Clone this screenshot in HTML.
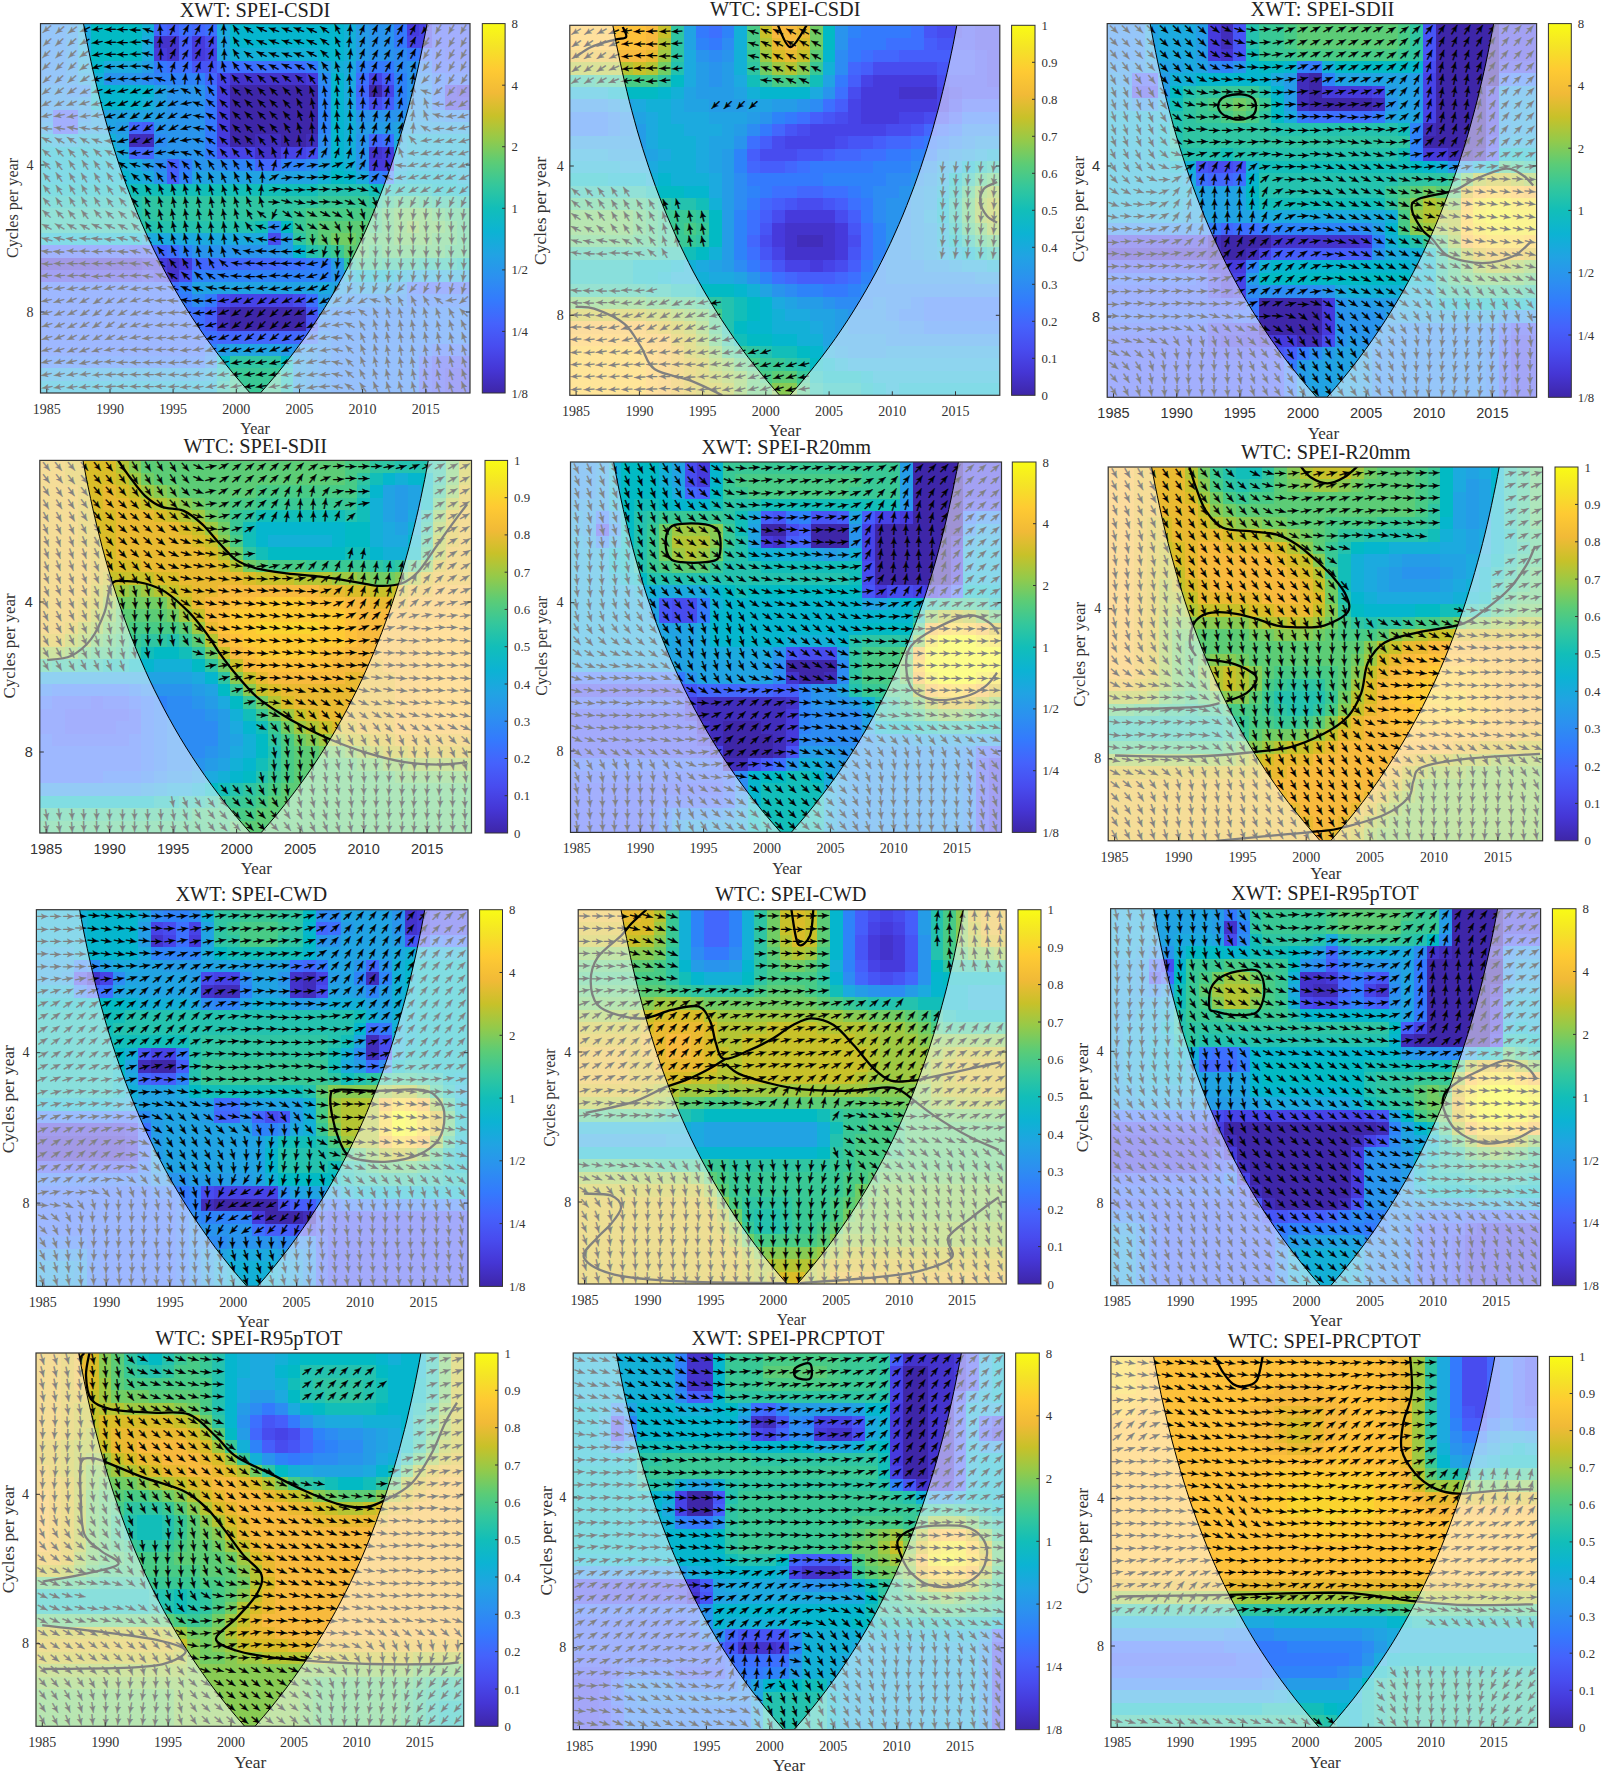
<!DOCTYPE html>
<html><head><meta charset="utf-8"><title>Wavelet coherence panels</title><style>
html,body{margin:0;padding:0;background:#fff}
svg text{font-family:"Liberation Serif",serif;fill:#333}
.a text{font-family:"DejaVu Sans",sans-serif;font-size:15.3px;fill:#000;stroke:#000;stroke-width:.38px}
.ct{fill:none;stroke:#000;stroke-width:2.3;stroke-linejoin:round}
.cl text{font-size:12.8px}
.xl text{font-size:14px;text-anchor:middle}
.xs text{font-family:"Liberation Sans",sans-serif;font-size:14.5px;text-anchor:middle}
.yl text{font-size:14px}
.ys text{font-family:"Liberation Sans",sans-serif;font-size:14.5px}
.ti{font-size:20.3px;text-anchor:middle;fill:#222}
.xa{text-anchor:middle}
.ya{text-anchor:middle}
</style></head><body>
<svg width="1601" height="1775" viewBox="0 0 1601 1775" style="display:block">
<defs><linearGradient id="cb" x1="0" y1="0" x2="0" y2="1"><stop offset="0" stop-color="#f9fb15"/><stop offset="0.0625" stop-color="#f5e327"/><stop offset="0.125" stop-color="#feca33"/><stop offset="0.1875" stop-color="#f1ba37"/><stop offset="0.25" stop-color="#c8c129"/><stop offset="0.3125" stop-color="#94ca4a"/><stop offset="0.375" stop-color="#5ccc76"/><stop offset="0.4375" stop-color="#34c79c"/><stop offset="0.5" stop-color="#12beb9"/><stop offset="0.5625" stop-color="#0cb3d3"/><stop offset="0.625" stop-color="#21a3e3"/><stop offset="0.6875" stop-color="#2c90f0"/><stop offset="0.75" stop-color="#347afd"/><stop offset="0.8125" stop-color="#4562fc"/><stop offset="0.875" stop-color="#484cef"/><stop offset="0.9375" stop-color="#4536d5"/><stop offset="1" stop-color="#3e26a8"/></linearGradient></defs>
<g transform="translate(40.5,23.6)">
<clipPath id="c0"><rect width="429.5" height="369.4"/></clipPath>
<g clip-path="url(#c0)">
<g transform="scale(12.6324,12.3133)" shape-rendering="crispEdges"><path fill="#3e26a8" d="M15 5h7v1h-7zM26 5h1v1h-1zM15 6h7v1h-7zM15 7h7v1h-7zM15 8h7v1h-7zM15 9h2v1h-2zM19 9h2v1h-2zM15 23h6v1h-6zM15 24h6v1h-6z"/><path fill="#412dbb" d="M7 9h2v1h-2zM17 9h2v1h-2zM21 9h1v1h-1zM14 23h1v1h-1zM14 24h1v1h-1z"/><path fill="#4433cc" d="M9 1h2v1h-2zM10 2h1v1h-1zM15 4h6v1h-6zM17 10h2v1h-2zM26 10h1v1h-1zM0 19h8v1h-8zM10 19h1v1h-1zM10 20h1v1h-1z"/><path fill="#463adc" d="M29 0h1v1h-1zM12 1h1v1h-1zM9 2h1v1h-1zM12 2h1v1h-1zM21 4h1v1h-1zM14 5h1v1h-1zM33 5h1v1h-1zM14 6h1v1h-1zM14 7h1v1h-1zM14 8h1v1h-1zM14 9h1v1h-1zM27 10h1v1h-1zM26 11h2v1h-2zM8 19h2v1h-2zM11 19h1v1h-1z"/><path fill="#4743e7" d="M30 0h1v1h-1zM29 1h2v1h-2zM13 2h1v1h-1zM14 4h1v1h-1zM26 4h1v1h-1zM27 5h1v1h-1zM32 5h1v1h-1zM32 6h2v1h-2zM15 10h2v1h-2zM19 10h2v1h-2zM0 20h8v1h-8zM9 20h1v1h-1zM15 22h5v1h-5z"/><path fill="#484cef" d="M13 1h1v1h-1zM26 6h1v1h-1zM14 10h1v1h-1zM21 10h1v1h-1zM18 17h1v1h-1zM8 20h1v1h-1zM11 20h1v1h-1zM14 22h1v1h-1zM20 22h1v1h-1zM32 28h2v1h-2zM32 29h2v1h-2z"/><path fill="#4755f6" d="M12 3h2v1h-2zM21 23h1v1h-1zM21 24h1v1h-1zM31 27h3v1h-3zM31 28h1v1h-1zM31 29h1v1h-1z"/><path fill="#465efb" d="M10 0h1v1h-1zM31 0h3v1h-3zM11 1h1v1h-1zM31 1h3v1h-3zM11 2h1v1h-1zM32 2h2v1h-2zM27 4h1v1h-1zM27 6h1v1h-1zM1 7h2v1h-2zM1 8h2v1h-2zM8 8h1v1h-1zM10 11h1v1h-1zM10 12h1v1h-1zM7 18h2v1h-2zM13 23h1v1h-1zM13 24h1v1h-1zM30 28h1v1h-1zM30 29h1v1h-1z"/><path fill="#4367fd" d="M9 0h1v1h-1zM12 0h1v1h-1zM31 2h1v1h-1zM31 3h3v1h-3zM13 4h1v1h-1zM25 5h1v1h-1zM7 8h1v1h-1zM26 9h1v1h-1zM7 10h2v1h-2zM17 11h2v1h-2zM0 18h7v1h-7zM9 18h1v1h-1zM12 19h7v1h-7zM30 21h4v1h-4zM14 25h7v1h-7zM30 27h1v1h-1z"/><path fill="#3d70ff" d="M11 0h1v1h-1zM13 0h1v1h-1zM30 2h1v1h-1zM10 3h2v1h-2zM14 3h7v1h-7zM25 4h1v1h-1zM32 4h2v1h-2zM25 6h1v1h-1zM27 9h1v1h-1zM10 18h1v1h-1zM19 19h2v1h-2zM0 21h11v1h-11zM29 21h1v1h-1zM0 22h11v1h-11zM21 22h1v1h-1zM0 23h13v1h-13zM0 24h13v1h-13zM0 25h14v1h-14zM21 25h1v1h-1zM0 26h13v1h-13zM31 26h3v1h-3z"/><path fill="#347afd" d="M28 0h1v1h-1zM28 1h1v1h-1zM29 2h1v1h-1zM9 3h1v1h-1zM21 3h1v1h-1zM26 3h2v1h-2zM31 4h1v1h-1zM13 5h1v1h-1zM31 5h1v1h-1zM13 6h1v1h-1zM31 6h1v1h-1zM13 7h1v1h-1zM13 8h1v1h-1zM13 9h1v1h-1zM13 10h1v1h-1zM11 11h1v1h-1zM27 12h1v1h-1zM21 19h2v1h-2zM11 22h1v1h-1zM13 22h1v1h-1zM29 22h5v1h-5zM30 26h1v1h-1zM0 27h13v1h-13z"/><path fill="#2e83f9" d="M25 3h1v1h-1zM30 3h1v1h-1zM9 4h4v1h-4zM28 4h1v1h-1zM22 5h1v1h-1zM28 5h1v1h-1zM22 6h1v1h-1zM28 6h1v1h-1zM22 7h1v1h-1zM22 8h1v1h-1zM15 11h2v1h-2zM19 11h2v1h-2zM11 12h1v1h-1zM26 12h1v1h-1zM11 18h1v1h-1zM12 20h11v1h-11zM11 21h1v1h-1zM23 23h11v1h-11zM22 24h12v1h-12zM23 25h11v1h-11zM13 26h1v1h-1zM23 26h7v1h-7zM23 27h7v1h-7zM23 28h7v1h-7zM23 29h7v1h-7z"/><path fill="#2d8cf3" d="M0 0h2v1h-2zM0 1h2v1h-2zM0 2h2v1h-2zM28 2h1v1h-1zM0 3h2v1h-2zM28 3h1v1h-1zM0 4h2v1h-2zM8 4h1v1h-1zM22 4h1v1h-1zM30 4h1v1h-1zM2 5h2v1h-2zM32 7h2v1h-2zM9 9h1v1h-1zM22 9h1v1h-1zM9 11h1v1h-1zM14 11h1v1h-1zM21 11h1v1h-1zM18 16h1v1h-1zM12 22h1v1h-1zM24 22h5v1h-5zM22 23h1v1h-1zM22 25h1v1h-1zM22 26h1v1h-1zM13 27h1v1h-1zM22 27h1v1h-1zM22 28h1v1h-1zM22 29h1v1h-1z"/><path fill="#2994ed" d="M2 0h1v1h-1zM26 0h2v1h-2zM2 1h1v1h-1zM26 1h2v1h-2zM2 2h1v1h-1zM26 2h2v1h-2zM2 3h1v1h-1zM29 3h1v1h-1zM2 4h1v1h-1zM5 4h3v1h-3zM29 4h1v1h-1zM0 5h2v1h-2zM10 5h3v1h-3zM29 5h2v1h-2zM0 6h3v1h-3zM10 6h3v1h-3zM29 6h2v1h-2zM0 7h1v1h-1zM3 7h1v1h-1zM10 7h3v1h-3zM25 7h4v1h-4zM31 7h1v1h-1zM9 8h4v1h-4zM10 9h3v1h-3zM25 9h1v1h-1zM9 10h4v1h-4zM22 10h1v1h-1zM25 10h1v1h-1zM12 11h2v1h-2zM25 11h1v1h-1zM9 12h1v1h-1zM12 18h7v1h-7zM23 20h1v1h-1zM28 21h1v1h-1zM23 22h1v1h-1zM20 26h2v1h-2zM21 27h1v1h-1zM21 28h1v1h-1zM21 29h1v1h-1z"/><path fill="#259ce7" d="M25 0h1v1h-1zM25 1h1v1h-1zM25 2h1v1h-1zM8 3h1v1h-1zM22 3h1v1h-1zM3 6h1v1h-1zM9 7h1v1h-1zM29 7h2v1h-2zM0 8h1v1h-1zM3 8h1v1h-1zM6 8h1v1h-1zM25 8h3v1h-3zM8 11h1v1h-1zM19 17h1v1h-1zM19 18h1v1h-1zM23 19h1v1h-1zM24 21h1v1h-1zM22 22h1v1h-1zM14 26h1v1h-1zM19 26h1v1h-1zM20 27h1v1h-1zM20 28h1v1h-1zM20 29h1v1h-1z"/><path fill="#21a3e3" d="M14 1h1v1h-1zM14 2h1v1h-1zM3 4h1v1h-1zM9 5h1v1h-1zM9 6h1v1h-1zM4 7h5v1h-5zM4 8h2v1h-2zM28 8h6v1h-6zM6 9h1v1h-1zM22 11h1v1h-1zM12 12h10v1h-10zM12 21h10v1h-10zM23 21h1v1h-1zM25 21h3v1h-3zM15 26h4v1h-4zM0 28h13v1h-13z"/><path fill="#1caadf" d="M3 0h1v1h-1zM14 0h1v1h-1zM3 1h1v1h-1zM8 1h1v1h-1zM3 2h1v1h-1zM8 2h1v1h-1zM3 3h1v1h-1zM5 3h3v1h-3zM24 3h1v1h-1zM24 4h1v1h-1zM24 5h1v1h-1zM24 6h1v1h-1zM1 9h2v1h-2zM28 9h1v1h-1zM6 10h1v1h-1zM28 10h1v1h-1zM7 11h1v1h-1zM28 11h1v1h-1zM8 12h1v1h-1zM25 12h1v1h-1zM8 17h10v1h-10zM29 20h5v1h-5zM22 21h1v1h-1zM13 28h1v1h-1z"/><path fill="#13b0d7" d="M8 0h1v1h-1zM24 0h1v1h-1zM24 1h1v1h-1zM15 2h7v1h-7zM24 2h1v1h-1zM23 3h1v1h-1zM4 4h1v1h-1zM8 6h1v1h-1zM24 7h1v1h-1zM24 8h1v1h-1zM0 9h1v1h-1zM3 9h3v1h-3zM24 9h1v1h-1zM29 9h5v1h-5zM24 10h1v1h-1zM29 10h5v1h-5zM6 11h1v1h-1zM24 11h1v1h-1zM29 11h5v1h-5zM7 12h1v1h-1zM22 12h1v1h-1zM28 12h1v1h-1zM33 12h1v1h-1zM24 20h1v1h-1zM28 20h1v1h-1zM0 29h14v1h-14z"/><path fill="#05b6ce" d="M15 0h9v1h-9zM15 1h9v1h-9zM22 2h2v1h-2zM4 3h1v1h-1zM23 4h1v1h-1zM4 5h5v1h-5zM23 5h1v1h-1zM4 6h4v1h-4zM23 6h1v1h-1zM23 7h1v1h-1zM23 8h1v1h-1zM23 9h1v1h-1zM0 10h6v1h-6zM23 10h1v1h-1zM0 11h6v1h-6zM23 11h1v1h-1zM0 12h7v1h-7zM24 12h1v1h-1zM29 12h4v1h-4zM33 13h1v1h-1zM0 17h8v1h-8zM20 18h1v1h-1zM25 20h3v1h-3z"/><path fill="#02bac4" d="M4 0h4v1h-4zM4 1h4v1h-4zM4 2h4v1h-4zM23 12h1v1h-1zM0 13h7v1h-7zM31 13h2v1h-2zM19 16h1v1h-1zM14 27h1v1h-1zM19 27h1v1h-1z"/><path fill="#12beb9" d="M7 13h15v1h-15zM26 13h5v1h-5zM0 14h7v1h-7zM17 16h1v1h-1zM33 19h1v1h-1zM14 28h1v1h-1zM19 28h1v1h-1zM19 29h1v1h-1z"/><path fill="#24c2ae" d="M22 13h4v1h-4zM7 14h1v1h-1zM33 14h1v1h-1zM0 15h8v1h-8zM0 16h17v1h-17zM21 18h1v1h-1zM30 19h3v1h-3zM14 29h1v1h-1z"/><path fill="#2fc5a2" d="M8 14h14v1h-14zM26 14h1v1h-1zM31 14h2v1h-2zM8 15h12v1h-12zM20 17h1v1h-1zM22 18h1v1h-1zM24 19h1v1h-1zM27 19h3v1h-3zM15 27h4v1h-4z"/><path fill="#39c895" d="M22 14h4v1h-4zM27 14h1v1h-1zM30 14h1v1h-1zM20 15h1v1h-1zM20 16h1v1h-1zM23 18h1v1h-1zM25 19h2v1h-2zM15 28h4v1h-4zM15 29h4v1h-4z"/><path fill="#48cb86" d="M28 14h2v1h-2zM21 15h6v1h-6zM32 15h2v1h-2zM21 16h1v1h-1zM26 16h1v1h-1zM33 16h1v1h-1zM21 17h1v1h-1zM33 17h1v1h-1zM26 18h1v1h-1zM32 18h2v1h-2z"/><path fill="#5ccc76" d="M27 15h1v1h-1zM31 15h1v1h-1zM22 16h4v1h-4zM27 16h1v1h-1zM32 16h1v1h-1zM22 17h1v1h-1zM25 17h3v1h-3zM31 17h2v1h-2zM24 18h2v1h-2zM27 18h5v1h-5z"/><path fill="#71cd64" d="M28 15h3v1h-3zM28 16h1v1h-1zM30 16h2v1h-2zM23 17h2v1h-2zM28 17h3v1h-3z"/><path fill="#88cb53" d="M29 16h1v1h-1z"/></g>
<g class="a"><text x="8 21 34 48 62 76 88 101 115 125 134 147 159 173 188 203 216 229 241 254 266 279 292 304 314 324 336 349 361 374 385 397 410 422" y="-2 -1 -1 -1 0 1 1 2 4 12 14 14 14 14 12 9 6 4 4 4 4 5 6 9 13 14 14 14 14 14 -2 -2 -2 -2" rotate="139 139 143 154 171 179 180 183 198 266 294 298 296 290 271 238 215 205 201 201 202 205 217 243 274 292 298 299 299 297 129 121 121 121">➛➛➛➛➛➛➛➛➛➛➛➛➛➛➛➛➛➛➛➛➛➛➛➛➛➛➛➛➛➛➛➛➛➛</text><text x="8 20 33 47 62 76 88 101 114 124 134 146 159 173 188 203 216 229 241 254 266 279 292 304 313 324 336 348 361 374 385 397 410 422" y="11 11 11 11 13 14 14 14 15 25 26 26 26 26 25 21 18 17 16 16 16 17 18 22 25 26 26 26 26 26 11 11 11 11" rotate="136 136 138 148 170 179 180 181 193 274 298 300 299 293 274 239 214 204 201 200 201 205 217 245 277 294 299 300 300 298 123 120 120 120">➛➛➛➛➛➛➛➛➛➛➛➛➛➛➛➛➛➛➛➛➛➛➛➛➛➛➛➛➛➛➛➛➛➛</text><text x="7 20 33 46 62 76 88 101 114 125 134 146 159 173 188 203 216 229 241 254 266 279 292 304 314 324 336 348 361 374 385 397 410 422" y="23 23 23 23 25 26 26 26 27 37 38 39 38 38 37 33 31 29 29 29 29 29 31 35 37 38 39 39 39 38 23 23 23 23" rotate="136 135 136 144 167 179 180 181 192 271 297 300 298 291 270 237 217 206 202 201 202 207 222 249 276 293 299 300 300 298 122 120 120 120">➛➛➛➛➛➛➛➛➛➛➛➛➛➛➛➛➛➛➛➛➛➛➛➛➛➛➛➛➛➛➛➛➛➛</text><text x="7 20 33 46 61 75 88 101 114 126 135 147 160 174 189 203 216 229 241 254 267 279 292 303 314 325 336 349 361 375 385 397 410 422" y="35 35 35 36 37 38 38 38 40 48 51 51 51 50 48 45 44 43 42 41 42 43 45 48 50 50 51 51 51 51 35 35 35 35" rotate="136 135 136 144 163 176 179 181 192 252 290 295 293 282 257 234 221 213 208 205 208 217 234 254 273 287 295 298 298 293 124 121 120 121">➛➛➛➛➛➛➛➛➛➛➛➛➛➛➛➛➛➛➛➛➛➛➛➛➛➛➛➛➛➛➛➛➛➛</text><text x="8 20 33 47 61 75 88 100 113 127 139 149 162 176 190 203 216 229 242 254 267 279 291 303 314 326 337 350 362 376 386 397 410 423" y="48 48 48 48 49 50 50 50 50 53 60 62 62 61 58 57 56 56 56 55 56 58 59 61 62 62 63 63 63 62 48 48 48 48" rotate="138 137 139 147 161 171 175 175 178 198 253 275 275 261 241 229 224 222 219 218 222 234 249 260 269 279 287 291 291 281 134 123 122 123">➛➛➛➛➛➛➛➛➛➛➛➛➛➛➛➛➛➛➛➛➛➛➛➛➛➛➛➛➛➛➛➛➛➛</text><text x="8 21 34 48 61 74 87 99 111 124 138 153 165 178 191 204 216 229 241 254 266 278 290 302 315 326 338 350 363 377 393 399 411 423" y="60 60 60 61 61 62 61 61 61 61 62 66 70 70 69 69 69 69 69 69 70 72 73 73 74 74 75 75 75 74 66 60 60 60" rotate="142 143 146 153 161 166 164 159 155 158 172 208 234 235 230 226 225 225 225 227 235 249 260 264 267 274 281 284 284 276 201 137 130 129">➛➛➛➛➛➛➛➛➛➛➛➛➛➛➛➛➛➛➛➛➛➛➛➛➛➛➛➛➛➛➛➛➛➛</text><text x="9 22 35 48 61 74 86 98 110 123 136 151 165 178 191 204 216 229 241 254 266 278 290 302 315 327 338 350 363 376 392 404 414 425" y="73 73 73 73 74 74 73 73 73 73 73 74 78 80 81 81 81 81 81 82 83 85 86 86 86 86 87 87 87 87 84 76 73 73" rotate="151 152 156 160 164 162 155 149 147 147 153 170 201 221 225 225 225 225 225 229 242 258 264 265 266 273 282 286 285 278 252 182 153 145">➛➛➛➛➛➛➛➛➛➛➛➛➛➛➛➛➛➛➛➛➛➛➛➛➛➛➛➛➛➛➛➛➛➛</text><text x="11 24 37 50 62 74 85 97 110 122 135 150 165 178 191 204 216 229 241 254 266 277 290 302 315 326 338 350 363 376 392 405 416 427" y="86 86 87 87 86 86 85 85 85 85 85 86 89 92 93 93 93 93 93 94 96 98 98 98 98 99 100 100 100 99 96 89 87 86" rotate="166 168 170 172 169 161 152 147 145 145 149 161 189 214 223 225 225 225 226 231 248 262 265 265 266 275 287 289 288 280 249 196 171 161">➛➛➛➛➛➛➛➛➛➛➛➛➛➛➛➛➛➛➛➛➛➛➛➛➛➛➛➛➛➛➛➛➛➛</text><text x="13 26 39 51 63 74 86 97 110 123 136 150 165 178 191 204 216 229 241 254 265 277 289 302 315 326 337 350 363 377 393 404 416 428" y="101 101 101 101 100 99 98 97 97 97 97 98 101 104 105 106 106 106 106 107 109 110 110 110 111 111 112 112 112 111 104 100 99 98" rotate="187 189 191 189 180 167 154 148 146 146 150 163 188 212 223 225 226 226 228 237 253 264 265 265 267 278 289 290 289 275 211 177 168 164">➛➛➛➛➛➛➛➛➛➛➛➛➛➛➛➛➛➛➛➛➛➛➛➛➛➛➛➛➛➛➛➛➛➛</text><text x="14 27 39 52 64 76 87 98 110 123 137 151 165 178 191 204 216 229 241 253 264 276 289 302 314 326 337 350 363 380 391 403 415 428" y="115 116 116 116 115 113 111 110 110 110 110 111 114 117 118 118 118 119 119 121 123 123 123 123 123 124 124 124 124 118 111 111 111 111" rotate="207 211 213 211 201 183 165 154 150 151 157 173 196 215 224 227 228 230 235 247 265 272 270 269 272 281 288 289 284 228 170 164 163 162">➛➛➛➛➛➛➛➛➛➛➛➛➛➛➛➛➛➛➛➛➛➛➛➛➛➛➛➛➛➛➛➛➛➛</text><text x="14 27 39 52 65 77 89 100 112 125 139 153 166 178 191 203 216 228 240 250 260 272 285 299 312 325 338 351 367 378 390 402 415 427" y="130 130 131 131 130 128 125 124 123 123 124 127 129 130 131 131 131 132 133 136 137 137 137 137 137 137 136 136 133 124 123 123 123 123" rotate="221 226 228 228 223 209 188 171 165 167 178 197 214 224 229 231 233 238 250 275 300 306 300 291 286 285 285 281 249 171 161 160 161 160">➛➛➛➛➛➛➛➛➛➛➛➛➛➛➛➛➛➛➛➛➛➛➛➛➛➛➛➛➛➛➛➛➛➛</text><text x="14 26 39 52 64 77 90 102 115 128 140 153 165 178 191 203 216 227 237 244 254 267 279 293 308 323 338 353 367 377 389 402 415 427" y="143 144 144 144 144 143 141 139 139 140 141 143 144 144 144 144 145 146 149 149 148 148 148 148 149 149 149 147 138 135 135 135 135 135" rotate="228 233 236 237 235 227 214 200 196 203 217 228 235 237 237 238 241 252 286 326 343 347 345 338 322 302 285 257 187 163 160 160 160 158">➛➛➛➛➛➛➛➛➛➛➛➛➛➛➛➛➛➛➛➛➛➛➛➛➛➛➛➛➛➛➛➛➛➛</text><text x="14 26 39 51 64 77 90 103 115 127 140 152 165 177 190 203 215 226 231 241 253 266 278 291 304 318 334 355 365 377 389 402 414 427" y="156 156 157 157 157 156 155 154 155 156 157 158 158 158 158 157 158 160 161 160 159 159 159 159 159 160 162 152 148 147 147 147 147 147" rotate="232 236 239 239 239 235 227 221 224 235 244 248 249 248 246 245 248 270 327 352 356 356 355 355 352 342 312 203 167 160 160 159 157 154">➛➛➛➛➛➛➛➛➛➛➛➛➛➛➛➛➛➛➛➛➛➛➛➛➛➛➛➛➛➛➛➛➛➛</text><text x="14 26 39 51 64 77 90 102 115 127 139 151 164 177 190 202 215 225 229 240 253 266 278 291 303 315 327 346 362 376 388 401 413 425" y="168 169 169 169 169 169 168 168 169 170 171 171 171 171 171 170 170 173 172 171 171 171 171 171 170 169 166 159 159 159 159 159 159 159" rotate="232 237 239 240 239 236 231 230 238 249 255 257 256 254 252 249 250 275 348 3 1 356 356 358 5 15 40 117 144 149 150 149 145 140">➛➛➛➛➛➛➛➛➛➛➛➛➛➛➛➛➛➛➛➛➛➛➛➛➛➛➛➛➛➛➛➛➛➛</text><text x="14 26 39 51 64 77 90 102 114 126 139 151 164 177 189 202 215 227 227 239 252 265 278 290 302 314 328 343 358 371 384 396 409 421" y="180 181 181 181 181 181 180 181 182 183 184 184 184 184 183 183 182 183 183 181 182 183 183 183 181 178 175 172 171 171 171 171 171 171" rotate="229 235 238 239 238 233 229 233 244 254 259 260 259 258 256 252 246 253 4 16 14 7 1 7 22 44 67 93 112 118 117 114 113 114">➛➛➛➛➛➛➛➛➛➛➛➛➛➛➛➛➛➛➛➛➛➛➛➛➛➛➛➛➛➛➛➛➛➛</text><text x="14 27 39 52 65 77 90 102 114 126 138 151 164 176 189 202 216 229 232 239 251 264 277 289 302 316 329 342 356 369 381 394 406 419" y="191 192 193 193 192 192 192 193 194 196 196 196 196 196 196 195 194 191 183 191 192 192 192 192 188 186 186 185 184 184 184 184 184 184" rotate="222 227 231 232 229 224 222 230 245 255 259 260 260 260 260 254 241 219 115 35 29 29 27 30 56 73 80 89 97 98 95 94 95 98">➛➛➛➛➛➛➛➛➛➛➛➛➛➛➛➛➛➛➛➛➛➛➛➛➛➛➛➛➛➛➛➛➛➛</text><text x="14 27 39 52 64 77 90 103 115 126 139 151 164 176 189 202 216 228 239 248 251 264 276 290 304 317 330 343 356 368 381 393 406 419" y="202 202 202 202 201 201 202 204 206 208 208 208 209 209 209 208 205 201 198 196 203 204 204 200 198 197 197 197 197 197 197 197 197 197" rotate="209 211 210 208 205 204 209 222 240 253 258 259 261 264 263 256 232 200 175 143 42 31 33 60 84 87 87 89 93 92 91 90 91 93">➛➛➛➛➛➛➛➛➛➛➛➛➛➛➛➛➛➛➛➛➛➛➛➛➛➛➛➛➛➛➛➛➛➛</text><text x="14 26 38 51 63 76 89 102 115 127 139 151 164 176 189 202 216 228 240 252 265 267 277 291 305 317 330 343 355 368 381 393 406 419" y="213 212 212 211 211 212 212 214 217 219 220 220 221 221 221 220 215 212 211 211 210 210 213 210 209 209 209 209 209 209 209 209 209 209" rotate="196 194 190 186 185 187 194 208 229 246 254 257 262 265 264 250 212 189 179 178 174 87 60 83 90 90 89 90 92 91 90 90 90 92">➛➛➛➛➛➛➛➛➛➛➛➛➛➛➛➛➛➛➛➛➛➛➛➛➛➛➛➛➛➛➛➛➛➛</text><text x="13 25 38 50 63 76 89 102 115 128 140 152 164 176 189 204 215 227 240 252 265 277 281 292 305 317 330 343 355 368 381 393 406 419" y="224 224 223 223 223 223 224 225 227 230 231 232 233 233 233 228 224 223 223 223 223 222 221 222 222 222 222 222 221 221 222 222 222 221" rotate="187 185 182 181 180 181 185 195 214 234 246 252 258 260 255 218 188 183 180 180 179 167 105 89 90 90 90 91 92 92 91 90 91 92">➛➛➛➛➛➛➛➛➛➛➛➛➛➛➛➛➛➛➛➛➛➛➛➛➛➛➛➛➛➛➛➛➛➛</text><text x="13 25 38 50 63 76 88 101 115 128 140 152 165 178 191 203 215 227 240 252 265 277 284 293 305 317 330 343 356 368 381 393 406 419" y="236 235 235 235 235 235 235 236 238 240 242 243 244 243 240 236 235 235 235 235 235 234 232 233 234 234 234 234 234 234 234 234 234 234" rotate="182 180 180 180 180 180 181 186 200 218 232 241 245 242 220 188 181 180 179 179 178 168 127 96 91 91 91 93 94 93 92 92 92 93">➛➛➛➛➛➛➛➛➛➛➛➛➛➛➛➛➛➛➛➛➛➛➛➛➛➛➛➛➛➛➛➛➛➛</text><text x="12 25 38 50 63 75 88 101 114 128 140 153 166 178 190 202 215 227 240 252 264 276 285 294 306 318 331 344 356 369 381 394 406 419" y="247 247 247 247 248 247 247 247 249 250 252 253 253 252 249 248 248 248 247 247 247 246 245 245 246 246 246 246 246 246 246 246 246 246" rotate="177 176 177 178 179 177 175 178 188 202 215 223 223 214 195 182 180 180 177 175 172 163 137 108 97 95 96 98 100 98 96 95 95 97">➛➛➛➛➛➛➛➛➛➛➛➛➛➛➛➛➛➛➛➛➛➛➛➛➛➛➛➛➛➛➛➛➛➛</text><text x="12 24 37 49 61 74 87 100 113 127 140 153 165 178 190 202 214 227 239 251 264 276 286 296 307 319 332 347 361 373 384 395 408 420" y="259 259 259 259 258 258 258 259 260 261 262 263 263 261 260 260 259 259 259 259 259 258 257 257 257 257 257 257 257 257 257 257 258 258" rotate="172 170 168 167 164 162 164 168 177 188 198 203 201 192 182 176 175 172 168 167 165 159 144 125 112 108 110 121 134 130 116 108 105 105">➛➛➛➛➛➛➛➛➛➛➛➛➛➛➛➛➛➛➛➛➛➛➛➛➛➛➛➛➛➛➛➛➛➛</text><text x="11 23 35 47 60 72 85 99 113 126 139 152 164 176 188 200 211 224 236 250 263 275 287 299 311 325 342 355 367 380 393 406 416 425" y="271 271 270 270 270 270 270 270 271 272 273 273 273 272 271 270 270 270 270 270 270 270 270 269 269 270 274 279 281 281 280 277 271 269" rotate="167 162 157 151 147 148 153 160 169 178 185 188 185 177 167 158 150 146 148 153 157 156 150 142 138 148 196 234 244 245 239 218 171 140">➛➛➛➛➛➛➛➛➛➛➛➛➛➛➛➛➛➛➛➛➛➛➛➛➛➛➛➛➛➛➛➛➛➛</text><text x="11 23 35 47 59 72 85 99 112 126 139 151 164 175 187 198 210 222 235 249 262 275 288 301 315 330 342 354 366 379 391 404 418 431" y="283 283 282 282 282 282 282 283 283 284 284 284 284 283 282 282 282 282 282 282 282 282 282 283 284 289 293 294 294 294 294 294 293 290" rotate="163 158 152 147 145 146 149 157 166 173 178 179 174 166 156 145 137 136 138 144 151 154 156 160 176 218 245 254 256 257 255 251 243 225">➛➛➛➛➛➛➛➛➛➛➛➛➛➛➛➛➛➛➛➛➛➛➛➛➛➛➛➛➛➛➛➛➛➛</text><text x="11 23 35 47 59 72 85 99 112 126 138 151 163 175 186 198 210 222 235 248 262 275 289 303 317 329 341 353 366 378 391 404 417 430" y="295 295 295 294 294 294 295 295 296 296 296 296 296 295 295 294 294 294 294 294 294 295 295 296 300 305 306 307 307 307 307 307 306 305" rotate="161 157 152 148 146 147 151 160 168 173 175 174 170 162 153 143 137 135 137 143 149 155 161 174 207 240 254 258 259 259 258 256 252 245">➛➛➛➛➛➛➛➛➛➛➛➛➛➛➛➛➛➛➛➛➛➛➛➛➛➛➛➛➛➛➛➛➛➛</text><text x="11 23 35 47 60 73 86 100 113 126 138 151 163 175 187 199 211 223 236 249 262 276 289 303 317 329 341 353 366 378 391 404 417 430" y="308 307 307 307 307 307 308 308 309 309 309 308 308 308 307 307 306 306 306 307 307 307 308 310 314 318 319 319 319 319 319 319 319 318" rotate="162 158 154 151 151 154 162 169 173 175 174 173 168 162 156 150 143 141 143 147 152 158 166 185 221 247 257 259 260 260 259 258 255 250">➛➛➛➛➛➛➛➛➛➛➛➛➛➛➛➛➛➛➛➛➛➛➛➛➛➛➛➛➛➛➛➛➛➛</text><text x="11 23 36 48 61 74 88 101 113 126 138 151 163 175 188 200 213 225 238 250 263 276 290 304 317 329 341 353 366 378 391 404 417 430" y="320 320 320 320 320 320 321 321 321 321 321 321 320 320 320 320 320 320 319 319 320 320 321 323 327 330 331 332 332 332 332 331 331 331" rotate="164 161 159 159 161 167 175 178 178 177 176 173 169 165 163 162 162 160 157 156 157 162 171 192 226 248 257 259 260 260 259 258 256 252">➛➛➛➛➛➛➛➛➛➛➛➛➛➛➛➛➛➛➛➛➛➛➛➛➛➛➛➛➛➛➛➛➛➛</text><text x="11 24 36 49 62 75 88 101 114 126 139 151 163 176 188 201 214 226 239 251 263 276 290 304 317 329 341 353 366 378 391 404 417 430" y="332 332 332 333 333 333 334 334 334 334 334 333 333 333 333 333 333 333 333 332 332 332 333 336 340 342 343 344 344 344 344 344 343 343" rotate="166 165 165 166 170 176 179 180 180 179 177 174 170 167 167 168 169 169 166 163 163 165 174 194 225 247 256 259 259 259 259 258 255 252">➛➛➛➛➛➛➛➛➛➛➛➛➛➛➛➛➛➛➛➛➛➛➛➛➛➛➛➛➛➛➛➛➛➛</text><text x="11 24 37 50 63 76 88 101 114 126 139 151 163 176 188 201 214 226 239 251 264 277 290 304 317 329 341 353 366 379 391 404 417 430" y="345 345 345 345 346 346 346 346 346 346 346 346 345 345 345 345 345 345 345 345 345 345 346 348 351 354 355 356 356 356 356 356 356 355" rotate="168 168 169 171 175 178 180 180 180 179 177 174 171 169 169 169 170 170 169 167 166 168 176 194 221 242 252 257 258 258 258 256 254 250">➛➛➛➛➛➛➛➛➛➛➛➛➛➛➛➛➛➛➛➛➛➛➛➛➛➛➛➛➛➛➛➛➛➛</text><text x="12 24 37 50 63 76 88 101 114 126 139 151 163 176 188 201 214 226 239 251 264 277 290 304 317 330 342 354 366 379 391 404 417 430" y="358 358 358 358 358 358 358 358 358 358 358 358 358 357 357 357 357 357 357 357 357 358 358 360 363 366 367 368 368 368 368 368 368 367" rotate="170 171 172 174 176 178 179 180 180 179 177 174 171 169 169 169 170 170 169 168 168 170 178 192 215 235 247 253 255 256 255 254 251 248">➛➛➛➛➛➛➛➛➛➛➛➛➛➛➛➛➛➛➛➛➛➛➛➛➛➛➛➛➛➛➛➛➛➛</text></g>
<path d="M0 0H429.5V369.4H0zM43 0L44.7 9.5L46.6 18.9L48.5 28.4L50.5 37.9L52.6 47.4L54.8 56.8L57.1 66.3L59.5 75.8L61.9 85.2L64.5 94.7L67.2 104.2L70 113.7L72.9 123.1L75.9 132.6L79 142.1L82.3 151.5L85.7 161L89.3 170.5L93 180L96.8 189.4L100.8 198.9L105 208.4L109.4 217.9L113.9 227.3L118.7 236.8L123.6 246.3L128.7 255.7L134 265.2L139.6 274.7L145.4 284.2L151.4 293.6L157.7 303.1L164.2 312.6L171.1 322L178.2 331.5L185.5 341L193.2 350.5L201.3 359.9L209.6 369.4L219.9 369.4L228.2 359.9L236.3 350.5L244 341L251.3 331.5L258.4 322L265.3 312.6L271.8 303.1L278.1 293.6L284.1 284.2L289.9 274.7L295.5 265.2L300.8 255.7L305.9 246.3L310.8 236.8L315.6 227.3L320.1 217.9L324.5 208.4L328.7 198.9L332.7 189.4L336.5 180L340.2 170.5L343.8 161L347.2 151.5L350.5 142.1L353.6 132.6L356.6 123.1L359.5 113.7L362.3 104.2L365 94.7L367.6 85.2L370 75.8L372.4 66.3L374.7 56.8L376.9 47.4L379 37.9L381 28.4L382.9 18.9L384.8 9.5L386.6 0z" fill="#fff" fill-opacity="0.5" fill-rule="evenodd"/>
<path d="M43 0L44.7 9.5L46.6 18.9L48.5 28.4L50.5 37.9L52.6 47.4L54.8 56.8L57.1 66.3L59.5 75.8L61.9 85.2L64.5 94.7L67.2 104.2L70 113.7L72.9 123.1L75.9 132.6L79 142.1L82.3 151.5L85.7 161L89.3 170.5L93 180L96.8 189.4L100.8 198.9L105 208.4L109.4 217.9L113.9 227.3L118.7 236.8L123.6 246.3L128.7 255.7L134 265.2L139.6 274.7L145.4 284.2L151.4 293.6L157.7 303.1L164.2 312.6L171.1 322L178.2 331.5L185.5 341L193.2 350.5L201.3 359.9L209.6 369.4L219.9 369.4L228.2 359.9L236.3 350.5L244 341L251.3 331.5L258.4 322L265.3 312.6L271.8 303.1L278.1 293.6L284.1 284.2L289.9 274.7L295.5 265.2L300.8 255.7L305.9 246.3L310.8 236.8L315.6 227.3L320.1 217.9L324.5 208.4L328.7 198.9L332.7 189.4L336.5 180L340.2 170.5L343.8 161L347.2 151.5L350.5 142.1L353.6 132.6L356.6 123.1L359.5 113.7L362.3 104.2L365 94.7L367.6 85.2L370 75.8L372.4 66.3L374.7 56.8L376.9 47.4L379 37.9L381 28.4L382.9 18.9L384.8 9.5L386.6 0" fill="none" stroke="#000" stroke-width="1"/>
</g>
<path d="M6.3 369.4v-4M69.5 369.4v-4M132.6 369.4v-4M195.8 369.4v-4M259 369.4v-4M322.1 369.4v-4M385.3 369.4v-4M0 141.4h4M429.5 141.4h-4M0 288.4h4M429.5 288.4h-4" stroke="#333" fill="none" stroke-width="1"/>
<rect x="0" y="0" width="429.5" height="369.4" fill="none" stroke="#333" stroke-width="1.2"/>
</g>
<rect x="482.3" y="23.6" width="22.8" height="369.4" fill="url(#cb)" stroke="#333" stroke-width="1"/>
<path d="M505.1 85.2h-3M505.1 146.7h-3M505.1 208.3h-3M505.1 269.9h-3M505.1 331.4h-3" stroke="#333" fill="none"/>
<g class="cl"><text x="511.6" y="28.1">8</text><text x="511.6" y="89.7">4</text><text x="511.6" y="151.2">2</text><text x="511.6" y="212.8">1</text><text x="511.6" y="274.4">1/2</text><text x="511.6" y="335.9">1/4</text><text x="511.6" y="397.5">1/8</text></g>
<g class="xl"><text x="46.8" y="414">1985</text><text x="110" y="414">1990</text><text x="173.1" y="414">1995</text><text x="236.3" y="414">2000</text><text x="299.5" y="414">2005</text><text x="362.6" y="414">2010</text><text x="425.8" y="414">2015</text></g>
<g class="yl" text-anchor="end"><text x="33.5" y="169.5">4</text><text x="33.5" y="316.5">8</text></g>
<text class="ti" x="255" y="16.5">XWT: SPEI-CSDI</text>
<text class="xa" font-size="16.1" x="255" y="433.5">Year</text>
<text class="ya" font-size="16.1" transform="translate(18,208) rotate(-90)">Cycles per year</text>
<g transform="translate(569.8,25.3)">
<clipPath id="c1"><rect width="430" height="370"/></clipPath>
<g clip-path="url(#c1)">
<g transform="scale(12.6471,12.3333)" shape-rendering="crispEdges"><path fill="#412dbb" d="M18 17h2v1h-2z"/><path fill="#4433cc" d="M26 5h3v1h-3zM17 16h4v1h-4zM17 17h1v1h-1zM20 17h1v1h-1zM17 18h4v1h-4z"/><path fill="#463adc" d="M24 4h5v1h-5zM23 5h3v1h-3zM23 6h6v1h-6zM23 7h3v1h-3zM17 15h4v1h-4zM16 16h1v1h-1zM21 16h1v1h-1zM16 17h1v1h-1zM21 17h1v1h-1zM21 18h1v1h-1zM19 19h1v1h-1z"/><path fill="#4743e7" d="M23 4h1v1h-1zM29 5h1v1h-1zM22 6h1v1h-1zM29 6h1v1h-1zM22 7h1v1h-1zM26 7h2v1h-2zM19 8h6v1h-6zM17 9h4v1h-4zM16 18h1v1h-1zM17 19h2v1h-2zM20 19h1v1h-1z"/><path fill="#484cef" d="M29 0h2v1h-2zM32 0h2v1h-2zM32 1h2v1h-2zM33 2h1v1h-1zM24 3h5v1h-5zM33 3h1v1h-1zM29 4h1v1h-1zM33 4h1v1h-1zM22 5h1v1h-1zM30 5h1v1h-1zM21 7h1v1h-1zM28 7h1v1h-1zM18 8h1v1h-1zM25 8h2v1h-2zM16 9h1v1h-1zM21 9h1v1h-1zM15 10h3v1h-3zM18 14h2v1h-2zM16 15h1v1h-1zM21 15h1v1h-1zM15 17h1v1h-1zM22 17h1v1h-1zM21 19h1v1h-1z"/><path fill="#4755f6" d="M28 0h1v1h-1zM31 0h1v1h-1zM29 1h3v1h-3zM32 2h1v1h-1zM29 3h1v1h-1zM32 3h1v1h-1zM30 4h3v1h-3zM31 5h3v1h-3zM30 6h1v1h-1zM20 7h1v1h-1zM29 7h1v1h-1zM17 8h1v1h-1zM27 8h1v1h-1zM22 9h2v1h-2zM18 10h2v1h-2zM17 14h1v1h-1zM20 14h1v1h-1zM15 16h1v1h-1zM22 16h1v1h-1zM15 18h1v1h-1zM22 18h1v1h-1zM16 19h1v1h-1z"/><path fill="#465efb" d="M28 1h1v1h-1zM26 2h6v1h-6zM23 3h1v1h-1zM30 3h2v1h-2zM22 4h1v1h-1zM21 6h1v1h-1zM19 7h1v1h-1zM15 9h1v1h-1zM24 9h1v1h-1zM14 10h1v1h-1zM20 10h1v1h-1zM15 11h2v1h-2zM16 14h1v1h-1zM21 14h1v1h-1zM15 15h1v1h-1zM22 15h1v1h-1zM22 19h1v1h-1zM18 20h3v1h-3z"/><path fill="#4367fd" d="M24 2h2v1h-2zM22 3h1v1h-1zM31 6h3v1h-3zM30 7h1v1h-1zM16 8h1v1h-1zM28 8h1v1h-1zM25 9h2v1h-2zM21 10h2v1h-2zM14 11h1v1h-1zM17 11h1v1h-1zM18 13h2v1h-2zM15 14h1v1h-1zM14 17h1v1h-1zM15 19h1v1h-1zM17 20h1v1h-1zM21 20h1v1h-1z"/><path fill="#3d70ff" d="M11 0h1v1h-1zM27 0h1v1h-1zM25 1h3v1h-3zM23 2h1v1h-1zM21 5h1v1h-1zM20 6h1v1h-1zM18 7h1v1h-1zM29 8h1v1h-1zM14 9h1v1h-1zM27 9h1v1h-1zM23 10h2v1h-2zM18 11h1v1h-1zM16 13h2v1h-2zM20 13h2v1h-2zM22 14h1v1h-1zM14 15h1v1h-1zM14 16h1v1h-1zM23 16h1v1h-1zM23 17h1v1h-1zM14 18h1v1h-1zM23 18h1v1h-1zM16 20h1v1h-1zM22 20h1v1h-1z"/><path fill="#347afd" d="M10 0h1v1h-1zM23 0h4v1h-4zM11 1h1v1h-1zM22 1h3v1h-3zM22 2h1v1h-1zM21 4h1v1h-1zM17 7h1v1h-1zM31 7h3v1h-3zM15 8h1v1h-1zM30 8h1v1h-1zM28 9h1v1h-1zM25 10h2v1h-2zM19 11h5v1h-5zM14 12h6v1h-6zM15 13h1v1h-1zM22 13h1v1h-1zM14 14h1v1h-1zM23 14h1v1h-1zM23 15h1v1h-1zM14 19h1v1h-1zM23 19h1v1h-1zM20 21h2v1h-2zM28 22h6v1h-6zM28 23h6v1h-6z"/><path fill="#2e83f9" d="M12 0h1v1h-1zM22 0h1v1h-1zM10 1h1v1h-1zM0 7h3v1h-3zM16 7h1v1h-1zM0 8h3v1h-3zM29 9h1v1h-1zM13 10h1v1h-1zM27 10h2v1h-2zM13 11h1v1h-1zM24 11h3v1h-3zM20 12h5v1h-5zM14 13h1v1h-1zM23 13h1v1h-1zM13 15h1v1h-1zM13 16h1v1h-1zM24 16h1v1h-1zM13 17h1v1h-1zM24 17h1v1h-1zM13 18h1v1h-1zM24 18h1v1h-1zM15 20h1v1h-1zM23 20h1v1h-1zM18 21h2v1h-2zM22 21h1v1h-1zM27 22h1v1h-1zM26 23h2v1h-2zM28 24h6v1h-6z"/><path fill="#2d8cf3" d="M12 1h1v1h-1zM11 2h1v1h-1zM21 2h1v1h-1zM21 3h1v1h-1zM19 6h1v1h-1zM3 7h1v1h-1zM3 8h1v1h-1zM14 8h1v1h-1zM31 8h3v1h-3zM30 9h1v1h-1zM27 11h1v1h-1zM13 12h1v1h-1zM25 12h2v1h-2zM13 13h1v1h-1zM24 13h2v1h-2zM13 14h1v1h-1zM24 14h1v1h-1zM24 15h1v1h-1zM13 19h1v1h-1zM24 19h1v1h-1zM24 20h1v1h-1zM17 21h1v1h-1zM23 21h11v1h-11zM21 22h3v1h-3zM25 22h2v1h-2zM25 23h1v1h-1zM26 24h2v1h-2z"/><path fill="#2994ed" d="M21 0h1v1h-1zM21 1h1v1h-1zM10 2h1v1h-1zM12 2h1v1h-1zM11 3h1v1h-1zM11 4h1v1h-1zM20 5h1v1h-1zM0 6h3v1h-3zM18 6h1v1h-1zM4 7h1v1h-1zM15 7h1v1h-1zM4 8h1v1h-1zM13 9h1v1h-1zM31 9h1v1h-1zM29 10h1v1h-1zM28 11h1v1h-1zM27 12h1v1h-1zM26 13h1v1h-1zM25 14h2v1h-2zM25 15h2v1h-2zM25 16h2v1h-2zM25 17h2v1h-2zM25 18h2v1h-2zM25 19h3v1h-3zM14 20h1v1h-1zM25 20h7v1h-7zM16 21h1v1h-1zM20 22h1v1h-1zM24 22h1v1h-1zM22 23h3v1h-3zM22 24h4v1h-4zM25 25h9v1h-9z"/><path fill="#259ce7" d="M10 3h1v1h-1zM12 3h1v1h-1zM10 4h1v1h-1zM12 4h1v1h-1zM10 5h3v1h-3zM3 6h1v1h-1zM11 6h3v1h-3zM16 6h2v1h-2zM14 7h1v1h-1zM5 8h1v1h-1zM13 8h1v1h-1zM0 9h6v1h-6zM32 9h2v1h-2zM12 10h1v1h-1zM30 10h1v1h-1zM12 11h1v1h-1zM12 12h1v1h-1zM28 12h1v1h-1zM12 13h1v1h-1zM27 13h1v1h-1zM12 14h1v1h-1zM27 14h1v1h-1zM12 15h1v1h-1zM27 15h1v1h-1zM12 16h1v1h-1zM27 16h1v1h-1zM12 17h1v1h-1zM27 17h1v1h-1zM12 18h1v1h-1zM27 18h1v1h-1zM12 19h1v1h-1zM28 19h2v1h-2zM32 20h2v1h-2zM18 22h2v1h-2zM21 23h1v1h-1zM21 24h1v1h-1zM21 25h4v1h-4zM22 26h3v1h-3z"/><path fill="#21a3e3" d="M9 0h1v1h-1zM9 1h1v1h-1zM20 4h1v1h-1zM9 5h1v1h-1zM13 5h1v1h-1zM4 6h1v1h-1zM9 6h2v1h-2zM14 6h2v1h-2zM5 7h1v1h-1zM11 7h3v1h-3zM12 8h1v1h-1zM11 9h2v1h-2zM3 10h4v1h-4zM11 10h1v1h-1zM31 10h1v1h-1zM11 11h1v1h-1zM29 11h1v1h-1zM28 13h1v1h-1zM28 14h1v1h-1zM28 16h1v1h-1zM28 17h1v1h-1zM28 18h1v1h-1zM11 19h1v1h-1zM30 19h1v1h-1zM13 20h1v1h-1zM15 21h1v1h-1zM17 22h1v1h-1zM19 23h2v1h-2zM20 24h1v1h-1zM20 25h1v1h-1zM21 26h1v1h-1zM25 26h9v1h-9z"/><path fill="#1caadf" d="M9 2h1v1h-1zM9 3h1v1h-1zM9 4h1v1h-1zM13 4h1v1h-1zM19 5h1v1h-1zM5 6h1v1h-1zM8 6h1v1h-1zM6 7h1v1h-1zM8 7h3v1h-3zM6 8h1v1h-1zM9 8h3v1h-3zM6 9h1v1h-1zM10 9h1v1h-1zM0 10h3v1h-3zM7 10h1v1h-1zM10 10h1v1h-1zM32 10h1v1h-1zM4 11h3v1h-3zM10 11h1v1h-1zM30 11h1v1h-1zM11 12h1v1h-1zM29 12h1v1h-1zM11 13h1v1h-1zM28 15h1v1h-1zM29 18h1v1h-1zM10 19h1v1h-1zM31 19h2v1h-2zM11 20h2v1h-2zM16 22h1v1h-1zM17 23h2v1h-2zM19 24h1v1h-1zM20 26h1v1h-1zM22 27h12v1h-12z"/><path fill="#13b0d7" d="M13 0h1v1h-1zM13 1h1v1h-1zM13 2h1v1h-1zM13 3h1v1h-1zM20 3h1v1h-1zM0 5h3v1h-3zM8 5h1v1h-1zM14 5h1v1h-1zM6 6h2v1h-2zM7 7h1v1h-1zM7 8h2v1h-2zM7 9h3v1h-3zM8 10h2v1h-2zM33 10h1v1h-1zM0 11h4v1h-4zM7 11h3v1h-3zM6 12h1v1h-1zM8 12h3v1h-3zM29 13h1v1h-1zM11 14h1v1h-1zM29 16h1v1h-1zM29 17h1v1h-1zM11 18h1v1h-1zM30 18h1v1h-1zM9 19h1v1h-1zM33 19h1v1h-1zM8 20h3v1h-3zM14 21h1v1h-1zM16 23h1v1h-1zM16 24h3v1h-3zM18 25h2v1h-2zM21 27h1v1h-1zM24 28h10v1h-10zM25 29h1v1h-1z"/><path fill="#05b6ce" d="M20 2h1v1h-1zM3 5h1v1h-1zM7 5h1v1h-1zM15 5h4v1h-4zM31 11h1v1h-1zM3 12h3v1h-3zM7 12h1v1h-1zM9 13h2v1h-2zM29 14h1v1h-1zM29 15h1v1h-1zM31 18h1v1h-1zM8 19h1v1h-1zM7 20h1v1h-1zM13 21h1v1h-1zM15 22h1v1h-1zM15 23h1v1h-1zM14 24h2v1h-2zM16 25h2v1h-2zM19 26h1v1h-1zM20 27h1v1h-1zM23 28h1v1h-1zM24 29h1v1h-1zM26 29h8v1h-8z"/><path fill="#02bac4" d="M20 0h1v1h-1zM20 1h1v1h-1zM8 4h1v1h-1zM4 5h3v1h-3zM0 12h3v1h-3zM30 12h1v1h-1zM7 13h2v1h-2zM11 15h1v1h-1zM11 16h1v1h-1zM11 17h1v1h-1zM30 17h1v1h-1zM10 18h1v1h-1zM5 19h3v1h-3zM5 20h2v1h-2zM10 21h3v1h-3zM14 22h1v1h-1zM14 23h1v1h-1zM13 24h1v1h-1zM14 25h2v1h-2zM18 26h1v1h-1zM19 27h1v1h-1zM20 28h3v1h-3zM23 29h1v1h-1z"/><path fill="#12beb9" d="M14 4h1v1h-1zM19 4h1v1h-1zM32 11h1v1h-1zM6 13h1v1h-1zM30 13h1v1h-1zM10 14h1v1h-1zM30 16h1v1h-1zM9 18h1v1h-1zM32 18h1v1h-1zM0 19h5v1h-5zM0 20h5v1h-5zM8 21h2v1h-2zM13 22h1v1h-1zM13 23h1v1h-1zM13 25h1v1h-1zM16 26h2v1h-2zM19 28h1v1h-1zM20 29h3v1h-3z"/><path fill="#24c2ae" d="M8 3h1v1h-1zM33 11h1v1h-1zM31 12h1v1h-1zM0 13h6v1h-6zM8 14h2v1h-2zM30 14h1v1h-1zM30 15h1v1h-1zM31 17h1v1h-1zM7 18h2v1h-2zM33 18h1v1h-1zM6 21h2v1h-2zM12 22h1v1h-1zM12 23h1v1h-1zM12 24h1v1h-1zM15 26h1v1h-1zM18 27h1v1h-1zM19 29h1v1h-1z"/><path fill="#2fc5a2" d="M8 0h1v1h-1zM8 1h1v1h-1zM8 2h1v1h-1zM14 3h1v1h-1zM0 4h2v1h-2zM7 4h1v1h-1zM15 4h1v1h-1zM7 14h1v1h-1zM10 15h1v1h-1zM10 17h1v1h-1zM0 18h7v1h-7zM0 21h6v1h-6zM11 22h1v1h-1zM12 25h1v1h-1zM14 26h1v1h-1zM17 27h1v1h-1z"/><path fill="#39c895" d="M14 2h1v1h-1zM19 3h1v1h-1zM2 4h2v1h-2zM18 4h1v1h-1zM6 14h1v1h-1zM7 15h3v1h-3zM7 16h2v1h-2zM10 16h1v1h-1zM7 17h3v1h-3zM10 22h1v1h-1zM13 26h1v1h-1zM15 27h2v1h-2zM18 28h1v1h-1z"/><path fill="#48cb86" d="M14 0h1v1h-1zM14 1h1v1h-1zM4 4h3v1h-3zM16 4h2v1h-2zM32 12h1v1h-1zM31 13h1v1h-1zM0 14h6v1h-6zM6 15h1v1h-1zM6 16h1v1h-1zM9 16h1v1h-1zM31 16h1v1h-1zM5 17h2v1h-2zM32 17h1v1h-1zM8 22h2v1h-2zM11 23h1v1h-1zM11 24h1v1h-1zM12 26h1v1h-1zM14 27h1v1h-1zM15 28h1v1h-1zM18 29h1v1h-1z"/><path fill="#5ccc76" d="M19 2h1v1h-1zM33 12h1v1h-1zM31 14h1v1h-1zM5 15h1v1h-1zM31 15h1v1h-1zM5 16h1v1h-1zM0 17h5v1h-5zM33 17h1v1h-1zM6 22h2v1h-2zM11 25h1v1h-1zM13 27h1v1h-1zM14 28h1v1h-1zM16 28h2v1h-2zM14 29h2v1h-2z"/><path fill="#71cd64" d="M19 0h1v1h-1zM19 1h1v1h-1zM7 3h1v1h-1zM15 3h1v1h-1zM0 15h5v1h-5zM0 16h5v1h-5zM32 16h1v1h-1zM0 22h6v1h-6zM10 23h1v1h-1z"/><path fill="#88cb53" d="M18 3h1v1h-1zM32 13h1v1h-1zM9 23h1v1h-1zM10 24h1v1h-1zM11 26h1v1h-1zM12 27h1v1h-1zM13 28h1v1h-1zM13 29h1v1h-1zM16 29h2v1h-2z"/><path fill="#9fc942" d="M7 2h1v1h-1zM15 2h1v1h-1zM16 3h1v1h-1zM33 13h1v1h-1zM32 14h1v1h-1zM32 15h1v1h-1zM33 16h1v1h-1zM8 23h1v1h-1zM10 25h1v1h-1zM11 27h1v1h-1zM12 28h1v1h-1z"/><path fill="#b4c533" d="M7 1h1v1h-1zM15 1h1v1h-1zM0 3h5v1h-5zM6 3h1v1h-1zM17 3h1v1h-1zM33 14h1v1h-1zM33 15h1v1h-1zM6 23h2v1h-2zM9 24h1v1h-1zM10 26h1v1h-1zM11 28h1v1h-1zM12 29h1v1h-1z"/><path fill="#c8c129" d="M7 0h1v1h-1zM15 0h1v1h-1zM18 2h1v1h-1zM5 3h1v1h-1zM0 23h6v1h-6zM8 24h1v1h-1zM9 25h1v1h-1zM9 26h1v1h-1zM10 27h1v1h-1zM10 28h1v1h-1zM10 29h2v1h-2z"/><path fill="#dabd28" d="M18 1h1v1h-1zM16 2h1v1h-1zM7 24h1v1h-1zM8 25h1v1h-1zM9 27h1v1h-1zM9 28h1v1h-1zM9 29h1v1h-1z"/><path fill="#eaba31" d="M18 0h1v1h-1zM16 1h1v1h-1zM0 2h4v1h-4zM6 2h1v1h-1zM17 2h1v1h-1zM6 24h1v1h-1zM8 26h1v1h-1zM8 27h1v1h-1zM8 28h1v1h-1zM8 29h1v1h-1z"/><path fill="#f8ba3d" d="M6 0h1v1h-1zM16 0h2v1h-2zM6 1h1v1h-1zM17 1h1v1h-1zM4 2h2v1h-2zM0 24h6v1h-6zM6 25h2v1h-2zM7 26h1v1h-1zM7 27h1v1h-1zM7 28h1v1h-1zM7 29h1v1h-1z"/><path fill="#fec13a" d="M0 0h6v1h-6zM0 1h6v1h-6zM0 25h6v1h-6zM6 26h1v1h-1zM6 27h1v1h-1zM6 28h1v1h-1zM6 29h1v1h-1z"/><path fill="#feca33" d="M0 26h6v1h-6zM0 27h6v1h-6zM0 28h6v1h-6zM0 29h6v1h-6z"/></g>
<g class="a"><text x="9 22 35 48 62 75 88 101 113 191 204 216 229 242 254" y="-1 -1 -1 0 0 1 1 1 1 4 4 5 5 5 5" rotate="148 148 151 159 171 176 178 177 176 198 204 207 209 209 208">➛➛➛➛➛➛➛➛➛➛➛➛➛➛➛</text><text x="9 21 34 48 63 76 88 101 113 191 204 216 229 242 254" y="11 11 11 12 13 14 14 14 13 16 17 17 17 17 17" rotate="146 146 147 157 174 179 179 179 177 198 206 209 210 210 209">➛➛➛➛➛➛➛➛➛➛➛➛➛➛➛</text><text x="9 21 34 48 63 76 88 101 113 191 204 216 229 242 254" y="23 23 23 24 26 26 26 26 26 28 29 30 30 30 30" rotate="146 145 146 156 176 180 180 179 177 194 205 209 210 210 209">➛➛➛➛➛➛➛➛➛➛➛➛➛➛➛</text><text x="9 21 34 48 63 76 88 101 113 190 204 216 229 242 254" y="36 36 36 36 38 38 38 38 38 39 41 42 42 42 42" rotate="146 145 147 157 174 179 179 178 175 182 201 208 210 209 208">➛➛➛➛➛➛➛➛➛➛➛➛➛➛➛</text><text x="9 22 35 48 62 75 88 101 203 216 229 242" y="48 48 48 49 50 50 51 50 51 53 54 54" rotate="148 148 150 159 172 177 178 176 186 202 207 207">➛➛➛➛➛➛➛➛➛➛➛➛</text><text x="147 159 172 185" y="72 72 72 72" rotate="136 135 135 138">➛➛➛➛</text><text x="369 382 394 407 420" y="135 135 135 135 135" rotate="98 97 97 97 97">➛➛➛➛➛</text><text x="369 382 394 407 420" y="147 148 148 148 148" rotate="97 96 96 96 96">➛➛➛➛➛</text><text x="14 27 39 52 64 369 382 394 407 420" y="167 168 169 169 169 160 160 160 160 160" rotate="220 227 233 236 237 96 95 95 95 96">➛➛➛➛➛➛➛➛➛➛</text><text x="14 27 39 52 64 77 89 102 114 369 382 394 407 420" y="179 180 181 182 182 182 182 183 183 172 172 172 172 172" rotate="220 228 235 238 239 239 240 248 254 96 95 95 95 95">➛➛➛➛➛➛➛➛➛➛➛➛➛➛</text><text x="14 27 39 52 64 77 89 101 113 126 139 369 382 394 407 420" y="191 192 193 194 194 194 194 196 196 196 196 185 185 185 185 185" rotate="215 223 233 239 240 239 241 252 258 259 257 96 95 95 95 95">➛➛➛➛➛➛➛➛➛➛➛➛➛➛➛➛</text><text x="14 27 39 52 64 77 89 101 113 126 139 369 382 394 407 420" y="202 203 204 205 206 206 207 208 209 209 209 197 197 197 197 197" rotate="206 210 220 232 236 236 241 255 260 260 258 96 95 95 95 96">➛➛➛➛➛➛➛➛➛➛➛➛➛➛➛➛</text><text x="14 26 39 52 65 77 90 101 113 126 139 369 382 394 407 420" y="213 213 212 213 215 216 218 220 221 221 221 209 209 209 209 209" rotate="195 193 191 195 209 220 234 252 258 259 257 97 96 96 96 96">➛➛➛➛➛➛➛➛➛➛➛➛➛➛➛➛</text><text x="13 26 38 51 64 77 90 102 369 382 394 407 420" y="224 224 224 223 224 226 228 231 221 221 221 221 221" rotate="189 185 181 181 186 200 220 241 100 98 97 97 98">➛➛➛➛➛➛➛➛➛➛➛➛➛</text><text x="13 25 38 51 63 75 87" y="261 261 261 261 260 260 259" rotate="185 183 182 181 179 175 168">➛➛➛➛➛➛➛</text><text x="13 25 38 50 62 74 86 98 111 124 138 151" y="273 273 273 272 272 271 271 270 271 271 271 272" rotate="183 182 180 177 171 162 156 154 155 159 166 172">➛➛➛➛➛➛➛➛➛➛➛➛</text><text x="13 25 37 50 62 73 85 98 111 124 137 150" y="285 285 285 284 284 283 283 283 283 283 283 284" rotate="181 179 176 171 164 156 152 150 151 155 161 166">➛➛➛➛➛➛➛➛➛➛➛➛</text><text x="12 25 37 49 61 73 85 98 111 124 137 150" y="297 297 297 296 296 295 295 295 295 295 296 296" rotate="179 177 173 168 162 155 151 150 151 155 160 165">➛➛➛➛➛➛➛➛➛➛➛➛</text><text x="12 25 37 49 62 74 86 98 111 124 137 150 163" y="309 309 309 309 308 308 308 307 308 308 308 308 308" rotate="178 175 172 168 164 160 155 154 155 159 163 166 166">➛➛➛➛➛➛➛➛➛➛➛➛➛</text><text x="12 25 37 50 62 75 87 100 113 125 138 150 163 175 188 200" y="322 322 321 321 321 321 321 321 321 321 321 321 321 320 320 320" rotate="177 175 173 171 169 169 170 170 170 169 168 168 166 163 161 160">➛➛➛➛➛➛➛➛➛➛➛➛➛➛➛➛</text><text x="12 25 37 50 63 75 88 101 114 126 138 151 163 175 188 200 213 226 239" y="334 334 334 334 334 334 334 334 334 334 334 333 333 333 333 333 333 333 333" rotate="176 175 174 173 174 176 178 179 178 176 173 170 166 163 161 160 160 161 166">➛➛➛➛➛➛➛➛➛➛➛➛➛➛➛➛➛➛➛</text><text x="12 25 37 50 63 76 88 101 114 126 139 151 163 175 188 200 213 226 239" y="346 346 346 346 346 347 347 347 347 347 346 346 345 345 345 345 345 345 346" rotate="176 175 175 175 176 178 180 180 180 178 175 171 167 164 161 161 160 162 170">➛➛➛➛➛➛➛➛➛➛➛➛➛➛➛➛➛➛➛</text><text x="12 25 37 50 63 76 88 101 114 126 139 151 163 175 188 200 213 226 240" y="359 359 359 359 359 359 359 359 359 359 359 358 358 358 357 357 357 358 358" rotate="176 176 176 176 177 178 179 180 179 178 175 172 168 165 163 162 162 165 173">➛➛➛➛➛➛➛➛➛➛➛➛➛➛➛➛➛➛➛</text></g>
<path class="ct" d="M5.7 32C8.3 30.4 14.4 24.8 20.9 21.9C27.4 19 38.6 16.2 44.5 14.5C50.4 12.8 54.9 13.9 56.3 11.8C57.7 9.7 53.5 3.4 53 1.7"/>
<path class="ct" d="M208.1 0C210.2 3.7 215.8 21.9 220.6 21.9C225.4 21.9 234.1 3.7 236.8 0"/>
<path class="ct" d="M5.7 281.6C8.8 281.9 16.1 280.5 24.3 283.3C32.4 286.1 46.8 292 54.6 298.5C62.5 305 66.4 314.5 71.5 322.1C76.6 329.7 76.6 338.4 85 344C93.4 349.7 110.9 351.5 122.1 355.8C133.3 360.2 147.4 367.6 152.5 370"/>
<path class="ct" d="M427.3 156.8C425.1 158 416.7 160.2 413.9 163.6C411 167 409.9 172.6 410.5 177.1C411 181.6 414.4 187.2 417.2 190.6C420 193.9 425.7 196.2 427.3 197.3"/>
<path d="M0 0H430V370H0zM43 0L44.8 9.5L46.6 19L48.6 28.5L50.6 37.9L52.7 47.4L54.9 56.9L57.2 66.4L59.5 75.9L62 85.4L64.6 94.9L67.2 104.4L70 113.8L72.9 123.3L76 132.8L79.1 142.3L82.4 151.8L85.8 161.3L89.4 170.8L93.1 180.3L96.9 189.7L101 199.2L105.2 208.7L109.5 218.2L114.1 227.7L118.8 237.2L123.7 246.7L128.9 256.2L134.2 265.6L139.8 275.1L145.6 284.6L151.6 294.1L157.9 303.6L164.4 313.1L171.3 322.6L178.4 332.1L185.8 341.5L193.5 351L201.5 360.5L209.9 370L220.1 370L228.5 360.5L236.5 351L244.2 341.5L251.6 332.1L258.7 322.6L265.6 313.1L272.1 303.6L278.4 294.1L284.4 284.6L290.2 275.1L295.8 265.6L301.1 256.2L306.3 246.7L311.2 237.2L315.9 227.7L320.5 218.2L324.8 208.7L329 199.2L333.1 189.7L336.9 180.3L340.6 170.8L344.2 161.3L347.6 151.8L350.9 142.3L354 132.8L357.1 123.3L360 113.8L362.8 104.4L365.4 94.9L368 85.4L370.5 75.9L372.8 66.4L375.1 56.9L377.3 47.4L379.4 37.9L381.4 28.5L383.4 19L385.2 9.5L387 0z" fill="#fff" fill-opacity="0.5" fill-rule="evenodd"/>
<path d="M43 0L44.8 9.5L46.6 19L48.6 28.5L50.6 37.9L52.7 47.4L54.9 56.9L57.2 66.4L59.5 75.9L62 85.4L64.6 94.9L67.2 104.4L70 113.8L72.9 123.3L76 132.8L79.1 142.3L82.4 151.8L85.8 161.3L89.4 170.8L93.1 180.3L96.9 189.7L101 199.2L105.2 208.7L109.5 218.2L114.1 227.7L118.8 237.2L123.7 246.7L128.9 256.2L134.2 265.6L139.8 275.1L145.6 284.6L151.6 294.1L157.9 303.6L164.4 313.1L171.3 322.6L178.4 332.1L185.8 341.5L193.5 351L201.5 360.5L209.9 370L220.1 370L228.5 360.5L236.5 351L244.2 341.5L251.6 332.1L258.7 322.6L265.6 313.1L272.1 303.6L278.4 294.1L284.4 284.6L290.2 275.1L295.8 265.6L301.1 256.2L306.3 246.7L311.2 237.2L315.9 227.7L320.5 218.2L324.8 208.7L329 199.2L333.1 189.7L336.9 180.3L340.6 170.8L344.2 161.3L347.6 151.8L350.9 142.3L354 132.8L357.1 123.3L360 113.8L362.8 104.4L365.4 94.9L368 85.4L370.5 75.9L372.8 66.4L375.1 56.9L377.3 47.4L379.4 37.9L381.4 28.5L383.4 19L385.2 9.5L387 0" fill="none" stroke="#000" stroke-width="1"/>
</g>
<path d="M6.3 370v-4M69.6 370v-4M132.8 370v-4M196 370v-4M259.3 370v-4M322.5 370v-4M385.7 370v-4M0 140.7h4M430 140.7h-4M0 290h4M430 290h-4" stroke="#333" fill="none" stroke-width="1"/>
<rect x="0" y="0" width="430" height="370" fill="none" stroke="#333" stroke-width="1.2"/>
</g>
<rect x="1011.6" y="25.3" width="23.4" height="370" fill="url(#cb)" stroke="#333" stroke-width="1"/>
<path d="M1035 62.3h-3M1035 99.3h-3M1035 136.3h-3M1035 173.3h-3M1035 210.3h-3M1035 247.3h-3M1035 284.3h-3M1035 321.3h-3M1035 358.3h-3" stroke="#333" fill="none"/>
<g class="cl"><text x="1041.5" y="29.8">1</text><text x="1041.5" y="66.8">0.9</text><text x="1041.5" y="103.8">0.8</text><text x="1041.5" y="140.8">0.7</text><text x="1041.5" y="177.8">0.6</text><text x="1041.5" y="214.8">0.5</text><text x="1041.5" y="251.8">0.4</text><text x="1041.5" y="288.8">0.3</text><text x="1041.5" y="325.8">0.2</text><text x="1041.5" y="362.8">0.1</text><text x="1041.5" y="399.8">0</text></g>
<g class="xl"><text x="576.1" y="415.5">1985</text><text x="639.4" y="415.5">1990</text><text x="702.6" y="415.5">1995</text><text x="765.8" y="415.5">2000</text><text x="829.1" y="415.5">2005</text><text x="892.3" y="415.5">2010</text><text x="955.5" y="415.5">2015</text></g>
<g class="yl" text-anchor="end"><text x="563.8" y="170.5">4</text><text x="563.8" y="319.8">8</text></g>
<text class="ti" x="785.3" y="16">WTC: SPEI-CSDI</text>
<text class="xa" font-size="17.4" x="785" y="435.5">Year</text>
<text class="ya" font-size="17.4" transform="translate(546,210.8) rotate(-90)">Cycles per year</text>
<g transform="translate(1107.2,23.6)">
<clipPath id="c2"><rect width="429.4" height="373.7"/></clipPath>
<g clip-path="url(#c2)">
<g transform="scale(12.6294,12.4567)" shape-rendering="crispEdges"><path fill="#3e26a8" d="M26 0h5v1h-5zM26 1h5v1h-5zM26 2h5v1h-5zM26 3h5v1h-5zM16 4h1v1h-1zM26 4h5v1h-5zM16 5h1v1h-1zM26 5h4v1h-4zM16 6h5v1h-5zM26 6h4v1h-4zM26 7h4v1h-4zM26 8h4v1h-4zM25 9h5v1h-5zM28 10h1v1h-1zM9 17h4v1h-4zM9 18h2v1h-2zM12 22h5v1h-5zM12 23h5v1h-5zM12 24h5v1h-5z"/><path fill="#412dbb" d="M9 0h1v1h-1zM9 1h1v1h-1zM15 4h1v1h-1zM15 5h1v1h-1zM15 6h1v1h-1zM21 6h1v1h-1zM25 8h1v1h-1zM27 10h1v1h-1zM29 10h1v1h-1zM8 17h1v1h-1zM8 18h1v1h-1zM11 18h1v1h-1zM15 25h2v1h-2z"/><path fill="#4433cc" d="M9 2h1v1h-1zM13 17h7v1h-7zM0 18h8v1h-8z"/><path fill="#463adc" d="M8 0h1v1h-1zM8 1h1v1h-1zM8 2h1v1h-1zM17 5h4v1h-4zM25 10h2v1h-2zM20 17h1v1h-1zM8 19h3v1h-3zM9 20h1v1h-1zM9 21h1v1h-1zM17 22h1v1h-1zM17 23h1v1h-1zM17 24h1v1h-1zM12 25h3v1h-3z"/><path fill="#4743e7" d="M31 0h3v1h-3zM31 1h3v1h-3zM31 2h3v1h-3zM25 4h1v1h-1zM21 5h1v1h-1zM25 5h1v1h-1zM30 5h1v1h-1zM25 6h1v1h-1zM30 6h1v1h-1zM25 7h1v1h-1zM30 7h1v1h-1zM30 8h1v1h-1zM0 17h8v1h-8zM12 18h1v1h-1zM10 20h1v1h-1zM10 21h1v1h-1zM11 24h1v1h-1zM9 25h3v1h-3z"/><path fill="#484cef" d="M25 3h1v1h-1zM31 3h3v1h-3zM2 5h2v1h-2zM30 9h1v1h-1zM8 11h2v1h-2zM8 20h1v1h-1zM8 21h1v1h-1zM8 24h3v1h-3zM8 25h1v1h-1zM17 25h1v1h-1zM32 25h2v1h-2zM32 26h2v1h-2zM32 27h2v1h-2zM32 28h2v1h-2zM32 29h2v1h-2z"/><path fill="#4755f6" d="M10 0h1v1h-1zM25 0h1v1h-1zM10 1h1v1h-1zM25 1h1v1h-1zM10 2h1v1h-1zM25 2h1v1h-1zM30 10h1v1h-1zM7 11h1v1h-1zM10 11h1v1h-1zM0 19h8v1h-8zM32 24h2v1h-2zM8 26h6v1h-6z"/><path fill="#465efb" d="M2 4h2v1h-2zM13 18h8v1h-8zM8 22h3v1h-3zM0 25h8v1h-8zM31 25h1v1h-1zM0 26h8v1h-8zM14 26h1v1h-1zM31 26h1v1h-1zM0 27h14v1h-14zM31 27h1v1h-1zM0 28h14v1h-14zM31 28h1v1h-1zM0 29h14v1h-14zM31 29h1v1h-1z"/><path fill="#4367fd" d="M8 12h2v1h-2zM9 16h1v1h-1zM7 20h1v1h-1zM0 21h8v1h-8zM0 22h8v1h-8zM8 23h2v1h-2zM0 24h8v1h-8zM31 24h1v1h-1z"/><path fill="#3d70ff" d="M31 4h1v1h-1zM16 7h5v1h-5zM7 12h1v1h-1zM10 12h1v1h-1zM10 16h2v1h-2zM0 20h7v1h-7zM0 23h8v1h-8zM10 23h2v1h-2z"/><path fill="#347afd" d="M16 3h1v1h-1zM32 4h2v1h-2zM15 7h1v1h-1zM21 7h1v1h-1zM8 16h1v1h-1zM12 16h1v1h-1zM11 22h1v1h-1zM15 26h1v1h-1zM14 27h1v1h-1zM14 28h1v1h-1zM14 29h1v1h-1z"/><path fill="#2e83f9" d="M9 3h1v1h-1zM15 3h1v1h-1zM17 4h1v1h-1zM24 8h1v1h-1zM24 9h1v1h-1zM24 10h1v1h-1zM13 16h7v1h-7zM21 17h1v1h-1zM11 19h1v1h-1zM30 24h1v1h-1zM30 25h1v1h-1zM30 26h1v1h-1zM30 27h1v1h-1zM30 28h1v1h-1zM30 29h1v1h-1z"/><path fill="#2d8cf3" d="M0 0h3v1h-3zM0 1h3v1h-3zM0 2h3v1h-3zM8 3h1v1h-1zM0 16h8v1h-8zM20 16h1v1h-1zM11 21h1v1h-1zM13 21h4v1h-4zM23 24h7v1h-7zM22 25h8v1h-8zM16 26h1v1h-1zM21 26h9v1h-9zM21 27h9v1h-9zM21 28h9v1h-9zM21 29h9v1h-9z"/><path fill="#2994ed" d="M0 3h3v1h-3zM10 3h1v1h-1zM1 4h1v1h-1zM2 6h2v1h-2zM22 6h1v1h-1zM27 11h1v1h-1zM21 18h1v1h-1zM12 21h1v1h-1zM17 21h1v1h-1zM18 22h1v1h-1zM18 23h4v1h-4zM31 23h3v1h-3zM18 24h5v1h-5zM18 25h1v1h-1zM20 25h2v1h-2z"/><path fill="#259ce7" d="M7 0h1v1h-1zM7 1h1v1h-1zM7 2h1v1h-1zM3 3h1v1h-1zM0 4h1v1h-1zM4 4h1v1h-1zM14 4h1v1h-1zM24 4h1v1h-1zM1 5h1v1h-1zM4 5h1v1h-1zM14 5h1v1h-1zM22 5h1v1h-1zM24 5h1v1h-1zM31 5h3v1h-3zM14 6h1v1h-1zM24 6h1v1h-1zM31 6h1v1h-1zM31 7h1v1h-1zM31 8h1v1h-1zM28 11h1v1h-1zM21 16h1v1h-1zM11 20h1v1h-1zM19 22h4v1h-4zM22 23h1v1h-1zM19 25h1v1h-1zM17 26h1v1h-1zM20 26h1v1h-1zM15 27h1v1h-1zM20 27h1v1h-1zM15 28h1v1h-1zM20 28h1v1h-1zM15 29h1v1h-1zM20 29h1v1h-1z"/><path fill="#21a3e3" d="M3 0h1v1h-1zM3 1h1v1h-1zM3 2h1v1h-1zM4 3h2v1h-2zM7 3h1v1h-1zM18 4h6v1h-6zM0 5h1v1h-1zM23 5h1v1h-1zM0 6h2v1h-2zM23 6h1v1h-1zM32 6h2v1h-2zM22 7h1v1h-1zM24 7h1v1h-1zM32 7h2v1h-2zM32 8h2v1h-2zM31 9h1v1h-1zM7 13h4v1h-4zM7 14h4v1h-4zM6 15h6v1h-6zM23 23h8v1h-8zM18 26h2v1h-2zM16 27h4v1h-4zM16 28h4v1h-4zM16 29h4v1h-4z"/><path fill="#1caadf" d="M4 0h3v1h-3zM4 1h3v1h-3zM4 2h3v1h-3zM6 3h1v1h-1zM13 4h1v1h-1zM4 6h1v1h-1zM14 7h1v1h-1zM23 7h1v1h-1zM32 9h2v1h-2zM6 12h1v1h-1zM6 14h1v1h-1zM0 15h6v1h-6zM12 15h10v1h-10zM22 18h2v1h-2zM18 21h1v1h-1zM23 22h2v1h-2z"/><path fill="#13b0d7" d="M17 3h1v1h-1zM5 4h2v1h-2zM0 7h5v1h-5zM0 8h4v1h-4zM0 9h4v1h-4zM0 10h4v1h-4zM0 11h5v1h-5zM6 11h1v1h-1zM11 11h1v1h-1zM26 11h1v1h-1zM29 11h1v1h-1zM0 12h6v1h-6zM0 13h7v1h-7zM0 14h6v1h-6zM22 15h1v1h-1zM22 17h1v1h-1zM24 18h1v1h-1zM12 19h1v1h-1zM24 19h1v1h-1zM19 21h7v1h-7zM25 22h1v1h-1z"/><path fill="#05b6ce" d="M11 3h1v1h-1zM14 3h1v1h-1zM24 3h1v1h-1zM7 4h6v1h-6zM13 5h1v1h-1zM4 8h1v1h-1zM4 9h1v1h-1zM4 10h1v1h-1zM31 10h1v1h-1zM33 10h1v1h-1zM5 11h1v1h-1zM25 11h1v1h-1zM11 12h1v1h-1zM11 14h1v1h-1zM22 16h1v1h-1zM13 19h11v1h-11zM25 19h1v1h-1zM24 20h2v1h-2zM26 22h2v1h-2zM33 22h1v1h-1z"/><path fill="#02bac4" d="M12 3h2v1h-2zM18 3h6v1h-6zM5 5h1v1h-1zM13 6h1v1h-1zM13 7h1v1h-1zM32 10h1v1h-1zM24 11h1v1h-1zM30 11h1v1h-1zM11 13h1v1h-1zM25 18h1v1h-1zM12 20h12v1h-12zM28 22h5v1h-5z"/><path fill="#12beb9" d="M11 2h1v1h-1zM5 6h1v1h-1zM23 8h1v1h-1zM5 10h1v1h-1zM9 10h1v1h-1zM23 10h1v1h-1zM12 11h12v1h-12zM12 14h10v1h-10zM23 17h1v1h-1z"/><path fill="#24c2ae" d="M11 0h1v1h-1zM11 1h1v1h-1zM6 5h1v1h-1zM12 5h1v1h-1zM5 7h1v1h-1zM5 8h1v1h-1zM13 8h10v1h-10zM5 9h1v1h-1zM6 10h3v1h-3zM10 10h13v1h-13zM12 12h11v1h-11zM12 13h10v1h-10zM24 17h1v1h-1zM26 21h1v1h-1z"/><path fill="#2fc5a2" d="M24 0h1v1h-1zM24 1h1v1h-1zM24 2h1v1h-1zM7 5h2v1h-2zM6 6h1v1h-1zM6 7h1v1h-1zM12 7h1v1h-1zM6 8h7v1h-7zM6 9h18v1h-18zM33 11h1v1h-1zM23 12h4v1h-4zM22 14h1v1h-1zM26 18h1v1h-1zM26 19h1v1h-1zM26 20h1v1h-1zM27 21h2v1h-2zM33 21h1v1h-1z"/><path fill="#39c895" d="M12 0h2v1h-2zM12 1h2v1h-2zM12 2h3v1h-3zM23 2h1v1h-1zM9 5h3v1h-3zM7 6h1v1h-1zM12 6h1v1h-1zM7 7h2v1h-2zM32 11h1v1h-1zM27 12h1v1h-1zM22 13h1v1h-1zM25 17h1v1h-1zM29 21h4v1h-4z"/><path fill="#48cb86" d="M14 0h1v1h-1zM23 0h1v1h-1zM14 1h1v1h-1zM23 1h1v1h-1zM15 2h8v1h-8zM8 6h1v1h-1zM9 7h1v1h-1zM11 7h1v1h-1zM31 11h1v1h-1zM23 13h1v1h-1zM23 15h1v1h-1zM23 16h1v1h-1zM27 19h1v1h-1zM27 20h1v1h-1z"/><path fill="#5ccc76" d="M15 0h8v1h-8zM15 1h8v1h-8zM9 6h1v1h-1zM11 6h1v1h-1zM10 7h1v1h-1zM24 13h1v1h-1zM26 13h2v1h-2zM23 14h1v1h-1zM26 17h1v1h-1zM28 20h1v1h-1zM33 20h1v1h-1z"/><path fill="#71cd64" d="M10 6h1v1h-1zM28 12h1v1h-1zM25 13h1v1h-1zM27 18h1v1h-1zM28 19h1v1h-1zM29 20h4v1h-4z"/><path fill="#88cb53" d="M24 14h1v1h-1zM27 14h1v1h-1zM24 16h1v1h-1zM33 19h1v1h-1z"/><path fill="#9fc942" d="M33 12h1v1h-1zM26 14h1v1h-1zM24 15h1v1h-1zM25 16h2v1h-2zM27 17h1v1h-1zM29 19h1v1h-1zM32 19h1v1h-1z"/><path fill="#b4c533" d="M29 12h1v1h-1zM32 12h1v1h-1zM25 14h1v1h-1zM25 15h3v1h-3zM27 16h1v1h-1zM28 18h1v1h-1zM30 19h2v1h-2z"/><path fill="#c8c129" d="M30 12h2v1h-2z"/><path fill="#dabd28" d="M28 13h1v1h-1zM29 18h1v1h-1zM33 18h1v1h-1z"/><path fill="#eaba31" d="M30 18h3v1h-3z"/><path fill="#f8ba3d" d="M33 13h1v1h-1zM28 17h1v1h-1z"/><path fill="#fec13a" d="M29 13h1v1h-1zM32 13h1v1h-1zM28 14h1v1h-1z"/><path fill="#feca33" d="M30 13h2v1h-2zM28 15h1v1h-1zM28 16h1v1h-1zM29 17h1v1h-1zM33 17h1v1h-1z"/><path fill="#fad42e" d="M30 17h3v1h-3z"/><path fill="#f6de29" d="M29 14h1v1h-1zM32 14h2v1h-2zM29 16h1v1h-1z"/><path fill="#f5e825" d="M30 14h2v1h-2zM29 15h1v1h-1zM32 15h2v1h-2zM30 16h4v1h-4z"/><path fill="#f6f21e" d="M30 15h2v1h-2z"/></g>
<g class="a"><text x="-1 11 24 36 49 62 74 87 100 112 125 138 152 166 179 192 205 218 231 243 256 268 281 295 308 322 335 348 361 373 385 398 410 422" y="5 5 5 5 5 5 5 6 6 7 9 10 11 12 13 13 13 13 13 13 13 13 14 14 14 14 14 14 14 14 14 14 14 14" rotate="44 44 43 43 44 44 44 42 37 29 19 8 356 345 337 333 331 330 330 331 331 330 328 322 315 308 304 302 302 304 306 309 311 312">➛➛➛➛➛➛➛➛➛➛➛➛➛➛➛➛➛➛➛➛➛➛➛➛➛➛➛➛➛➛➛➛➛➛</text><text x="-1 11 24 36 49 62 74 87 100 112 125 138 152 166 179 192 205 218 231 243 256 269 282 295 309 323 336 349 361 373 385 398 410 422" y="17 18 18 18 18 18 18 18 19 20 21 23 24 25 25 26 26 26 26 26 26 26 26 26 26 26 26 26 26 26 26 26 26 26" rotate="47 46 45 44 44 45 45 43 38 29 18 7 356 346 337 332 330 330 330 331 331 330 327 319 310 303 298 296 297 301 306 309 311 312">➛➛➛➛➛➛➛➛➛➛➛➛➛➛➛➛➛➛➛➛➛➛➛➛➛➛➛➛➛➛➛➛➛➛</text><text x="-1 11 24 36 49 62 74 87 100 112 125 139 152 165 179 192 205 218 231 243 256 269 282 296 310 324 337 350 362 374 385 397 410 422" y="29 30 30 30 30 30 30 30 31 33 34 35 36 37 38 38 38 38 38 38 38 38 39 39 39 39 39 39 39 39 39 39 39 39" rotate="51 49 46 45 45 45 45 43 36 25 15 6 357 348 339 333 331 330 330 331 331 330 325 316 305 297 292 290 292 298 306 310 312 313">➛➛➛➛➛➛➛➛➛➛➛➛➛➛➛➛➛➛➛➛➛➛➛➛➛➛➛➛➛➛➛➛➛➛</text><text x="-1 11 24 36 49 62 74 87 100 113 126 139 152 165 179 192 205 218 231 243 256 268 282 296 310 324 337 350 363 374 385 397 410 422" y="41 41 42 42 43 43 43 43 45 46 47 48 49 49 50 50 51 51 51 51 51 51 51 51 51 51 51 51 51 51 51 51 51 51" rotate="56 54 50 46 45 45 44 40 29 16 9 4 358 351 343 336 332 331 331 332 332 330 324 313 300 291 287 285 287 294 306 313 314 314">➛➛➛➛➛➛➛➛➛➛➛➛➛➛➛➛➛➛➛➛➛➛➛➛➛➛➛➛➛➛➛➛➛➛</text><text x="-1 12 24 37 49 62 74 87 100 113 126 139 152 165 178 191 205 217 230 243 255 268 282 296 311 325 338 351 363 375 385 397 409 422" y="53 53 53 54 55 55 56 57 59 60 60 61 61 61 62 62 63 63 63 63 63 63 64 64 64 63 63 63 63 63 64 64 64 64" rotate="62 61 57 51 45 42 39 29 14 6 3 2 359 354 348 342 337 335 334 335 334 332 324 310 297 288 283 281 282 289 307 314 315 315">➛➛➛➛➛➛➛➛➛➛➛➛➛➛➛➛➛➛➛➛➛➛➛➛➛➛➛➛➛➛➛➛➛➛</text><text x="0 12 25 37 49 62 74 88 101 114 126 139 152 165 177 190 203 216 229 242 255 268 282 296 311 325 338 351 364 376 385 397 409 422" y="65 65 65 66 67 68 70 72 73 73 73 73 73 74 74 74 75 75 75 75 75 75 76 76 76 76 76 75 75 76 76 76 76 76" rotate="67 67 65 59 48 39 28 14 4 1 1 1 0 357 354 350 346 343 341 340 339 335 325 310 296 287 282 280 280 285 306 314 315 315">➛➛➛➛➛➛➛➛➛➛➛➛➛➛➛➛➛➛➛➛➛➛➛➛➛➛➛➛➛➛➛➛➛➛</text><text x="0 12 25 37 49 62 75 88 101 114 126 139 152 164 177 190 203 216 228 241 254 267 281 296 311 325 338 351 363 375 386 397 410 422" y="77 77 77 77 79 81 83 85 86 86 86 86 86 86 86 86 86 87 87 87 87 88 88 89 89 88 88 88 88 88 89 89 89 89" rotate="69 69 69 65 54 37 20 6 1 0 0 0 0 358 358 356 355 352 350 348 345 340 329 313 298 288 283 281 281 286 303 313 314 314">➛➛➛➛➛➛➛➛➛➛➛➛➛➛➛➛➛➛➛➛➛➛➛➛➛➛➛➛➛➛➛➛➛➛</text><text x="0 12 25 37 49 62 75 88 101 114 126 139 152 164 177 190 202 215 228 240 253 266 280 295 310 324 338 350 363 375 386 398 410 422" y="89 89 89 90 91 94 96 98 98 98 98 98 98 98 98 98 98 98 98 99 99 99 100 101 101 101 101 101 101 101 101 101 101 101" rotate="70 70 70 67 57 37 16 4 1 0 0 0 359 359 359 359 359 358 357 356 354 348 337 321 304 292 286 284 284 290 301 310 313 314">➛➛➛➛➛➛➛➛➛➛➛➛➛➛➛➛➛➛➛➛➛➛➛➛➛➛➛➛➛➛➛➛➛➛</text><text x="0 12 25 37 49 62 75 88 101 114 126 139 152 164 177 190 202 215 227 240 253 266 279 293 308 323 337 350 362 374 386 397 410 422" y="102 102 102 102 103 106 109 110 111 111 111 111 111 111 111 111 111 111 110 110 110 111 112 113 114 114 113 113 113 114 114 114 114 114" rotate="69 70 69 66 56 35 14 4 0 0 359 358 359 359 0 0 0 1 3 4 2 358 348 333 316 302 294 290 291 296 304 310 314 316">➛➛➛➛➛➛➛➛➛➛➛➛➛➛➛➛➛➛➛➛➛➛➛➛➛➛➛➛➛➛➛➛➛➛</text><text x="0 12 25 37 49 62 75 89 102 114 127 140 152 164 177 190 202 215 227 239 252 265 278 292 306 321 335 348 361 373 385 397 409 421" y="114 114 114 115 116 119 122 123 124 124 124 124 123 123 123 123 123 123 122 122 122 122 123 124 125 126 126 126 126 126 126 126 126 126" rotate="68 68 67 63 51 30 9 359 355 354 354 355 357 359 0 0 1 3 8 12 12 8 0 348 332 317 307 303 303 307 312 317 320 322">➛➛➛➛➛➛➛➛➛➛➛➛➛➛➛➛➛➛➛➛➛➛➛➛➛➛➛➛➛➛➛➛➛➛</text><text x="-1 12 24 37 49 62 76 90 104 117 129 141 152 164 177 190 202 214 226 239 251 264 277 291 304 318 332 345 358 370 382 395 407 420" y="127 127 128 128 130 133 136 137 138 138 138 137 136 136 136 136 135 135 134 133 133 134 134 135 137 138 138 138 138 138 138 138 138 138" rotate="64 64 62 56 42 18 355 341 335 334 337 344 353 358 0 0 2 9 17 20 20 17 10 1 348 336 327 322 322 325 329 332 333 334">➛➛➛➛➛➛➛➛➛➛➛➛➛➛➛➛➛➛➛➛➛➛➛➛➛➛➛➛➛➛➛➛➛➛</text><text x="-1 12 24 36 49 64 80 95 109 122 133 144 153 165 177 189 202 214 226 239 251 264 277 290 303 317 330 343 355 368 380 392 405 418" y="141 141 141 142 145 149 151 151 151 151 151 151 150 149 148 148 147 146 145 145 145 145 146 147 148 149 149 150 150 149 149 149 149 149" rotate="58 57 53 44 24 355 326 308 299 296 302 320 342 354 359 2 8 19 26 27 26 23 17 10 1 352 346 343 344 347 349 351 350 349">➛➛➛➛➛➛➛➛➛➛➛➛➛➛➛➛➛➛➛➛➛➛➛➛➛➛➛➛➛➛➛➛➛➛</text><text x="-1 11 24 37 51 67 83 98 111 124 136 147 156 166 177 189 201 213 226 239 251 264 277 290 303 316 329 341 354 366 379 391 404 417" y="154 155 156 157 161 163 163 163 163 162 163 163 163 162 161 160 159 157 157 157 157 157 158 159 159 160 161 161 161 160 160 160 160 160" rotate="48 46 39 25 359 326 301 286 278 276 279 291 319 344 357 5 16 26 29 30 28 26 21 16 10 3 359 358 359 1 3 3 2 0">➛➛➛➛➛➛➛➛➛➛➛➛➛➛➛➛➛➛➛➛➛➛➛➛➛➛➛➛➛➛➛➛➛➛</text><text x="-1 11 24 38 53 69 85 99 112 125 137 149 159 168 178 189 201 213 226 239 251 264 277 289 302 315 328 341 353 366 378 391 404 416" y="168 169 170 173 175 176 176 175 175 174 175 175 176 175 174 172 171 170 169 169 169 170 170 171 171 172 172 172 172 172 172 172 172 172" rotate="35 30 20 3 337 309 289 278 272 271 272 278 299 330 352 7 20 28 30 30 29 27 23 20 15 11 7 6 6 8 8 8 8 6">➛➛➛➛➛➛➛➛➛➛➛➛➛➛➛➛➛➛➛➛➛➛➛➛➛➛➛➛➛➛➛➛➛➛</text><text x="-1 12 25 39 54 70 85 99 112 125 137 149 160 169 178 189 201 213 226 239 251 264 277 289 302 315 328 340 353 366 378 391 404 416" y="183 184 185 186 188 188 188 187 187 187 187 187 188 188 187 185 183 182 182 182 182 182 182 183 183 183 184 184 184 184 184 184 184 184" rotate="22 15 5 349 327 304 286 276 271 270 271 276 292 320 345 4 18 26 29 29 28 26 25 23 20 16 12 10 9 9 10 10 9 9">➛➛➛➛➛➛➛➛➛➛➛➛➛➛➛➛➛➛➛➛➛➛➛➛➛➛➛➛➛➛➛➛➛➛</text><text x="-1 12 26 40 54 69 84 99 112 125 137 149 159 169 179 190 201 214 226 239 251 264 276 289 302 315 327 340 353 366 378 391 404 416" y="197 197 198 199 200 201 201 200 200 199 199 200 201 201 200 198 197 195 195 195 195 195 195 195 195 195 196 196 197 197 197 197 197 197" rotate="11 4 356 344 328 307 290 278 273 271 273 279 296 318 338 355 11 21 26 27 27 27 26 26 24 20 16 12 10 10 10 10 10 9">➛➛➛➛➛➛➛➛➛➛➛➛➛➛➛➛➛➛➛➛➛➛➛➛➛➛➛➛➛➛➛➛➛➛</text><text x="0 13 26 39 53 68 83 97 111 124 136 147 158 169 180 191 202 214 226 239 251 264 276 289 302 314 327 340 353 366 378 391 404 416" y="210 210 211 212 212 213 213 213 212 212 213 213 213 213 213 212 210 209 208 207 207 207 207 207 207 207 208 209 209 209 209 209 209 209" rotate="4 359 353 346 335 319 301 287 279 277 281 292 308 321 330 343 359 13 21 24 26 28 28 28 27 24 19 14 11 10 10 10 10 10">➛➛➛➛➛➛➛➛➛➛➛➛➛➛➛➛➛➛➛➛➛➛➛➛➛➛➛➛➛➛➛➛➛➛</text><text x="0 13 26 39 52 66 80 95 109 122 134 145 156 169 181 193 203 215 226 239 251 264 276 289 302 314 327 340 353 366 378 391 404 416" y="223 223 223 224 224 225 226 226 226 226 226 226 226 226 225 225 224 222 221 220 219 219 219 219 219 220 220 221 221 221 222 222 222 222" rotate="0 357 354 350 345 335 320 304 294 293 298 309 318 321 325 332 346 4 16 24 28 29 30 30 29 26 22 17 13 11 10 10 10 10">➛➛➛➛➛➛➛➛➛➛➛➛➛➛➛➛➛➛➛➛➛➛➛➛➛➛➛➛➛➛➛➛➛➛</text><text x="0 13 26 39 51 64 78 92 106 119 132 144 156 169 181 193 205 215 226 239 251 264 276 289 302 314 327 340 353 365 378 391 403 416" y="235 236 236 236 236 236 237 238 238 238 238 238 238 238 238 238 237 236 234 232 232 231 231 231 232 232 232 233 233 234 234 234 234 234" rotate="359 357 355 354 352 347 339 326 315 312 315 319 320 321 321 326 337 357 14 24 28 30 30 30 29 28 25 21 16 13 12 12 12 12">➛➛➛➛➛➛➛➛➛➛➛➛➛➛➛➛➛➛➛➛➛➛➛➛➛➛➛➛➛➛➛➛➛➛</text><text x="0 13 26 38 51 64 77 90 104 118 131 143 156 169 181 194 205 215 227 239 251 264 276 289 302 314 327 340 352 365 378 391 403 416" y="248 248 248 248 248 248 249 249 250 250 250 250 251 251 251 250 250 248 246 245 244 244 244 244 244 244 244 244 245 245 246 246 246 246" rotate="358 357 356 355 354 353 350 342 332 325 322 321 320 320 320 323 334 354 13 24 28 30 30 30 30 29 29 26 23 19 17 16 15 15">➛➛➛➛➛➛➛➛➛➛➛➛➛➛➛➛➛➛➛➛➛➛➛➛➛➛➛➛➛➛➛➛➛➛</text><text x="0 13 26 38 51 64 76 89 103 116 130 143 156 169 181 193 205 215 226 239 251 264 276 289 302 314 327 340 352 365 378 390 403 416" y="260 260 261 261 261 261 261 261 262 262 263 263 263 263 263 263 262 260 258 257 257 256 256 256 256 256 256 256 256 256 257 257 257 257" rotate="358 357 356 355 355 355 354 351 344 335 328 323 321 320 321 325 337 357 15 24 28 30 30 30 31 32 34 35 33 30 27 25 23 22">➛➛➛➛➛➛➛➛➛➛➛➛➛➛➛➛➛➛➛➛➛➛➛➛➛➛➛➛➛➛➛➛➛➛</text><text x="0 13 26 38 51 64 76 89 102 115 129 143 156 168 181 192 203 214 226 239 251 264 276 289 302 314 327 340 352 365 377 390 403 415" y="273 273 273 273 273 273 273 273 273 274 275 275 275 275 275 275 274 271 270 269 269 269 269 269 268 268 267 266 266 266 267 267 268 268" rotate="359 357 356 355 355 355 356 356 352 344 334 328 324 323 325 333 350 10 22 28 30 30 31 32 34 38 44 49 51 50 46 41 37 34">➛➛➛➛➛➛➛➛➛➛➛➛➛➛➛➛➛➛➛➛➛➛➛➛➛➛➛➛➛➛➛➛➛➛</text><text x="0 13 26 38 51 64 76 88 101 114 128 141 154 167 179 190 201 213 226 238 251 264 276 289 302 314 328 341 354 366 379 391 403 415" y="285 285 285 286 286 285 285 285 285 285 286 287 287 287 287 285 282 281 280 280 281 281 281 280 280 278 277 276 276 276 276 277 278 279" rotate="0 358 356 355 355 356 358 1 2 356 346 338 334 334 342 0 21 33 36 36 35 34 35 37 42 51 61 69 73 73 69 63 56 49">➛➛➛➛➛➛➛➛➛➛➛➛➛➛➛➛➛➛➛➛➛➛➛➛➛➛➛➛➛➛➛➛➛➛</text><text x="0 13 26 38 51 63 76 88 100 113 126 139 152 164 176 188 201 213 226 239 251 264 276 289 302 315 329 342 355 368 380 392 404 416" y="297 297 298 298 298 298 297 296 295 296 297 298 298 297 295 293 291 291 291 292 292 292 292 292 290 289 287 287 287 287 287 287 288 289" rotate="2 0 358 357 357 359 4 13 19 16 6 358 356 3 21 39 49 51 50 46 43 41 42 46 56 68 80 87 89 89 85 80 73 65">➛➛➛➛➛➛➛➛➛➛➛➛➛➛➛➛➛➛➛➛➛➛➛➛➛➛➛➛➛➛➛➛➛➛</text><text x="0 12 25 38 50 62 74 87 100 112 125 138 150 163 175 188 201 214 226 239 251 264 277 289 303 317 330 343 356 369 381 393 405 417" y="309 309 310 310 309 308 306 304 304 304 306 307 307 306 304 303 302 302 303 303 304 304 304 303 301 300 299 299 298 299 299 299 300 300" rotate="7 5 4 4 6 14 30 44 49 43 32 23 23 33 47 55 58 58 57 53 50 48 50 58 70 83 92 96 97 96 94 90 84 76">➛➛➛➛➛➛➛➛➛➛➛➛➛➛➛➛➛➛➛➛➛➛➛➛➛➛➛➛➛➛➛➛➛➛</text><text x="-1 12 24 37 49 62 76 89 101 113 125 137 150 163 176 188 201 214 226 239 251 264 277 290 304 317 331 344 356 369 381 394 406 418" y="321 320 320 319 318 315 313 313 313 314 315 317 317 316 315 315 315 315 315 315 315 316 315 314 312 311 311 311 311 311 311 311 311 312" rotate="16 16 18 24 38 57 71 76 74 67 55 44 42 48 55 59 60 60 59 57 54 53 57 67 80 91 97 99 99 99 97 94 90 83">➛➛➛➛➛➛➛➛➛➛➛➛➛➛➛➛➛➛➛➛➛➛➛➛➛➛➛➛➛➛➛➛➛➛</text><text x="-1 11 24 37 50 64 77 90 102 114 126 138 150 163 176 188 201 214 226 239 251 264 277 290 304 318 331 344 356 369 381 394 406 418" y="331 331 330 328 326 325 324 324 324 325 326 327 328 328 328 327 327 327 327 327 328 328 327 326 324 324 323 323 323 323 323 323 324 324" rotate="27 32 41 55 71 82 87 87 85 80 69 57 51 53 57 59 60 60 59 58 56 56 62 73 85 94 98 100 100 100 99 96 92 87">➛➛➛➛➛➛➛➛➛➛➛➛➛➛➛➛➛➛➛➛➛➛➛➛➛➛➛➛➛➛➛➛➛➛</text><text x="-1 11 24 38 51 64 77 90 102 115 127 138 150 163 176 188 201 214 226 239 252 264 277 291 304 318 331 344 356 369 381 394 406 418" y="342 341 340 338 337 337 336 336 336 337 338 339 340 340 340 340 340 340 340 340 340 340 339 338 337 336 336 336 336 336 336 336 336 336" rotate="39 48 59 72 82 88 90 90 88 85 76 65 57 55 57 59 59 59 59 58 57 58 65 76 87 95 98 100 100 100 99 97 93 89">➛➛➛➛➛➛➛➛➛➛➛➛➛➛➛➛➛➛➛➛➛➛➛➛➛➛➛➛➛➛➛➛➛➛</text><text x="-1 12 25 38 52 65 77 90 102 115 127 139 151 163 176 188 201 214 226 239 252 264 277 291 304 318 331 344 356 369 381 394 406 418" y="353 352 351 350 349 349 349 349 349 349 350 351 352 352 352 352 352 352 352 352 352 352 351 350 349 349 348 348 348 348 348 348 349 349" rotate="49 58 69 78 85 89 90 90 89 86 79 69 60 57 57 58 58 58 58 57 57 60 66 77 87 94 97 99 99 99 98 96 93 89">➛➛➛➛➛➛➛➛➛➛➛➛➛➛➛➛➛➛➛➛➛➛➛➛➛➛➛➛➛➛➛➛➛➛</text><text x="-1 12 25 38 52 65 77 90 102 115 127 139 151 163 176 188 201 214 226 239 252 264 277 291 304 317 331 343 356 369 381 394 406 418" y="365 364 363 362 362 361 361 361 361 362 362 363 364 365 365 365 365 365 365 365 365 364 364 363 362 361 361 361 361 361 361 361 361 361" rotate="55 64 73 80 85 88 89 89 88 85 80 71 62 58 57 57 57 57 57 57 58 61 67 76 85 92 96 97 98 98 97 95 92 88">➛➛➛➛➛➛➛➛➛➛➛➛➛➛➛➛➛➛➛➛➛➛➛➛➛➛➛➛➛➛➛➛➛➛</text></g>
<path class="ct" d="M112.3 77.6C113.6 75.3 115.4 73.7 119.1 72.5C122.7 71.4 129.8 70.4 134.2 70.8C138.7 71.2 143.6 72.6 146.1 74.9C148.5 77.1 148.9 81.5 148.8 84.3C148.6 87.1 148.1 89.8 145.4 91.8C142.7 93.7 136.9 96 132.6 96.1C128.2 96.3 122.6 94.5 119.1 92.8C115.6 91.1 112.8 88.5 111.7 86C110.5 83.5 111.1 79.8 112.3 77.6z"/>
<path class="ct" d="M426 161.9C424.3 160.2 420.4 154.6 415.9 151.8C411.4 149 406.9 144.5 399 145C391.2 145.6 377.4 151.5 368.7 155.2C360 158.8 356.3 163.6 346.7 167C337.2 170.3 318.4 172.3 311.3 175.4C304.3 178.5 304 180.5 304.6 185.5C305.1 190.6 311.3 200.8 314.7 205.8C318.1 210.7 320.3 210.7 324.8 215.2C329.3 219.7 333.3 228.7 341.7 232.7C350.1 236.8 364.7 239.5 375.4 239.5C386.1 239.5 397.6 236.4 405.8 232.7C413.9 229.1 421.2 220.1 424.3 217.6"/>
<path d="M0 0H429.4V373.7H0zM42.9 0L44.7 9.6L46.6 19.2L48.5 28.7L50.5 38.3L52.6 47.9L54.8 57.5L57.1 67.1L59.4 76.7L61.9 86.2L64.5 95.8L67.1 105.4L69.9 115L72.8 124.6L75.9 134.1L79 143.7L82.3 153.3L85.7 162.9L89.3 172.5L93 182.1L96.8 191.6L100.8 201.2L105 210.8L109.4 220.4L113.9 230L118.6 239.6L123.5 249.1L128.7 258.7L134 268.3L139.6 277.9L145.4 287.5L151.4 297L157.7 306.6L164.2 316.2L171 325.8L178.1 335.4L185.5 345L193.2 354.5L201.2 364.1L209.6 373.7L219.8 373.7L228.2 364.1L236.2 354.5L243.9 345L251.3 335.4L258.4 325.8L265.2 316.2L271.7 306.6L278 297L284 287.5L289.8 277.9L295.4 268.3L300.7 258.7L305.9 249.1L310.8 239.6L315.5 230L320 220.4L324.4 210.8L328.6 201.2L332.6 191.6L336.4 182.1L340.1 172.5L343.7 162.9L347.1 153.3L350.4 143.7L353.5 134.1L356.6 124.6L359.5 115L362.3 105.4L364.9 95.8L367.5 86.2L370 76.7L372.3 67.1L374.6 57.5L376.8 47.9L378.9 38.3L380.9 28.7L382.8 19.2L384.7 9.6L386.5 0z" fill="#fff" fill-opacity="0.5" fill-rule="evenodd"/>
<path d="M42.9 0L44.7 9.6L46.6 19.2L48.5 28.7L50.5 38.3L52.6 47.9L54.8 57.5L57.1 67.1L59.4 76.7L61.9 86.2L64.5 95.8L67.1 105.4L69.9 115L72.8 124.6L75.9 134.1L79 143.7L82.3 153.3L85.7 162.9L89.3 172.5L93 182.1L96.8 191.6L100.8 201.2L105 210.8L109.4 220.4L113.9 230L118.6 239.6L123.5 249.1L128.7 258.7L134 268.3L139.6 277.9L145.4 287.5L151.4 297L157.7 306.6L164.2 316.2L171 325.8L178.1 335.4L185.5 345L193.2 354.5L201.2 364.1L209.6 373.7L219.8 373.7L228.2 364.1L236.2 354.5L243.9 345L251.3 335.4L258.4 325.8L265.2 316.2L271.7 306.6L278 297L284 287.5L289.8 277.9L295.4 268.3L300.7 258.7L305.9 249.1L310.8 239.6L315.5 230L320 220.4L324.4 210.8L328.6 201.2L332.6 191.6L336.4 182.1L340.1 172.5L343.7 162.9L347.1 153.3L350.4 143.7L353.5 134.1L356.6 124.6L359.5 115L362.3 105.4L364.9 95.8L367.5 86.2L370 76.7L372.3 67.1L374.6 57.5L376.8 47.9L378.9 38.3L380.9 28.7L382.8 19.2L384.7 9.6L386.5 0" fill="none" stroke="#000" stroke-width="1"/>
</g>
<path d="M6.3 373.7v-4M69.5 373.7v-4M132.6 373.7v-4M195.8 373.7v-4M258.9 373.7v-4M322 373.7v-4M385.2 373.7v-4M0 142.4h4M429.4 142.4h-4M0 293.4h4M429.4 293.4h-4" stroke="#333" fill="none" stroke-width="1"/>
<rect x="0" y="0" width="429.4" height="373.7" fill="none" stroke="#333" stroke-width="1.2"/>
</g>
<rect x="1548.4" y="23.6" width="22.9" height="373.7" fill="url(#cb)" stroke="#333" stroke-width="1"/>
<path d="M1571.3 85.9h-3M1571.3 148.2h-3M1571.3 210.4h-3M1571.3 272.7h-3M1571.3 335h-3" stroke="#333" fill="none"/>
<g class="cl"><text x="1577.8" y="28.1">8</text><text x="1577.8" y="90.4">4</text><text x="1577.8" y="152.7">2</text><text x="1577.8" y="214.9">1</text><text x="1577.8" y="277.2">1/2</text><text x="1577.8" y="339.5">1/4</text><text x="1577.8" y="401.8">1/8</text></g>
<g class="xs"><text x="1113.5" y="418">1985</text><text x="1176.7" y="418">1990</text><text x="1239.8" y="418">1995</text><text x="1303" y="418">2000</text><text x="1366.1" y="418">2005</text><text x="1429.2" y="418">2010</text><text x="1492.4" y="418">2015</text></g>
<g class="ys" text-anchor="end"><text x="1100.2" y="170.5">4</text><text x="1100.2" y="321.5">8</text></g>
<text class="ti" x="1322.4" y="16">XWT: SPEI-SDII</text>
<text class="xa" font-size="17.1" x="1323.4" y="438.9">Year</text>
<text class="ya" font-size="17.1" transform="translate(1084,209) rotate(-90)">Cycles per year</text>
<g transform="translate(39.8,460.4)">
<clipPath id="c3"><rect width="431.7" height="372.6"/></clipPath>
<g clip-path="url(#c3)">
<g transform="scale(12.6971,12.42)" shape-rendering="crispEdges"><path fill="#465efb" d="M4 19h1v1h-1zM2 20h5v1h-5zM2 21h4v1h-4z"/><path fill="#4367fd" d="M1 19h3v1h-3zM5 19h2v1h-2zM0 20h2v1h-2zM7 20h1v1h-1zM0 21h2v1h-2zM6 21h2v1h-2zM1 22h6v1h-6z"/><path fill="#3d70ff" d="M0 19h1v1h-1zM7 19h1v1h-1zM0 22h1v1h-1zM7 22h1v1h-1zM0 23h8v1h-8zM0 24h8v1h-8zM0 25h5v1h-5z"/><path fill="#347afd" d="M1 18h6v1h-6zM8 19h1v1h-1zM8 20h1v1h-1zM8 21h1v1h-1zM8 22h1v1h-1zM8 23h1v1h-1zM8 24h1v1h-1zM5 25h3v1h-3z"/><path fill="#2e83f9" d="M0 18h1v1h-1zM7 18h1v1h-1zM9 19h1v1h-1zM9 20h1v1h-1zM9 21h1v1h-1zM9 22h1v1h-1zM9 23h1v1h-1zM9 24h1v1h-1zM8 25h1v1h-1z"/><path fill="#2d8cf3" d="M8 18h1v1h-1zM10 19h2v1h-2zM10 20h3v1h-3zM10 21h4v1h-4zM10 22h4v1h-4zM10 23h3v1h-3zM10 24h2v1h-2zM9 25h1v1h-1z"/><path fill="#2994ed" d="M9 18h3v1h-3zM12 19h1v1h-1zM13 20h1v1h-1zM13 23h1v1h-1zM12 24h1v1h-1zM10 25h2v1h-2zM0 26h8v1h-8z"/><path fill="#259ce7" d="M28 2h1v1h-1zM28 3h1v1h-1zM28 4h1v1h-1zM12 18h1v1h-1zM13 19h1v1h-1zM14 20h1v1h-1zM14 21h1v1h-1zM14 22h1v1h-1zM14 23h1v1h-1zM13 24h1v1h-1zM12 25h1v1h-1zM8 26h1v1h-1z"/><path fill="#21a3e3" d="M27 2h1v1h-1zM29 2h1v1h-1zM27 3h1v1h-1zM29 3h1v1h-1zM27 4h1v1h-1zM28 5h1v1h-1zM0 17h12v1h-12zM13 18h1v1h-1zM15 22h1v1h-1zM14 24h1v1h-1zM9 26h1v1h-1z"/><path fill="#1caadf" d="M29 4h1v1h-1zM27 5h1v1h-1zM27 6h2v1h-2zM12 17h1v1h-1zM14 19h1v1h-1zM15 21h1v1h-1zM15 23h1v1h-1zM13 25h1v1h-1zM10 26h2v1h-2z"/><path fill="#13b0d7" d="M28 1h1v1h-1zM26 3h1v1h-1zM26 4h1v1h-1zM26 5h1v1h-1zM29 5h1v1h-1zM18 6h5v1h-5zM26 6h1v1h-1zM27 7h2v1h-2zM9 16h3v1h-3zM15 20h1v1h-1zM16 22h1v1h-1zM16 23h1v1h-1zM15 24h1v1h-1zM14 25h1v1h-1zM12 26h1v1h-1z"/><path fill="#05b6ce" d="M27 1h1v1h-1zM29 1h1v1h-1zM26 2h1v1h-1zM17 5h7v1h-7zM17 6h1v1h-1zM23 6h1v1h-1zM29 6h1v1h-1zM26 7h1v1h-1zM8 16h1v1h-1zM13 17h1v1h-1zM16 21h1v1h-1zM16 24h1v1h-1zM15 25h1v1h-1z"/><path fill="#02bac4" d="M30 1h1v1h-1zM30 2h1v1h-1zM30 3h1v1h-1zM24 5h2v1h-2zM24 6h2v1h-2zM18 7h6v1h-6zM29 7h1v1h-1zM9 15h2v1h-2zM7 16h1v1h-1zM12 16h1v1h-1zM14 18h1v1h-1zM15 19h1v1h-1zM17 22h1v1h-1zM17 23h1v1h-1zM16 25h1v1h-1zM13 26h1v1h-1zM0 27h9v1h-9z"/><path fill="#12beb9" d="M26 1h1v1h-1zM25 3h1v1h-1zM17 4h7v1h-7zM25 4h1v1h-1zM16 5h1v1h-1zM16 6h1v1h-1zM17 7h1v1h-1zM24 7h2v1h-2zM8 15h1v1h-1zM11 15h1v1h-1zM5 16h2v1h-2zM16 20h1v1h-1zM17 21h1v1h-1zM17 24h1v1h-1zM14 26h1v1h-1zM9 27h2v1h-2z"/><path fill="#24c2ae" d="M28 0h3v1h-3zM25 2h1v1h-1zM24 4h1v1h-1zM30 4h1v1h-1zM27 8h1v1h-1zM10 14h1v1h-1zM3 16h2v1h-2zM18 23h1v1h-1zM17 25h1v1h-1zM15 26h1v1h-1zM11 27h2v1h-2z"/><path fill="#2fc5a2" d="M26 0h2v1h-2zM31 0h1v1h-1zM25 1h1v1h-1zM31 1h1v1h-1zM16 4h1v1h-1zM30 5h1v1h-1zM16 7h1v1h-1zM26 8h1v1h-1zM28 8h1v1h-1zM8 14h2v1h-2zM7 15h1v1h-1zM12 15h1v1h-1zM1 16h2v1h-2zM13 16h1v1h-1zM14 17h1v1h-1zM18 22h1v1h-1zM18 24h1v1h-1zM16 26h1v1h-1zM13 27h1v1h-1z"/><path fill="#39c895" d="M31 2h1v1h-1zM17 3h8v1h-8zM15 4h1v1h-1zM15 5h1v1h-1zM30 6h1v1h-1zM21 8h5v1h-5zM7 14h1v1h-1zM11 14h1v1h-1zM6 15h1v1h-1zM0 16h1v1h-1zM15 18h1v1h-1zM16 19h1v1h-1zM17 20h1v1h-1zM18 21h1v1h-1zM18 25h1v1h-1zM17 26h1v1h-1zM14 27h3v1h-3zM0 28h12v1h-12z"/><path fill="#48cb86" d="M24 0h2v1h-2zM24 1h1v1h-1zM17 2h8v1h-8zM15 3h2v1h-2zM15 6h1v1h-1zM30 7h1v1h-1zM18 8h3v1h-3zM29 8h1v1h-1zM7 13h4v1h-4zM6 14h1v1h-1zM4 15h2v1h-2zM19 22h1v1h-1zM19 23h1v1h-1zM19 24h1v1h-1zM19 25h1v1h-1zM18 26h1v1h-1zM17 27h1v1h-1zM12 28h5v1h-5zM0 29h15v1h-15z"/><path fill="#5ccc76" d="M8 0h16v1h-16zM9 1h15v1h-15zM11 2h6v1h-6zM13 3h2v1h-2zM31 3h1v1h-1zM14 4h1v1h-1zM17 8h1v1h-1zM6 12h4v1h-4zM6 13h1v1h-1zM11 13h1v1h-1zM5 14h1v1h-1zM12 14h1v1h-1zM3 15h1v1h-1zM20 23h2v1h-2zM20 24h5v1h-5zM20 25h8v1h-8zM19 26h15v1h-15zM18 27h16v1h-16zM17 28h17v1h-17zM15 29h19v1h-19z"/><path fill="#71cd64" d="M32 0h1v1h-1zM8 1h1v1h-1zM32 1h1v1h-1zM10 2h1v1h-1zM12 3h1v1h-1zM13 4h1v1h-1zM14 5h1v1h-1zM15 7h1v1h-1zM16 8h1v1h-1zM26 9h2v1h-2zM6 11h4v1h-4zM10 12h1v1h-1zM5 13h1v1h-1zM4 14h1v1h-1zM13 15h1v1h-1zM14 16h1v1h-1zM17 19h1v1h-1zM18 20h1v1h-1zM19 21h1v1h-1zM20 22h1v1h-1zM22 23h2v1h-2zM25 24h2v1h-2zM28 25h6v1h-6z"/><path fill="#88cb53" d="M7 0h1v1h-1zM9 2h1v1h-1zM32 2h1v1h-1zM11 3h1v1h-1zM31 4h1v1h-1zM14 6h1v1h-1zM30 8h1v1h-1zM25 9h1v1h-1zM28 9h1v1h-1zM7 10h1v1h-1zM5 12h1v1h-1zM2 15h1v1h-1zM15 17h1v1h-1zM16 18h1v1h-1zM21 22h1v1h-1zM24 23h1v1h-1zM27 24h2v1h-2z"/><path fill="#9fc942" d="M7 1h1v1h-1zM8 2h1v1h-1zM10 3h1v1h-1zM12 4h1v1h-1zM13 5h1v1h-1zM31 5h1v1h-1zM23 9h2v1h-2zM6 10h1v1h-1zM8 10h1v1h-1zM5 11h1v1h-1zM10 11h1v1h-1zM11 12h1v1h-1zM4 13h1v1h-1zM12 13h1v1h-1zM3 14h1v1h-1zM0 15h2v1h-2zM19 20h1v1h-1zM20 21h1v1h-1zM22 22h1v1h-1zM25 23h1v1h-1zM29 24h5v1h-5z"/><path fill="#b4c533" d="M6 0h1v1h-1zM9 3h1v1h-1zM32 3h1v1h-1zM11 4h1v1h-1zM31 6h1v1h-1zM14 7h1v1h-1zM31 7h1v1h-1zM15 8h1v1h-1zM20 9h3v1h-3zM29 9h1v1h-1zM5 10h1v1h-1zM9 10h1v1h-1zM4 12h1v1h-1zM3 13h1v1h-1zM2 14h1v1h-1zM13 14h1v1h-1zM18 19h1v1h-1zM21 21h1v1h-1zM23 22h1v1h-1zM26 23h1v1h-1z"/><path fill="#c8c129" d="M33 0h1v1h-1zM6 1h1v1h-1zM33 1h1v1h-1zM7 2h1v1h-1zM8 3h1v1h-1zM10 4h1v1h-1zM12 5h1v1h-1zM13 6h1v1h-1zM5 9h4v1h-4zM17 9h3v1h-3zM4 10h1v1h-1zM10 10h1v1h-1zM26 10h2v1h-2zM4 11h1v1h-1zM11 11h1v1h-1zM12 12h1v1h-1zM14 15h1v1h-1zM15 16h1v1h-1zM16 17h1v1h-1zM17 18h1v1h-1zM20 20h1v1h-1zM22 21h1v1h-1zM24 22h2v1h-2zM27 23h2v1h-2z"/><path fill="#dabd28" d="M2 0h4v1h-4zM2 1h4v1h-4zM3 2h2v1h-2zM6 2h1v1h-1zM33 2h1v1h-1zM3 3h2v1h-2zM7 3h1v1h-1zM33 3h1v1h-1zM3 4h3v1h-3zM9 4h1v1h-1zM32 4h1v1h-1zM3 5h3v1h-3zM11 5h1v1h-1zM32 5h1v1h-1zM3 6h3v1h-3zM12 6h1v1h-1zM32 6h1v1h-1zM4 7h2v1h-2zM13 7h1v1h-1zM4 8h4v1h-4zM14 8h1v1h-1zM31 8h1v1h-1zM4 9h1v1h-1zM9 9h2v1h-2zM16 9h1v1h-1zM30 9h1v1h-1zM11 10h1v1h-1zM24 10h2v1h-2zM28 10h1v1h-1zM3 11h1v1h-1zM3 12h1v1h-1zM2 13h1v1h-1zM0 14h2v1h-2zM18 18h1v1h-1zM19 19h1v1h-1zM21 20h1v1h-1zM23 21h2v1h-2zM26 22h2v1h-2zM29 23h5v1h-5z"/><path fill="#eaba31" d="M0 0h2v1h-2zM0 1h2v1h-2zM0 2h3v1h-3zM5 2h1v1h-1zM0 3h3v1h-3zM5 3h2v1h-2zM0 4h3v1h-3zM6 4h3v1h-3zM33 4h1v1h-1zM0 5h3v1h-3zM6 5h5v1h-5zM33 5h1v1h-1zM0 6h3v1h-3zM6 6h6v1h-6zM33 6h1v1h-1zM0 7h4v1h-4zM6 7h7v1h-7zM32 7h2v1h-2zM0 8h4v1h-4zM8 8h6v1h-6zM32 8h2v1h-2zM0 9h4v1h-4zM11 9h5v1h-5zM31 9h3v1h-3zM0 10h4v1h-4zM12 10h2v1h-2zM22 10h2v1h-2zM29 10h2v1h-2zM0 11h3v1h-3zM12 11h1v1h-1zM26 11h3v1h-3zM0 12h3v1h-3zM0 13h2v1h-2zM13 13h1v1h-1zM26 16h1v1h-1zM17 17h1v1h-1zM24 17h4v1h-4zM19 18h9v1h-9zM20 19h8v1h-8zM22 20h6v1h-6zM25 21h3v1h-3zM28 22h6v1h-6z"/><path fill="#f8ba3d" d="M14 10h8v1h-8zM31 10h3v1h-3zM13 11h2v1h-2zM24 11h2v1h-2zM29 11h5v1h-5zM13 12h1v1h-1zM25 12h7v1h-7zM25 13h5v1h-5zM14 14h1v1h-1zM25 14h5v1h-5zM15 15h1v1h-1zM24 15h6v1h-6zM16 16h1v1h-1zM23 16h3v1h-3zM27 16h3v1h-3zM18 17h6v1h-6zM28 17h2v1h-2zM28 18h2v1h-2zM28 19h2v1h-2zM28 20h3v1h-3zM28 21h6v1h-6z"/><path fill="#fec13a" d="M15 11h2v1h-2zM21 11h3v1h-3zM14 12h1v1h-1zM24 12h1v1h-1zM32 12h2v1h-2zM14 13h1v1h-1zM24 13h1v1h-1zM30 13h4v1h-4zM15 14h1v1h-1zM24 14h1v1h-1zM30 14h4v1h-4zM16 15h1v1h-1zM22 15h2v1h-2zM30 15h4v1h-4zM17 16h6v1h-6zM30 16h4v1h-4zM30 17h4v1h-4zM30 18h4v1h-4zM30 19h4v1h-4zM31 20h3v1h-3z"/><path fill="#feca33" d="M17 11h4v1h-4zM15 12h9v1h-9zM15 13h2v1h-2zM22 13h2v1h-2zM16 14h8v1h-8zM17 15h5v1h-5z"/><path fill="#fad42e" d="M17 13h5v1h-5z"/></g>
<g class="a"><text x="-1 11 24 37 50 62 75 88 101 113 126 138 151 166 181 195 208 220 233 246 259 271 281 293 305 318 331 344 357 371 384 397 410 422" y="4 4 4 4 4 4 4 3 3 3 4 5 8 12 13 14 14 14 14 14 14 14 13 11 11 11 11 12 13 13 13 13 13 13" rotate="52 52 51 51 52 54 56 59 60 59 57 49 26 349 329 322 321 320 319 316 315 325 344 355 359 358 356 350 342 336 333 331 331 331">➛➛➛➛➛➛➛➛➛➛➛➛➛➛➛➛➛➛➛➛➛➛➛➛➛➛➛➛➛➛➛➛➛➛</text><text x="-1 12 24 37 50 62 75 88 101 113 126 138 151 166 182 195 208 221 233 247 261 273 282 293 305 318 397 410 422" y="16 16 17 17 17 17 16 16 16 16 16 17 20 25 26 26 26 26 26 26 26 26 25 24 23 23 26 26 26" rotate="54 54 53 52 51 52 55 59 60 60 57 49 24 346 326 321 320 320 318 310 302 309 337 356 0 359 330 330 330">➛➛➛➛➛➛➛➛➛➛➛➛➛➛➛➛➛➛➛➛➛➛➛➛➛➛➛➛➛</text><text x="-1 12 24 37 50 62 75 88 101 113 126 138 151 166 181 195 208 221 234 249 263 276 286 293 305 318 397 410 422" y="28 29 29 29 29 29 29 29 28 28 29 30 33 37 38 39 39 39 39 39 38 38 39 37 36 36 38 38 38" rotate="57 56 54 52 50 49 51 55 58 58 55 45 22 347 327 321 320 320 316 298 284 284 309 349 358 358 330 330 330">➛➛➛➛➛➛➛➛➛➛➛➛➛➛➛➛➛➛➛➛➛➛➛➛➛➛➛➛➛</text><text x="-1 12 24 37 49 62 75 87 100 113 126 138 151 166 181 195 208 221 235 251 265 278 289 297 306 319 397 410 422" y="41 41 41 41 42 42 43 43 42 42 42 43 46 49 51 51 51 51 51 51 50 50 50 51 50 49 51 51 51" rotate="60 59 57 54 49 46 44 45 48 50 48 40 21 352 332 323 320 318 308 284 273 272 280 318 346 349 330 330 330">➛➛➛➛➛➛➛➛➛➛➛➛➛➛➛➛➛➛➛➛➛➛➛➛➛➛➛➛➛</text><text x="-1 12 25 37 50 62 75 87 100 113 126 138 151 165 180 194 208 221 236 251 265 278 290 300 310 384 397 410 422" y="53 53 53 53 54 55 55 56 55 55 55 56 58 61 62 63 63 64 64 63 62 62 62 63 64 63 63 63 63" rotate="63 63 61 57 50 44 41 40 41 43 42 34 20 0 341 329 322 315 298 279 271 270 274 292 318 330 330 330 330">➛➛➛➛➛➛➛➛➛➛➛➛➛➛➛➛➛➛➛➛➛➛➛➛➛➛➛➛➛</text><text x="-1 12 25 37 50 62 75 87 100 113 126 138 151 165 178 193 207 384 397 410 422" y="65 65 65 65 66 67 68 68 68 68 68 69 71 72 74 75 76 76 76 76 76" rotate="66 66 66 63 55 45 41 40 40 41 37 29 19 7 354 340 328 329 330 330 329">➛➛➛➛➛➛➛➛➛➛➛➛➛➛➛➛➛➛➛➛➛</text><text x="0 12 25 38 50 62 75 87 100 113 126 138 151 164 178 191 385 397 410 423" y="77 77 77 77 78 79 80 80 80 81 81 83 84 84 85 86 88 88 88 88" rotate="68 69 69 68 62 50 42 41 41 39 33 23 16 11 4 354 324 328 328 329">➛➛➛➛➛➛➛➛➛➛➛➛➛➛➛➛➛➛➛➛</text><text x="0 12 25 38 50 62 75 87 100 113 126 139 152 164 177 190 204 314 327 386 398 410 423" y="89 89 89 89 89 91 92 92 93 93 95 96 96 97 97 98 99 100 100 101 101 101 100" rotate="69 70 70 70 66 57 47 44 42 37 27 17 13 11 9 3 353 286 282 316 323 326 328">➛➛➛➛➛➛➛➛➛➛➛➛➛➛➛➛➛➛➛➛➛➛➛</text><text x="0 12 25 38 50 63 75 88 100 113 126 139 152 164 177 190 203 217 230 244 258 272 286 300 314 327 340 353 365 376 387 398 410 423" y="102 101 101 101 102 102 103 104 104 106 108 109 109 109 109 109 110 111 112 113 113 113 113 113 113 113 113 113 113 113 113 113 113 113" rotate="69 70 70 70 67 61 54 50 46 37 23 13 11 10 10 8 1 353 344 334 323 313 304 294 285 281 280 281 285 295 309 319 324 327">➛➛➛➛➛➛➛➛➛➛➛➛➛➛➛➛➛➛➛➛➛➛➛➛➛➛➛➛➛➛➛➛➛➛</text><text x="0 12 25 38 50 63 75 88 101 113 126 139 152 164 177 190 203 216 229 242 255 269 284 299 314 327 340 352 365 376 387 398 410 422" y="114 114 114 114 114 115 115 115 115 117 120 121 122 122 122 122 122 123 123 123 124 125 126 126 125 125 125 125 125 126 126 126 125 125" rotate="68 69 69 69 67 64 62 62 59 46 25 12 10 10 11 9 6 2 359 356 349 337 320 302 289 283 282 282 287 296 308 318 325 329">➛➛➛➛➛➛➛➛➛➛➛➛➛➛➛➛➛➛➛➛➛➛➛➛➛➛➛➛➛➛➛➛➛➛</text><text x="0 12 25 38 50 63 76 89 102 114 126 139 152 164 177 190 203 216 228 241 254 267 282 297 312 326 339 352 364 375 386 398 410 422" y="127 126 126 126 127 126 126 126 125 126 130 133 134 134 134 134 134 134 134 134 135 136 137 138 138 138 138 138 138 138 138 138 138 137" rotate="67 68 68 68 67 68 72 76 77 69 41 17 11 11 11 10 8 7 6 6 3 356 339 316 298 289 287 288 294 303 315 324 331 335">➛➛➛➛➛➛➛➛➛➛➛➛➛➛➛➛➛➛➛➛➛➛➛➛➛➛➛➛➛➛➛➛➛➛</text><text x="-1 12 25 38 50 64 77 90 103 115 127 138 151 164 177 190 203 215 228 241 253 266 280 295 310 324 338 350 362 373 384 396 408 421" y="139 139 139 139 139 138 138 137 137 137 139 143 145 146 146 146 147 147 147 147 147 147 148 150 151 151 151 151 151 150 150 150 149 149" rotate="66 67 67 67 69 73 80 85 87 85 69 34 18 14 13 11 9 9 9 9 8 4 354 334 314 302 299 301 308 319 330 337 341 343">➛➛➛➛➛➛➛➛➛➛➛➛➛➛➛➛➛➛➛➛➛➛➛➛➛➛➛➛➛➛➛➛➛➛</text><text x="-1 12 25 38 51 64 77 90 103 116 128 139 151 164 177 190 203 215 228 241 253 266 279 293 308 322 335 347 359 370 382 395 407 420" y="152 152 151 151 151 150 150 149 149 149 150 153 156 158 158 159 159 159 159 159 159 159 160 161 162 163 163 163 162 162 161 161 161 161" rotate="65 65 66 68 71 77 84 88 90 89 82 58 31 20 15 12 10 9 10 10 10 7 1 348 332 321 317 321 330 340 347 351 352 352">➛➛➛➛➛➛➛➛➛➛➛➛➛➛➛➛➛➛➛➛➛➛➛➛➛➛➛➛➛➛➛➛➛➛</text><text x="-1 12 25 38 51 64 77 90 103 116 128 139 151 164 177 190 203 215 228 241 253 266 279 293 306 320 333 345 357 369 381 394 406 419" y="164 164 164 164 163 163 162 162 162 162 162 164 167 170 171 171 171 171 171 171 171 172 172 173 174 174 174 174 173 173 173 172 172 173" rotate="63 64 66 68 72 78 84 88 89 89 83 66 41 24 15 11 9 9 10 10 10 8 3 355 345 338 337 342 350 356 359 0 0 359">➛➛➛➛➛➛➛➛➛➛➛➛➛➛➛➛➛➛➛➛➛➛➛➛➛➛➛➛➛➛➛➛➛➛</text><text x="-1 12 25 38 51 64 77 90 103 115 127 139 151 164 177 190 203 215 228 241 253 266 279 292 305 319 331 343 356 368 381 393 406 419" y="177 177 176 176 176 175 175 174 174 174 175 177 180 183 184 184 184 184 184 184 184 184 184 185 186 186 186 185 185 185 184 184 184 185" rotate="62 63 65 68 72 77 82 86 87 85 79 61 36 19 10 7 7 8 9 9 9 8 5 359 353 350 351 355 0 2 4 4 3 2">➛➛➛➛➛➛➛➛➛➛➛➛➛➛➛➛➛➛➛➛➛➛➛➛➛➛➛➛➛➛➛➛➛➛</text><text x="-1 12 25 38 51 64 77 89 102 151 165 178 191 203 216 228 241 253 266 279 292 305 318 330 343 355 368 381 393 406 419" y="189 189 189 189 188 188 188 187 187 195 197 197 197 197 197 196 196 196 196 197 197 197 198 197 197 197 197 197 197 197 197" rotate="61 62 64 66 69 73 77 80 80 19 4 359 359 2 5 8 9 8 8 6 3 359 358 358 1 3 4 5 5 5 4">➛➛➛➛➛➛➛➛➛➛➛➛➛➛➛➛➛➛➛➛➛➛➛➛➛➛➛➛➛➛➛</text><text x="-1 12 25 37 50 63 76 166 179 192 204 216 228 241 253 266 279 292 305 317 330 343 355 368 381 393 406 419" y="202 202 202 201 201 201 201 211 211 211 210 210 209 209 209 209 209 209 209 209 209 209 209 209 209 209 209 209" rotate="60 61 62 64 66 68 71 350 348 349 354 0 5 8 9 9 8 7 5 3 3 4 5 5 5 5 5 5">➛➛➛➛➛➛➛➛➛➛➛➛➛➛➛➛➛➛➛➛➛➛➛➛➛➛➛➛</text><text x="180 192 205 216 229 241 253 266 279 291 304 317 330 343 355 368 381 393 406 419" y="224 224 223 223 222 221 221 221 221 221 221 221 221 221 222 222 222 222 222 222" rotate="342 343 347 355 2 8 11 12 13 12 11 9 7 6 5 5 5 5 5 5">➛➛➛➛➛➛➛➛➛➛➛➛➛➛➛➛➛➛➛➛</text><text x="193 205 217 229 241 253 266 278 291 304 317 329 342 355 368 381 393 406 419" y="236 236 235 234 233 233 232 232 232 232 233 233 233 234 234 234 234 234 234" rotate="341 344 352 2 11 17 20 21 20 18 15 12 9 7 6 5 5 6 6">➛➛➛➛➛➛➛➛➛➛➛➛➛➛➛➛➛➛➛</text><text x="205 217 228 240 253 265 278 291 303 316 329 342 355 368 380 393 406 419" y="248 248 246 244 243 243 243 243 243 244 245 245 246 246 246 246 246 246" rotate="345 354 8 21 29 32 33 31 29 25 20 15 12 9 8 8 8 9">➛➛➛➛➛➛➛➛➛➛➛➛➛➛➛➛➛➛</text><text x="216 227 240 253 265 278 291 303 316 329 341 354 367 380 393 405 418" y="259 256 254 253 253 253 254 254 255 255 256 257 257 258 258 258 258" rotate="4 24 39 46 48 47 45 41 38 33 28 22 18 15 14 14 14">➛➛➛➛➛➛➛➛➛➛➛➛➛➛➛➛➛</text><text x="214 227 240 253 266 278 291 304 316 329 341 354 367 379 392 405 418" y="268 265 264 264 264 264 264 265 265 265 266 266 267 268 268 268 269" rotate="29 50 60 64 63 60 57 54 52 50 47 43 38 33 29 27 25">➛➛➛➛➛➛➛➛➛➛➛➛➛➛➛➛➛</text><text x="228 241 254 267 279 292 304 317 330 342 355 368 380 392 405 418" y="275 275 275 275 275 276 276 276 276 275 276 276 277 277 278 279" rotate="71 75 76 74 70 67 65 65 67 68 67 65 59 53 47 42">➛➛➛➛➛➛➛➛➛➛➛➛➛➛➛➛</text><text x="229 242 255 267 280 292 305 318 331 344 356 369 381 394 406 418" y="287 286 286 287 287 287 287 287 287 286 286 286 287 287 288 289" rotate="80 82 82 79 76 73 73 75 79 82 84 83 79 74 67 60">➛➛➛➛➛➛➛➛➛➛➛➛➛➛➛➛</text><text x="229 242 255 267 280 292 305 318 331 344 357 370 382 395 407 419" y="299 299 299 299 299 299 299 299 298 298 298 298 298 298 299 300" rotate="84 85 84 82 79 76 78 82 87 90 91 91 89 85 80 73">➛➛➛➛➛➛➛➛➛➛➛➛➛➛➛➛</text><text x="216 229 242 255 267 280 292 305 319 332 345 358 370 383 395 408 420" y="312 311 311 311 311 312 312 311 311 310 310 310 310 310 310 311 311" rotate="77 84 85 84 82 79 78 81 86 91 93 94 94 93 90 86 81">➛➛➛➛➛➛➛➛➛➛➛➛➛➛➛➛➛</text><text x="177 189 202 215 229 242 255 267 280 292 306 319 332 345 358 370 383 395 408 420" y="327 327 327 326 324 324 324 324 324 324 324 323 323 323 323 323 323 323 323 323" rotate="52 52 55 64 78 82 82 80 78 78 82 88 93 94 95 95 94 92 89 85">➛➛➛➛➛➛➛➛➛➛➛➛➛➛➛➛➛➛➛➛</text><text x="127 139 151 164 176 189 202 215 228 241 254 267 280 292 306 319 332 345 358 370 383 396 408 420" y="336 338 339 340 340 340 340 340 339 337 337 337 337 337 336 335 335 335 335 335 335 335 335 336" rotate="79 68 58 53 50 48 47 49 58 70 75 75 75 77 83 89 93 95 95 95 94 93 90 87">➛➛➛➛➛➛➛➛➛➛➛➛➛➛➛➛➛➛➛➛➛➛➛➛</text><text x="1 14 27 39 52 65 78 90 103 116 128 139 151 164 176 189 202 214 227 240 253 266 279 292 306 319 332 345 358 370 383 395 408 420" y="349 348 348 348 348 348 348 348 348 348 349 350 351 352 353 353 353 353 353 351 350 350 350 349 348 348 348 347 347 347 347 348 348 348" rotate="80 83 86 88 89 90 90 90 89 87 81 70 59 52 48 46 45 45 48 57 65 69 72 76 82 88 92 94 95 95 94 93 90 87">➛➛➛➛➛➛➛➛➛➛➛➛➛➛➛➛➛➛➛➛➛➛➛➛➛➛➛➛➛➛➛➛➛➛</text><text x="1 14 27 39 52 65 78 90 103 116 128 140 151 164 176 189 202 214 227 240 253 266 279 292 305 319 332 345 358 370 383 395 408 420" y="361 361 361 360 360 360 360 360 360 360 361 362 363 364 365 365 365 365 365 364 364 363 362 362 361 360 360 360 360 360 360 360 360 360" rotate="81 83 86 88 89 90 90 90 89 87 81 71 60 52 48 46 45 45 47 52 59 64 69 74 80 87 91 93 94 94 93 92 89 86">➛➛➛➛➛➛➛➛➛➛➛➛➛➛➛➛➛➛➛➛➛➛➛➛➛➛➛➛➛➛➛➛➛➛</text></g>
<path class="ct" d="M78.3 0C80.2 2.8 85.6 10.9 90.1 16.8C94.6 22.7 99.9 30.4 105.2 35.4C110.6 40.3 115.6 44 122.1 46.5C128.6 49 137.3 47.6 144 50.5C150.8 53.5 156.7 58.7 162.6 64C168.5 69.4 173.8 76.7 179.4 82.6C185.1 88.5 190.1 95.2 196.3 99.5C202.5 103.7 208.1 105.6 216.5 107.9C225 110.1 236.2 111.5 246.9 112.9C257.6 114.4 269.4 114.9 280.6 116.3C291.9 117.7 304.8 119.9 314.4 121.4C323.9 122.9 330.1 125.1 338 125.4C345.8 125.7 354.8 125.4 361.6 123.1C368.3 120.7 372.8 117.2 378.4 111.3C384.1 105.4 389.7 95.5 395.3 87.7C400.9 79.8 406.8 71.3 412.2 64C417.5 56.7 424.8 47.2 427.3 43.8"/>
<path class="ct" d="M7.4 199.6C11.4 199 23.7 199.1 31 195.6C38.3 192.1 45.6 186 51.3 178.7C56.9 171.4 61.4 160.8 64.8 151.7C68.1 142.6 68.1 129.3 71.5 124.1C74.9 118.9 79.4 120.9 85 120.7C90.6 120.5 98.5 121.3 105.2 123.1C112 124.9 118.2 126.7 125.5 131.5C132.8 136.3 142.3 145 149.1 151.7C155.8 158.5 160.9 165.2 165.9 172C171 178.7 174.4 185.2 179.4 192.2C184.5 199.2 190.1 206.8 196.3 214.1C202.5 221.4 209.2 229.6 216.5 236.1C223.8 242.5 232.3 247.9 240.2 252.9C248 258 255 261.9 263.8 266.4C272.5 270.9 282.3 275.7 292.4 279.9C302.5 284.1 312.4 288.1 324.5 291.7C336.6 295.4 352.6 299.7 364.9 301.8C377.3 303.9 388.3 304.2 398.7 304.2C409.1 304.2 422.6 302.2 427.3 301.8"/>
<path d="M0 0H431.7V372.6H0zM43.2 0L45 9.6L46.8 19.1L48.8 28.7L50.8 38.2L52.9 47.8L55.1 57.3L57.4 66.9L59.8 76.4L62.2 86L64.8 95.5L67.5 105.1L70.3 114.6L73.2 124.2L76.3 133.8L79.4 143.3L82.7 152.9L86.2 162.4L89.7 172L93.5 181.5L97.3 191.1L101.4 200.6L105.6 210.2L109.9 219.7L114.5 229.3L119.3 238.8L124.2 248.4L129.4 258L134.7 267.5L140.3 277.1L146.1 286.6L152.2 296.2L158.5 305.7L165.1 315.3L171.9 324.8L179.1 334.4L186.5 343.9L194.2 353.5L202.3 363L210.7 372.6L221 372.6L229.4 363L237.5 353.5L245.2 343.9L252.6 334.4L259.8 324.8L266.6 315.3L273.2 305.7L279.5 296.2L285.6 286.6L291.4 277.1L297 267.5L302.3 258L307.5 248.4L312.4 238.8L317.2 229.3L321.8 219.7L326.1 210.2L330.3 200.6L334.4 191.1L338.2 181.5L342 172L345.5 162.4L349 152.9L352.3 143.3L355.4 133.8L358.5 124.2L361.4 114.6L364.2 105.1L366.9 95.5L369.5 86L371.9 76.4L374.3 66.9L376.6 57.3L378.8 47.8L380.9 38.2L382.9 28.7L384.9 19.1L386.7 9.6L388.5 0z" fill="#fff" fill-opacity="0.5" fill-rule="evenodd"/>
<path d="M43.2 0L45 9.6L46.8 19.1L48.8 28.7L50.8 38.2L52.9 47.8L55.1 57.3L57.4 66.9L59.8 76.4L62.2 86L64.8 95.5L67.5 105.1L70.3 114.6L73.2 124.2L76.3 133.8L79.4 143.3L82.7 152.9L86.2 162.4L89.7 172L93.5 181.5L97.3 191.1L101.4 200.6L105.6 210.2L109.9 219.7L114.5 229.3L119.3 238.8L124.2 248.4L129.4 258L134.7 267.5L140.3 277.1L146.1 286.6L152.2 296.2L158.5 305.7L165.1 315.3L171.9 324.8L179.1 334.4L186.5 343.9L194.2 353.5L202.3 363L210.7 372.6L221 372.6L229.4 363L237.5 353.5L245.2 343.9L252.6 334.4L259.8 324.8L266.6 315.3L273.2 305.7L279.5 296.2L285.6 286.6L291.4 277.1L297 267.5L302.3 258L307.5 248.4L312.4 238.8L317.2 229.3L321.8 219.7L326.1 210.2L330.3 200.6L334.4 191.1L338.2 181.5L342 172L345.5 162.4L349 152.9L352.3 143.3L355.4 133.8L358.5 124.2L361.4 114.6L364.2 105.1L366.9 95.5L369.5 86L371.9 76.4L374.3 66.9L376.6 57.3L378.8 47.8L380.9 38.2L382.9 28.7L384.9 19.1L386.7 9.6L388.5 0" fill="none" stroke="#000" stroke-width="1"/>
</g>
<path d="M6.3 372.6v-4M69.8 372.6v-4M133.3 372.6v-4M196.8 372.6v-4M260.3 372.6v-4M323.8 372.6v-4M387.3 372.6v-4M0 141.6h4M431.7 141.6h-4M0 291.6h4M431.7 291.6h-4" stroke="#333" fill="none" stroke-width="1"/>
<rect x="0" y="0" width="431.7" height="372.6" fill="none" stroke="#333" stroke-width="1.2"/>
</g>
<rect x="485" y="460.4" width="22.6" height="372.6" fill="url(#cb)" stroke="#333" stroke-width="1"/>
<path d="M507.6 497.7h-3M507.6 534.9h-3M507.6 572.2h-3M507.6 609.4h-3M507.6 646.7h-3M507.6 684h-3M507.6 721.2h-3M507.6 758.5h-3M507.6 795.7h-3" stroke="#333" fill="none"/>
<g class="cl"><text x="514.1" y="464.9">1</text><text x="514.1" y="502.2">0.9</text><text x="514.1" y="539.4">0.8</text><text x="514.1" y="576.7">0.7</text><text x="514.1" y="613.9">0.6</text><text x="514.1" y="651.2">0.5</text><text x="514.1" y="688.5">0.4</text><text x="514.1" y="725.7">0.3</text><text x="514.1" y="763">0.2</text><text x="514.1" y="800.2">0.1</text><text x="514.1" y="837.5">0</text></g>
<g class="xs"><text x="46.1" y="854.3">1985</text><text x="109.6" y="854.3">1990</text><text x="173.1" y="854.3">1995</text><text x="236.6" y="854.3">2000</text><text x="300.1" y="854.3">2005</text><text x="363.6" y="854.3">2010</text><text x="427.1" y="854.3">2015</text></g>
<g class="ys" text-anchor="end"><text x="32.8" y="606.5">4</text><text x="32.8" y="756.5">8</text></g>
<text class="ti" x="255.3" y="453">WTC: SPEI-SDII</text>
<text class="xa" font-size="16.9" x="256.3" y="874">Year</text>
<text class="ya" font-size="16.9" transform="translate(14.5,645.9) rotate(-90)">Cycles per year</text>
<g transform="translate(570.5,462)">
<clipPath id="c4"><rect width="431" height="370.4"/></clipPath>
<g clip-path="url(#c4)">
<g transform="scale(12.6765,12.3467)" shape-rendering="crispEdges"><path fill="#3e26a8" d="M27 0h4v1h-4zM27 1h4v1h-4zM27 2h4v1h-4zM27 3h4v1h-4zM27 4h4v1h-4zM15 5h2v1h-2zM19 5h3v1h-3zM24 5h7v1h-7zM19 6h3v1h-3zM24 6h6v1h-6zM24 7h6v1h-6zM24 8h6v1h-6zM24 9h6v1h-6zM17 16h4v1h-4zM18 17h2v1h-2zM12 21h3v1h-3zM12 22h4v1h-4zM12 23h4v1h-4z"/><path fill="#412dbb" d="M20 17h1v1h-1zM10 19h7v1h-7zM10 20h7v1h-7zM11 21h1v1h-1zM15 21h2v1h-2zM11 22h1v1h-1zM16 22h1v1h-1zM16 23h1v1h-1zM12 24h2v1h-2z"/><path fill="#4433cc" d="M16 6h1v1h-1zM30 6h1v1h-1zM17 17h1v1h-1zM17 19h1v1h-1zM10 21h1v1h-1z"/><path fill="#463adc" d="M10 0h1v1h-1zM10 1h1v1h-1zM26 4h1v1h-1zM15 6h1v1h-1zM30 7h1v1h-1zM30 8h1v1h-1zM30 9h1v1h-1zM24 10h1v1h-1zM28 10h1v1h-1zM9 19h1v1h-1zM17 20h1v1h-1zM17 21h1v1h-1zM17 22h1v1h-1z"/><path fill="#4743e7" d="M31 0h3v1h-3zM31 1h3v1h-3zM31 2h3v1h-3zM24 4h2v1h-2zM23 5h1v1h-1zM23 6h1v1h-1zM23 7h1v1h-1zM27 10h1v1h-1zM29 10h1v1h-1zM9 20h1v1h-1zM10 22h1v1h-1zM11 23h1v1h-1zM33 24h1v1h-1zM33 25h1v1h-1zM33 26h1v1h-1zM33 27h1v1h-1zM33 28h1v1h-1zM33 29h1v1h-1z"/><path fill="#484cef" d="M9 0h1v1h-1zM9 1h1v1h-1zM31 3h3v1h-3zM2 5h1v1h-1zM17 5h1v1h-1zM23 8h1v1h-1zM23 9h1v1h-1zM25 10h2v1h-2zM8 11h2v1h-2zM8 12h2v1h-2zM18 15h3v1h-3zM0 18h9v1h-9zM14 24h1v1h-1z"/><path fill="#4755f6" d="M16 4h1v1h-1zM19 4h2v1h-2zM23 10h1v1h-1zM7 11h1v1h-1zM7 12h1v1h-1zM17 15h1v1h-1zM9 18h1v1h-1zM0 20h9v1h-9zM0 21h10v1h-10zM0 22h10v1h-10zM0 23h11v1h-11zM17 23h1v1h-1zM32 24h1v1h-1zM32 25h1v1h-1zM32 26h1v1h-1zM32 27h1v1h-1zM32 28h1v1h-1zM32 29h1v1h-1z"/><path fill="#465efb" d="M10 2h1v1h-1zM15 4h1v1h-1zM21 4h1v1h-1zM23 4h1v1h-1zM18 5h1v1h-1zM17 6h1v1h-1zM16 18h2v1h-2zM8 19h1v1h-1zM33 23h1v1h-1zM15 24h1v1h-1zM0 26h12v1h-12zM0 27h7v1h-7zM0 28h6v1h-6zM0 29h6v1h-6z"/><path fill="#4367fd" d="M9 2h1v1h-1zM18 6h1v1h-1zM30 10h1v1h-1zM10 18h6v1h-6zM0 19h8v1h-8zM32 23h1v1h-1zM11 24h1v1h-1zM0 25h12v1h-12zM7 27h5v1h-5zM6 28h1v1h-1zM6 29h1v1h-1z"/><path fill="#3d70ff" d="M0 17h8v1h-8zM0 24h11v1h-11zM16 24h1v1h-1zM12 25h1v1h-1zM12 26h1v1h-1zM12 27h1v1h-1z"/><path fill="#347afd" d="M2 4h1v1h-1zM17 4h1v1h-1zM31 4h1v1h-1zM10 11h1v1h-1zM10 12h1v1h-1zM8 17h1v1h-1zM7 28h1v1h-1z"/><path fill="#2e83f9" d="M18 4h1v1h-1zM2 6h1v1h-1zM18 18h1v1h-1zM18 19h1v1h-1zM18 20h1v1h-1zM18 21h1v1h-1zM7 29h1v1h-1z"/><path fill="#2d8cf3" d="M32 4h2v1h-2zM3 5h1v1h-1zM31 5h1v1h-1zM16 16h1v1h-1zM21 16h1v1h-1zM16 17h1v1h-1zM21 17h1v1h-1zM19 20h4v1h-4zM19 21h4v1h-4zM18 22h5v1h-5zM31 23h1v1h-1zM31 24h1v1h-1zM13 25h1v1h-1zM31 25h1v1h-1zM13 26h1v1h-1zM31 26h1v1h-1zM31 27h1v1h-1zM8 28h4v1h-4zM31 28h1v1h-1zM31 29h1v1h-1z"/><path fill="#2994ed" d="M0 0h2v1h-2zM0 1h2v1h-2zM0 2h2v1h-2zM26 3h1v1h-1zM22 5h1v1h-1zM22 6h1v1h-1zM16 15h1v1h-1zM9 17h1v1h-1zM19 18h2v1h-2zM19 19h3v1h-3zM23 22h1v1h-1zM21 23h10v1h-10zM17 24h1v1h-1zM22 24h9v1h-9zM22 25h9v1h-9zM22 26h9v1h-9zM13 27h1v1h-1zM22 27h9v1h-9zM12 28h1v1h-1zM22 28h9v1h-9zM22 29h9v1h-9z"/><path fill="#259ce7" d="M2 0h1v1h-1zM26 0h1v1h-1zM2 1h1v1h-1zM26 1h1v1h-1zM2 2h1v1h-1zM26 2h1v1h-1zM0 3h3v1h-3zM1 4h1v1h-1zM3 4h1v1h-1zM1 5h1v1h-1zM20 7h1v1h-1zM21 15h1v1h-1zM22 19h1v1h-1zM24 22h3v1h-3zM32 22h2v1h-2zM18 23h3v1h-3zM21 24h1v1h-1zM21 25h1v1h-1zM21 26h1v1h-1zM21 27h1v1h-1zM21 28h1v1h-1zM8 29h1v1h-1zM21 29h1v1h-1z"/><path fill="#21a3e3" d="M8 0h1v1h-1zM8 1h1v1h-1zM0 4h1v1h-1zM22 4h1v1h-1zM0 5h1v1h-1zM14 5h1v1h-1zM32 5h2v1h-2zM1 6h1v1h-1zM3 6h1v1h-1zM14 6h1v1h-1zM31 6h1v1h-1zM19 7h1v1h-1zM21 7h1v1h-1zM6 11h1v1h-1zM23 11h2v1h-2zM6 12h1v1h-1zM7 13h3v1h-3zM8 14h2v1h-2zM7 15h3v1h-3zM0 16h16v1h-16zM10 17h6v1h-6zM21 18h1v1h-1zM23 20h1v1h-1zM23 21h1v1h-1zM27 22h5v1h-5zM20 24h1v1h-1zM13 28h1v1h-1zM9 29h4v1h-4z"/><path fill="#1caadf" d="M8 2h1v1h-1zM14 4h1v1h-1zM0 6h1v1h-1zM32 6h2v1h-2zM0 7h3v1h-3zM31 7h1v1h-1zM0 8h3v1h-3zM31 8h1v1h-1zM0 9h3v1h-3zM0 10h5v1h-5zM7 10h4v1h-4zM0 11h6v1h-6zM0 12h6v1h-6zM0 13h7v1h-7zM10 13h1v1h-1zM0 14h8v1h-8zM10 14h1v1h-1zM0 15h7v1h-7zM10 15h6v1h-6zM20 25h1v1h-1zM20 26h1v1h-1zM20 27h1v1h-1zM20 28h1v1h-1zM13 29h1v1h-1zM20 29h1v1h-1z"/><path fill="#13b0d7" d="M3 0h1v1h-1zM7 0h1v1h-1zM3 1h1v1h-1zM7 1h1v1h-1zM3 2h1v1h-1zM3 3h1v1h-1zM15 7h4v1h-4zM22 7h1v1h-1zM32 7h2v1h-2zM32 8h2v1h-2zM3 9h1v1h-1zM31 9h3v1h-3zM5 10h2v1h-2zM11 11h1v1h-1zM25 11h1v1h-1zM17 14h4v1h-4zM23 19h1v1h-1zM18 24h2v1h-2z"/><path fill="#05b6ce" d="M11 0h1v1h-1zM11 1h1v1h-1zM7 2h1v1h-1zM8 3h3v1h-3zM3 7h1v1h-1zM14 7h1v1h-1zM3 8h1v1h-1zM4 9h1v1h-1zM11 10h1v1h-1zM33 10h1v1h-1zM12 11h11v1h-11zM26 11h2v1h-2zM11 12h16v1h-16zM11 13h12v1h-12zM11 14h6v1h-6zM21 14h1v1h-1zM24 21h1v1h-1zM14 25h1v1h-1zM14 26h1v1h-1zM14 27h1v1h-1z"/><path fill="#02bac4" d="M4 0h3v1h-3zM4 1h3v1h-3zM4 2h3v1h-3zM11 2h1v1h-1zM4 3h1v1h-1zM7 3h1v1h-1zM4 4h1v1h-1zM4 5h1v1h-1zM4 6h1v1h-1zM4 7h1v1h-1zM4 8h1v1h-1zM5 9h1v1h-1zM12 10h1v1h-1zM14 10h9v1h-9zM31 10h2v1h-2zM23 13h4v1h-4zM25 21h2v1h-2zM15 25h2v1h-2zM19 25h1v1h-1zM14 28h1v1h-1zM14 29h1v1h-1z"/><path fill="#12beb9" d="M5 3h2v1h-2zM11 3h1v1h-1zM15 3h11v1h-11zM13 4h1v1h-1zM13 5h1v1h-1zM15 8h8v1h-8zM22 9h1v1h-1zM13 10h1v1h-1zM33 11h1v1h-1zM27 21h2v1h-2zM32 21h2v1h-2zM17 25h2v1h-2zM15 26h5v1h-5zM15 27h5v1h-5zM15 28h5v1h-5zM15 29h5v1h-5z"/><path fill="#24c2ae" d="M13 3h2v1h-2zM5 4h1v1h-1zM5 5h1v1h-1zM5 6h1v1h-1zM13 6h1v1h-1zM5 7h1v1h-1zM13 7h1v1h-1zM5 8h1v1h-1zM12 8h3v1h-3zM6 9h16v1h-16zM28 11h1v1h-1zM27 12h1v1h-1zM22 14h1v1h-1zM26 14h1v1h-1zM22 18h1v1h-1zM24 19h1v1h-1zM24 20h1v1h-1zM29 21h3v1h-3z"/><path fill="#2fc5a2" d="M12 3h1v1h-1zM6 4h1v1h-1zM12 4h1v1h-1zM12 7h1v1h-1zM29 11h1v1h-1zM32 11h1v1h-1zM23 14h3v1h-3zM22 15h1v1h-1zM22 16h1v1h-1zM22 17h1v1h-1zM25 19h1v1h-1zM25 20h1v1h-1z"/><path fill="#39c895" d="M12 0h14v1h-14zM12 1h1v1h-1zM23 1h3v1h-3zM12 2h2v1h-2zM22 2h4v1h-4zM7 4h5v1h-5zM6 5h1v1h-1zM12 5h1v1h-1zM6 6h1v1h-1zM12 6h1v1h-1zM6 7h1v1h-1zM6 8h1v1h-1zM11 8h1v1h-1zM30 11h2v1h-2zM23 18h2v1h-2zM26 20h1v1h-1z"/><path fill="#48cb86" d="M13 1h10v1h-10zM14 2h8v1h-8zM7 8h1v1h-1zM27 13h1v1h-1zM23 15h3v1h-3zM23 16h3v1h-3zM23 17h3v1h-3zM25 18h2v1h-2zM26 19h1v1h-1zM27 20h1v1h-1zM33 20h1v1h-1z"/><path fill="#5ccc76" d="M8 8h3v1h-3zM33 12h1v1h-1zM26 15h1v1h-1zM32 20h1v1h-1z"/><path fill="#71cd64" d="M7 5h1v1h-1zM7 6h1v1h-1zM7 7h1v1h-1zM11 7h1v1h-1zM26 16h1v1h-1zM26 17h1v1h-1zM27 19h1v1h-1zM28 20h1v1h-1zM31 20h1v1h-1z"/><path fill="#88cb53" d="M11 5h1v1h-1zM11 6h1v1h-1zM28 12h1v1h-1zM32 12h1v1h-1zM27 14h1v1h-1zM33 19h1v1h-1zM29 20h2v1h-2z"/><path fill="#9fc942" d="M8 5h3v1h-3zM8 7h1v1h-1zM10 7h1v1h-1z"/><path fill="#b4c533" d="M8 6h3v1h-3zM9 7h1v1h-1zM29 12h1v1h-1zM31 12h1v1h-1zM27 18h1v1h-1zM28 19h1v1h-1zM32 19h1v1h-1z"/><path fill="#c8c129" d="M30 12h1v1h-1z"/><path fill="#dabd28" d="M33 13h1v1h-1zM33 18h1v1h-1zM29 19h3v1h-3z"/><path fill="#f8ba3d" d="M28 13h1v1h-1zM32 13h1v1h-1zM27 15h1v1h-1zM27 17h1v1h-1zM28 18h1v1h-1zM32 18h1v1h-1z"/><path fill="#feca33" d="M29 13h1v1h-1zM31 13h1v1h-1zM27 16h1v1h-1zM29 18h1v1h-1zM31 18h1v1h-1z"/><path fill="#fad42e" d="M30 13h1v1h-1zM30 18h1v1h-1z"/><path fill="#f6de29" d="M28 14h1v1h-1zM33 14h1v1h-1zM33 17h1v1h-1z"/><path fill="#f5e825" d="M32 14h1v1h-1zM28 17h1v1h-1zM32 17h1v1h-1z"/><path fill="#f6f21e" d="M28 15h1v1h-1z"/><path fill="#f9fb15" d="M29 14h3v1h-3zM29 15h5v1h-5zM28 16h6v1h-6zM29 17h3v1h-3z"/></g>
<g class="a"><text x="-1 12 25 37 50 63 75 88 100 113 125 138 151 164 178 191 204 217 230 242 255 268 281 294 308 321 335 348 361 373 385 398 410 423" y="3 3 3 3 3 3 3 3 4 5 6 7 9 10 11 12 12 12 12 12 12 12 13 13 13 14 14 14 14 14 14 14 14 14" rotate="65 65 65 65 65 64 63 60 56 50 42 31 19 6 355 349 346 345 345 345 346 345 342 337 329 321 315 313 313 314 316 318 319 320">➛➛➛➛➛➛➛➛➛➛➛➛➛➛➛➛➛➛➛➛➛➛➛➛➛➛➛➛➛➛➛➛➛➛</text><text x="0 12 25 38 50 63 76 88 100 113 125 138 151 164 178 191 204 217 230 242 255 268 281 295 309 323 336 349 361 373 386 398 411 423" y="15 15 15 15 15 15 15 15 16 17 18 19 21 22 24 24 25 25 25 25 25 25 25 26 26 26 26 26 26 26 26 26 26 26" rotate="67 67 67 67 67 67 66 63 59 52 44 34 22 8 356 349 346 345 345 345 346 345 341 332 322 312 307 306 308 311 315 317 318 319">➛➛➛➛➛➛➛➛➛➛➛➛➛➛➛➛➛➛➛➛➛➛➛➛➛➛➛➛➛➛➛➛➛➛</text><text x="0 12 25 38 50 63 76 88 101 113 125 138 151 164 178 191 204 217 230 242 255 268 281 295 310 324 337 350 362 374 386 398 410 423" y="27 27 27 27 27 27 27 27 28 29 30 31 32 34 36 37 37 37 37 37 37 37 38 38 39 39 39 39 39 39 39 39 39 39" rotate="70 69 68 68 68 69 68 66 60 52 44 36 26 13 359 351 347 345 345 346 346 344 338 326 312 301 296 297 302 309 314 317 319 319">➛➛➛➛➛➛➛➛➛➛➛➛➛➛➛➛➛➛➛➛➛➛➛➛➛➛➛➛➛➛➛➛➛➛</text><text x="0 13 25 38 50 63 76 88 100 113 125 138 151 164 177 191 204 217 230 242 255 268 282 297 312 326 339 351 363 374 386 398 410 423" y="39 39 39 39 39 39 39 39 40 42 43 43 44 46 47 48 49 49 49 49 49 50 50 51 51 51 50 51 51 51 51 51 51 51" rotate="73 72 70 69 69 70 70 67 59 49 42 37 30 18 5 355 350 347 347 347 347 344 334 317 300 289 286 288 295 306 315 318 319 320">➛➛➛➛➛➛➛➛➛➛➛➛➛➛➛➛➛➛➛➛➛➛➛➛➛➛➛➛➛➛➛➛➛➛</text><text x="0 13 25 38 50 63 76 88 100 113 125 138 151 164 177 190 203 216 229 242 255 268 282 298 313 327 340 352 364 375 386 398 410 423" y="51 51 51 51 51 51 51 52 54 55 55 56 56 57 59 60 61 61 61 61 61 62 63 63 63 62 62 62 63 63 63 63 63 63" rotate="76 75 73 70 69 70 70 66 53 42 39 37 32 24 12 3 357 353 352 351 349 343 329 306 289 280 277 279 287 303 316 319 320 320">➛➛➛➛➛➛➛➛➛➛➛➛➛➛➛➛➛➛➛➛➛➛➛➛➛➛➛➛➛➛➛➛➛➛</text><text x="1 13 26 38 50 63 76 88 100 113 125 138 151 163 176 190 203 215 228 241 254 268 283 299 314 328 340 353 365 375 386 398 410 423" y="63 63 63 63 64 64 64 65 67 68 68 68 68 69 71 72 72 72 73 73 73 74 75 76 75 74 74 74 75 76 76 76 76 76" rotate="80 80 77 73 70 69 68 59 42 36 36 36 34 27 18 10 5 2 0 358 355 345 325 299 281 274 272 273 279 298 316 320 320 320">➛➛➛➛➛➛➛➛➛➛➛➛➛➛➛➛➛➛➛➛➛➛➛➛➛➛➛➛➛➛➛➛➛➛</text><text x="1 14 26 38 51 63 75 87 100 113 125 138 151 163 176 189 202 215 228 241 254 267 283 299 314 328 341 353 366 376 386 398 410 423" y="75 75 75 75 76 76 77 79 80 81 81 81 81 81 83 83 84 84 84 84 85 86 88 88 87 87 86 86 87 88 88 88 88 88" rotate="83 83 82 78 71 66 61 47 37 35 35 36 34 29 21 14 10 9 7 5 1 350 326 296 278 272 270 271 275 292 313 319 320 320">➛➛➛➛➛➛➛➛➛➛➛➛➛➛➛➛➛➛➛➛➛➛➛➛➛➛➛➛➛➛➛➛➛➛</text><text x="1 14 26 39 51 63 75 87 100 113 125 138 151 163 176 189 202 215 228 240 253 267 282 299 314 328 341 353 366 376 386 398 410 423" y="87 87 87 87 88 89 90 92 93 93 93 93 93 94 95 96 96 96 96 96 97 98 100 100 99 99 99 99 99 100 100 100 100 100" rotate="84 85 84 82 75 65 55 44 37 35 35 36 34 29 21 15 12 10 10 9 6 357 334 299 279 272 270 271 274 289 309 317 319 320">➛➛➛➛➛➛➛➛➛➛➛➛➛➛➛➛➛➛➛➛➛➛➛➛➛➛➛➛➛➛➛➛➛➛</text><text x="1 14 26 39 51 63 75 87 100 113 125 138 151 163 176 189 202 215 228 240 253 266 280 297 313 327 340 353 365 376 387 398 410 423" y="99 99 99 99 100 101 103 104 105 105 105 105 105 106 107 108 108 109 109 109 109 109 111 113 112 112 111 111 112 112 113 113 113 113" rotate="84 85 85 83 77 66 54 45 39 37 37 37 35 29 21 15 11 10 10 10 9 4 345 312 286 276 273 273 278 290 306 315 319 320">➛➛➛➛➛➛➛➛➛➛➛➛➛➛➛➛➛➛➛➛➛➛➛➛➛➛➛➛➛➛➛➛➛➛</text><text x="1 14 26 39 51 63 75 87 100 113 125 138 151 163 176 189 202 215 228 240 253 266 279 295 311 326 339 352 364 375 386 398 410 423" y="112 112 112 112 112 114 115 116 117 117 117 117 117 118 119 120 121 121 121 121 121 121 122 124 125 125 124 124 125 125 125 125 125 125" rotate="84 85 84 82 76 66 56 47 42 40 40 39 37 31 23 15 11 10 10 11 12 9 357 332 303 287 281 281 287 298 309 317 320 322">➛➛➛➛➛➛➛➛➛➛➛➛➛➛➛➛➛➛➛➛➛➛➛➛➛➛➛➛➛➛➛➛➛➛</text><text x="1 14 26 39 51 63 75 87 100 113 125 138 151 163 176 189 202 215 228 240 253 265 278 292 308 323 337 350 362 373 385 397 409 422" y="124 124 124 124 125 126 127 128 128 128 128 128 129 130 131 132 133 133 133 133 132 133 133 135 137 137 137 137 137 137 137 137 137 137" rotate="82 83 82 79 73 65 56 50 47 46 46 46 44 37 27 19 13 11 11 14 17 16 8 352 329 310 301 299 304 312 320 325 327 328">➛➛➛➛➛➛➛➛➛➛➛➛➛➛➛➛➛➛➛➛➛➛➛➛➛➛➛➛➛➛➛➛➛➛</text><text x="0 13 26 38 50 63 75 88 100 113 126 138 151 163 176 189 202 214 227 240 252 265 278 291 305 319 333 346 359 371 383 395 408 421" y="137 137 137 137 138 139 139 140 140 140 139 139 140 141 142 144 144 145 144 144 143 144 145 146 148 149 149 149 149 149 149 149 149 149" rotate="79 79 78 74 68 62 56 53 53 55 57 58 55 47 35 25 20 19 21 26 27 24 16 5 351 339 330 326 328 332 335 337 338 338">➛➛➛➛➛➛➛➛➛➛➛➛➛➛➛➛➛➛➛➛➛➛➛➛➛➛➛➛➛➛➛➛➛➛</text><text x="0 13 25 38 50 62 75 88 100 113 126 139 152 164 176 189 201 214 227 239 252 265 278 291 304 318 331 344 356 369 381 394 407 420" y="150 150 150 151 151 152 152 152 152 151 151 150 151 152 153 155 155 155 155 154 155 155 157 158 159 160 160 160 160 160 160 160 160 160" rotate="72 72 70 66 61 57 55 55 58 63 66 68 66 59 46 34 29 31 36 38 36 31 21 10 1 355 350 347 346 348 349 349 349 348">➛➛➛➛➛➛➛➛➛➛➛➛➛➛➛➛➛➛➛➛➛➛➛➛➛➛➛➛➛➛➛➛➛➛</text><text x="-1 12 24 37 49 62 75 88 101 114 127 139 152 164 176 189 201 214 227 239 252 265 278 291 304 317 330 343 355 368 381 393 406 419" y="163 164 164 164 165 165 165 164 163 163 162 162 162 163 164 166 167 167 166 166 167 167 169 170 171 171 172 172 172 172 172 172 172 172" rotate="63 61 59 55 52 50 51 56 62 68 72 73 72 67 55 41 35 37 39 40 39 33 21 9 3 0 358 356 355 356 357 356 356 354">➛➛➛➛➛➛➛➛➛➛➛➛➛➛➛➛➛➛➛➛➛➛➛➛➛➛➛➛➛➛➛➛➛➛</text><text x="-1 11 24 37 49 62 75 88 101 114 127 140 152 165 177 189 201 214 227 239 252 265 278 291 304 317 330 342 355 368 380 393 406 419" y="177 178 178 179 179 179 178 177 176 175 174 174 174 175 176 178 179 179 179 179 179 180 182 183 184 184 184 184 184 184 184 184 184 184" rotate="51 48 44 41 39 41 45 54 63 70 74 75 74 71 60 45 37 37 39 40 38 31 15 5 2 1 0 359 359 359 359 359 359 358">➛➛➛➛➛➛➛➛➛➛➛➛➛➛➛➛➛➛➛➛➛➛➛➛➛➛➛➛➛➛➛➛➛➛</text><text x="-1 11 24 37 49 62 75 87 101 114 127 140 152 165 177 189 201 214 227 239 252 265 278 292 304 317 330 342 355 368 380 393 406 419" y="191 192 193 193 193 193 192 190 188 187 187 187 187 187 189 191 192 192 191 191 192 193 195 196 196 196 196 196 196 196 196 196 196 196" rotate="37 33 29 26 25 28 36 47 60 69 74 75 74 70 59 44 36 36 37 37 34 23 8 1 0 0 1 0 0 0 0 0 0 359">➛➛➛➛➛➛➛➛➛➛➛➛➛➛➛➛➛➛➛➛➛➛➛➛➛➛➛➛➛➛➛➛➛➛</text><text x="-1 12 24 37 50 62 75 87 100 113 127 139 152 164 176 189 201 214 227 239 252 265 279 292 304 317 330 342 355 368 380 393 406 418" y="205 206 207 207 207 207 206 204 202 200 200 199 199 200 202 204 205 205 204 204 205 207 208 208 208 208 208 208 208 208 208 208 208 208" rotate="26 21 16 13 13 15 22 35 52 64 70 72 71 64 50 36 31 31 33 32 27 15 4 0 0 0 1 1 0 0 0 0 0 0">➛➛➛➛➛➛➛➛➛➛➛➛➛➛➛➛➛➛➛➛➛➛➛➛➛➛➛➛➛➛➛➛➛➛</text><text x="-1 12 25 38 50 63 75 88 100 113 126 139 151 163 176 189 202 214 227 240 252 266 279 292 304 317 330 342 355 368 380 393 406 418" y="219 219 220 220 220 220 220 218 216 214 213 213 214 216 218 219 219 218 218 218 218 220 220 221 221 221 221 221 221 221 221 221 221 221" rotate="18 13 8 6 5 6 11 21 37 51 59 60 55 41 24 16 17 22 25 24 20 11 4 1 0 0 1 1 1 0 0 0 0 0">➛➛➛➛➛➛➛➛➛➛➛➛➛➛➛➛➛➛➛➛➛➛➛➛➛➛➛➛➛➛➛➛➛➛</text><text x="-1 12 25 38 51 63 76 88 100 113 125 138 152 166 179 192 203 215 227 240 253 266 279 292 304 317 330 342 355 368 380 393 406 418" y="232 232 233 233 233 233 233 232 231 229 229 230 232 234 235 235 234 232 231 231 231 232 233 233 233 233 233 233 233 233 233 233 233 233" rotate="14 8 4 2 1 2 4 11 22 32 34 27 8 349 342 345 355 6 14 17 15 10 5 2 1 2 2 3 2 1 1 1 1 1">➛➛➛➛➛➛➛➛➛➛➛➛➛➛➛➛➛➛➛➛➛➛➛➛➛➛➛➛➛➛➛➛➛➛</text><text x="-1 12 25 38 51 63 76 88 101 113 126 141 155 169 182 194 205 216 228 240 253 266 278 291 304 317 329 342 355 367 380 393 406 418" y="244 245 245 245 246 245 245 245 244 244 245 247 248 248 248 248 248 246 245 244 244 244 245 245 245 245 245 245 245 245 245 245 245 245" rotate="12 7 3 1 0 0 2 6 12 14 5 347 330 323 322 326 336 351 4 11 13 11 8 6 5 5 6 6 5 4 3 3 3 3">➛➛➛➛➛➛➛➛➛➛➛➛➛➛➛➛➛➛➛➛➛➛➛➛➛➛➛➛➛➛➛➛➛➛</text><text x="-1 12 25 38 51 64 76 88 101 114 128 143 157 170 183 195 207 218 229 240 253 265 278 291 304 316 329 341 354 367 380 393 405 418" y="256 257 258 258 258 258 258 257 257 257 259 260 261 261 261 261 260 260 258 257 256 256 256 257 257 257 256 256 256 257 257 257 257 257" rotate="13 7 3 1 0 0 2 5 8 4 348 330 320 316 316 319 327 341 357 8 13 13 12 11 11 12 13 13 12 10 8 7 7 8">➛➛➛➛➛➛➛➛➛➛➛➛➛➛➛➛➛➛➛➛➛➛➛➛➛➛➛➛➛➛➛➛➛➛</text><text x="-1 12 25 38 51 63 76 88 101 114 129 143 157 170 183 195 207 218 229 240 253 265 278 290 303 316 328 341 354 366 379 392 405 417" y="268 269 270 270 270 270 270 269 269 270 272 273 273 273 273 273 273 272 271 269 268 268 268 268 267 267 267 267 267 267 268 268 268 268" rotate="17 11 6 3 1 2 4 7 8 0 342 326 318 315 315 317 325 340 357 9 15 18 19 20 22 25 28 30 28 24 20 17 16 15">➛➛➛➛➛➛➛➛➛➛➛➛➛➛➛➛➛➛➛➛➛➛➛➛➛➛➛➛➛➛➛➛➛➛</text><text x="-1 12 25 37 50 63 75 88 101 114 129 143 157 170 183 195 206 217 228 240 252 265 277 290 303 316 328 341 354 366 379 392 404 417" y="279 280 281 281 282 282 281 281 281 282 284 285 285 286 286 285 285 284 282 281 280 279 279 278 277 277 276 275 276 276 277 278 279 279" rotate="25 20 14 10 8 8 11 14 12 1 343 328 319 316 316 320 331 349 5 16 21 25 29 34 40 47 53 55 53 48 41 34 29 25">➛➛➛➛➛➛➛➛➛➛➛➛➛➛➛➛➛➛➛➛➛➛➛➛➛➛➛➛➛➛➛➛➛➛</text><text x="-1 11 24 37 49 62 75 87 100 114 128 142 156 169 182 193 204 215 227 240 252 265 277 290 303 317 330 342 355 367 380 392 404 417" y="290 290 290 291 291 291 291 291 292 294 296 297 298 298 298 297 296 294 292 292 291 291 290 289 287 286 286 285 285 286 287 288 289 290" rotate="39 38 36 34 32 32 32 30 23 9 350 335 326 323 324 333 352 11 21 26 29 33 40 49 59 68 74 76 74 70 63 54 45 38">➛➛➛➛➛➛➛➛➛➛➛➛➛➛➛➛➛➛➛➛➛➛➛➛➛➛➛➛➛➛➛➛➛➛</text><text x="-1 12 25 38 50 63 75 88 100 113 127 141 154 167 178 190 201 214 227 239 252 265 278 291 304 318 331 343 356 368 381 393 405 417" y="300 300 299 298 298 298 299 300 302 304 307 308 309 309 308 306 304 303 303 303 303 302 301 299 298 297 297 297 297 297 298 298 300 301" rotate="56 60 64 68 71 69 64 55 42 24 4 349 341 341 351 10 27 33 35 35 36 40 49 61 73 81 85 86 85 82 76 68 60 51">➛➛➛➛➛➛➛➛➛➛➛➛➛➛➛➛➛➛➛➛➛➛➛➛➛➛➛➛➛➛➛➛➛➛</text><text x="0 13 26 39 52 64 77 89 101 113 126 139 152 164 176 189 201 214 227 239 252 265 278 291 305 318 331 344 356 369 381 393 405 417" y="311 310 310 309 309 309 309 310 312 314 317 319 319 318 317 315 314 314 314 314 314 314 312 311 310 309 309 309 309 309 309 310 311 312" rotate="69 75 80 84 86 85 82 74 60 41 21 8 4 11 24 36 42 43 42 41 41 45 56 69 80 86 89 89 89 87 83 77 69 60">➛➛➛➛➛➛➛➛➛➛➛➛➛➛➛➛➛➛➛➛➛➛➛➛➛➛➛➛➛➛➛➛➛➛</text><text x="0 13 27 39 52 65 77 89 101 113 125 138 151 163 176 189 201 214 227 239 252 265 278 292 305 318 331 344 356 369 381 394 406 418" y="322 322 321 321 321 321 321 322 323 325 327 329 329 328 327 326 326 326 326 326 326 326 324 323 322 321 321 321 321 321 321 322 323 323" rotate="76 82 86 89 90 89 87 82 71 54 36 25 23 29 38 43 45 45 44 43 44 48 60 73 83 88 90 90 90 88 85 81 74 66">➛➛➛➛➛➛➛➛➛➛➛➛➛➛➛➛➛➛➛➛➛➛➛➛➛➛➛➛➛➛➛➛➛➛</text><text x="1 14 27 40 52 65 77 90 102 113 125 138 151 163 176 189 201 214 227 239 252 265 278 292 305 318 331 344 356 369 381 394 406 418" y="334 334 334 333 333 333 333 334 335 336 338 340 340 340 339 339 339 339 339 339 339 338 336 335 334 333 333 333 333 333 334 334 335 335" rotate="80 84 88 89 90 90 89 85 76 62 46 35 33 36 41 44 45 45 45 44 45 50 61 75 84 88 90 90 90 88 86 82 76 70">➛➛➛➛➛➛➛➛➛➛➛➛➛➛➛➛➛➛➛➛➛➛➛➛➛➛➛➛➛➛➛➛➛➛</text><text x="1 14 27 40 52 65 77 90 102 114 126 138 151 163 176 189 201 214 227 239 252 265 278 292 305 318 331 344 356 369 381 394 406 418" y="347 346 346 346 346 346 346 346 347 348 350 351 352 352 351 351 351 351 351 351 351 350 349 347 346 346 346 346 346 346 346 346 347 348" rotate="81 85 88 89 90 90 88 85 77 65 51 41 38 39 42 44 45 45 44 44 46 51 61 74 83 87 89 89 89 88 86 82 77 71">➛➛➛➛➛➛➛➛➛➛➛➛➛➛➛➛➛➛➛➛➛➛➛➛➛➛➛➛➛➛➛➛➛➛</text><text x="1 14 27 39 52 65 77 90 102 114 126 138 151 163 176 189 201 214 227 239 252 265 278 291 305 318 331 344 356 369 381 394 406 418" y="359 359 358 358 358 358 358 359 359 361 362 363 364 364 364 363 363 363 363 363 363 362 361 360 359 358 358 358 358 358 359 359 359 360" rotate="81 84 87 88 89 88 87 83 76 66 54 45 41 41 42 43 44 44 44 44 46 51 61 72 80 85 87 88 88 86 84 81 76 71">➛➛➛➛➛➛➛➛➛➛➛➛➛➛➛➛➛➛➛➛➛➛➛➛➛➛➛➛➛➛➛➛➛➛</text></g>
<path class="ct" d="M99.5 65.8C102.2 62.6 105.4 62.3 111.3 61.8C117.2 61.2 129 61.5 134.9 62.4C140.8 63.4 144.2 64.4 146.7 67.5C149.2 70.6 149.9 76.2 150.1 81C150.2 85.8 150.2 93 147.7 96.2C145.2 99.4 141 99.5 134.9 100.2C128.8 100.9 117.2 100.9 111.3 100.2C105.4 99.5 102.2 99.4 99.5 96.2C96.8 93 95.1 86.1 95.1 81C95.1 75.9 96.8 69 99.5 65.8z"/>
<path class="ct" d="M428.3 172.1C426.6 170.1 423.3 163.3 418.2 160.3C413.2 157.2 407 152.4 398 153.5C389 154.6 373.8 161.9 364.2 167C354.7 172.1 345.4 177.7 340.6 183.9C335.9 190 335.3 196.8 335.6 204.1C335.9 211.4 337.5 222.1 342.3 227.7C347.1 233.3 355.5 236.7 364.2 237.8C373 239 386.2 236.7 394.6 234.5C403 232.2 409.5 228.3 414.8 224.3C420.2 220.4 424.7 213.1 426.6 210.8"/>
<path d="M0 0H431V370.4H0zM43.1 0L44.9 9.5L46.8 19L48.7 28.5L50.7 38L52.8 47.5L55 57L57.3 66.5L59.7 76L62.1 85.5L64.7 95L67.4 104.5L70.2 114L73.1 123.5L76.1 133L79.3 142.5L82.6 152L86 161.5L89.6 171L93.3 180.5L97.2 189.9L101.2 199.4L105.4 208.9L109.8 218.4L114.3 227.9L119.1 237.4L124 246.9L129.2 256.4L134.5 265.9L140.1 275.4L145.9 284.9L152 294.4L158.3 303.9L164.8 313.4L171.7 322.9L178.8 332.4L186.2 341.9L193.9 351.4L202 360.9L210.3 370.4L220.7 370.4L229 360.9L237.1 351.4L244.8 341.9L252.2 332.4L259.3 322.9L266.2 313.4L272.7 303.9L279 294.4L285.1 284.9L290.9 275.4L296.5 265.9L301.8 256.4L307 246.9L311.9 237.4L316.7 227.9L321.2 218.4L325.6 208.9L329.8 199.4L333.8 189.9L337.7 180.5L341.4 171L345 161.5L348.4 152L351.7 142.5L354.9 133L357.9 123.5L360.8 114L363.6 104.5L366.3 95L368.9 85.5L371.3 76L373.7 66.5L376 57L378.2 47.5L380.3 38L382.3 28.5L384.2 19L386.1 9.5L387.9 0z" fill="#fff" fill-opacity="0.5" fill-rule="evenodd"/>
<path d="M43.1 0L44.9 9.5L46.8 19L48.7 28.5L50.7 38L52.8 47.5L55 57L57.3 66.5L59.7 76L62.1 85.5L64.7 95L67.4 104.5L70.2 114L73.1 123.5L76.1 133L79.3 142.5L82.6 152L86 161.5L89.6 171L93.3 180.5L97.2 189.9L101.2 199.4L105.4 208.9L109.8 218.4L114.3 227.9L119.1 237.4L124 246.9L129.2 256.4L134.5 265.9L140.1 275.4L145.9 284.9L152 294.4L158.3 303.9L164.8 313.4L171.7 322.9L178.8 332.4L186.2 341.9L193.9 351.4L202 360.9L210.3 370.4L220.7 370.4L229 360.9L237.1 351.4L244.8 341.9L252.2 332.4L259.3 322.9L266.2 313.4L272.7 303.9L279 294.4L285.1 284.9L290.9 275.4L296.5 265.9L301.8 256.4L307 246.9L311.9 237.4L316.7 227.9L321.2 218.4L325.6 208.9L329.8 199.4L333.8 189.9L337.7 180.5L341.4 171L345 161.5L348.4 152L351.7 142.5L354.9 133L357.9 123.5L360.8 114L363.6 104.5L366.3 95L368.9 85.5L371.3 76L373.7 66.5L376 57L378.2 47.5L380.3 38L382.3 28.5L384.2 19L386.1 9.5L387.9 0" fill="none" stroke="#000" stroke-width="1"/>
</g>
<path d="M6.3 370.4v-4M69.7 370.4v-4M133.1 370.4v-4M196.5 370.4v-4M259.9 370.4v-4M323.2 370.4v-4M386.6 370.4v-4M0 140.7h4M431 140.7h-4M0 289h4M431 289h-4" stroke="#333" fill="none" stroke-width="1"/>
<rect x="0" y="0" width="431" height="370.4" fill="none" stroke="#333" stroke-width="1.2"/>
</g>
<rect x="1012.3" y="462" width="23.7" height="370.4" fill="url(#cb)" stroke="#333" stroke-width="1"/>
<path d="M1036 523.7h-3M1036 585.5h-3M1036 647.2h-3M1036 708.9h-3M1036 770.7h-3" stroke="#333" fill="none"/>
<g class="cl"><text x="1042.5" y="466.5">8</text><text x="1042.5" y="528.2">4</text><text x="1042.5" y="590">2</text><text x="1042.5" y="651.7">1</text><text x="1042.5" y="713.4">1/2</text><text x="1042.5" y="775.2">1/4</text><text x="1042.5" y="836.9">1/8</text></g>
<g class="xl"><text x="576.8" y="853.3">1985</text><text x="640.2" y="853.3">1990</text><text x="703.6" y="853.3">1995</text><text x="767" y="853.3">2000</text><text x="830.4" y="853.3">2005</text><text x="893.8" y="853.3">2010</text><text x="957.1" y="853.3">2015</text></g>
<g class="yl" text-anchor="end"><text x="563.5" y="607.2">4</text><text x="563.5" y="755.5">8</text></g>
<text class="ti" x="786.3" y="454.3">XWT: SPEI-R20mm</text>
<text class="xa" font-size="16" x="787" y="874">Year</text>
<text class="ya" font-size="16" transform="translate(547,645.9) rotate(-90)">Cycles per year</text>
<g transform="translate(1108.2,467)">
<clipPath id="c5"><rect width="434.4" height="373.8"/></clipPath>
<g clip-path="url(#c5)">
<g transform="scale(12.7765,12.46)" shape-rendering="crispEdges"><path fill="#2994ed" d="M23 8h3v1h-3z"/><path fill="#259ce7" d="M28 1h1v1h-1zM28 2h1v1h-1zM28 3h1v1h-1zM28 4h1v1h-1zM23 7h3v1h-3zM22 8h1v1h-1zM26 8h1v1h-1zM22 9h4v1h-4z"/><path fill="#21a3e3" d="M28 0h1v1h-1zM29 1h1v1h-1zM27 2h1v1h-1zM29 2h1v1h-1zM27 3h1v1h-1zM29 3h1v1h-1zM27 4h1v1h-1zM29 4h1v1h-1zM28 5h1v1h-1zM28 6h1v1h-1zM22 7h1v1h-1zM26 7h2v1h-2zM21 8h1v1h-1zM27 8h1v1h-1zM21 9h1v1h-1zM26 9h1v1h-1z"/><path fill="#1caadf" d="M27 0h1v1h-1zM29 0h1v1h-1zM27 1h1v1h-1zM27 5h1v1h-1zM29 5h1v1h-1zM26 6h2v1h-2zM29 6h1v1h-1zM20 7h2v1h-2zM28 7h1v1h-1zM20 8h1v1h-1zM28 8h1v1h-1zM20 9h1v1h-1zM27 9h1v1h-1zM21 10h6v1h-6z"/><path fill="#13b0d7" d="M26 5h1v1h-1zM22 6h4v1h-4zM19 7h1v1h-1zM29 7h1v1h-1zM19 8h1v1h-1zM19 9h1v1h-1zM28 9h1v1h-1zM20 10h1v1h-1zM27 10h1v1h-1z"/><path fill="#05b6ce" d="M30 0h1v1h-1zM30 1h1v1h-1zM30 2h1v1h-1zM30 3h1v1h-1zM26 4h1v1h-1zM30 4h1v1h-1zM30 5h1v1h-1zM20 6h2v1h-2zM30 6h1v1h-1zM29 8h1v1h-1zM29 9h1v1h-1zM19 10h1v1h-1zM28 10h1v1h-1zM20 11h4v1h-4z"/><path fill="#02bac4" d="M26 0h1v1h-1zM26 1h1v1h-1zM26 2h1v1h-1zM26 3h1v1h-1zM19 6h1v1h-1zM30 7h1v1h-1zM29 10h1v1h-1zM19 11h1v1h-1zM24 11h2v1h-2z"/><path fill="#12beb9" d="M10 0h2v1h-2zM25 5h1v1h-1zM31 5h1v1h-1zM31 6h1v1h-1zM18 7h1v1h-1zM18 8h1v1h-1zM30 8h1v1h-1zM18 9h1v1h-1zM26 11h2v1h-2z"/><path fill="#24c2ae" d="M9 0h1v1h-1zM31 0h1v1h-1zM10 1h1v1h-1zM31 1h1v1h-1zM31 2h1v1h-1zM31 3h1v1h-1zM31 4h1v1h-1zM20 5h5v1h-5zM18 6h1v1h-1zM31 7h1v1h-1zM30 9h1v1h-1zM18 10h1v1h-1zM28 11h1v1h-1zM20 12h1v1h-1zM13 18h4v1h-4zM14 19h2v1h-2zM0 20h9v1h-9zM0 21h9v1h-9z"/><path fill="#2fc5a2" d="M12 0h1v1h-1zM9 1h1v1h-1zM11 1h1v1h-1zM25 3h1v1h-1zM25 4h1v1h-1zM18 5h2v1h-2zM32 6h1v1h-1zM31 8h1v1h-1zM30 10h1v1h-1zM18 11h1v1h-1zM29 11h1v1h-1zM19 12h1v1h-1zM21 12h2v1h-2zM14 17h3v1h-3zM6 19h1v1h-1zM13 19h1v1h-1zM16 19h1v1h-1zM9 20h1v1h-1zM9 21h1v1h-1z"/><path fill="#39c895" d="M8 0h1v1h-1zM25 0h1v1h-1zM32 0h1v1h-1zM12 1h1v1h-1zM25 1h1v1h-1zM32 1h1v1h-1zM10 2h1v1h-1zM25 2h1v1h-1zM32 2h1v1h-1zM32 3h1v1h-1zM21 4h4v1h-4zM32 4h1v1h-1zM32 5h1v1h-1zM17 6h1v1h-1zM17 7h1v1h-1zM32 7h1v1h-1zM31 9h1v1h-1zM23 12h1v1h-1zM13 17h1v1h-1zM12 18h1v1h-1zM17 18h1v1h-1zM4 19h2v1h-2zM7 19h2v1h-2zM12 19h1v1h-1zM10 20h1v1h-1zM13 20h2v1h-2zM10 21h1v1h-1z"/><path fill="#48cb86" d="M24 0h1v1h-1zM8 1h1v1h-1zM24 1h1v1h-1zM9 2h1v1h-1zM11 2h2v1h-2zM24 2h1v1h-1zM24 3h1v1h-1zM17 4h4v1h-4zM17 5h1v1h-1zM33 5h1v1h-1zM33 6h1v1h-1zM33 7h1v1h-1zM17 8h1v1h-1zM32 8h1v1h-1zM32 9h1v1h-1zM31 10h1v1h-1zM30 11h1v1h-1zM18 12h1v1h-1zM24 12h2v1h-2zM18 13h3v1h-3zM13 16h5v1h-5zM12 17h1v1h-1zM17 17h1v1h-1zM6 18h1v1h-1zM2 19h2v1h-2zM9 19h3v1h-3zM17 19h1v1h-1zM11 20h2v1h-2zM15 20h1v1h-1zM0 22h9v1h-9z"/><path fill="#5ccc76" d="M13 0h1v1h-1zM21 0h3v1h-3zM33 0h1v1h-1zM13 1h1v1h-1zM20 1h4v1h-4zM33 1h1v1h-1zM13 2h11v1h-11zM33 2h1v1h-1zM10 3h14v1h-14zM33 3h1v1h-1zM14 4h3v1h-3zM33 4h1v1h-1zM16 5h1v1h-1zM16 6h1v1h-1zM33 8h1v1h-1zM33 9h1v1h-1zM32 10h2v1h-2zM31 11h1v1h-1zM26 12h1v1h-1zM7 13h4v1h-4zM17 13h1v1h-1zM21 13h1v1h-1zM6 14h14v1h-14zM6 15h1v1h-1zM11 15h8v1h-8zM6 16h1v1h-1zM12 16h1v1h-1zM18 16h1v1h-1zM6 17h1v1h-1zM18 17h1v1h-1zM5 18h1v1h-1zM7 18h1v1h-1zM11 18h1v1h-1zM0 19h2v1h-2zM16 20h1v1h-1zM11 21h1v1h-1zM9 22h1v1h-1z"/><path fill="#71cd64" d="M7 0h1v1h-1zM20 0h1v1h-1zM14 1h1v1h-1zM19 1h1v1h-1zM8 2h1v1h-1zM9 3h1v1h-1zM12 4h2v1h-2zM15 5h1v1h-1zM17 9h1v1h-1zM17 10h1v1h-1zM32 11h2v1h-2zM17 12h1v1h-1zM27 12h1v1h-1zM5 13h2v1h-2zM11 13h2v1h-2zM16 13h1v1h-1zM5 14h1v1h-1zM5 15h1v1h-1zM7 15h1v1h-1zM10 15h1v1h-1zM19 15h1v1h-1zM5 16h1v1h-1zM5 17h1v1h-1zM7 17h1v1h-1zM4 18h1v1h-1zM8 18h1v1h-1zM18 18h1v1h-1zM12 21h3v1h-3zM10 22h1v1h-1z"/><path fill="#88cb53" d="M14 0h1v1h-1zM7 1h1v1h-1zM15 1h1v1h-1zM18 1h1v1h-1zM8 3h1v1h-1zM10 4h2v1h-2zM14 5h1v1h-1zM15 6h1v1h-1zM16 7h1v1h-1zM17 11h1v1h-1zM5 12h6v1h-6zM28 12h2v1h-2zM13 13h3v1h-3zM22 13h1v1h-1zM20 14h1v1h-1zM8 15h2v1h-2zM7 16h1v1h-1zM11 16h1v1h-1zM19 16h1v1h-1zM11 17h1v1h-1zM9 18h2v1h-2zM18 19h1v1h-1zM17 20h1v1h-1zM15 21h1v1h-1zM11 22h1v1h-1zM28 24h6v1h-6zM24 25h10v1h-10zM24 26h10v1h-10zM23 27h11v1h-11zM22 28h12v1h-12zM21 29h13v1h-13z"/><path fill="#9fc942" d="M19 0h1v1h-1zM16 1h2v1h-2zM7 2h1v1h-1zM9 4h1v1h-1zM13 5h1v1h-1zM5 11h1v1h-1zM4 12h1v1h-1zM11 12h1v1h-1zM16 12h1v1h-1zM30 12h2v1h-2zM4 13h1v1h-1zM23 13h1v1h-1zM4 14h1v1h-1zM4 15h1v1h-1zM20 15h1v1h-1zM4 16h1v1h-1zM4 17h1v1h-1zM19 17h1v1h-1zM3 18h1v1h-1zM16 21h1v1h-1zM12 22h1v1h-1zM0 23h10v1h-10zM30 23h4v1h-4zM25 24h3v1h-3zM23 26h1v1h-1zM22 27h1v1h-1zM21 28h1v1h-1zM20 29h1v1h-1z"/><path fill="#b4c533" d="M6 0h1v1h-1zM15 0h1v1h-1zM8 4h1v1h-1zM12 5h1v1h-1zM14 6h1v1h-1zM16 8h1v1h-1zM4 9h1v1h-1zM4 10h2v1h-2zM4 11h1v1h-1zM6 11h1v1h-1zM12 12h2v1h-2zM15 12h1v1h-1zM32 12h2v1h-2zM24 13h1v1h-1zM21 14h1v1h-1zM8 16h1v1h-1zM10 16h1v1h-1zM8 17h1v1h-1zM10 17h1v1h-1zM0 18h3v1h-3zM19 18h1v1h-1zM13 22h1v1h-1zM10 23h1v1h-1zM27 23h3v1h-3zM24 24h1v1h-1zM23 25h1v1h-1zM22 26h1v1h-1zM21 27h1v1h-1zM20 28h1v1h-1z"/><path fill="#c8c129" d="M16 0h3v1h-3zM6 1h1v1h-1zM7 3h1v1h-1zM10 5h2v1h-2zM4 6h1v1h-1zM4 7h1v1h-1zM15 7h1v1h-1zM4 8h2v1h-2zM5 9h1v1h-1zM16 9h1v1h-1zM6 10h1v1h-1zM7 11h4v1h-4zM16 11h1v1h-1zM14 12h1v1h-1zM25 13h2v1h-2zM22 14h1v1h-1zM9 16h1v1h-1zM20 16h1v1h-1zM3 17h1v1h-1zM9 17h1v1h-1zM19 19h1v1h-1zM18 20h1v1h-1zM17 21h1v1h-1zM14 22h2v1h-2zM32 22h2v1h-2zM11 23h1v1h-1zM25 23h2v1h-2zM23 24h1v1h-1zM19 29h1v1h-1z"/><path fill="#dabd28" d="M6 2h1v1h-1zM3 4h2v1h-2zM7 4h1v1h-1zM3 5h2v1h-2zM9 5h1v1h-1zM3 6h1v1h-1zM5 6h1v1h-1zM13 6h1v1h-1zM3 7h1v1h-1zM5 7h1v1h-1zM14 7h1v1h-1zM3 8h1v1h-1zM15 8h1v1h-1zM3 9h1v1h-1zM6 9h1v1h-1zM3 10h1v1h-1zM16 10h1v1h-1zM3 11h1v1h-1zM11 11h2v1h-2zM3 12h1v1h-1zM3 13h1v1h-1zM27 13h7v1h-7zM3 14h1v1h-1zM3 15h1v1h-1zM21 15h1v1h-1zM3 16h1v1h-1zM2 17h1v1h-1zM20 17h1v1h-1zM20 18h1v1h-1zM16 22h1v1h-1zM29 22h3v1h-3zM12 23h1v1h-1zM24 23h1v1h-1zM0 24h12v1h-12zM22 25h1v1h-1zM21 26h1v1h-1zM20 27h1v1h-1zM19 28h1v1h-1zM18 29h1v1h-1z"/><path fill="#eaba31" d="M2 0h4v1h-4zM2 1h4v1h-4zM2 2h4v1h-4zM2 3h5v1h-5zM2 4h1v1h-1zM5 4h2v1h-2zM2 5h1v1h-1zM5 5h4v1h-4zM2 6h1v1h-1zM6 6h1v1h-1zM9 6h4v1h-4zM2 7h1v1h-1zM6 7h1v1h-1zM13 7h1v1h-1zM2 8h1v1h-1zM6 8h1v1h-1zM14 8h1v1h-1zM2 9h1v1h-1zM7 9h1v1h-1zM15 9h1v1h-1zM2 10h1v1h-1zM7 10h5v1h-5zM15 10h1v1h-1zM2 11h1v1h-1zM13 11h3v1h-3zM2 12h1v1h-1zM2 13h1v1h-1zM2 14h1v1h-1zM23 14h2v1h-2zM2 15h1v1h-1zM22 15h1v1h-1zM2 16h1v1h-1zM21 16h1v1h-1zM0 17h2v1h-2zM20 19h1v1h-1zM19 20h1v1h-1zM18 21h2v1h-2zM32 21h2v1h-2zM17 22h1v1h-1zM27 22h2v1h-2zM13 23h3v1h-3zM23 23h1v1h-1zM12 24h2v1h-2zM22 24h1v1h-1zM0 25h13v1h-13zM21 25h1v1h-1zM0 26h14v1h-14zM20 26h1v1h-1zM0 27h15v1h-15zM19 27h1v1h-1zM0 28h16v1h-16zM18 28h1v1h-1zM0 29h16v1h-16zM17 29h1v1h-1z"/><path fill="#f8ba3d" d="M0 0h2v1h-2zM0 1h2v1h-2zM0 2h2v1h-2zM0 3h2v1h-2zM0 4h2v1h-2zM0 5h2v1h-2zM0 6h2v1h-2zM7 6h2v1h-2zM0 7h2v1h-2zM7 7h6v1h-6zM0 8h2v1h-2zM7 8h7v1h-7zM0 9h2v1h-2zM8 9h7v1h-7zM0 10h2v1h-2zM12 10h3v1h-3zM0 11h2v1h-2zM0 12h2v1h-2zM0 13h2v1h-2zM0 14h2v1h-2zM25 14h9v1h-9zM0 15h2v1h-2zM23 15h1v1h-1zM30 15h4v1h-4zM0 16h2v1h-2zM22 16h1v1h-1zM31 16h3v1h-3zM21 17h1v1h-1zM31 17h3v1h-3zM21 18h1v1h-1zM31 18h3v1h-3zM21 19h1v1h-1zM31 19h3v1h-3zM20 20h2v1h-2zM31 20h3v1h-3zM20 21h3v1h-3zM29 21h3v1h-3zM18 22h9v1h-9zM16 23h7v1h-7zM14 24h8v1h-8zM13 25h8v1h-8zM14 26h6v1h-6zM15 27h4v1h-4zM16 28h2v1h-2zM16 29h1v1h-1z"/><path fill="#fec13a" d="M24 15h6v1h-6zM23 16h2v1h-2zM29 16h2v1h-2zM22 17h2v1h-2zM30 17h1v1h-1zM22 18h1v1h-1zM30 18h1v1h-1zM22 19h2v1h-2zM30 19h1v1h-1zM22 20h2v1h-2zM29 20h2v1h-2zM23 21h6v1h-6z"/><path fill="#feca33" d="M25 16h4v1h-4zM24 17h6v1h-6zM23 18h2v1h-2zM28 18h2v1h-2zM24 19h2v1h-2zM28 19h2v1h-2zM24 20h5v1h-5z"/><path fill="#fad42e" d="M25 18h3v1h-3zM26 19h2v1h-2z"/></g>
<g class="a"><text x="-1 12 25 37 50 63 76 88 101 114 139 153 166 180 193 206 219 232 245 257 269 282 294 307 320 398 411 424" y="3 3 3 3 4 4 4 4 5 5 8 9 11 12 12 13 13 13 13 12 12 12 11 11 11 13 13 13" rotate="62 61 60 58 56 55 53 51 48 44 27 14 0 351 345 342 342 342 344 346 350 354 357 358 357 342 342 342">➛➛➛➛➛➛➛➛➛➛➛➛➛➛➛➛➛➛➛➛➛➛➛➛➛➛➛➛</text><text x="-1 12 25 37 50 63 76 88 101 114 126 139 152 166 180 193 207 219 232 245 257 269 282 294 307 320 398 411 424" y="15 15 15 16 16 16 16 17 17 17 18 20 21 23 25 25 25 25 25 25 25 24 24 24 24 24 25 25 25" rotate="64 63 62 60 58 56 54 53 50 47 41 31 17 1 349 343 341 340 341 342 345 350 354 358 358 356 338 338 339">➛➛➛➛➛➛➛➛➛➛➛➛➛➛➛➛➛➛➛➛➛➛➛➛➛➛➛➛➛</text><text x="0 12 25 38 50 63 76 88 101 114 126 139 152 166 180 194 207 219 232 245 257 269 282 294 307 320 399 412 424" y="27 27 28 28 28 29 29 29 29 29 30 31 33 35 37 38 38 38 38 38 37 37 36 36 36 36 38 38 38" rotate="67 65 64 61 59 57 55 54 53 50 45 37 22 5 351 343 340 340 340 342 346 351 356 359 359 356 335 335 336">➛➛➛➛➛➛➛➛➛➛➛➛➛➛➛➛➛➛➛➛➛➛➛➛➛➛➛➛➛</text><text x="0 12 25 38 50 63 76 88 101 114 127 139 152 165 179 193 206 219 232 245 257 269 281 294 307 320 399 412 425" y="39 40 40 40 41 41 41 41 41 42 42 43 45 47 49 50 50 50 50 50 50 49 48 48 48 49 51 51 51" rotate="69 68 66 63 60 58 56 55 54 53 49 43 31 14 356 346 341 341 341 344 348 354 359 2 0 355 333 333 334">➛➛➛➛➛➛➛➛➛➛➛➛➛➛➛➛➛➛➛➛➛➛➛➛➛➛➛➛➛</text><text x="0 13 25 38 50 63 76 88 101 114 127 139 152 165 178 192 206 219 232 244 256 268 281 294 307 320 399 412 425" y="52 52 52 52 53 53 54 54 54 54 54 55 56 58 60 61 62 62 62 62 61 61 60 60 60 61 63 63 63" rotate="72 71 69 66 61 58 56 55 55 54 52 47 39 27 10 355 347 344 345 349 354 0 5 6 3 356 331 332 333">➛➛➛➛➛➛➛➛➛➛➛➛➛➛➛➛➛➛➛➛➛➛➛➛➛➛➛➛➛</text><text x="0 13 26 38 50 63 76 88 101 114 127 139 152 165 178 191 204 218 231 243 255 268 280 293 306 399 412 425" y="64 64 64 64 65 66 66 66 66 66 66 67 67 68 70 72 73 74 74 73 73 72 72 72 73 76 76 76" rotate="75 74 73 69 63 58 56 55 55 55 54 50 46 39 29 15 3 357 356 359 4 9 12 12 7 330 331 332">➛➛➛➛➛➛➛➛➛➛➛➛➛➛➛➛➛➛➛➛➛➛➛➛➛➛➛➛</text><text x="0 13 26 38 51 63 76 88 101 114 127 139 152 165 177 190 203 216 229 412 425" y="76 76 76 76 77 78 79 79 79 79 79 79 79 80 80 81 83 84 84 88 88" rotate="77 77 76 73 66 59 56 55 55 55 54 52 49 47 43 36 26 17 14 331 332">➛➛➛➛➛➛➛➛➛➛➛➛➛➛➛➛➛➛➛➛➛</text><text x="1 13 26 39 51 63 76 88 101 114 127 139 152 165 178 190 203 216 399 412 425" y="88 88 88 89 89 90 91 91 91 91 91 92 92 92 92 92 93 94 101 101 101" rotate="79 79 79 76 70 61 57 55 55 55 54 52 50 50 49 46 41 35 330 331 332">➛➛➛➛➛➛➛➛➛➛➛➛➛➛➛➛➛➛➛➛➛</text><text x="1 13 26 39 51 63 76 88 101 114 127 139 152 165 178 190 203 216 386 399 412 425" y="101 101 101 101 101 102 103 103 103 103 104 104 104 104 104 104 105 105 113 113 113 113" rotate="80 80 80 78 73 65 59 57 56 56 55 52 50 50 50 49 48 45 332 332 332 334">➛➛➛➛➛➛➛➛➛➛➛➛➛➛➛➛➛➛➛➛➛➛</text><text x="1 13 26 39 51 64 76 89 101 114 127 139 152 165 178 190 203 216 229 386 399 412 424" y="113 113 113 113 114 114 115 115 115 116 116 116 117 117 117 117 116 116 117 125 125 125 125" rotate="80 80 80 79 75 68 63 61 60 59 56 52 50 50 50 51 52 52 50 336 335 336 338">➛➛➛➛➛➛➛➛➛➛➛➛➛➛➛➛➛➛➛➛➛➛➛</text><text x="1 13 26 39 51 64 76 89 102 114 127 140 152 165 178 191 203 216 229 385 398 411 423" y="126 126 126 126 126 127 127 127 127 127 128 128 129 129 129 129 128 128 128 137 137 137 137" rotate="79 80 79 78 75 70 67 66 67 66 62 56 52 51 51 53 57 60 59 344 342 342 344">➛➛➛➛➛➛➛➛➛➛➛➛➛➛➛➛➛➛➛➛➛➛➛</text><text x="0 13 26 39 51 64 77 89 102 115 128 140 152 165 178 191 204 217 230 344 357 371 384 397 410 423" y="138 138 138 138 139 139 139 139 139 139 139 140 141 141 141 140 140 139 139 146 147 148 149 149 149 149" rotate="78 78 78 76 73 71 71 72 74 74 71 64 57 55 55 59 65 71 71 15 6 359 354 351 350 351">➛➛➛➛➛➛➛➛➛➛➛➛➛➛➛➛➛➛➛➛➛➛➛➛➛➛</text><text x="0 13 26 38 51 64 77 90 103 116 128 141 153 165 178 191 205 218 231 243 254 267 280 292 305 318 331 344 357 370 383 396 409 422" y="151 151 151 151 151 151 151 151 151 151 151 151 152 152 152 152 151 150 150 151 154 156 157 157 157 157 158 158 159 160 160 161 161 161" rotate="75 76 75 73 71 71 73 76 78 79 78 73 66 63 63 68 75 81 83 76 52 33 30 30 30 29 24 18 11 5 1 359 358 357">➛➛➛➛➛➛➛➛➛➛➛➛➛➛➛➛➛➛➛➛➛➛➛➛➛➛➛➛➛➛➛➛➛➛</text><text x="0 13 25 38 51 64 77 90 103 116 128 141 153 166 179 192 205 219 231 244 255 267 280 292 305 318 331 344 357 370 383 396 409 422" y="164 164 164 164 164 164 164 163 163 163 163 163 164 164 164 163 163 162 162 162 164 168 169 169 169 170 170 171 172 172 173 173 173 173" rotate="71 71 70 69 69 71 74 78 80 80 79 77 73 70 70 75 82 87 89 87 70 40 32 31 30 27 23 17 11 7 4 2 2 1">➛➛➛➛➛➛➛➛➛➛➛➛➛➛➛➛➛➛➛➛➛➛➛➛➛➛➛➛➛➛➛➛➛➛</text><text x="-1 12 25 38 50 64 77 90 103 116 128 141 154 166 179 192 205 219 232 244 256 267 280 292 305 318 331 344 357 370 383 396 409 422" y="177 177 177 177 177 177 176 176 175 175 175 176 176 176 176 176 175 175 174 175 176 179 181 182 182 183 183 184 184 185 185 185 185 185" rotate="64 63 62 62 64 68 73 77 79 80 79 78 76 75 76 78 84 88 90 89 79 52 36 31 27 23 19 14 9 6 4 3 3 3">➛➛➛➛➛➛➛➛➛➛➛➛➛➛➛➛➛➛➛➛➛➛➛➛➛➛➛➛➛➛➛➛➛➛</text><text x="-1 12 24 37 50 63 76 90 103 115 128 141 154 167 179 192 205 218 231 244 256 267 280 293 306 319 331 344 357 370 383 396 409 422" y="191 191 191 191 191 190 189 188 188 188 188 188 188 188 188 188 188 187 187 187 188 191 194 195 196 196 196 197 197 198 198 198 198 198" rotate="54 52 50 51 54 61 69 75 78 79 79 78 79 80 80 80 83 87 88 87 77 54 34 23 18 15 13 10 6 3 2 2 2 3">➛➛➛➛➛➛➛➛➛➛➛➛➛➛➛➛➛➛➛➛➛➛➛➛➛➛➛➛➛➛➛➛➛➛</text><text x="-1 11 24 37 50 63 76 89 102 115 128 141 154 167 180 192 205 218 231 243 255 267 280 293 306 319 332 345 358 371 383 396 409 422" y="205 206 206 206 206 204 203 202 201 201 201 200 200 200 200 200 200 200 200 200 202 205 208 209 210 210 209 210 210 210 210 210 210 210" rotate="41 37 34 33 37 46 57 68 73 76 78 80 83 83 83 81 81 83 83 79 66 40 19 9 7 7 8 7 3 1 1 1 1 2">➛➛➛➛➛➛➛➛➛➛➛➛➛➛➛➛➛➛➛➛➛➛➛➛➛➛➛➛➛➛➛➛➛➛</text><text x="-1 12 25 38 50 63 75 88 102 115 128 141 154 167 180 192 205 218 230 242 254 267 281 294 307 319 332 345 358 371 383 396 409 422" y="219 220 221 221 221 220 218 216 214 214 213 213 212 212 212 213 213 213 213 214 217 220 222 223 223 223 222 222 223 223 223 223 223 223" rotate="28 22 17 14 15 22 36 53 65 72 78 82 84 85 84 82 79 77 75 67 48 22 7 2 1 3 5 5 2 0 0 0 1 2">➛➛➛➛➛➛➛➛➛➛➛➛➛➛➛➛➛➛➛➛➛➛➛➛➛➛➛➛➛➛➛➛➛➛</text><text x="-1 12 25 38 51 64 76 88 101 115 128 141 154 167 180 193 205 217 230 242 254 268 281 294 307 319 332 345 358 371 383 396 409 422" y="233 234 235 235 235 235 234 231 228 227 226 225 225 225 225 225 225 226 227 228 231 234 235 235 235 235 235 235 235 235 235 235 235 235" rotate="18 10 4 0 0 3 13 32 53 68 77 82 85 85 84 82 78 73 66 54 33 13 3 0 0 1 4 4 2 0 0 0 1 2">➛➛➛➛➛➛➛➛➛➛➛➛➛➛➛➛➛➛➛➛➛➛➛➛➛➛➛➛➛➛➛➛➛➛</text><text x="-1 13 26 39 52 65 77 89 101 114 128 141 154 167 180 192 205 217 229 241 254 268 281 294 307 319 332 345 358 371 383 396 409 422" y="246 247 248 248 249 248 248 246 243 240 238 238 237 237 237 238 238 239 240 242 244 246 247 248 248 248 247 247 247 248 248 248 248 247" rotate="11 3 357 354 352 354 0 15 40 61 74 81 83 84 83 81 76 70 61 47 28 11 3 1 0 2 4 6 3 1 1 1 2 3">➛➛➛➛➛➛➛➛➛➛➛➛➛➛➛➛➛➛➛➛➛➛➛➛➛➛➛➛➛➛➛➛➛➛</text><text x="0 13 26 39 52 65 77 89 101 114 127 141 154 167 180 192 204 217 229 241 254 267 281 294 307 319 332 344 357 370 383 396 409 421" y="259 260 261 261 261 261 261 259 256 253 251 250 250 250 250 250 251 252 253 254 257 258 259 260 260 260 259 259 259 260 260 260 260 260" rotate="8 0 355 351 350 351 355 7 30 54 69 77 80 81 80 77 73 66 57 45 29 15 6 3 3 4 7 9 7 4 3 3 4 6">➛➛➛➛➛➛➛➛➛➛➛➛➛➛➛➛➛➛➛➛➛➛➛➛➛➛➛➛➛➛➛➛➛➛</text><text x="0 13 26 39 52 65 77 89 101 114 127 140 154 166 179 192 204 217 229 241 254 267 280 293 306 319 331 344 357 370 383 396 408 421" y="272 273 273 274 274 274 273 272 269 266 264 264 263 263 263 263 264 265 265 267 268 270 271 272 272 271 271 271 271 271 272 272 272 271" rotate="7 0 355 351 350 351 355 7 29 50 64 71 75 76 75 72 68 63 56 47 34 22 13 9 9 11 15 17 16 12 10 9 10 11">➛➛➛➛➛➛➛➛➛➛➛➛➛➛➛➛➛➛➛➛➛➛➛➛➛➛➛➛➛➛➛➛➛➛</text><text x="-1 13 26 39 52 65 77 88 101 114 127 140 153 166 179 191 204 216 229 242 254 267 280 293 306 318 331 344 356 369 382 395 408 421" y="284 285 285 286 286 286 285 283 280 278 277 277 276 276 276 277 277 277 278 279 280 281 282 283 283 282 281 281 281 281 282 282 283 283" rotate="10 4 358 354 352 354 2 18 38 52 61 67 69 69 68 66 64 61 57 50 41 31 24 21 21 26 32 36 36 31 26 23 21 21">➛➛➛➛➛➛➛➛➛➛➛➛➛➛➛➛➛➛➛➛➛➛➛➛➛➛➛➛➛➛➛➛➛➛</text><text x="-1 12 25 38 51 63 75 88 101 114 127 140 153 166 178 191 204 216 229 242 254 267 280 292 305 318 331 344 357 370 382 395 407 420" y="296 296 297 297 297 296 294 292 291 290 290 289 289 289 289 290 290 290 290 291 291 292 293 293 292 291 290 289 289 290 291 292 293 293" rotate="17 12 7 4 5 12 29 45 55 59 63 65 65 65 63 62 61 60 58 54 48 42 37 37 41 50 59 65 65 61 53 45 39 35">➛➛➛➛➛➛➛➛➛➛➛➛➛➛➛➛➛➛➛➛➛➛➛➛➛➛➛➛➛➛➛➛➛➛</text><text x="-1 12 24 37 50 63 76 89 102 115 127 140 153 165 178 191 204 216 229 242 254 267 280 293 306 319 333 346 359 371 384 396 408 420" y="307 307 307 307 305 303 301 301 301 301 302 302 302 302 302 302 302 302 302 303 303 303 304 303 302 301 300 300 299 300 300 301 302 303" rotate="27 25 24 28 39 55 66 70 70 68 66 65 63 62 61 60 60 60 59 57 54 51 50 54 62 73 81 85 85 82 76 67 58 51">➛➛➛➛➛➛➛➛➛➛➛➛➛➛➛➛➛➛➛➛➛➛➛➛➛➛➛➛➛➛➛➛➛➛</text><text x="-1 11 24 37 51 64 77 90 103 115 127 140 153 165 178 191 204 216 229 242 255 267 280 293 307 321 334 347 360 372 385 397 409 421" y="318 317 317 315 314 313 313 313 313 313 314 314 314 315 315 315 315 315 315 315 315 315 315 314 313 312 311 311 311 311 312 312 313 314" rotate="37 39 45 54 66 75 78 78 77 73 69 65 63 61 60 60 60 60 60 59 57 57 60 66 76 85 90 93 93 91 87 80 72 64">➛➛➛➛➛➛➛➛➛➛➛➛➛➛➛➛➛➛➛➛➛➛➛➛➛➛➛➛➛➛➛➛➛➛</text><text x="-1 12 25 38 51 64 77 90 103 115 128 140 153 165 178 191 204 216 229 242 255 268 281 294 308 321 334 347 360 373 385 397 409 422" y="329 328 327 326 325 325 325 325 325 325 326 326 327 327 327 327 327 327 327 327 327 327 326 326 325 324 324 324 324 324 324 324 325 326" rotate="47 51 58 67 74 79 80 80 79 76 71 66 63 61 60 60 60 60 60 60 59 61 66 74 83 90 94 95 95 94 91 86 80 72">➛➛➛➛➛➛➛➛➛➛➛➛➛➛➛➛➛➛➛➛➛➛➛➛➛➛➛➛➛➛➛➛➛➛</text><text x="-1 12 25 38 51 64 77 90 103 115 128 140 153 165 178 191 204 216 229 242 255 268 281 294 308 321 334 347 360 373 385 398 410 422" y="341 340 339 338 338 337 337 337 338 338 338 339 339 340 340 340 340 340 340 340 340 339 339 338 337 336 336 336 336 336 336 337 337 338" rotate="53 58 64 71 76 79 80 80 79 76 72 67 63 61 60 60 60 60 60 60 61 64 69 78 86 92 94 95 95 94 92 89 83 77">➛➛➛➛➛➛➛➛➛➛➛➛➛➛➛➛➛➛➛➛➛➛➛➛➛➛➛➛➛➛➛➛➛➛</text><text x="-1 12 25 38 51 64 77 90 103 115 128 140 153 165 178 191 204 216 229 242 255 268 281 294 308 321 334 347 360 373 385 398 410 422" y="352 352 351 351 350 350 350 350 350 350 351 351 352 352 352 352 352 352 352 352 352 351 351 350 349 349 349 349 349 349 349 349 349 350" rotate="57 62 67 72 76 78 79 79 78 75 71 67 63 61 60 60 60 60 60 61 62 65 71 79 87 91 94 95 95 94 92 89 85 79">➛➛➛➛➛➛➛➛➛➛➛➛➛➛➛➛➛➛➛➛➛➛➛➛➛➛➛➛➛➛➛➛➛➛</text><text x="-1 12 25 38 51 64 77 90 103 115 128 140 153 165 178 191 204 216 229 242 255 268 281 294 308 321 334 347 360 372 385 398 410 422" y="365 364 364 363 363 363 363 363 363 363 363 364 364 364 364 365 365 365 365 364 364 364 363 362 362 361 361 361 361 361 361 361 362 362" rotate="60 64 68 72 75 77 77 77 76 74 70 67 63 62 61 60 60 60 60 61 63 66 72 79 86 90 93 94 94 93 91 89 85 80">➛➛➛➛➛➛➛➛➛➛➛➛➛➛➛➛➛➛➛➛➛➛➛➛➛➛➛➛➛➛➛➛➛➛</text></g>
<path class="ct" d="M81 -0.9C82.1 2.6 84.9 12.9 87.7 20.3C90.5 27.8 93.3 37.2 97.8 43.9C102.3 50.7 107.4 57.4 114.7 60.8C122 64.2 132.7 63.1 141.7 64.2C150.7 65.3 160.8 65.3 168.7 67.6C176.5 69.8 182.2 73.2 188.9 77.7C195.6 82.2 203 88.9 209.1 94.5C215.3 100.2 221.2 105.8 226 111.4C230.8 117 235.6 122.7 237.8 128.3C240.1 133.9 243.1 140.1 239.5 145.1C235.8 150.2 224.3 156.1 215.9 158.6C207.5 161.2 196.8 160.3 188.9 160.3C181 160.3 175.4 160 168.7 158.6C161.9 157.2 155.2 153.8 148.4 151.9C141.7 149.9 134.4 147.9 128.2 146.8C122 145.7 116.4 145.1 111.3 145.1C106.3 145.1 101.8 145.4 97.8 146.8C93.9 148.2 90.2 150.5 87.7 153.6C85.2 156.7 83.6 161.2 82.7 165.4C81.7 169.6 81.1 174.9 82 178.9C82.8 182.8 86.8 187.3 87.7 189"/>
<path class="ct" d="M97.8 192.4C101.8 192.9 114.1 193.8 121.4 195.7C128.8 197.7 137.2 201.4 141.7 204.2C146.2 207 149 208.9 148.4 212.6C147.9 216.2 143.4 222.4 138.3 226.1C133.2 229.7 121.4 233.1 118.1 234.5"/>
<path class="ct" d="M192.3 -0.9C194 0.9 197.9 7.4 202.4 10.2C206.9 13.1 213.6 16.3 219.3 16.3C224.9 16.3 231.1 13.1 236.1 10.2C241.2 7.4 247.4 0.9 249.6 -0.9"/>
<path class="ct" d="M8.5 242.3C16 242.1 39.7 241.7 54 241.3C68.3 240.8 84.9 240.4 94.5 239.6C104 238.7 108.5 236.8 111.3 236.2"/>
<path class="ct" d="M6.8 288.5C20.3 288.7 64.7 290.1 87.7 289.5C110.8 288.9 129.3 286.7 145.1 285.1C160.8 283.5 170.4 283.1 182.2 280.1C194 277 206.3 271.6 215.9 266.6C225.4 261.5 233.3 256.4 239.5 249.7C245.7 243 249.6 235.1 253 226.1C256.4 217.1 255.8 204.2 259.7 195.7C263.7 187.3 268.2 180.6 276.6 175.5C285 170.4 297.4 168.5 310.3 165.4C323.3 162.3 342.9 160.9 354.2 156.9C365.4 153 369.9 147.7 377.8 141.8C385.7 135.9 394.6 128.8 401.4 121.5C408.1 114.2 414 104.9 418.3 97.9C422.5 90.9 425.3 82.5 426.7 79.4"/>
<path class="ct" d="M108 373.8C115.8 373.1 138.3 371 155.2 369.4C172 367.9 196.2 365.8 209.1 364.4C222.1 363 221.5 363.8 232.8 361C244 358.2 265.4 352.6 276.6 347.5C287.8 342.5 295.4 336.3 300.2 330.6C305 325 303 318.8 305.3 313.8C307.5 308.7 305 303.9 313.7 300.3C322.4 296.6 337.9 294.1 357.5 291.9C377.2 289.6 419.4 287.6 431.8 286.8"/>
<path d="M0 0H434.4V373.8H0zM43.4 0L45.2 9.6L47.1 19.2L49.1 28.8L51.1 38.3L53.2 47.9L55.4 57.5L57.7 67.1L60.1 76.7L62.6 86.3L65.2 95.8L67.9 105.4L70.7 115L73.7 124.6L76.7 134.2L79.9 143.8L83.2 153.4L86.7 162.9L90.3 172.5L94 182.1L97.9 191.7L102 201.3L106.2 210.9L110.6 220.4L115.2 230L120 239.6L125 249.2L130.2 258.8L135.6 268.4L141.2 278L147.1 287.5L153.2 297.1L159.5 306.7L166.1 316.3L173 325.9L180.2 335.5L187.7 345L195.5 354.6L203.6 364.2L212 373.8L222.4 373.8L230.8 364.2L238.9 354.6L246.7 345L254.2 335.5L261.4 325.9L268.3 316.3L274.9 306.7L281.2 297.1L287.3 287.5L293.2 278L298.8 268.4L304.2 258.8L309.4 249.2L314.4 239.6L319.2 230L323.8 220.4L328.2 210.9L332.4 201.3L336.5 191.7L340.4 182.1L344.1 172.5L347.7 162.9L351.2 153.4L354.5 143.8L357.7 134.2L360.7 124.6L363.7 115L366.5 105.4L369.2 95.8L371.8 86.3L374.3 76.7L376.7 67.1L379 57.5L381.2 47.9L383.3 38.3L385.3 28.8L387.3 19.2L389.2 9.6L391 0z" fill="#fff" fill-opacity="0.5" fill-rule="evenodd"/>
<path d="M43.4 0L45.2 9.6L47.1 19.2L49.1 28.8L51.1 38.3L53.2 47.9L55.4 57.5L57.7 67.1L60.1 76.7L62.6 86.3L65.2 95.8L67.9 105.4L70.7 115L73.7 124.6L76.7 134.2L79.9 143.8L83.2 153.4L86.7 162.9L90.3 172.5L94 182.1L97.9 191.7L102 201.3L106.2 210.9L110.6 220.4L115.2 230L120 239.6L125 249.2L130.2 258.8L135.6 268.4L141.2 278L147.1 287.5L153.2 297.1L159.5 306.7L166.1 316.3L173 325.9L180.2 335.5L187.7 345L195.5 354.6L203.6 364.2L212 373.8L222.4 373.8L230.8 364.2L238.9 354.6L246.7 345L254.2 335.5L261.4 325.9L268.3 316.3L274.9 306.7L281.2 297.1L287.3 287.5L293.2 278L298.8 268.4L304.2 258.8L309.4 249.2L314.4 239.6L319.2 230L323.8 220.4L328.2 210.9L332.4 201.3L336.5 191.7L340.4 182.1L344.1 172.5L347.7 162.9L351.2 153.4L354.5 143.8L357.7 134.2L360.7 124.6L363.7 115L366.5 105.4L369.2 95.8L371.8 86.3L374.3 76.7L376.7 67.1L379 57.5L381.2 47.9L383.3 38.3L385.3 28.8L387.3 19.2L389.2 9.6L391 0" fill="none" stroke="#000" stroke-width="1"/>
</g>
<path d="M6.4 373.8v-4M70.3 373.8v-4M134.2 373.8v-4M198 373.8v-4M261.9 373.8v-4M325.8 373.8v-4M389.7 373.8v-4M0 141.8h4M434.4 141.8h-4M0 291.8h4M434.4 291.8h-4" stroke="#333" fill="none" stroke-width="1"/>
<rect x="0" y="0" width="434.4" height="373.8" fill="none" stroke="#333" stroke-width="1.2"/>
</g>
<rect x="1555" y="467" width="23" height="373.8" fill="url(#cb)" stroke="#333" stroke-width="1"/>
<path d="M1578 504.4h-3M1578 541.8h-3M1578 579.1h-3M1578 616.5h-3M1578 653.9h-3M1578 691.3h-3M1578 728.7h-3M1578 766h-3M1578 803.4h-3" stroke="#333" fill="none"/>
<g class="cl"><text x="1584.5" y="471.5">1</text><text x="1584.5" y="508.9">0.9</text><text x="1584.5" y="546.3">0.8</text><text x="1584.5" y="583.6">0.7</text><text x="1584.5" y="621">0.6</text><text x="1584.5" y="658.4">0.5</text><text x="1584.5" y="695.8">0.4</text><text x="1584.5" y="733.2">0.3</text><text x="1584.5" y="770.5">0.2</text><text x="1584.5" y="807.9">0.1</text><text x="1584.5" y="845.3">0</text></g>
<g class="xl"><text x="1114.6" y="861.7">1985</text><text x="1178.5" y="861.7">1990</text><text x="1242.4" y="861.7">1995</text><text x="1306.2" y="861.7">2000</text><text x="1370.1" y="861.7">2005</text><text x="1434" y="861.7">2010</text><text x="1497.9" y="861.7">2015</text></g>
<g class="yl" text-anchor="end"><text x="1101.2" y="613.3">4</text><text x="1101.2" y="763.3">8</text></g>
<text class="ti" x="1325.8" y="458.7">WTC: SPEI-R20mm</text>
<text class="xa" font-size="16.9" x="1325.8" y="879.1">Year</text>
<text class="ya" font-size="16.9" transform="translate(1084.5,654.3) rotate(-90)">Cycles per year</text>
<g transform="translate(36.4,909.7)">
<clipPath id="c6"><rect width="431.6" height="376.7"/></clipPath>
<g clip-path="url(#c6)">
<g transform="scale(12.6941,12.5567)" shape-rendering="crispEdges"><path fill="#3e26a8" d="M9 12h2v1h-2zM14 23h5v1h-5zM18 24h3v1h-3z"/><path fill="#412dbb" d="M21 5h1v1h-1zM26 5h1v1h-1zM14 6h2v1h-2zM21 6h1v1h-1zM26 10h1v1h-1zM26 11h1v1h-1zM8 12h1v1h-1zM13 23h1v1h-1zM21 24h1v1h-1z"/><path fill="#4433cc" d="M29 0h1v1h-1zM29 1h1v1h-1zM9 2h1v1h-1zM4 5h1v1h-1zM20 5h1v1h-1zM13 6h1v1h-1zM20 6h1v1h-1zM0 18h7v1h-7zM0 19h7v1h-7z"/><path fill="#463adc" d="M30 0h1v1h-1zM30 1h1v1h-1zM12 2h1v1h-1zM0 17h7v1h-7zM7 18h1v1h-1zM7 19h1v1h-1zM17 24h1v1h-1z"/><path fill="#4743e7" d="M9 1h1v1h-1zM12 1h1v1h-1zM10 2h1v1h-1zM5 5h1v1h-1zM14 5h2v1h-2zM22 5h1v1h-1zM9 11h2v1h-2zM7 17h1v1h-1zM14 22h5v1h-5z"/><path fill="#484cef" d="M31 0h3v1h-3zM10 1h1v1h-1zM31 1h3v1h-3zM3 5h1v1h-1zM13 5h1v1h-1zM22 6h1v1h-1zM27 10h1v1h-1zM27 11h1v1h-1zM18 16h1v1h-1zM13 22h1v1h-1zM19 23h1v1h-1zM21 25h1v1h-1z"/><path fill="#4755f6" d="M29 2h2v1h-2zM8 11h1v1h-1zM19 16h1v1h-1zM0 20h8v1h-8zM23 24h11v1h-11zM20 25h1v1h-1zM23 25h11v1h-11zM23 26h11v1h-11zM23 27h11v1h-11zM23 28h11v1h-11zM23 29h11v1h-11z"/><path fill="#465efb" d="M11 12h1v1h-1zM9 13h2v1h-2zM20 23h2v1h-2zM22 24h1v1h-1zM18 25h2v1h-2zM22 25h1v1h-1z"/><path fill="#4367fd" d="M22 1h1v1h-1zM21 4h1v1h-1zM26 4h1v1h-1zM4 6h1v1h-1zM8 13h1v1h-1zM14 16h2v1h-2zM17 16h1v1h-1zM22 26h1v1h-1zM22 27h1v1h-1zM22 28h1v1h-1zM22 29h1v1h-1z"/><path fill="#3d70ff" d="M11 1h1v1h-1zM23 1h1v1h-1zM11 2h1v1h-1zM32 2h2v1h-2zM20 4h1v1h-1zM5 6h1v1h-1zM26 9h1v1h-1zM26 12h1v1h-1zM14 15h2v1h-2zM6 16h2v1h-2zM8 17h1v1h-1zM8 18h1v1h-1zM8 19h1v1h-1zM0 22h9v1h-9zM0 23h11v1h-11zM23 23h1v1h-1zM0 24h11v1h-11zM0 25h11v1h-11zM17 25h1v1h-1zM4 26h7v1h-7zM5 27h6v1h-6zM5 28h6v1h-6zM5 29h6v1h-6z"/><path fill="#347afd" d="M31 2h1v1h-1zM22 4h1v1h-1zM27 9h1v1h-1zM11 11h1v1h-1zM0 16h6v1h-6zM8 20h1v1h-1zM0 21h8v1h-8zM9 22h3v1h-3zM11 23h1v1h-1zM22 23h1v1h-1zM24 23h10v1h-10zM11 24h1v1h-1zM11 25h1v1h-1zM0 26h4v1h-4zM11 26h1v1h-1zM4 27h1v1h-1zM11 27h1v1h-1zM4 28h1v1h-1zM11 28h1v1h-1zM4 29h1v1h-1zM11 29h1v1h-1z"/><path fill="#2e83f9" d="M10 0h2v1h-2zM9 3h4v1h-4zM3 4h1v1h-1zM25 5h1v1h-1zM27 5h1v1h-1zM3 6h1v1h-1zM16 6h1v1h-1zM26 6h1v1h-1zM14 7h2v1h-2zM11 13h1v1h-1zM17 17h2v1h-2zM8 21h1v1h-1zM12 22h1v1h-1zM12 23h1v1h-1zM13 24h4v1h-4z"/><path fill="#2d8cf3" d="M9 0h1v1h-1zM12 0h1v1h-1zM22 0h2v1h-2zM4 4h1v1h-1zM6 5h1v1h-1zM16 5h1v1h-1zM13 7h1v1h-1zM25 11h1v1h-1zM27 12h1v1h-1zM8 16h1v1h-1zM19 17h1v1h-1zM19 22h1v1h-1zM12 24h1v1h-1zM12 25h1v1h-1zM12 26h3v1h-3zM19 26h3v1h-3zM12 27h1v1h-1zM12 28h1v1h-1zM12 29h1v1h-1z"/><path fill="#2994ed" d="M28 0h1v1h-1zM28 1h1v1h-1zM22 2h2v1h-2zM25 4h1v1h-1zM27 4h1v1h-1zM19 5h1v1h-1zM16 16h1v1h-1zM9 21h3v1h-3zM13 25h4v1h-4zM15 26h4v1h-4zM0 27h4v1h-4zM21 27h1v1h-1zM21 28h1v1h-1zM21 29h1v1h-1z"/><path fill="#259ce7" d="M8 1h1v1h-1zM24 1h1v1h-1zM8 2h1v1h-1zM28 2h1v1h-1zM10 4h3v1h-3zM2 5h1v1h-1zM12 5h1v1h-1zM23 5h1v1h-1zM12 6h1v1h-1zM19 6h1v1h-1zM25 6h1v1h-1zM27 6h1v1h-1zM20 7h2v1h-2zM25 12h1v1h-1zM16 15h1v1h-1zM9 16h1v1h-1zM13 16h1v1h-1zM20 16h1v1h-1zM9 17h1v1h-1zM9 18h1v1h-1zM9 19h1v1h-1zM9 20h1v1h-1zM12 21h5v1h-5zM13 27h1v1h-1zM20 27h1v1h-1zM3 28h1v1h-1zM13 28h1v1h-1zM3 29h1v1h-1zM13 29h1v1h-1z"/><path fill="#21a3e3" d="M24 0h4v1h-4zM13 1h1v1h-1zM25 1h3v1h-3zM13 2h1v1h-1zM24 2h4v1h-4zM22 3h6v1h-6zM0 4h3v1h-3zM5 4h1v1h-1zM8 4h2v1h-2zM13 4h7v1h-7zM23 4h2v1h-2zM0 5h2v1h-2zM7 5h5v1h-5zM17 5h2v1h-2zM24 5h1v1h-1zM6 6h1v1h-1zM8 6h4v1h-4zM17 6h2v1h-2zM23 6h2v1h-2zM16 7h1v1h-1zM22 7h1v1h-1zM26 7h2v1h-2zM27 8h1v1h-1zM25 10h1v1h-1zM7 12h1v1h-1zM8 14h3v1h-3zM8 15h6v1h-6zM17 15h4v1h-4zM10 16h3v1h-3zM10 17h7v1h-7zM10 18h8v1h-8zM10 19h8v1h-8zM10 20h8v1h-8zM17 21h1v1h-1zM20 22h4v1h-4zM14 27h1v1h-1zM19 27h1v1h-1zM0 28h3v1h-3zM20 28h1v1h-1zM0 29h3v1h-3zM20 29h1v1h-1z"/><path fill="#1caadf" d="M8 0h1v1h-1zM0 3h3v1h-3zM8 3h1v1h-1zM13 3h1v1h-1zM28 3h1v1h-1zM6 4h2v1h-2zM7 6h1v1h-1zM12 7h1v1h-1zM24 12h1v1h-1zM7 13h1v1h-1zM11 14h1v1h-1zM7 15h1v1h-1zM20 17h1v1h-1zM15 27h4v1h-4zM14 28h1v1h-1zM19 28h1v1h-1zM14 29h1v1h-1zM19 29h1v1h-1z"/><path fill="#13b0d7" d="M0 0h4v1h-4zM13 0h1v1h-1zM0 1h4v1h-4zM0 2h4v1h-4zM3 3h1v1h-1zM29 3h5v1h-5zM28 4h1v1h-1zM28 5h1v1h-1zM0 6h3v1h-3zM28 6h1v1h-1zM8 7h4v1h-4zM17 7h3v1h-3zM23 7h3v1h-3zM28 7h1v1h-1zM26 8h1v1h-1zM28 8h1v1h-1zM28 9h1v1h-1zM28 10h1v1h-1zM7 11h1v1h-1zM24 11h1v1h-1zM28 11h1v1h-1zM7 14h1v1h-1zM33 14h1v1h-1zM6 15h1v1h-1zM21 15h1v1h-1zM21 16h1v1h-1zM21 17h1v1h-1zM18 18h1v1h-1zM18 21h1v1h-1zM24 22h1v1h-1zM15 28h4v1h-4zM15 29h4v1h-4z"/><path fill="#05b6ce" d="M4 0h4v1h-4zM4 1h4v1h-4zM21 1h1v1h-1zM4 2h4v1h-4zM4 3h4v1h-4zM21 3h1v1h-1zM29 4h1v1h-1zM29 5h1v1h-1zM29 6h1v1h-1zM7 7h1v1h-1zM29 7h1v1h-1zM29 8h1v1h-1zM25 9h1v1h-1zM29 9h1v1h-1zM29 10h1v1h-1zM33 13h1v1h-1zM0 15h6v1h-6zM33 15h1v1h-1zM33 18h1v1h-1zM18 19h1v1h-1zM33 19h1v1h-1zM18 20h1v1h-1zM25 22h9v1h-9z"/><path fill="#02bac4" d="M21 0h1v1h-1zM21 2h1v1h-1zM14 3h1v1h-1zM30 4h4v1h-4zM30 5h4v1h-4zM30 6h4v1h-4zM0 7h7v1h-7zM30 7h4v1h-4zM30 8h4v1h-4zM30 9h4v1h-4zM30 10h4v1h-4zM6 11h1v1h-1zM29 11h5v1h-5zM6 12h1v1h-1zM28 12h1v1h-1zM31 12h3v1h-3zM6 13h1v1h-1zM32 13h1v1h-1zM6 14h1v1h-1zM12 14h1v1h-1zM33 16h1v1h-1zM33 17h1v1h-1zM33 20h1v1h-1zM19 21h5v1h-5z"/><path fill="#12beb9" d="M15 3h6v1h-6zM0 8h7v1h-7zM25 8h1v1h-1zM0 9h6v1h-6zM0 10h12v1h-12zM24 10h1v1h-1zM0 11h6v1h-6zM23 11h1v1h-1zM0 12h6v1h-6zM23 12h1v1h-1zM29 12h2v1h-2zM0 13h6v1h-6zM24 13h1v1h-1zM0 14h6v1h-6zM13 14h8v1h-8zM32 14h1v1h-1zM19 18h3v1h-3zM32 19h1v1h-1zM23 20h1v1h-1zM32 20h1v1h-1zM24 21h1v1h-1zM32 21h2v1h-2z"/><path fill="#24c2ae" d="M7 8h18v1h-18zM6 9h19v1h-19zM12 10h1v1h-1zM23 10h1v1h-1zM12 11h1v1h-1zM12 12h1v1h-1zM12 13h1v1h-1zM25 13h1v1h-1zM31 13h1v1h-1zM21 14h1v1h-1zM22 18h1v1h-1zM19 19h4v1h-4zM19 20h4v1h-4zM24 20h1v1h-1zM25 21h2v1h-2zM30 21h2v1h-2z"/><path fill="#2fc5a2" d="M14 0h2v1h-2zM19 0h2v1h-2zM14 1h1v1h-1zM20 1h1v1h-1zM14 2h2v1h-2zM19 2h2v1h-2zM13 10h10v1h-10zM13 11h10v1h-10zM23 13h1v1h-1zM26 13h2v1h-2zM30 13h1v1h-1zM23 19h1v1h-1zM25 20h1v1h-1zM31 20h1v1h-1zM27 21h3v1h-3z"/><path fill="#39c895" d="M16 0h3v1h-3zM15 1h1v1h-1zM19 1h1v1h-1zM13 12h10v1h-10zM13 13h10v1h-10zM28 13h2v1h-2zM31 14h1v1h-1zM32 15h1v1h-1zM22 17h1v1h-1zM32 18h1v1h-1z"/><path fill="#48cb86" d="M16 1h3v1h-3zM16 2h3v1h-3zM22 15h1v1h-1zM22 16h1v1h-1zM23 18h1v1h-1zM24 19h1v1h-1zM31 19h1v1h-1zM26 20h1v1h-1zM30 20h1v1h-1z"/><path fill="#5ccc76" d="M22 14h1v1h-1zM32 16h1v1h-1zM32 17h1v1h-1zM25 19h1v1h-1zM27 20h3v1h-3z"/><path fill="#88cb53" d="M23 14h4v1h-4zM30 14h1v1h-1zM23 17h1v1h-1zM26 19h1v1h-1zM30 19h1v1h-1z"/><path fill="#9fc942" d="M27 14h1v1h-1zM23 15h1v1h-1zM31 15h1v1h-1zM23 16h1v1h-1zM24 18h1v1h-1zM31 18h1v1h-1z"/><path fill="#b4c533" d="M28 14h2v1h-2zM24 15h3v1h-3zM24 16h3v1h-3zM24 17h3v1h-3zM25 18h2v1h-2zM27 19h1v1h-1zM29 19h1v1h-1z"/><path fill="#c8c129" d="M28 19h1v1h-1z"/><path fill="#dabd28" d="M31 16h1v1h-1zM31 17h1v1h-1z"/><path fill="#f8ba3d" d="M27 15h1v1h-1zM30 15h1v1h-1zM27 18h1v1h-1zM30 18h1v1h-1z"/><path fill="#feca33" d="M29 15h1v1h-1zM29 18h1v1h-1z"/><path fill="#fad42e" d="M28 15h1v1h-1zM27 16h1v1h-1zM30 16h1v1h-1zM27 17h1v1h-1zM30 17h1v1h-1zM28 18h1v1h-1z"/><path fill="#f6f21e" d="M29 16h1v1h-1zM29 17h1v1h-1z"/><path fill="#f9fb15" d="M28 16h1v1h-1zM28 17h1v1h-1z"/></g>
<g class="a"><text x="0 13 26 38 51 63 76 88 101 114 127 140 153 166 179 192 204 217 230 242 255 268 282 296 310 323 336 349 362 374 386 399 411 424" y="11 11 11 11 10 10 10 10 10 11 11 12 12 12 12 12 12 12 12 12 12 13 13 14 14 14 14 14 14 14 14 14 14 14" rotate="0 0 0 2 5 8 9 8 6 3 358 353 350 349 349 349 350 350 350 349 347 343 334 324 316 311 309 308 309 311 313 315 317 319">➛➛➛➛➛➛➛➛➛➛➛➛➛➛➛➛➛➛➛➛➛➛➛➛➛➛➛➛➛➛➛➛➛➛</text><text x="0 13 26 38 50 63 76 88 101 114 127 141 154 166 179 192 204 217 230 242 255 269 282 297 311 324 337 349 362 374 387 399 411 424" y="24 24 24 23 23 23 22 23 23 23 24 25 25 25 25 25 25 25 25 25 25 25 26 26 27 27 27 27 27 27 27 27 27 27" rotate="0 0 0 1 6 9 10 9 7 2 356 351 348 348 349 349 350 350 350 350 348 342 331 319 310 306 304 305 306 308 311 313 316 318">➛➛➛➛➛➛➛➛➛➛➛➛➛➛➛➛➛➛➛➛➛➛➛➛➛➛➛➛➛➛➛➛➛➛</text><text x="0 13 26 38 50 63 76 88 101 114 128 141 154 167 179 192 204 217 230 242 255 269 283 297 311 324 337 350 362 375 387 399 412 424" y="36 36 36 36 35 35 35 35 35 36 37 37 38 38 37 37 37 37 37 37 37 38 39 39 39 39 39 39 39 39 39 39 39 39" rotate="0 0 0 1 6 9 10 9 6 0 352 347 345 346 348 349 350 350 350 349 347 341 328 315 306 302 302 302 304 306 309 312 315 317">➛➛➛➛➛➛➛➛➛➛➛➛➛➛➛➛➛➛➛➛➛➛➛➛➛➛➛➛➛➛➛➛➛➛</text><text x="0 13 26 38 51 63 76 88 102 115 129 142 155 167 179 192 204 217 230 242 255 269 283 298 312 325 337 350 362 375 387 399 412 424" y="49 49 49 49 48 48 48 48 48 49 50 51 51 50 50 50 50 50 50 50 50 51 51 52 52 52 52 52 52 52 52 52 52 52" rotate="359 0 0 1 4 8 9 7 2 353 343 339 339 342 346 348 350 350 350 349 347 339 326 312 304 301 300 301 303 306 309 312 314 316">➛➛➛➛➛➛➛➛➛➛➛➛➛➛➛➛➛➛➛➛➛➛➛➛➛➛➛➛➛➛➛➛➛➛</text><text x="0 13 26 38 51 63 76 89 103 117 130 143 156 168 180 192 204 217 230 242 255 269 283 298 312 325 337 350 362 375 387 399 412 424" y="62 62 62 62 61 61 61 61 62 63 64 64 64 63 63 63 62 62 62 62 63 63 64 64 64 64 64 64 64 64 64 64 64 64" rotate="357 358 357 357 0 2 3 359 350 338 330 328 331 337 343 347 349 350 350 349 347 340 327 312 303 300 300 301 302 306 309 312 313 315">➛➛➛➛➛➛➛➛➛➛➛➛➛➛➛➛➛➛➛➛➛➛➛➛➛➛➛➛➛➛➛➛➛➛</text><text x="1 14 26 39 52 64 77 91 105 119 132 145 157 168 180 192 204 217 229 242 255 268 282 297 311 325 337 350 362 374 387 399 412 424" y="75 75 75 75 75 75 75 75 76 77 77 77 77 76 76 75 75 75 75 75 75 75 76 77 77 77 77 77 77 77 77 77 77 77" rotate="352 351 350 349 350 352 350 343 331 321 318 318 323 330 339 345 348 350 351 351 350 345 334 317 306 302 301 302 304 308 310 312 313 314">➛➛➛➛➛➛➛➛➛➛➛➛➛➛➛➛➛➛➛➛➛➛➛➛➛➛➛➛➛➛➛➛➛➛</text><text x="2 15 28 41 53 66 79 92 106 120 133 145 157 169 180 192 204 217 229 242 254 267 281 295 310 324 337 349 362 374 387 399 412 425" y="88 88 88 89 88 88 88 89 89 89 89 89 89 89 89 88 87 87 87 87 87 87 88 89 89 89 89 89 89 89 89 89 89 89" rotate="343 340 337 336 337 338 337 329 319 313 312 313 317 325 335 344 349 352 354 355 355 353 344 329 314 306 304 305 308 310 311 311 312 313">➛➛➛➛➛➛➛➛➛➛➛➛➛➛➛➛➛➛➛➛➛➛➛➛➛➛➛➛➛➛➛➛➛➛</text><text x="3 16 29 42 55 67 80 93 107 120 133 146 158 169 181 192 204 216 229 241 254 267 280 294 308 323 336 349 361 374 387 399 412 425" y="101 101 102 102 102 101 101 102 102 102 102 102 102 102 101 100 100 99 99 99 99 99 100 101 102 102 102 102 102 102 102 102 102 102" rotate="334 329 326 325 326 329 329 322 314 311 310 311 315 323 334 344 351 355 357 359 359 358 353 342 327 316 312 311 311 311 311 310 311 312">➛➛➛➛➛➛➛➛➛➛➛➛➛➛➛➛➛➛➛➛➛➛➛➛➛➛➛➛➛➛➛➛➛➛</text><text x="4 17 30 43 55 68 80 93 107 120 133 145 158 169 180 192 204 216 229 241 254 267 280 293 307 321 335 348 361 374 387 400 412 425" y="114 114 114 114 114 114 114 114 114 115 115 115 114 114 114 113 112 112 112 112 112 112 112 112 113 114 114 114 114 115 115 115 115 115" rotate="328 324 322 321 322 324 325 321 314 311 310 311 315 325 337 347 353 357 359 0 0 0 357 350 339 328 321 317 314 311 310 310 310 311">➛➛➛➛➛➛➛➛➛➛➛➛➛➛➛➛➛➛➛➛➛➛➛➛➛➛➛➛➛➛➛➛➛➛</text><text x="4 17 30 43 55 68 80 93 107 120 133 145 157 168 180 191 204 216 229 241 254 267 280 293 306 320 334 347 361 374 387 400 412 425" y="127 127 127 127 127 127 127 127 127 127 127 127 127 126 126 125 125 124 124 124 124 124 124 125 125 126 127 127 127 127 127 127 127 127" rotate="326 322 321 320 321 323 325 323 317 314 313 314 320 331 342 351 355 358 359 0 0 0 358 354 346 337 329 322 316 312 310 310 310 312">➛➛➛➛➛➛➛➛➛➛➛➛➛➛➛➛➛➛➛➛➛➛➛➛➛➛➛➛➛➛➛➛➛➛</text><text x="4 17 30 43 55 68 80 93 106 119 132 144 156 167 179 191 203 216 229 241 254 267 280 292 306 319 333 346 360 373 387 399 412 424" y="139 139 139 139 139 139 139 139 139 139 139 139 139 138 138 137 137 137 137 137 137 137 137 137 138 138 139 139 139 140 140 140 140 140" rotate="326 323 321 320 321 324 327 327 323 320 319 322 330 341 350 355 358 359 0 0 0 0 359 356 351 344 337 329 321 315 312 311 312 314">➛➛➛➛➛➛➛➛➛➛➛➛➛➛➛➛➛➛➛➛➛➛➛➛➛➛➛➛➛➛➛➛➛➛</text><text x="4 17 30 42 55 67 79 92 105 118 130 142 154 166 178 191 203 216 229 241 254 267 279 292 305 318 332 345 359 372 386 399 411 424" y="152 152 152 152 152 152 152 151 152 152 152 151 151 150 149 149 149 149 149 149 149 149 149 149 150 150 151 151 152 152 152 152 152 152" rotate="329 326 324 323 325 328 331 332 331 330 331 336 344 352 357 359 0 1 1 1 0 0 359 358 355 351 346 339 331 324 319 317 317 319">➛➛➛➛➛➛➛➛➛➛➛➛➛➛➛➛➛➛➛➛➛➛➛➛➛➛➛➛➛➛➛➛➛➛</text><text x="3 16 29 41 54 66 78 91 104 116 129 141 153 165 178 191 203 216 228 241 254 267 279 292 305 318 331 344 357 370 384 397 410 422" y="164 164 164 164 164 164 164 164 164 163 163 163 162 162 162 162 162 162 161 161 161 161 162 162 162 162 162 163 163 164 164 164 164 164" rotate="333 332 331 332 335 337 339 339 340 341 344 349 355 359 0 0 1 2 3 3 3 2 2 0 359 357 354 350 345 340 335 331 330 330">➛➛➛➛➛➛➛➛➛➛➛➛➛➛➛➛➛➛➛➛➛➛➛➛➛➛➛➛➛➛➛➛➛➛</text><text x="2 15 27 40 52 65 78 90 103 115 127 140 152 165 178 191 203 216 228 241 253 266 279 292 305 317 330 343 356 369 381 394 407 420" y="176 176 176 176 176 176 176 176 176 175 175 174 174 174 174 174 174 174 174 173 173 174 174 174 174 174 174 174 175 175 175 175 175 176" rotate="337 338 341 343 345 346 345 345 347 351 357 1 3 2 1 0 0 2 5 7 8 7 5 3 2 0 0 359 358 357 355 352 348 345">➛➛➛➛➛➛➛➛➛➛➛➛➛➛➛➛➛➛➛➛➛➛➛➛➛➛➛➛➛➛➛➛➛➛</text><text x="2 15 27 39 52 65 77 90 102 114 126 139 152 165 178 191 203 216 228 240 253 266 279 292 305 317 330 343 355 368 381 393 406 419" y="189 189 188 188 188 188 188 188 188 187 186 185 186 186 187 187 187 187 186 185 185 185 186 186 187 187 187 186 186 186 186 186 187 187" rotate="340 342 345 348 349 349 348 349 353 1 9 13 10 5 1 0 0 3 9 14 15 12 7 3 2 2 2 3 5 6 6 4 1 358">➛➛➛➛➛➛➛➛➛➛➛➛➛➛➛➛➛➛➛➛➛➛➛➛➛➛➛➛➛➛➛➛➛➛</text><text x="2 15 27 39 52 65 77 90 102 114 126 138 151 164 178 190 203 215 227 240 253 266 279 292 305 317 330 342 355 368 380 393 406 419" y="201 201 201 200 200 200 201 200 200 198 196 196 196 198 199 199 199 198 197 196 196 197 199 199 199 199 199 199 198 198 198 198 199 199" rotate="340 342 346 349 350 350 349 351 358 12 24 28 24 13 5 2 3 8 20 30 29 18 7 2 1 1 2 5 8 9 9 9 7 5">➛➛➛➛➛➛➛➛➛➛➛➛➛➛➛➛➛➛➛➛➛➛➛➛➛➛➛➛➛➛➛➛➛➛</text><text x="2 15 27 40 52 65 77 90 101 113 125 138 151 164 177 190 202 214 227 240 253 265 279 292 305 317 330 342 355 368 380 393 406 418" y="214 214 214 213 213 213 213 213 211 209 207 206 206 208 210 210 210 208 205 204 205 208 211 212 212 212 212 211 211 211 211 211 211 211" rotate="337 338 341 346 349 348 348 352 5 25 40 46 44 34 20 12 15 29 51 61 52 28 8 1 0 0 2 6 9 10 10 10 9 8">➛➛➛➛➛➛➛➛➛➛➛➛➛➛➛➛➛➛➛➛➛➛➛➛➛➛➛➛➛➛➛➛➛➛</text><text x="3 16 29 41 54 66 78 90 101 113 126 139 151 164 176 189 202 216 230 243 254 265 279 292 305 317 330 342 355 368 380 393 406 418" y="227 227 227 227 227 226 226 225 223 220 218 217 217 218 219 220 218 216 214 214 214 218 223 224 224 224 224 224 223 223 223 223 223 223" rotate="334 332 330 330 335 339 343 353 13 37 51 56 57 53 44 38 47 70 86 88 80 48 13 2 0 0 2 7 10 10 10 10 10 10">➛➛➛➛➛➛➛➛➛➛➛➛➛➛➛➛➛➛➛➛➛➛➛➛➛➛➛➛➛➛➛➛➛➛</text><text x="3 17 30 43 55 67 79 90 100 113 126 139 151 164 177 190 203 218 231 244 256 267 278 292 305 317 330 342 355 368 380 393 406 418" y="239 240 240 240 240 240 239 238 235 231 230 229 229 229 230 229 227 226 226 225 226 228 234 236 237 237 237 236 236 236 236 236 236 236" rotate="330 326 323 321 322 328 338 354 21 46 57 59 60 59 57 60 76 92 98 98 94 74 28 7 2 2 5 9 10 10 10 11 12 12">➛➛➛➛➛➛➛➛➛➛➛➛➛➛➛➛➛➛➛➛➛➛➛➛➛➛➛➛➛➛➛➛➛➛</text><text x="3 17 30 43 55 67 79 89 100 113 126 139 151 164 177 190 205 218 231 244 256 268 278 291 304 317 329 342 355 367 380 393 405 418" y="252 252 252 252 252 252 252 250 246 243 242 242 242 242 242 240 239 238 238 238 238 239 243 247 249 249 248 248 248 248 248 248 248 248" rotate="329 325 322 320 321 325 336 358 28 50 58 60 60 60 62 73 89 97 100 100 98 87 51 19 10 8 11 14 14 14 14 14 15 17">➛➛➛➛➛➛➛➛➛➛➛➛➛➛➛➛➛➛➛➛➛➛➛➛➛➛➛➛➛➛➛➛➛➛</text><text x="3 17 30 42 55 67 78 88 100 113 126 139 151 164 177 192 206 219 231 244 256 268 279 291 303 316 329 341 354 367 380 392 405 418" y="265 265 265 265 265 265 264 261 258 255 255 254 254 254 253 252 251 250 250 250 251 251 253 257 259 260 259 259 259 259 259 259 259 259" rotate="331 326 323 322 323 329 343 10 36 52 58 60 60 62 69 86 99 101 100 100 98 91 68 39 24 21 23 26 27 26 25 25 25 26">➛➛➛➛➛➛➛➛➛➛➛➛➛➛➛➛➛➛➛➛➛➛➛➛➛➛➛➛➛➛➛➛➛➛</text><text x="3 16 29 42 54 65 75 87 100 113 126 139 152 165 179 195 209 221 232 244 257 268 280 291 303 316 329 341 354 367 380 392 405 417" y="277 277 277 277 277 276 273 270 268 267 267 267 267 266 264 262 262 262 263 263 263 264 265 267 269 270 269 268 268 268 268 269 269 270" rotate="336 332 329 329 333 346 12 37 50 56 60 61 63 70 87 112 122 117 107 103 100 93 77 57 44 41 45 51 54 54 51 47 43 40">➛➛➛➛➛➛➛➛➛➛➛➛➛➛➛➛➛➛➛➛➛➛➛➛➛➛➛➛➛➛➛➛➛➛</text><text x="2 14 27 39 50 62 76 89 101 114 126 139 152 166 183 198 212 225 236 246 258 269 280 292 304 317 330 343 356 369 381 393 405 418" y="289 289 289 288 285 281 279 278 278 279 279 279 278 276 275 275 275 275 275 275 275 276 277 278 279 279 279 278 277 277 278 278 279 280" rotate="345 344 346 354 17 50 67 71 70 67 66 67 73 88 117 140 149 147 135 118 107 97 84 70 61 61 68 74 78 78 75 69 62 56">➛➛➛➛➛➛➛➛➛➛➛➛➛➛➛➛➛➛➛➛➛➛➛➛➛➛➛➛➛➛➛➛➛➛</text><text x="0 12 24 37 51 65 78 90 103 115 127 140 154 169 185 200 213 226 238 249 259 270 281 292 305 318 331 344 357 369 382 394 406 419" y="300 299 297 293 290 289 289 289 289 290 290 290 289 288 287 288 288 288 288 287 287 288 289 290 291 290 290 289 289 289 289 290 290 291" rotate="3 10 27 54 76 87 90 89 84 78 75 77 87 108 135 152 158 158 152 136 118 103 89 78 73 75 81 85 87 88 86 82 75 68">➛➛➛➛➛➛➛➛➛➛➛➛➛➛➛➛➛➛➛➛➛➛➛➛➛➛➛➛➛➛➛➛➛➛</text><text x="-1 11 25 39 52 65 78 91 103 115 128 141 155 170 185 200 214 226 238 249 259 270 281 293 305 318 331 344 357 370 382 395 407 419" y="309 307 304 302 301 301 301 301 301 302 302 302 301 300 300 301 301 301 301 300 300 300 301 302 302 302 302 302 301 301 302 302 302 303" rotate="26 43 63 81 90 94 94 94 91 86 82 85 95 114 136 152 159 159 153 138 120 105 92 83 79 82 86 89 90 90 89 86 81 75">➛➛➛➛➛➛➛➛➛➛➛➛➛➛➛➛➛➛➛➛➛➛➛➛➛➛➛➛➛➛➛➛➛➛</text><text x="-1 12 26 39 53 66 78 91 103 116 128 141 155 169 183 198 212 225 236 247 258 270 281 293 305 318 331 344 357 370 382 395 407 419" y="319 317 315 314 314 314 314 314 314 314 314 314 314 313 312 312 313 313 312 312 313 313 314 314 315 315 314 314 314 314 314 314 315 315" rotate="46 62 77 87 93 95 95 95 93 89 86 88 96 108 121 133 144 145 135 123 112 102 92 85 83 84 87 89 90 90 89 87 84 79">➛➛➛➛➛➛➛➛➛➛➛➛➛➛➛➛➛➛➛➛➛➛➛➛➛➛➛➛➛➛➛➛➛➛</text><text x="-1 12 26 40 53 66 78 91 103 116 128 141 154 167 180 192 204 217 230 243 256 269 281 293 306 318 331 344 357 370 382 395 407 419" y="330 329 327 327 326 326 326 326 326 327 327 327 326 326 326 327 327 327 327 326 326 326 327 327 327 327 327 327 327 327 327 327 327 327" rotate="57 70 81 89 93 94 95 94 93 90 88 88 92 96 96 90 82 81 89 96 98 95 90 85 84 85 87 89 90 90 89 87 84 80">➛➛➛➛➛➛➛➛➛➛➛➛➛➛➛➛➛➛➛➛➛➛➛➛➛➛➛➛➛➛➛➛➛➛</text><text x="-1 13 26 39 53 65 78 91 103 116 128 141 154 166 178 191 203 216 229 242 255 268 281 293 306 318 331 344 357 370 382 395 407 419" y="342 341 340 339 339 339 339 339 339 339 339 339 339 339 340 341 341 341 341 340 339 339 339 340 340 340 339 339 339 339 339 339 340 340" rotate="63 74 82 88 92 93 94 93 92 89 87 87 88 87 82 75 71 71 74 81 87 89 87 85 84 85 86 88 89 89 88 86 84 80">➛➛➛➛➛➛➛➛➛➛➛➛➛➛➛➛➛➛➛➛➛➛➛➛➛➛➛➛➛➛➛➛➛➛</text><text x="-1 13 26 39 52 65 78 91 103 116 128 141 153 166 178 190 203 216 228 242 255 268 280 293 306 318 331 344 357 369 382 395 407 419" y="354 353 352 352 352 352 352 352 352 352 352 352 352 352 353 353 354 354 353 353 352 352 352 352 352 352 352 352 352 352 352 352 352 353" rotate="65 74 81 86 90 91 92 91 90 88 86 85 84 82 78 73 71 71 73 77 82 84 84 83 83 84 85 86 87 87 86 85 82 79">➛➛➛➛➛➛➛➛➛➛➛➛➛➛➛➛➛➛➛➛➛➛➛➛➛➛➛➛➛➛➛➛➛➛</text><text x="-1 13 26 39 52 65 78 90 103 115 128 141 153 166 178 190 203 216 229 241 254 267 280 293 305 318 331 344 357 369 382 394 407 419" y="367 366 365 365 364 364 364 364 364 365 365 365 365 365 365 366 366 366 366 365 365 365 365 365 365 365 365 365 365 365 365 365 365 365" rotate="66 73 79 84 87 89 89 89 88 86 84 83 82 80 77 74 72 72 74 77 80 82 82 82 82 82 83 84 85 85 84 83 81 78">➛➛➛➛➛➛➛➛➛➛➛➛➛➛➛➛➛➛➛➛➛➛➛➛➛➛➛➛➛➛➛➛➛➛</text></g>
<path class="ct" d="M311 245.2C307.4 241.8 305.1 236.5 302.6 230C300 223.5 297.2 213.7 295.8 206.4C294.4 199.1 293.3 190.5 294.1 186.2C295 181.8 293.6 180.9 300.9 180.1C308.2 179.3 323.9 181.1 338 181.1C352 181.1 374.5 178.7 385.2 180.1C395.9 181.5 398.3 185.2 402.1 189.5C405.9 193.9 408.1 199.7 408.1 206.4C408.1 213.1 406.5 223.5 402.1 230C397.7 236.5 390.3 241.5 381.8 245.2C373.4 248.8 361 251.1 351.5 251.9C341.9 252.8 331.2 251.4 324.5 250.3C317.8 249.1 314.7 248.6 311 245.2z"/>
<path d="M0 0H431.6V376.7H0zM43.2 0L45 9.7L46.8 19.3L48.8 29L50.8 38.6L52.9 48.3L55.1 58L57.4 67.6L59.7 77.3L62.2 86.9L64.8 96.6L67.5 106.2L70.3 115.9L73.2 125.6L76.2 135.2L79.4 144.9L82.7 154.5L86.1 164.2L89.7 173.9L93.4 183.5L97.3 193.2L101.3 202.8L105.5 212.5L109.9 222.2L114.5 231.8L119.2 241.5L124.2 251.1L129.3 260.8L134.7 270.5L140.3 280.1L146.1 289.8L152.2 299.4L158.5 309.1L165.1 318.7L171.9 328.4L179 338.1L186.5 347.7L194.2 357.4L202.2 367L210.6 376.7L221 376.7L229.4 367L237.4 357.4L245.1 347.7L252.6 338.1L259.7 328.4L266.5 318.7L273.1 309.1L279.4 299.4L285.5 289.8L291.3 280.1L296.9 270.5L302.3 260.8L307.4 251.1L312.4 241.5L317.1 231.8L321.7 222.2L326.1 212.5L330.3 202.8L334.3 193.2L338.2 183.5L341.9 173.9L345.5 164.2L348.9 154.5L352.2 144.9L355.4 135.2L358.4 125.6L361.3 115.9L364.1 106.2L366.8 96.6L369.4 86.9L371.9 77.3L374.2 67.6L376.5 58L378.7 48.3L380.8 38.6L382.8 29L384.8 19.3L386.6 9.7L388.4 0z" fill="#fff" fill-opacity="0.5" fill-rule="evenodd"/>
<path d="M43.2 0L45 9.7L46.8 19.3L48.8 29L50.8 38.6L52.9 48.3L55.1 58L57.4 67.6L59.7 77.3L62.2 86.9L64.8 96.6L67.5 106.2L70.3 115.9L73.2 125.6L76.2 135.2L79.4 144.9L82.7 154.5L86.1 164.2L89.7 173.9L93.4 183.5L97.3 193.2L101.3 202.8L105.5 212.5L109.9 222.2L114.5 231.8L119.2 241.5L124.2 251.1L129.3 260.8L134.7 270.5L140.3 280.1L146.1 289.8L152.2 299.4L158.5 309.1L165.1 318.7L171.9 328.4L179 338.1L186.5 347.7L194.2 357.4L202.2 367L210.6 376.7L221 376.7L229.4 367L237.4 357.4L245.1 347.7L252.6 338.1L259.7 328.4L266.5 318.7L273.1 309.1L279.4 299.4L285.5 289.8L291.3 280.1L296.9 270.5L302.3 260.8L307.4 251.1L312.4 241.5L317.1 231.8L321.7 222.2L326.1 212.5L330.3 202.8L334.3 193.2L338.2 183.5L341.9 173.9L345.5 164.2L348.9 154.5L352.2 144.9L355.4 135.2L358.4 125.6L361.3 115.9L364.1 106.2L366.8 96.6L369.4 86.9L371.9 77.3L374.2 67.6L376.5 58L378.7 48.3L380.8 38.6L382.8 29L384.8 19.3L386.6 9.7L388.4 0" fill="none" stroke="#000" stroke-width="1"/>
</g>
<path d="M6.3 376.7v-4M69.8 376.7v-4M133.3 376.7v-4M196.8 376.7v-4M260.2 376.7v-4M323.7 376.7v-4M387.2 376.7v-4M0 143h4M431.6 143h-4M0 293.4h4M431.6 293.4h-4" stroke="#333" fill="none" stroke-width="1"/>
<rect x="0" y="0" width="431.6" height="376.7" fill="none" stroke="#333" stroke-width="1.2"/>
</g>
<rect x="479.6" y="909.7" width="22.9" height="376.7" fill="url(#cb)" stroke="#333" stroke-width="1"/>
<path d="M502.5 972.5h-3M502.5 1035.3h-3M502.5 1098.1h-3M502.5 1160.8h-3M502.5 1223.6h-3" stroke="#333" fill="none"/>
<g class="cl"><text x="509" y="914.2">8</text><text x="509" y="977">4</text><text x="509" y="1039.8">2</text><text x="509" y="1102.6">1</text><text x="509" y="1165.3">1/2</text><text x="509" y="1228.1">1/4</text><text x="509" y="1290.9">1/8</text></g>
<g class="xl"><text x="42.7" y="1306.6">1985</text><text x="106.2" y="1306.6">1990</text><text x="169.7" y="1306.6">1995</text><text x="233.2" y="1306.6">2000</text><text x="296.6" y="1306.6">2005</text><text x="360.1" y="1306.6">2010</text><text x="423.6" y="1306.6">2015</text></g>
<g class="yl" text-anchor="end"><text x="29.4" y="1057.2">4</text><text x="29.4" y="1207.6">8</text></g>
<text class="ti" x="251.3" y="900.9">XWT: SPEI-CWD</text>
<text class="xa" font-size="17.4" x="253" y="1327.4">Year</text>
<text class="ya" font-size="17.4" transform="translate(14,1099.2) rotate(-90)">Cycles per year</text>
<g transform="translate(578.2,909.7)">
<clipPath id="c7"><rect width="428" height="374.3"/></clipPath>
<g clip-path="url(#c7)">
<g transform="scale(12.5882,12.4767)" shape-rendering="crispEdges"><path fill="#4433cc" d="M24 2h1v1h-1zM24 3h1v1h-1z"/><path fill="#463adc" d="M24 1h1v1h-1zM23 2h1v1h-1zM25 2h1v1h-1zM23 3h1v1h-1zM25 3h1v1h-1zM24 4h2v1h-2z"/><path fill="#4743e7" d="M24 0h1v1h-1zM23 1h1v1h-1zM25 1h1v1h-1zM23 4h1v1h-1z"/><path fill="#484cef" d="M23 0h1v1h-1zM25 0h1v1h-1zM24 5h1v1h-1z"/><path fill="#4755f6" d="M22 2h1v1h-1zM26 2h1v1h-1zM22 3h1v1h-1zM26 3h1v1h-1zM26 4h1v1h-1zM23 5h1v1h-1zM25 5h1v1h-1z"/><path fill="#465efb" d="M22 0h1v1h-1zM26 0h1v1h-1zM22 1h1v1h-1zM26 1h1v1h-1zM22 4h1v1h-1z"/><path fill="#4367fd" d="M10 0h2v1h-2zM10 1h2v1h-2zM10 2h2v1h-2zM22 5h1v1h-1zM26 5h1v1h-1z"/><path fill="#347afd" d="M10 3h2v1h-2z"/><path fill="#2e83f9" d="M9 0h1v1h-1zM12 0h1v1h-1zM21 0h1v1h-1zM9 1h1v1h-1zM12 1h1v1h-1zM21 1h1v1h-1zM9 2h1v1h-1zM12 2h1v1h-1zM21 2h1v1h-1zM21 3h1v1h-1zM21 4h1v1h-1z"/><path fill="#2d8cf3" d="M9 3h1v1h-1zM12 3h1v1h-1zM21 5h1v1h-1zM24 6h2v1h-2z"/><path fill="#2994ed" d="M27 2h1v1h-1zM27 3h1v1h-1zM10 4h2v1h-2zM27 4h1v1h-1zM27 5h1v1h-1zM23 6h1v1h-1z"/><path fill="#259ce7" d="M27 0h1v1h-1zM27 1h1v1h-1zM9 4h1v1h-1zM12 4h1v1h-1zM22 6h1v1h-1zM26 6h1v1h-1z"/><path fill="#21a3e3" d="M10 17h9v1h-9zM0 18h7v1h-7zM10 18h9v1h-9z"/><path fill="#1caadf" d="M21 6h1v1h-1zM27 6h1v1h-1zM9 17h1v1h-1zM7 18h3v1h-3z"/><path fill="#13b0d7" d="M8 0h1v1h-1zM13 0h1v1h-1zM8 1h1v1h-1zM13 1h1v1h-1zM8 2h1v1h-1zM13 2h1v1h-1zM8 3h1v1h-1zM13 3h1v1h-1zM20 4h1v1h-1zM10 5h3v1h-3zM31 6h3v1h-3zM31 7h3v1h-3zM0 17h9v1h-9zM19 17h1v1h-1zM19 18h1v1h-1z"/><path fill="#05b6ce" d="M20 0h1v1h-1zM20 1h1v1h-1zM20 2h1v1h-1zM20 3h1v1h-1zM8 4h1v1h-1zM13 4h1v1h-1zM9 5h1v1h-1zM20 5h1v1h-1zM28 5h1v1h-1zM28 6h3v1h-3zM29 7h2v1h-2zM0 19h19v1h-19z"/><path fill="#02bac4" d="M28 4h1v1h-1zM13 5h1v1h-1zM29 5h5v1h-5zM30 8h4v1h-4zM10 16h9v1h-9zM19 19h1v1h-1z"/><path fill="#12beb9" d="M8 5h1v1h-1zM20 6h1v1h-1zM27 7h2v1h-2zM29 8h1v1h-1zM9 16h1v1h-1zM19 16h1v1h-1zM20 17h1v1h-1z"/><path fill="#24c2ae" d="M28 0h1v1h-1zM28 1h1v1h-1zM28 2h1v1h-1zM28 3h1v1h-1zM23 7h4v1h-4zM8 16h1v1h-1zM20 18h1v1h-1zM14 24h2v1h-2zM14 25h2v1h-2z"/><path fill="#2fc5a2" d="M14 0h1v1h-1zM14 1h1v1h-1zM14 2h1v1h-1zM7 3h1v1h-1zM14 3h1v1h-1zM7 4h1v1h-1zM14 4h1v1h-1zM29 4h3v1h-3zM7 5h1v1h-1zM14 5h1v1h-1zM19 5h1v1h-1zM9 6h5v1h-5zM22 7h1v1h-1zM28 8h1v1h-1zM7 16h1v1h-1zM20 16h1v1h-1zM20 19h1v1h-1zM12 20h8v1h-8zM13 23h4v1h-4zM13 24h1v1h-1zM16 24h1v1h-1zM16 25h1v1h-1z"/><path fill="#39c895" d="M7 0h1v1h-1zM7 1h1v1h-1zM7 2h1v1h-1zM19 4h1v1h-1zM32 4h2v1h-2zM8 6h1v1h-1zM19 6h1v1h-1zM21 7h1v1h-1zM29 9h5v1h-5zM6 16h1v1h-1zM21 16h2v1h-2zM21 17h2v1h-2zM21 18h1v1h-1zM21 19h1v1h-1zM6 20h6v1h-6zM20 20h2v1h-2zM12 21h9v1h-9zM12 22h9v1h-9zM17 23h3v1h-3zM17 24h3v1h-3zM13 25h1v1h-1zM17 25h2v1h-2z"/><path fill="#48cb86" d="M29 0h1v1h-1zM29 1h1v1h-1zM29 2h1v1h-1zM19 3h1v1h-1zM29 3h1v1h-1zM6 4h1v1h-1zM15 4h1v1h-1zM0 5h7v1h-7zM15 5h4v1h-4zM7 6h1v1h-1zM14 6h1v1h-1zM18 6h1v1h-1zM20 7h1v1h-1zM27 8h1v1h-1zM28 9h1v1h-1zM10 15h3v1h-3zM0 16h6v1h-6zM23 16h2v1h-2zM23 17h3v1h-3zM22 18h4v1h-4zM22 19h4v1h-4zM0 20h6v1h-6zM22 20h2v1h-2zM11 21h1v1h-1zM21 21h2v1h-2zM21 22h1v1h-1zM12 23h1v1h-1zM20 23h1v1h-1zM20 24h1v1h-1zM19 25h1v1h-1zM14 26h5v1h-5z"/><path fill="#5ccc76" d="M19 0h1v1h-1zM19 1h1v1h-1zM19 2h1v1h-1zM15 3h1v1h-1zM30 3h1v1h-1zM0 4h6v1h-6zM18 4h1v1h-1zM0 6h7v1h-7zM15 6h3v1h-3zM19 7h1v1h-1zM26 8h1v1h-1zM8 15h2v1h-2zM13 15h11v1h-11zM25 16h3v1h-3zM26 17h8v1h-8zM26 18h8v1h-8zM26 19h8v1h-8zM24 20h10v1h-10zM10 21h1v1h-1zM23 21h1v1h-1zM11 22h1v1h-1zM21 23h1v1h-1zM20 25h1v1h-1zM19 26h1v1h-1z"/><path fill="#71cd64" d="M15 0h1v1h-1zM15 1h1v1h-1zM15 2h1v1h-1zM6 3h1v1h-1zM16 4h2v1h-2zM0 7h5v1h-5zM10 7h9v1h-9zM23 8h3v1h-3zM27 9h1v1h-1zM24 15h3v1h-3zM28 16h6v1h-6zM24 21h10v1h-10zM22 22h2v1h-2zM22 23h1v1h-1zM12 24h1v1h-1zM21 24h1v1h-1zM13 26h1v1h-1z"/><path fill="#88cb53" d="M30 0h1v1h-1zM30 1h1v1h-1zM6 2h1v1h-1zM30 2h1v1h-1zM0 3h6v1h-6zM31 3h2v1h-2zM5 7h1v1h-1zM9 7h1v1h-1zM21 8h2v1h-2zM26 9h1v1h-1zM27 10h7v1h-7zM11 14h1v1h-1zM23 14h5v1h-5zM7 15h1v1h-1zM27 15h1v1h-1zM9 21h1v1h-1zM24 22h10v1h-10zM11 23h1v1h-1zM23 23h11v1h-11zM22 24h12v1h-12zM21 25h3v1h-3zM20 26h1v1h-1zM14 27h5v1h-5z"/><path fill="#9fc942" d="M6 1h1v1h-1zM16 3h1v1h-1zM18 3h1v1h-1zM33 3h1v1h-1zM6 7h3v1h-3zM0 8h4v1h-4zM11 8h10v1h-10zM23 9h3v1h-3zM24 10h3v1h-3zM24 11h5v1h-5zM24 12h4v1h-4zM23 13h5v1h-5zM8 14h3v1h-3zM12 14h11v1h-11zM6 15h1v1h-1zM28 15h2v1h-2zM0 21h9v1h-9zM10 22h1v1h-1zM12 25h1v1h-1zM24 25h10v1h-10zM21 26h13v1h-13zM19 27h1v1h-1z"/><path fill="#b4c533" d="M6 0h1v1h-1zM5 2h1v1h-1zM16 2h1v1h-1zM31 2h1v1h-1zM17 3h1v1h-1zM4 8h1v1h-1zM10 8h1v1h-1zM11 9h4v1h-4zM19 9h4v1h-4zM11 10h2v1h-2zM22 10h2v1h-2zM12 11h1v1h-1zM23 11h1v1h-1zM29 11h1v1h-1zM11 12h2v1h-2zM23 12h1v1h-1zM28 12h1v1h-1zM11 13h2v1h-2zM22 13h1v1h-1zM28 13h1v1h-1zM6 14h2v1h-2zM28 14h1v1h-1zM0 15h6v1h-6zM30 15h4v1h-4zM11 24h1v1h-1zM12 26h1v1h-1zM13 27h1v1h-1zM20 27h1v1h-1zM14 28h5v1h-5zM14 29h1v1h-1zM18 29h1v1h-1z"/><path fill="#c8c129" d="M16 0h1v1h-1zM18 0h1v1h-1zM16 1h1v1h-1zM18 1h1v1h-1zM31 1h1v1h-1zM0 2h5v1h-5zM18 2h1v1h-1zM5 8h1v1h-1zM0 9h5v1h-5zM15 9h4v1h-4zM13 10h9v1h-9zM11 11h1v1h-1zM13 11h10v1h-10zM30 11h4v1h-4zM13 12h10v1h-10zM29 12h1v1h-1zM9 13h2v1h-2zM13 13h9v1h-9zM29 13h1v1h-1zM5 14h1v1h-1zM29 14h3v1h-3zM0 22h10v1h-10zM10 23h1v1h-1zM11 25h1v1h-1zM21 27h13v1h-13zM13 28h1v1h-1zM19 28h1v1h-1zM13 29h1v1h-1zM15 29h1v1h-1zM19 29h1v1h-1z"/><path fill="#dabd28" d="M5 0h1v1h-1zM17 0h1v1h-1zM31 0h1v1h-1zM0 1h6v1h-6zM17 1h1v1h-1zM17 2h1v1h-1zM32 2h2v1h-2zM6 8h4v1h-4zM5 9h1v1h-1zM10 9h1v1h-1zM0 10h5v1h-5zM10 10h1v1h-1zM4 11h1v1h-1zM10 11h1v1h-1zM4 12h2v1h-2zM10 12h1v1h-1zM30 12h4v1h-4zM4 13h5v1h-5zM30 13h4v1h-4zM0 14h5v1h-5zM32 14h2v1h-2zM0 23h10v1h-10zM0 24h11v1h-11zM0 25h11v1h-11zM0 26h12v1h-12zM0 27h13v1h-13zM0 28h13v1h-13zM20 28h14v1h-14zM0 29h13v1h-13zM16 29h2v1h-2z"/><path fill="#eaba31" d="M0 0h5v1h-5zM32 0h2v1h-2zM32 1h2v1h-2zM6 9h4v1h-4zM5 10h2v1h-2zM9 10h1v1h-1zM0 11h4v1h-4zM5 11h2v1h-2zM9 11h1v1h-1zM0 12h4v1h-4zM6 12h4v1h-4zM0 13h4v1h-4zM20 29h14v1h-14z"/><path fill="#f8ba3d" d="M7 10h2v1h-2zM7 11h2v1h-2z"/></g>
<g class="a"><text x="0 13 25 38 50 62 74 87 176 189 202 214 227 239 363 376 389 401 414 426" y="11 11 11 11 10 9 9 9 11 11 11 11 11 11 13 13 13 12 12 13" rotate="1 1 1 4 11 17 20 19 359 359 359 359 359 358 279 274 271 270 270 271">➛➛➛➛➛➛➛➛➛➛➛➛➛➛➛➛➛➛➛➛</text><text x="0 13 25 38 49 62 74 87 176 189 202 214 227 239 363 376 389 402 414 427" y="23 23 23 23 22 21 21 21 24 24 24 24 24 24 25 25 25 25 25 25" rotate="0 0 0 3 14 22 23 22 359 359 0 0 359 359 273 269 266 266 266 268">➛➛➛➛➛➛➛➛➛➛➛➛➛➛➛➛➛➛➛➛</text><text x="0 13 25 38 49 62 74 87 176 189 202 214 227 239 364 377 389 402 415 427" y="36 36 36 36 34 33 33 33 36 36 36 36 36 36 37 37 37 37 37 37" rotate="0 0 0 4 18 24 25 23 359 0 0 0 0 359 269 265 263 263 264 265">➛➛➛➛➛➛➛➛➛➛➛➛➛➛➛➛➛➛➛➛</text><text x="0 13 25 37 49 62 74 87 176 189 202 214 227 239 377 390 402 415 427" y="48 48 48 48 46 45 45 46 49 48 48 48 48 49 49 49 49 49 49" rotate="0 0 1 6 19 24 25 23 359 359 0 0 0 359 262 261 261 262 264">➛➛➛➛➛➛➛➛➛➛➛➛➛➛➛➛➛➛➛</text><text x="0 13 25 37 49 62 74 87 177 189 202 214 227 239 377 390 402 415 427" y="61 61 61 60 59 58 58 58 61 61 61 61 61 61 62 61 61 62 62" rotate="359 0 2 7 16 22 22 20 357 359 359 0 359 358 261 260 260 261 263">➛➛➛➛➛➛➛➛➛➛➛➛➛➛➛➛➛➛➛</text><text x="0 13 25 38 50 62 75 87 177 189 202 214 227 240" y="74 74 74 73 72 72 72 72 74 74 74 74 74 74" rotate="356 357 358 2 8 13 14 10 355 357 358 358 357 355">➛➛➛➛➛➛➛➛➛➛➛➛➛➛</text><text x="1 14 26 39 51 63 76 89 102 115 128 140 152 165 177 190 202 215 227 240" y="87 87 87 87 87 86 86 87 87 87 87 87 87 87 87 87 87 87 87 87" rotate="348 348 348 349 352 355 354 350 346 344 343 345 347 349 351 353 353 353 352 350">➛➛➛➛➛➛➛➛➛➛➛➛➛➛➛➛➛➛➛➛</text><text x="2 15 28 41 53 66 78 91 104 117 129 141 153 165 178 190 203 215 228 241 254 267 280 294 307 321" y="100 100 101 101 101 100 101 101 101 101 101 100 100 100 100 99 99 100 100 100 100 100 101 101 101 101" rotate="339 336 334 333 335 335 333 329 328 330 334 338 343 346 348 348 348 348 347 345 341 335 328 321 316 310">➛➛➛➛➛➛➛➛➛➛➛➛➛➛➛➛➛➛➛➛➛➛➛➛➛➛</text><text x="3 16 29 42 54 67 80 93 106 118 130 141 153 165 178 190 203 216 228 241 254 267 281 294 307 320 333 347 360" y="113 113 114 114 114 114 114 114 114 114 113 113 113 112 112 112 112 112 112 112 113 113 114 114 114 114 114 114 114" rotate="331 327 325 324 325 324 320 317 317 320 326 333 340 343 345 345 345 345 344 342 338 332 325 318 314 312 309 305 297">➛➛➛➛➛➛➛➛➛➛➛➛➛➛➛➛➛➛➛➛➛➛➛➛➛➛➛➛➛</text><text x="4 17 30 42 55 68 81 94 106 119 130 142 153 165 178 190 203 216 228 241 254 268 281 295 308 320 333 346 358 371 384 397 409 422" y="126 126 126 126 126 126 126 126 126 126 126 126 125 125 125 125 125 125 125 125 125 126 126 126 126 126 126 126 126 126 126 126 126 126" rotate="327 323 321 321 321 320 315 312 312 315 322 331 339 342 344 344 344 344 343 341 337 330 322 315 312 311 311 311 310 308 307 306 306 305">➛➛➛➛➛➛➛➛➛➛➛➛➛➛➛➛➛➛➛➛➛➛➛➛➛➛➛➛➛➛➛➛➛➛</text><text x="4 17 30 42 55 68 81 94 107 119 130 141 153 165 178 191 203 216 228 241 254 268 282 295 308 321 333 345 358 370 382 394 407 420" y="138 139 139 139 139 139 139 139 139 139 139 138 138 137 137 137 137 137 137 137 138 138 139 139 139 139 139 139 139 139 139 139 139 139" rotate="326 322 320 320 320 319 313 310 310 314 323 334 341 343 344 344 344 345 344 342 337 329 319 313 311 310 311 313 316 320 322 323 322 320">➛➛➛➛➛➛➛➛➛➛➛➛➛➛➛➛➛➛➛➛➛➛➛➛➛➛➛➛➛➛➛➛➛➛</text><text x="4 17 30 42 55 67 81 94 106 118 129 140 153 165 178 191 203 216 228 241 254 268 282 295 308 321 333 345 357 369 381 394 406 419" y="151 151 151 151 151 151 151 151 151 151 151 150 150 150 150 150 150 150 150 150 150 151 151 151 151 151 151 151 151 151 151 151 151 151" rotate="327 323 321 320 321 320 315 311 312 318 331 342 346 345 344 343 344 345 344 341 335 327 318 312 310 310 311 313 320 326 328 329 328 326">➛➛➛➛➛➛➛➛➛➛➛➛➛➛➛➛➛➛➛➛➛➛➛➛➛➛➛➛➛➛➛➛➛➛</text><text x="3 16 29 42 54 67 80 93 105 116 127 139 152 165 178 191 203 216 228 242 255 268 282 295 308 321 333 345 357 369 381 394 406 419" y="163 163 163 163 163 163 164 164 164 163 162 161 162 162 162 162 162 162 162 163 163 163 164 164 164 164 164 164 163 163 163 163 163 163" rotate="330 327 325 324 325 325 321 319 322 335 348 353 352 348 343 342 343 344 342 337 330 325 319 314 311 310 311 316 324 329 330 330 330 329">➛➛➛➛➛➛➛➛➛➛➛➛➛➛➛➛➛➛➛➛➛➛➛➛➛➛➛➛➛➛➛➛➛➛</text><text x="3 15 28 40 53 65 78 91 103 114 126 139 151 164 178 191 204 217 231 244 257 269 281 294 307 320 333 344 356 368 381 394 406 419" y="175 175 175 175 175 175 175 175 175 174 173 173 174 174 175 175 176 176 176 176 176 176 176 176 176 176 176 176 176 176 176 176 176 176" rotate="336 335 335 336 337 336 333 333 341 353 358 359 357 352 343 336 333 330 323 317 318 323 323 319 314 313 315 320 327 330 330 330 330 330">➛➛➛➛➛➛➛➛➛➛➛➛➛➛➛➛➛➛➛➛➛➛➛➛➛➛➛➛➛➛➛➛➛➛</text><text x="2 14 26 39 51 64 77 90 102 114 126 139 151 164 178 193 208 222 236 248 259 269 280 293 306 319 331 344 356 368 381 394 406 419" y="187 187 187 187 187 187 187 187 186 186 186 186 186 186 187 188 189 188 188 188 189 189 188 188 188 188 188 188 188 188 188 188 188 188" rotate="344 345 347 350 350 348 345 346 352 358 0 0 359 354 342 324 307 293 288 291 303 321 333 332 327 323 323 326 329 330 330 330 330 331">➛➛➛➛➛➛➛➛➛➛➛➛➛➛➛➛➛➛➛➛➛➛➛➛➛➛➛➛➛➛➛➛➛➛</text><text x="1 14 26 38 51 64 76 89 101 113 126 139 151 164 178 194 210 224 236 249 260 268 277 290 303 316 329 342 355 368 381 393 406 418" y="199 199 199 199 199 199 199 199 199 198 198 198 198 199 200 201 201 200 200 200 201 201 199 198 199 200 200 200 200 200 201 201 201 200" rotate="349 351 353 354 355 354 352 352 356 359 0 0 359 356 341 314 292 282 280 283 296 330 355 0 354 345 339 336 334 332 331 331 332 333">➛➛➛➛➛➛➛➛➛➛➛➛➛➛➛➛➛➛➛➛➛➛➛➛➛➛➛➛➛➛➛➛➛➛</text><text x="1 13 26 38 51 63 76 89 258 265 276 288 301 314 327 341 354 367 380 393 405 418" y="211 211 211 211 211 211 211 211 214 211 208 208 208 209 211 212 212 212 213 213 213 213" rotate="352 353 354 355 355 355 355 356 305 359 20 22 18 10 0 351 345 340 337 336 337 338">➛➛➛➛➛➛➛➛➛➛➛➛➛➛➛➛➛➛➛➛➛➛</text><text x="263 276 288 301 313 326 339 352 365 378 391 404 416" y="220 220 219 220 220 221 222 223 223 224 224 224 224" rotate="24 29 29 28 24 17 10 3 357 353 350 349 350">➛➛➛➛➛➛➛➛➛➛➛➛➛</text><text x="263 275 288 301 313 326 338 351 364 376 389 402 415" y="232 232 232 232 232 232 232 232 232 233 233 234 234" rotate="31 30 30 30 30 29 28 28 27 23 19 14 11">➛➛➛➛➛➛➛➛➛➛➛➛➛</text><text x="251 263 275 288 301 313 326 338 351 364 376 389 401 414" y="239 243 244 244 244 244 243 242 242 241 241 242 242 243" rotate="68 41 31 31 32 34 38 44 50 54 53 49 43 37">➛➛➛➛➛➛➛➛➛➛➛➛➛➛</text><text x="-1 12 25 37 49 62 74 87 100 113 126 139 151 164 177 189 202 215 229 242 255 265 276 288 301 313 326 339 352 365 377 390 402 414" y="259 259 259 259 258 257 256 254 253 252 251 251 251 251 251 250 250 250 249 249 249 250 254 256 256 255 254 253 252 252 252 252 253 254" rotate="9 10 10 13 18 26 37 49 59 68 75 78 79 78 79 81 84 89 97 103 102 81 48 38 38 42 49 58 65 68 68 65 61 54">➛➛➛➛➛➛➛➛➛➛➛➛➛➛➛➛➛➛➛➛➛➛➛➛➛➛➛➛➛➛➛➛➛➛</text><text x="-1 11 24 36 49 62 75 88 101 113 126 139 152 164 177 190 203 216 229 243 256 268 278 289 301 313 326 339 352 365 378 390 402 415" y="271 270 269 268 267 266 265 264 264 263 263 263 263 263 263 262 262 262 261 261 261 261 263 265 266 266 265 264 264 264 264 264 264 265" rotate="20 24 29 36 47 57 65 70 72 75 78 80 80 80 83 87 89 92 102 109 109 104 83 59 51 53 60 68 72 73 73 72 68 64">➛➛➛➛➛➛➛➛➛➛➛➛➛➛➛➛➛➛➛➛➛➛➛➛➛➛➛➛➛➛➛➛➛➛</text><text x="-2 11 24 37 50 64 76 89 101 114 126 139 152 164 177 190 203 216 229 243 256 268 279 290 301 314 327 340 353 365 378 390 403 415" y="281 280 279 277 276 275 275 275 275 276 276 275 275 275 275 275 275 274 274 273 273 273 274 276 277 277 277 276 276 276 276 276 276 277" rotate="35 42 52 63 73 80 84 84 81 79 79 80 80 81 85 89 90 91 101 108 109 107 95 77 65 63 67 72 74 75 75 74 71 68">➛➛➛➛➛➛➛➛➛➛➛➛➛➛➛➛➛➛➛➛➛➛➛➛➛➛➛➛➛➛➛➛➛➛</text><text x="-1 12 25 38 51 65 77 90 102 114 126 139 152 164 177 190 203 216 229 242 255 267 279 290 302 314 327 340 353 365 378 390 403 415" y="292 290 289 288 287 287 287 287 287 288 288 288 288 288 287 287 287 287 287 286 286 286 287 288 289 289 289 289 288 288 288 289 289 289" rotate="49 58 69 78 86 90 92 91 88 83 80 80 80 82 87 90 90 91 96 104 106 104 96 83 73 69 70 73 75 75 75 74 72 70">➛➛➛➛➛➛➛➛➛➛➛➛➛➛➛➛➛➛➛➛➛➛➛➛➛➛➛➛➛➛➛➛➛➛</text><text x="-1 12 26 39 52 65 78 90 103 115 127 139 152 165 177 190 203 216 228 242 254 267 279 290 302 315 327 340 353 365 378 390 403 415" y="303 302 301 300 299 299 299 299 299 300 300 300 300 300 300 300 299 299 299 299 299 299 299 300 301 301 301 301 301 301 301 301 301 301" rotate="60 69 78 86 91 94 95 94 92 88 83 81 82 84 87 89 90 90 93 98 100 98 93 84 76 72 72 73 74 75 75 74 72 70">➛➛➛➛➛➛➛➛➛➛➛➛➛➛➛➛➛➛➛➛➛➛➛➛➛➛➛➛➛➛➛➛➛➛</text><text x="-1 13 26 39 52 65 78 90 103 115 127 139 152 165 177 190 203 216 228 241 254 266 278 290 302 315 327 340 352 365 378 390 403 415" y="314 313 313 312 312 312 312 312 312 312 312 313 313 312 312 312 312 312 312 312 312 312 312 313 313 314 314 314 314 314 314 314 314 314" rotate="66 75 82 88 92 94 95 95 94 90 85 83 83 85 87 89 89 90 91 93 94 93 89 83 77 73 72 73 74 74 74 73 72 70">➛➛➛➛➛➛➛➛➛➛➛➛➛➛➛➛➛➛➛➛➛➛➛➛➛➛➛➛➛➛➛➛➛➛</text><text x="0 13 26 39 52 65 78 90 103 115 127 139 152 165 178 190 203 215 228 241 253 266 278 290 302 315 327 340 352 365 378 390 403 415" y="326 326 325 325 324 324 324 324 324 324 325 325 325 325 325 325 324 324 324 324 324 325 325 325 326 326 326 326 326 326 326 326 326 327" rotate="70 78 84 89 92 94 95 95 93 90 87 84 84 86 88 89 89 90 90 90 90 89 86 82 77 74 72 72 73 73 73 72 71 69">➛➛➛➛➛➛➛➛➛➛➛➛➛➛➛➛➛➛➛➛➛➛➛➛➛➛➛➛➛➛➛➛➛➛</text><text x="0 13 26 39 52 65 77 90 102 115 127 139 152 165 178 190 203 216 228 241 253 266 278 290 302 315 327 340 352 365 377 390 402 415" y="339 338 337 337 337 337 337 337 337 337 337 337 337 337 337 337 337 337 337 337 337 337 337 338 338 338 339 339 339 339 339 339 339 339" rotate="72 79 84 88 91 93 94 93 92 90 87 85 85 87 88 90 90 90 90 89 88 87 84 81 77 74 72 72 72 72 71 71 69 68">➛➛➛➛➛➛➛➛➛➛➛➛➛➛➛➛➛➛➛➛➛➛➛➛➛➛➛➛➛➛➛➛➛➛</text><text x="0 13 26 39 52 65 77 90 102 115 127 140 152 165 178 190 203 216 228 241 253 265 278 290 302 315 327 340 352 365 377 390 402 415" y="351 350 350 350 349 349 349 349 349 350 350 350 350 350 349 349 349 349 349 349 350 350 350 350 351 351 351 351 351 351 351 351 352 352" rotate="73 78 83 87 89 91 92 91 90 88 86 85 86 87 89 90 90 90 90 89 88 86 84 80 77 74 72 71 71 70 70 69 68 66">➛➛➛➛➛➛➛➛➛➛➛➛➛➛➛➛➛➛➛➛➛➛➛➛➛➛➛➛➛➛➛➛➛➛</text><text x="0 13 26 39 52 64 77 90 102 114 127 139 152 165 178 190 203 216 228 241 253 265 278 290 302 315 327 340 352 365 377 390 402 415" y="364 363 363 362 362 362 362 362 362 362 362 362 362 362 362 362 362 362 362 362 362 362 362 363 363 363 364 364 364 364 364 364 364 364" rotate="73 77 81 85 87 89 89 89 88 87 85 85 86 87 89 90 90 90 89 89 87 85 83 80 77 74 72 71 70 69 69 68 67 65">➛➛➛➛➛➛➛➛➛➛➛➛➛➛➛➛➛➛➛➛➛➛➛➛➛➛➛➛➛➛➛➛➛➛</text></g>
<path class="ct" d="M68.2 0C65.6 2.3 57.2 9.8 53 14.1C48.8 18.5 48.5 20.3 42.9 26C37.2 31.6 24.3 40.3 19.3 47.9C14.2 55.5 12.5 63.6 12.5 71.5C12.5 79.4 14.8 89.5 19.3 95.1C23.8 100.7 31.6 103 39.5 105.2C47.4 107.5 57.5 109.4 66.5 108.6C75.5 107.7 84.5 102.1 93.5 100.2C102.5 98.2 114 94.8 120.4 96.8C126.9 98.8 129.4 106.1 132.2 112C135.1 117.9 135.1 126 137.3 132.2C139.6 138.4 140.1 147.7 145.7 149.1C151.4 150.5 162.9 144 171 140.6C179.2 137.3 187.3 133 194.6 128.8C202 124.6 208.4 118.7 214.9 115.3C221.4 112 226.7 108.6 233.4 108.6C240.2 108.6 248.3 110.8 255.4 115.3C262.4 119.8 268.9 128.3 275.6 135.6C282.3 142.9 289.7 153.3 295.8 159.2C302 165.1 306.5 169 312.7 171C318.9 173 327.6 171.3 332.9 171C338.3 170.7 336.3 171 344.7 169.3C353.2 167.6 370.6 163.7 383.5 160.9C396.5 158.1 415.9 153.8 422.3 152.4"/>
<path class="ct" d="M213.2 0C214.3 5.7 216.9 30.1 219.9 34.4C223 38.7 229.2 31.7 231.8 26C234.3 20.2 234.6 4.3 235.1 0"/>
<path class="ct" d="M7.5 203C15 201.3 39.8 197.1 53 192.9C66.2 188.7 77.2 181.7 86.7 177.7C96.3 173.8 102.5 172.7 110.3 169.3C118.2 165.9 127.8 160.9 133.9 157.5C140.1 154.1 145.2 150.5 147.4 149.1"/>
<path class="ct" d="M147.4 154.1C149.7 155.8 154.2 161.1 160.9 164.2C167.7 167.3 177.8 170.1 187.9 172.7C198 175.2 207.6 178 221.6 179.4C235.7 180.8 257.6 181.4 272.2 181.1C286.8 180.8 300.9 177.7 309.3 177.7C317.8 177.7 318.3 178.9 322.8 181.1C327.3 183.4 330.7 187 336.3 191.2C341.9 195.4 347.6 200.5 356.5 206.4C365.5 212.3 379.6 221 390.3 226.6C401 232.3 415.6 237.9 420.6 240.1"/>
<path class="ct" d="M5.8 284C10.3 284.3 26.6 283.4 32.7 285.7C38.9 287.9 42.9 292.7 42.9 297.5C42.9 302.2 36.7 309.3 32.7 314.3C28.8 319.4 23.8 322.2 19.3 327.8C14.8 333.4 3 341.9 5.8 348.1C8.6 354.2 19.8 361 36.1 364.9C52.4 368.9 74.9 370.3 103.6 371.7C132.2 373.1 190.7 373.1 208.1 373.4"/>
<path class="ct" d="M221.6 373.4C232.9 372.5 269.4 370.3 289.1 368.3C308.8 366.3 325.6 364.9 339.7 361.6C353.7 358.2 368.4 353.7 373.4 348.1C378.5 342.4 366.7 334.6 370 327.8C373.4 321.1 385.2 314.3 393.6 307.6C402.1 300.8 416.1 290.7 420.6 287.4"/>
<path d="M0 0H428V374.3H0zM42.8 0L44.6 9.6L46.4 19.2L48.4 28.8L50.4 38.4L52.4 48L54.6 57.6L56.9 67.2L59.2 76.8L61.7 86.4L64.3 96L66.9 105.6L69.7 115.2L72.6 124.8L75.6 134.4L78.7 144L82 153.6L85.4 163.2L89 172.8L92.6 182.4L96.5 191.9L100.5 201.5L104.7 211.1L109 220.7L113.5 230.3L118.2 239.9L123.1 249.5L128.3 259.1L133.6 268.7L139.1 278.3L144.9 287.9L150.9 297.5L157.2 307.1L163.7 316.7L170.5 326.3L177.5 335.9L184.9 345.5L192.6 355.1L200.6 364.7L208.9 374.3L219.1 374.3L227.4 364.7L235.4 355.1L243.1 345.5L250.5 335.9L257.5 326.3L264.3 316.7L270.8 307.1L277.1 297.5L283.1 287.9L288.9 278.3L294.4 268.7L299.7 259.1L304.9 249.5L309.8 239.9L314.5 230.3L319 220.7L323.3 211.1L327.5 201.5L331.5 191.9L335.4 182.4L339 172.8L342.6 163.2L346 153.6L349.3 144L352.4 134.4L355.4 124.8L358.3 115.2L361.1 105.6L363.7 96L366.3 86.4L368.8 76.8L371.1 67.2L373.4 57.6L375.6 48L377.6 38.4L379.6 28.8L381.6 19.2L383.4 9.6L385.2 0z" fill="#fff" fill-opacity="0.5" fill-rule="evenodd"/>
<path d="M42.8 0L44.6 9.6L46.4 19.2L48.4 28.8L50.4 38.4L52.4 48L54.6 57.6L56.9 67.2L59.2 76.8L61.7 86.4L64.3 96L66.9 105.6L69.7 115.2L72.6 124.8L75.6 134.4L78.7 144L82 153.6L85.4 163.2L89 172.8L92.6 182.4L96.5 191.9L100.5 201.5L104.7 211.1L109 220.7L113.5 230.3L118.2 239.9L123.1 249.5L128.3 259.1L133.6 268.7L139.1 278.3L144.9 287.9L150.9 297.5L157.2 307.1L163.7 316.7L170.5 326.3L177.5 335.9L184.9 345.5L192.6 355.1L200.6 364.7L208.9 374.3L219.1 374.3L227.4 364.7L235.4 355.1L243.1 345.5L250.5 335.9L257.5 326.3L264.3 316.7L270.8 307.1L277.1 297.5L283.1 287.9L288.9 278.3L294.4 268.7L299.7 259.1L304.9 249.5L309.8 239.9L314.5 230.3L319 220.7L323.3 211.1L327.5 201.5L331.5 191.9L335.4 182.4L339 172.8L342.6 163.2L346 153.6L349.3 144L352.4 134.4L355.4 124.8L358.3 115.2L361.1 105.6L363.7 96L366.3 86.4L368.8 76.8L371.1 67.2L373.4 57.6L375.6 48L377.6 38.4L379.6 28.8L381.6 19.2L383.4 9.6L385.2 0" fill="none" stroke="#000" stroke-width="1"/>
</g>
<path d="M6.3 374.3v-4M69.2 374.3v-4M132.2 374.3v-4M195.1 374.3v-4M258.1 374.3v-4M321 374.3v-4M383.9 374.3v-4M0 142.3h4M428 142.3h-4M0 292.3h4M428 292.3h-4" stroke="#333" fill="none" stroke-width="1"/>
<rect x="0" y="0" width="428" height="374.3" fill="none" stroke="#333" stroke-width="1.2"/>
</g>
<rect x="1018" y="909.7" width="23" height="374.3" fill="url(#cb)" stroke="#333" stroke-width="1"/>
<path d="M1041 947.1h-3M1041 984.6h-3M1041 1022h-3M1041 1059.4h-3M1041 1096.8h-3M1041 1134.3h-3M1041 1171.7h-3M1041 1209.1h-3M1041 1246.6h-3" stroke="#333" fill="none"/>
<g class="cl"><text x="1047.5" y="914.2">1</text><text x="1047.5" y="951.6">0.9</text><text x="1047.5" y="989.1">0.8</text><text x="1047.5" y="1026.5">0.7</text><text x="1047.5" y="1063.9">0.6</text><text x="1047.5" y="1101.3">0.5</text><text x="1047.5" y="1138.8">0.4</text><text x="1047.5" y="1176.2">0.3</text><text x="1047.5" y="1213.6">0.2</text><text x="1047.5" y="1251.1">0.1</text><text x="1047.5" y="1288.5">0</text></g>
<g class="xl"><text x="584.5" y="1305">1985</text><text x="647.4" y="1305">1990</text><text x="710.4" y="1305">1995</text><text x="773.3" y="1305">2000</text><text x="836.3" y="1305">2005</text><text x="899.2" y="1305">2010</text><text x="962.1" y="1305">2015</text></g>
<g class="yl" text-anchor="end"><text x="571.2" y="1056.5">4</text><text x="571.2" y="1206.5">8</text></g>
<text class="ti" x="790.7" y="900.9">WTC: SPEI-CWD</text>
<text class="xa" font-size="15.8" x="791.4" y="1325">Year</text>
<text class="ya" font-size="15.8" transform="translate(554.5,1097.5) rotate(-90)">Cycles per year</text>
<g transform="translate(1110.6,908.7)">
<clipPath id="c8"><rect width="430" height="377"/></clipPath>
<g clip-path="url(#c8)">
<g transform="scale(12.6471,12.5667)" shape-rendering="crispEdges"><path fill="#3e26a8" d="M27 0h4v1h-4zM27 1h4v1h-4zM27 2h4v1h-4zM27 3h3v1h-3zM25 4h6v1h-6zM25 5h6v1h-6zM25 6h5v1h-5zM25 7h5v1h-5zM25 8h5v1h-5zM25 9h5v1h-5zM24 10h6v1h-6zM9 17h12v1h-12zM10 18h9v1h-9zM10 19h9v1h-9zM11 20h8v1h-8zM11 21h8v1h-8zM12 22h7v1h-7zM13 23h5v1h-5z"/><path fill="#412dbb" d="M26 3h1v1h-1zM16 6h2v1h-2zM23 10h1v1h-1zM21 17h1v1h-1zM9 18h1v1h-1zM19 18h1v1h-1zM10 20h1v1h-1zM11 22h1v1h-1zM12 23h1v1h-1zM18 23h1v1h-1z"/><path fill="#4433cc" d="M9 1h1v1h-1zM25 3h1v1h-1zM30 3h1v1h-1zM15 5h2v1h-2zM15 6h1v1h-1zM21 6h1v1h-1zM30 6h1v1h-1z"/><path fill="#463adc" d="M17 5h1v1h-1zM30 7h1v1h-1zM30 8h1v1h-1zM30 9h1v1h-1zM8 17h1v1h-1zM9 19h1v1h-1zM19 19h1v1h-1zM19 20h1v1h-1zM19 21h1v1h-1zM19 22h1v1h-1z"/><path fill="#4743e7" d="M31 0h3v1h-3zM31 1h3v1h-3zM20 6h1v1h-1zM16 7h2v1h-2zM24 9h1v1h-1zM30 10h1v1h-1zM9 16h11v1h-11zM0 18h9v1h-9zM20 18h1v1h-1zM0 19h8v1h-8zM0 20h7v1h-7zM10 21h1v1h-1zM29 25h5v1h-5zM28 26h6v1h-6zM28 27h6v1h-6zM28 28h6v1h-6zM28 29h6v1h-6z"/><path fill="#484cef" d="M9 2h1v1h-1zM4 4h1v1h-1zM3 5h1v1h-1zM15 7h1v1h-1zM8 16h1v1h-1zM20 16h1v1h-1zM0 17h8v1h-8zM7 20h1v1h-1zM28 25h1v1h-1z"/><path fill="#4755f6" d="M31 2h3v1h-3zM21 5h1v1h-1zM21 16h1v1h-1zM21 18h1v1h-1zM8 19h1v1h-1zM11 23h1v1h-1zM19 23h1v1h-1zM12 24h2v1h-2zM27 26h1v1h-1zM27 27h1v1h-1zM27 28h1v1h-1zM27 29h1v1h-1z"/><path fill="#465efb" d="M17 4h1v1h-1zM20 5h1v1h-1zM21 7h1v1h-1zM23 9h1v1h-1zM8 20h1v1h-1zM10 22h1v1h-1zM14 24h3v1h-3zM25 25h3v1h-3zM25 26h2v1h-2zM25 27h2v1h-2zM25 28h2v1h-2zM25 29h2v1h-2z"/><path fill="#4367fd" d="M17 3h1v1h-1zM3 4h1v1h-1zM4 5h1v1h-1zM18 5h1v1h-1zM18 6h1v1h-1zM20 7h1v1h-1zM7 12h3v1h-3zM9 20h1v1h-1zM0 21h8v1h-8zM0 23h11v1h-11zM3 24h9v1h-9zM17 24h1v1h-1zM28 24h6v1h-6zM4 25h9v1h-9zM24 25h1v1h-1zM4 26h9v1h-9zM24 26h1v1h-1zM4 27h9v1h-9zM24 27h1v1h-1zM4 28h9v1h-9zM24 28h1v1h-1zM4 29h9v1h-9zM24 29h1v1h-1z"/><path fill="#3d70ff" d="M18 7h1v1h-1zM8 11h2v1h-2zM0 16h8v1h-8zM8 21h1v1h-1zM0 22h10v1h-10zM25 24h3v1h-3zM3 25h1v1h-1zM3 26h1v1h-1zM3 27h1v1h-1zM3 28h1v1h-1zM3 29h1v1h-1z"/><path fill="#347afd" d="M9 0h1v1h-1zM24 4h1v1h-1zM19 5h1v1h-1zM24 5h1v1h-1zM19 6h1v1h-1zM24 6h1v1h-1zM24 7h1v1h-1zM24 8h1v1h-1zM7 11h1v1h-1zM10 12h1v1h-1zM2 24h1v1h-1zM18 24h1v1h-1zM24 24h1v1h-1zM13 25h1v1h-1zM20 25h1v1h-1z"/><path fill="#2e83f9" d="M10 1h1v1h-1zM18 4h1v1h-1zM19 7h1v1h-1zM10 11h1v1h-1zM22 17h1v1h-1zM9 21h1v1h-1zM0 24h2v1h-2zM20 24h2v1h-2zM14 25h6v1h-6zM21 25h1v1h-1zM23 25h1v1h-1zM13 26h1v1h-1zM23 26h1v1h-1zM23 27h1v1h-1zM23 28h1v1h-1zM23 29h1v1h-1z"/><path fill="#2d8cf3" d="M10 2h1v1h-1zM26 2h1v1h-1zM24 3h1v1h-1zM31 3h1v1h-1zM16 4h1v1h-1zM3 6h1v1h-1zM22 6h1v1h-1zM26 11h2v1h-2zM22 18h1v1h-1zM20 19h1v1h-1zM19 24h1v1h-1zM22 24h2v1h-2zM2 25h1v1h-1zM22 25h1v1h-1zM2 26h1v1h-1zM20 26h3v1h-3zM2 27h1v1h-1zM13 27h1v1h-1zM21 27h2v1h-2zM2 28h1v1h-1zM13 28h1v1h-1zM21 28h2v1h-2zM2 29h1v1h-1zM13 29h1v1h-1zM21 29h2v1h-2z"/><path fill="#2994ed" d="M10 0h1v1h-1zM3 3h2v1h-2zM32 3h2v1h-2zM15 4h1v1h-1zM19 4h3v1h-3zM31 4h1v1h-1zM22 5h1v1h-1zM31 5h1v1h-1zM22 7h1v1h-1zM24 11h2v1h-2zM21 19h2v1h-2zM20 20h3v1h-3zM20 21h3v1h-3zM20 22h3v1h-3zM20 23h4v1h-4zM20 27h1v1h-1zM20 28h1v1h-1zM20 29h1v1h-1z"/><path fill="#259ce7" d="M8 0h1v1h-1zM26 0h1v1h-1zM8 1h1v1h-1zM26 1h1v1h-1zM18 3h1v1h-1zM2 4h1v1h-1zM22 4h1v1h-1zM2 5h1v1h-1zM2 6h1v1h-1zM4 6h1v1h-1zM23 11h1v1h-1zM0 15h2v1h-2zM6 15h5v1h-5zM23 19h1v1h-1zM23 20h1v1h-1zM23 21h1v1h-1zM23 22h1v1h-1zM24 23h4v1h-4zM0 25h2v1h-2zM14 26h1v1h-1z"/><path fill="#21a3e3" d="M3 0h5v1h-5zM3 1h5v1h-5zM3 2h2v1h-2zM8 2h1v1h-1zM2 3h1v1h-1zM16 3h1v1h-1zM0 4h2v1h-2zM23 4h1v1h-1zM32 4h2v1h-2zM0 5h2v1h-2zM23 5h1v1h-1zM32 5h2v1h-2zM0 6h2v1h-2zM23 6h1v1h-1zM31 6h1v1h-1zM0 7h4v1h-4zM23 7h1v1h-1zM0 8h2v1h-2zM23 8h1v1h-1zM0 9h1v1h-1zM0 10h1v1h-1zM0 11h1v1h-1zM28 11h1v1h-1zM0 12h1v1h-1zM6 12h1v1h-1zM0 13h1v1h-1zM7 13h4v1h-4zM0 14h2v1h-2zM7 14h4v1h-4zM2 15h4v1h-4zM11 15h1v1h-1zM22 16h1v1h-1zM23 17h1v1h-1zM23 18h1v1h-1zM28 23h1v1h-1zM0 26h2v1h-2zM15 26h5v1h-5zM0 27h2v1h-2zM0 28h2v1h-2zM0 29h2v1h-2z"/><path fill="#1caadf" d="M0 0h3v1h-3zM0 1h3v1h-3zM0 2h3v1h-3zM5 2h3v1h-3zM17 2h1v1h-1zM0 3h2v1h-2zM22 3h2v1h-2zM14 6h1v1h-1zM32 6h2v1h-2zM4 7h1v1h-1zM31 7h1v1h-1zM2 8h2v1h-2zM31 8h1v1h-1zM1 9h3v1h-3zM1 10h2v1h-2zM1 11h2v1h-2zM1 12h2v1h-2zM1 13h2v1h-2zM6 13h1v1h-1zM2 14h5v1h-5zM12 15h7v1h-7zM24 18h1v1h-1zM29 23h5v1h-5zM14 27h1v1h-1zM19 27h1v1h-1zM14 28h1v1h-1zM19 28h1v1h-1zM14 29h1v1h-1zM19 29h1v1h-1z"/><path fill="#13b0d7" d="M5 3h1v1h-1zM15 3h1v1h-1zM19 3h3v1h-3zM14 5h1v1h-1zM14 7h1v1h-1zM32 7h2v1h-2zM4 8h1v1h-1zM22 8h1v1h-1zM32 8h2v1h-2zM31 9h1v1h-1zM33 9h1v1h-1zM3 10h2v1h-2zM3 11h2v1h-2zM6 11h1v1h-1zM3 12h3v1h-3zM3 13h3v1h-3zM19 15h1v1h-1zM24 19h1v1h-1zM24 22h1v1h-1zM15 27h4v1h-4zM15 28h4v1h-4zM15 29h4v1h-4z"/><path fill="#05b6ce" d="M9 3h2v1h-2zM5 4h1v1h-1zM15 8h7v1h-7zM4 9h1v1h-1zM32 9h1v1h-1zM22 10h1v1h-1zM5 11h1v1h-1zM11 11h12v1h-12zM29 11h1v1h-1zM11 12h1v1h-1zM11 13h1v1h-1zM11 14h8v1h-8zM24 17h1v1h-1zM25 18h1v1h-1zM24 20h1v1h-1zM24 21h1v1h-1z"/><path fill="#02bac4" d="M25 2h1v1h-1zM6 3h3v1h-3zM14 3h1v1h-1zM14 4h1v1h-1zM5 5h1v1h-1zM22 9h1v1h-1zM33 10h1v1h-1zM12 12h8v1h-8zM12 13h8v1h-8zM19 14h1v1h-1zM23 16h1v1h-1zM25 19h1v1h-1zM25 22h4v1h-4zM32 22h2v1h-2z"/><path fill="#12beb9" d="M11 2h1v1h-1zM11 3h3v1h-3zM5 6h1v1h-1zM5 7h1v1h-1zM5 10h1v1h-1zM31 10h2v1h-2zM30 11h1v1h-1zM20 12h7v1h-7zM20 15h1v1h-1zM25 17h1v1h-1zM25 20h1v1h-1zM25 21h3v1h-3zM33 21h1v1h-1zM29 22h3v1h-3z"/><path fill="#24c2ae" d="M16 2h1v1h-1zM18 2h1v1h-1zM24 2h1v1h-1zM5 8h1v1h-1zM14 8h1v1h-1zM5 9h1v1h-1zM7 10h15v1h-15zM33 11h1v1h-1zM20 13h1v1h-1zM20 14h1v1h-1zM21 15h1v1h-1zM26 18h1v1h-1zM26 19h1v1h-1zM26 20h2v1h-2zM28 21h5v1h-5z"/><path fill="#2fc5a2" d="M11 0h1v1h-1zM11 1h1v1h-1zM12 2h4v1h-4zM23 2h1v1h-1zM6 9h16v1h-16zM6 10h1v1h-1zM21 13h3v1h-3zM21 14h2v1h-2zM22 15h2v1h-2zM27 19h1v1h-1zM28 20h1v1h-1zM32 20h2v1h-2z"/><path fill="#39c895" d="M12 0h5v1h-5zM24 0h2v1h-2zM12 1h5v1h-5zM23 1h3v1h-3zM19 2h4v1h-4zM6 4h3v1h-3zM11 4h3v1h-3zM6 5h1v1h-1zM13 5h1v1h-1zM6 6h1v1h-1zM13 6h1v1h-1zM6 7h1v1h-1zM13 7h1v1h-1zM6 8h3v1h-3zM11 8h3v1h-3zM32 11h1v1h-1zM24 13h3v1h-3zM23 14h1v1h-1zM33 19h1v1h-1zM29 20h3v1h-3z"/><path fill="#48cb86" d="M17 0h1v1h-1zM23 0h1v1h-1zM17 1h1v1h-1zM9 4h2v1h-2zM7 5h1v1h-1zM12 5h1v1h-1zM12 6h1v1h-1zM7 7h1v1h-1zM12 7h1v1h-1zM9 8h2v1h-2zM27 12h1v1h-1zM24 16h1v1h-1zM26 17h1v1h-1z"/><path fill="#5ccc76" d="M18 0h5v1h-5zM18 1h5v1h-5zM7 6h1v1h-1zM31 11h1v1h-1zM24 14h1v1h-1zM26 14h1v1h-1zM24 15h1v1h-1zM25 16h1v1h-1zM27 18h1v1h-1zM28 19h1v1h-1zM32 19h1v1h-1z"/><path fill="#71cd64" d="M8 5h1v1h-1zM11 5h1v1h-1zM25 14h1v1h-1zM25 15h2v1h-2zM26 16h1v1h-1zM29 19h1v1h-1zM31 19h1v1h-1z"/><path fill="#88cb53" d="M8 7h1v1h-1zM11 7h1v1h-1zM33 12h1v1h-1zM33 18h1v1h-1zM30 19h1v1h-1z"/><path fill="#9fc942" d="M9 5h2v1h-2zM8 6h1v1h-1zM11 6h1v1h-1zM27 13h1v1h-1zM28 18h1v1h-1z"/><path fill="#b4c533" d="M9 6h2v1h-2zM9 7h2v1h-2zM28 12h1v1h-1zM32 12h1v1h-1zM27 17h1v1h-1zM32 18h1v1h-1z"/><path fill="#dabd28" d="M29 12h1v1h-1zM31 12h1v1h-1zM27 14h1v1h-1zM27 16h1v1h-1zM29 18h3v1h-3z"/><path fill="#eaba31" d="M30 12h1v1h-1zM27 15h1v1h-1z"/><path fill="#f8ba3d" d="M33 13h1v1h-1zM28 17h1v1h-1zM33 17h1v1h-1z"/><path fill="#fec13a" d="M28 13h1v1h-1z"/><path fill="#feca33" d="M32 13h1v1h-1zM32 17h1v1h-1z"/><path fill="#fad42e" d="M29 13h1v1h-1zM29 17h1v1h-1zM31 17h1v1h-1z"/><path fill="#f6de29" d="M30 13h2v1h-2zM28 14h1v1h-1zM28 16h1v1h-1zM33 16h1v1h-1zM30 17h1v1h-1z"/><path fill="#f5e825" d="M33 14h1v1h-1zM28 15h1v1h-1z"/><path fill="#f6f21e" d="M29 14h1v1h-1zM32 14h1v1h-1zM33 15h1v1h-1zM29 16h1v1h-1zM31 16h2v1h-2z"/><path fill="#f9fb15" d="M30 14h2v1h-2zM29 15h4v1h-4zM30 16h1v1h-1z"/></g>
<g class="a"><text x="0 13 26 39 51 64 77 89 101 113 125 138 150 164 177 191 204 217 229 242 254 267 280 294 308 322 335 348 361 373 385 397 409 421" y="1 1 1 1 1 1 1 1 1 2 4 6 8 10 11 12 12 12 12 12 12 13 13 13 14 14 14 14 14 14 14 14 14 14" rotate="78 79 80 81 83 83 83 81 77 69 57 43 27 11 358 350 347 345 345 345 345 344 341 333 322 312 306 304 305 309 314 318 322 324">➛➛➛➛➛➛➛➛➛➛➛➛➛➛➛➛➛➛➛➛➛➛➛➛➛➛➛➛➛➛➛➛➛➛</text><text x="0 13 26 39 52 64 77 89 102 113 125 138 150 164 177 191 204 217 229 242 254 267 281 295 309 323 337 349 362 373 385 397 409 421" y="14 14 13 13 13 13 13 13 14 15 16 18 20 22 24 25 25 25 25 25 25 25 26 26 27 27 27 26 27 27 27 27 26 26" rotate="79 80 81 82 84 84 85 83 79 69 56 42 28 12 359 350 346 345 345 345 345 344 339 328 314 302 297 295 298 305 313 319 323 325">➛➛➛➛➛➛➛➛➛➛➛➛➛➛➛➛➛➛➛➛➛➛➛➛➛➛➛➛➛➛➛➛➛➛</text><text x="1 13 26 39 52 64 77 89 102 113 125 138 150 164 177 191 204 217 229 242 254 267 281 295 310 324 338 350 363 374 385 397 409 421" y="26 26 26 26 26 26 26 26 26 28 30 31 33 34 36 37 37 38 38 38 38 38 38 39 39 39 39 39 39 39 39 39 39 39" rotate="81 81 82 83 84 85 85 84 78 65 52 40 29 15 2 352 347 345 345 345 345 343 336 321 304 293 288 287 291 301 313 321 325 326">➛➛➛➛➛➛➛➛➛➛➛➛➛➛➛➛➛➛➛➛➛➛➛➛➛➛➛➛➛➛➛➛➛➛</text><text x="1 13 26 39 51 64 77 89 101 113 125 138 150 163 177 190 203 216 229 242 254 267 281 296 312 325 339 351 364 375 385 396 408 421" y="38 38 38 38 38 38 38 39 40 42 43 44 45 46 48 49 50 50 50 50 50 50 51 52 52 51 51 51 51 52 52 51 51 51" rotate="83 83 82 83 83 84 84 81 71 55 43 37 29 19 7 356 349 347 346 346 346 342 332 313 295 285 281 281 284 297 314 324 327 328">➛➛➛➛➛➛➛➛➛➛➛➛➛➛➛➛➛➛➛➛➛➛➛➛➛➛➛➛➛➛➛➛➛➛</text><text x="1 14 26 39 51 64 76 88 100 112 125 138 150 163 176 190 203 216 229 242 254 268 282 297 312 326 339 352 364 375 384 396 408 421" y="51 51 51 51 51 51 51 52 54 56 57 57 58 59 60 61 62 62 62 62 63 63 64 64 64 64 63 63 63 64 64 64 64 64" rotate="86 86 85 83 82 81 80 71 53 40 35 33 29 22 13 3 356 351 349 348 347 341 327 306 289 281 277 276 279 292 317 328 329 329">➛➛➛➛➛➛➛➛➛➛➛➛➛➛➛➛➛➛➛➛➛➛➛➛➛➛➛➛➛➛➛➛➛➛</text><text x="2 14 27 39 51 63 75 87 100 112 125 138 150 163 176 189 202 215 228 241 254 268 282 298 313 326 339 352 364 376 384 395 408 421" y="63 63 63 63 64 64 65 67 69 70 70 70 70 71 72 73 73 74 74 75 75 76 77 77 76 76 76 76 76 77 77 76 76 76" rotate="89 90 89 86 81 76 68 53 38 32 31 31 29 24 17 11 5 359 356 353 349 341 324 302 286 279 276 275 276 289 320 329 330 330">➛➛➛➛➛➛➛➛➛➛➛➛➛➛➛➛➛➛➛➛➛➛➛➛➛➛➛➛➛➛➛➛➛➛</text><text x="2 15 27 40 52 63 75 87 100 112 125 138 150 163 176 189 202 215 227 240 254 267 282 298 313 326 339 352 364 375 384 396 408 421" y="75 75 75 75 76 77 79 81 82 83 83 83 83 84 84 85 85 86 86 86 87 88 89 89 89 89 88 88 88 89 89 89 89 89" rotate="92 93 93 90 84 74 59 42 33 30 30 30 28 22 17 14 11 8 4 0 354 343 325 302 287 279 276 275 277 290 319 329 330 330">➛➛➛➛➛➛➛➛➛➛➛➛➛➛➛➛➛➛➛➛➛➛➛➛➛➛➛➛➛➛➛➛➛➛</text><text x="2 15 27 40 52 63 75 87 100 112 125 138 150 163 176 189 202 214 227 240 253 267 282 297 312 326 339 352 364 375 384 396 408 421" y="88 88 88 88 88 89 92 94 95 95 95 95 96 97 97 97 98 98 98 98 99 100 101 102 102 101 101 101 101 102 102 102 102 102" rotate="94 95 95 93 88 75 57 41 32 30 30 30 25 18 14 13 13 12 10 7 0 349 330 308 292 283 279 278 282 295 317 327 329 329">➛➛➛➛➛➛➛➛➛➛➛➛➛➛➛➛➛➛➛➛➛➛➛➛➛➛➛➛➛➛➛➛➛➛</text><text x="2 15 27 40 52 64 75 87 100 112 125 138 151 164 176 189 202 214 227 240 253 266 280 296 311 325 338 351 363 374 385 396 408 421" y="100 100 100 100 101 102 104 106 107 108 108 108 109 110 110 110 110 110 110 110 111 112 113 114 115 114 114 114 114 115 115 114 114 114" rotate="94 95 95 94 89 78 60 45 36 32 31 29 21 14 11 11 13 14 14 12 7 356 339 318 301 291 286 286 290 302 316 325 328 329">➛➛➛➛➛➛➛➛➛➛➛➛➛➛➛➛➛➛➛➛➛➛➛➛➛➛➛➛➛➛➛➛➛➛</text><text x="2 15 27 40 52 64 75 87 100 112 125 138 151 164 176 189 202 214 227 239 252 265 279 294 309 323 336 349 361 373 384 396 408 421" y="113 113 113 113 113 114 116 117 119 119 120 121 122 123 123 123 123 122 122 122 123 124 125 126 127 127 127 127 127 127 127 127 127 127" rotate="93 94 95 93 88 78 65 53 43 37 33 28 18 12 10 10 13 16 18 17 13 4 351 333 316 305 299 299 303 312 320 326 329 331">➛➛➛➛➛➛➛➛➛➛➛➛➛➛➛➛➛➛➛➛➛➛➛➛➛➛➛➛➛➛➛➛➛➛</text><text x="2 15 27 40 52 64 76 88 100 112 125 138 151 164 176 189 201 214 226 239 252 265 278 292 306 320 334 346 358 370 383 395 407 420" y="126 126 126 126 126 127 128 128 129 130 132 133 134 135 135 135 135 134 134 134 134 135 137 138 139 139 140 140 140 139 139 139 139 139" rotate="92 93 93 90 85 78 71 64 57 49 40 30 19 13 11 11 15 20 23 22 19 12 1 347 333 323 319 318 322 327 332 334 336 337">➛➛➛➛➛➛➛➛➛➛➛➛➛➛➛➛➛➛➛➛➛➛➛➛➛➛➛➛➛➛➛➛➛➛</text><text x="1 14 27 39 51 64 76 89 101 113 125 138 150 163 176 189 201 214 226 239 252 265 278 291 305 318 331 344 356 368 381 393 406 419" y="139 138 138 139 139 139 139 140 140 141 142 145 146 147 147 147 146 146 146 146 146 147 148 149 150 151 151 151 151 151 151 151 151 151" rotate="88 89 88 86 82 79 78 77 74 66 53 37 25 19 17 21 26 29 29 27 24 18 9 359 349 342 339 339 342 345 347 347 347 346">➛➛➛➛➛➛➛➛➛➛➛➛➛➛➛➛➛➛➛➛➛➛➛➛➛➛➛➛➛➛➛➛➛➛</text><text x="1 13 26 38 51 64 77 90 102 114 126 138 150 163 176 188 201 214 226 239 252 264 277 290 304 317 330 342 355 367 380 392 405 418" y="152 152 152 152 152 152 151 151 151 152 153 156 157 158 158 157 157 157 158 158 158 159 160 161 162 162 163 163 162 162 162 162 162 162" rotate="82 82 81 80 79 81 84 86 85 80 67 49 35 30 32 36 38 36 34 31 28 22 15 7 0 355 353 354 356 357 358 358 357 355">➛➛➛➛➛➛➛➛➛➛➛➛➛➛➛➛➛➛➛➛➛➛➛➛➛➛➛➛➛➛➛➛➛➛</text><text x="0 13 25 38 51 64 77 90 103 115 127 138 150 163 176 188 201 214 226 239 252 264 277 290 303 316 329 342 354 367 379 392 405 417" y="165 165 165 165 165 164 164 164 164 164 165 167 169 170 170 169 169 169 170 170 171 171 172 173 174 174 174 174 174 174 174 174 174 174" rotate="75 74 74 74 77 82 87 89 89 86 76 58 43 37 38 40 40 39 37 34 30 25 19 12 6 2 0 1 2 3 3 3 2 0">➛➛➛➛➛➛➛➛➛➛➛➛➛➛➛➛➛➛➛➛➛➛➛➛➛➛➛➛➛➛➛➛➛➛</text><text x="0 12 25 38 51 64 77 90 103 115 127 138 150 163 176 188 201 214 226 239 251 264 277 290 303 316 329 341 354 367 379 392 405 417" y="178 178 178 178 178 177 176 176 176 176 177 179 181 182 182 182 182 182 182 183 183 184 184 185 186 186 187 187 187 186 186 186 187 187" rotate="67 66 66 68 73 81 87 90 90 88 79 63 47 40 39 40 40 39 38 35 32 27 21 15 9 6 4 4 4 5 5 5 4 3">➛➛➛➛➛➛➛➛➛➛➛➛➛➛➛➛➛➛➛➛➛➛➛➛➛➛➛➛➛➛➛➛➛➛</text><text x="-1 12 24 37 50 63 77 90 103 115 127 138 150 163 176 188 201 214 226 239 251 264 277 290 303 316 329 341 354 367 379 392 404 417" y="192 192 192 192 191 190 189 189 189 189 190 191 193 194 194 194 194 195 195 195 195 196 197 198 198 199 199 199 199 199 199 199 199 199" rotate="60 58 58 59 64 74 84 88 88 86 77 63 50 43 40 40 40 39 38 36 33 28 23 16 11 7 5 5 5 5 5 5 5 4">➛➛➛➛➛➛➛➛➛➛➛➛➛➛➛➛➛➛➛➛➛➛➛➛➛➛➛➛➛➛➛➛➛➛</text><text x="-1 11 24 37 49 62 76 89 102 114 126 138 150 163 176 188 201 214 226 239 251 264 277 290 303 316 328 341 354 367 379 392 404 417" y="205 205 206 206 206 205 203 202 202 202 203 204 206 206 207 207 207 207 207 207 208 209 209 210 211 211 211 212 212 212 212 212 212 212" rotate="54 52 50 49 51 58 71 80 82 80 72 60 50 45 42 41 40 40 38 37 33 29 23 17 12 8 6 5 5 5 5 5 5 5">➛➛➛➛➛➛➛➛➛➛➛➛➛➛➛➛➛➛➛➛➛➛➛➛➛➛➛➛➛➛➛➛➛➛</text><text x="-1 11 24 36 49 62 75 88 101 114 126 138 150 163 176 188 201 214 226 239 251 264 277 290 303 316 328 341 354 367 379 392 404 417" y="218 219 219 219 219 219 218 216 216 216 216 217 218 219 219 219 219 219 220 220 220 221 222 223 223 224 224 224 224 224 224 224 224 224" rotate="50 47 45 43 43 45 53 64 70 70 64 56 49 46 44 43 42 41 40 37 34 29 24 17 12 8 6 5 5 5 5 5 5 5">➛➛➛➛➛➛➛➛➛➛➛➛➛➛➛➛➛➛➛➛➛➛➛➛➛➛➛➛➛➛➛➛➛➛</text><text x="-1 11 24 36 49 62 74 87 100 113 125 138 150 163 176 188 201 214 226 239 251 264 277 290 303 316 329 341 354 367 379 392 404 417" y="231 231 232 232 232 232 232 230 230 229 230 230 231 231 231 232 232 232 232 232 233 234 234 235 236 236 237 237 237 237 237 237 237 237" rotate="48 45 42 41 40 41 45 52 59 61 57 52 48 46 45 45 44 43 41 39 35 30 24 17 11 7 5 4 4 4 5 5 5 6">➛➛➛➛➛➛➛➛➛➛➛➛➛➛➛➛➛➛➛➛➛➛➛➛➛➛➛➛➛➛➛➛➛➛</text><text x="-1 11 24 36 49 62 74 87 100 113 125 138 150 163 176 188 201 214 226 239 251 264 277 290 303 316 329 341 354 367 379 392 404 417" y="244 244 244 245 245 245 244 244 243 243 243 243 244 244 244 244 244 244 244 245 245 246 247 248 249 249 249 250 250 250 249 249 249 249" rotate="47 44 42 40 40 40 43 48 53 55 53 50 47 45 45 45 45 44 42 40 36 31 24 17 10 6 3 2 2 2 4 5 6 7">➛➛➛➛➛➛➛➛➛➛➛➛➛➛➛➛➛➛➛➛➛➛➛➛➛➛➛➛➛➛➛➛➛➛</text><text x="-1 11 24 36 49 62 74 87 100 113 125 138 150 163 176 188 201 214 226 239 251 264 277 290 303 316 329 342 354 367 379 392 404 417" y="256 257 257 257 257 257 257 256 256 256 256 256 256 257 257 257 257 257 257 257 258 258 259 260 261 262 262 262 262 262 262 262 261 261" rotate="47 45 43 41 41 41 44 48 52 53 52 49 46 45 45 45 45 44 43 41 37 32 25 17 10 5 2 0 0 1 3 6 8 9">➛➛➛➛➛➛➛➛➛➛➛➛➛➛➛➛➛➛➛➛➛➛➛➛➛➛➛➛➛➛➛➛➛➛</text><text x="-1 11 24 36 49 62 75 87 100 113 125 138 150 163 176 188 201 214 226 239 251 264 277 290 303 316 329 342 354 367 379 392 404 417" y="269 269 269 269 269 269 269 268 268 268 268 269 269 269 269 269 269 269 269 270 270 271 272 273 274 274 275 275 275 275 275 274 274 273" rotate="49 47 45 44 44 45 48 52 54 54 52 49 46 45 45 45 45 44 43 41 38 33 27 19 12 6 2 0 0 1 4 7 11 13">➛➛➛➛➛➛➛➛➛➛➛➛➛➛➛➛➛➛➛➛➛➛➛➛➛➛➛➛➛➛➛➛➛➛</text><text x="-1 11 24 37 49 62 75 88 100 113 125 138 150 163 176 188 201 214 226 239 251 264 277 290 303 316 329 341 354 367 379 391 404 416" y="281 281 281 281 281 281 280 280 280 280 281 281 281 282 282 282 282 282 282 282 283 283 284 285 286 286 287 287 287 287 287 286 286 285" rotate="51 50 49 49 50 53 56 58 58 57 53 50 47 46 45 45 45 44 43 41 39 35 30 24 17 10 4 2 1 3 8 12 16 18">➛➛➛➛➛➛➛➛➛➛➛➛➛➛➛➛➛➛➛➛➛➛➛➛➛➛➛➛➛➛➛➛➛➛</text><text x="-1 11 24 37 50 62 75 88 100 113 125 138 150 163 176 188 201 214 226 239 251 264 277 289 302 315 328 341 353 366 378 391 403 416" y="293 293 293 293 292 292 292 292 292 292 293 293 294 294 294 294 294 295 295 295 295 295 296 296 297 297 298 299 299 298 298 297 297 297" rotate="54 54 55 57 59 63 65 65 63 60 56 51 48 46 45 44 44 43 42 41 40 38 35 31 27 22 16 12 12 15 19 23 25 25">➛➛➛➛➛➛➛➛➛➛➛➛➛➛➛➛➛➛➛➛➛➛➛➛➛➛➛➛➛➛➛➛➛➛</text><text x="-1 12 24 37 50 63 76 88 101 113 126 138 150 163 176 188 201 214 226 239 251 264 277 289 302 315 327 340 353 365 378 391 403 416" y="305 305 305 305 304 304 304 304 304 304 305 306 306 307 307 307 307 307 307 307 307 308 308 308 307 307 307 306 306 307 307 307 308 308" rotate="56 58 60 62 66 68 69 69 67 64 59 53 49 46 44 43 42 42 41 41 41 40 40 40 42 44 46 48 48 46 43 40 38 35">➛➛➛➛➛➛➛➛➛➛➛➛➛➛➛➛➛➛➛➛➛➛➛➛➛➛➛➛➛➛➛➛➛➛</text><text x="-1 12 25 37 50 63 76 88 101 113 126 138 150 163 176 188 201 214 226 239 251 264 277 290 302 315 329 342 354 367 379 391 403 416" y="318 317 317 317 316 316 316 316 316 317 317 318 319 319 320 320 320 320 320 320 320 320 319 319 318 317 316 316 316 316 317 318 319 319" rotate="58 60 63 66 68 69 70 70 69 66 61 54 49 45 43 41 41 41 41 41 41 42 45 49 55 63 70 74 74 71 65 57 51 45">➛➛➛➛➛➛➛➛➛➛➛➛➛➛➛➛➛➛➛➛➛➛➛➛➛➛➛➛➛➛➛➛➛➛</text><text x="-1 12 25 37 50 63 76 88 101 113 126 138 150 163 176 188 201 214 226 239 251 264 277 290 303 316 329 342 355 367 379 392 404 416" y="330 330 329 329 329 329 329 329 329 329 330 331 332 332 332 333 333 333 333 333 332 332 332 331 330 329 328 328 328 328 328 329 330 331" rotate="60 62 64 67 69 70 70 70 69 67 62 55 48 44 42 40 40 40 40 41 42 44 48 55 64 72 77 79 79 78 73 67 60 53">➛➛➛➛➛➛➛➛➛➛➛➛➛➛➛➛➛➛➛➛➛➛➛➛➛➛➛➛➛➛➛➛➛➛</text><text x="-1 12 25 37 50 63 76 88 101 113 126 138 150 163 176 188 201 214 226 239 251 264 277 290 303 316 329 342 355 367 380 392 404 416" y="342 342 342 342 342 341 341 341 342 342 342 343 344 345 345 345 345 345 345 345 345 345 344 343 342 341 340 340 340 340 341 341 342 343" rotate="61 63 65 67 68 69 70 70 69 66 61 54 48 43 41 40 40 40 40 41 42 45 50 58 67 74 78 80 80 79 76 71 64 58">➛➛➛➛➛➛➛➛➛➛➛➛➛➛➛➛➛➛➛➛➛➛➛➛➛➛➛➛➛➛➛➛➛➛</text><text x="-1 12 25 37 50 63 76 88 101 113 126 138 150 163 176 188 201 214 226 239 251 264 277 290 303 316 329 342 355 367 380 392 404 416" y="355 355 355 354 354 354 354 354 354 355 355 356 357 357 358 358 358 358 358 358 358 357 356 355 354 353 353 353 353 353 353 354 354 355" rotate="61 63 65 66 68 69 69 69 67 64 60 53 47 43 41 40 40 40 40 41 42 45 51 59 68 74 78 79 79 78 76 72 66 61">➛➛➛➛➛➛➛➛➛➛➛➛➛➛➛➛➛➛➛➛➛➛➛➛➛➛➛➛➛➛➛➛➛➛</text><text x="-1 12 25 37 50 63 75 88 101 113 125 138 150 163 176 188 201 214 226 239 251 264 277 290 303 316 329 342 354 367 379 392 404 417" y="368 367 367 367 367 367 367 367 367 367 368 369 369 370 370 370 370 370 370 370 370 370 369 368 367 366 366 366 366 366 366 366 367 368" rotate="61 62 64 65 66 67 67 67 65 62 58 52 47 43 41 41 40 40 40 41 43 46 52 59 67 72 76 78 78 77 75 71 67 61">➛➛➛➛➛➛➛➛➛➛➛➛➛➛➛➛➛➛➛➛➛➛➛➛➛➛➛➛➛➛➛➛➛➛</text></g>
<path class="ct" d="M98.8 99.5C98 95.5 98.2 84.6 100.5 79.2C102.7 73.9 107 70.4 112.3 67.4C117.6 64.5 126.6 62.5 132.5 61.7C138.4 60.9 144.2 60 147.7 62.4C151.2 64.7 152.7 70.8 153.4 75.9C154.2 80.9 153.6 87.9 152.1 92.7C150.6 97.5 149.3 102.3 144.3 104.5C139.4 106.8 128.9 106.5 122.4 106.2C116 105.9 109.5 104 105.6 102.8C101.6 101.7 99.7 103.4 98.8 99.5z"/>
<path class="ct" d="M426 170.3C424.3 168.3 420.9 161.6 415.9 158.5C410.8 155.4 404.1 150.9 395.6 151.7C387.2 152.6 374.3 159.3 365.3 163.6C356.3 167.8 347 173.1 341.7 177C336.3 181 334.6 183.2 333.2 187.2C331.8 191.1 331.3 195 333.2 200.7C335.2 206.3 338.6 215.3 345 220.9C351.5 226.5 362.5 232.7 372 234.4C381.6 236.1 393.9 233.3 402.4 231C410.8 228.8 419.2 222.6 422.6 220.9"/>
<path d="M0 0H430V377H0zM43 0L44.8 9.7L46.6 19.3L48.6 29L50.6 38.7L52.7 48.3L54.9 58L57.2 67.7L59.5 77.3L62 87L64.6 96.7L67.2 106.3L70 116L72.9 125.7L76 135.3L79.1 145L82.4 154.7L85.8 164.3L89.4 174L93.1 183.7L96.9 193.3L101 203L105.2 212.7L109.5 222.3L114.1 232L118.8 241.7L123.7 251.3L128.9 261L134.2 270.7L139.8 280.3L145.6 290L151.6 299.7L157.9 309.3L164.4 319L171.3 328.7L178.4 338.3L185.8 348L193.5 357.7L201.5 367.3L209.9 377L220.1 377L228.5 367.3L236.5 357.7L244.2 348L251.6 338.3L258.7 328.7L265.6 319L272.1 309.3L278.4 299.7L284.4 290L290.2 280.3L295.8 270.7L301.1 261L306.3 251.3L311.2 241.7L315.9 232L320.5 222.3L324.8 212.7L329 203L333.1 193.3L336.9 183.7L340.6 174L344.2 164.3L347.6 154.7L350.9 145L354 135.3L357.1 125.7L360 116L362.8 106.3L365.4 96.7L368 87L370.5 77.3L372.8 67.7L375.1 58L377.3 48.3L379.4 38.7L381.4 29L383.4 19.3L385.2 9.7L387 0z" fill="#fff" fill-opacity="0.5" fill-rule="evenodd"/>
<path d="M43 0L44.8 9.7L46.6 19.3L48.6 29L50.6 38.7L52.7 48.3L54.9 58L57.2 67.7L59.5 77.3L62 87L64.6 96.7L67.2 106.3L70 116L72.9 125.7L76 135.3L79.1 145L82.4 154.7L85.8 164.3L89.4 174L93.1 183.7L96.9 193.3L101 203L105.2 212.7L109.5 222.3L114.1 232L118.8 241.7L123.7 251.3L128.9 261L134.2 270.7L139.8 280.3L145.6 290L151.6 299.7L157.9 309.3L164.4 319L171.3 328.7L178.4 338.3L185.8 348L193.5 357.7L201.5 367.3L209.9 377L220.1 377L228.5 367.3L236.5 357.7L244.2 348L251.6 338.3L258.7 328.7L265.6 319L272.1 309.3L278.4 299.7L284.4 290L290.2 280.3L295.8 270.7L301.1 261L306.3 251.3L311.2 241.7L315.9 232L320.5 222.3L324.8 212.7L329 203L333.1 193.3L336.9 183.7L340.6 174L344.2 164.3L347.6 154.7L350.9 145L354 135.3L357.1 125.7L360 116L362.8 106.3L365.4 96.7L368 87L370.5 77.3L372.8 67.7L375.1 58L377.3 48.3L379.4 38.7L381.4 29L383.4 19.3L385.2 9.7L387 0" fill="none" stroke="#000" stroke-width="1"/>
</g>
<path d="M6.3 377v-4M69.6 377v-4M132.8 377v-4M196 377v-4M259.3 377v-4M322.5 377v-4M385.7 377v-4M0 142.6h4M430 142.6h-4M0 294.4h4M430 294.4h-4" stroke="#333" fill="none" stroke-width="1"/>
<rect x="0" y="0" width="430" height="377" fill="none" stroke="#333" stroke-width="1.2"/>
</g>
<rect x="1552.4" y="908.7" width="23.6" height="377" fill="url(#cb)" stroke="#333" stroke-width="1"/>
<path d="M1576 971.5h-3M1576 1034.4h-3M1576 1097.2h-3M1576 1160h-3M1576 1222.9h-3" stroke="#333" fill="none"/>
<g class="cl"><text x="1582.5" y="913.2">8</text><text x="1582.5" y="976">4</text><text x="1582.5" y="1038.9">2</text><text x="1582.5" y="1101.7">1</text><text x="1582.5" y="1164.5">1/2</text><text x="1582.5" y="1227.4">1/4</text><text x="1582.5" y="1290.2">1/8</text></g>
<g class="xl"><text x="1116.9" y="1305.6">1985</text><text x="1180.2" y="1305.6">1990</text><text x="1243.4" y="1305.6">1995</text><text x="1306.6" y="1305.6">2000</text><text x="1369.9" y="1305.6">2005</text><text x="1433.1" y="1305.6">2010</text><text x="1496.3" y="1305.6">2015</text></g>
<g class="yl" text-anchor="end"><text x="1103.6" y="1055.8">4</text><text x="1103.6" y="1207.6">8</text></g>
<text class="ti" x="1325" y="900.2">XWT: SPEI-R95pTOT</text>
<text class="xa" font-size="17.6" x="1325.8" y="1326.4">Year</text>
<text class="ya" font-size="17.6" transform="translate(1087.5,1097.5) rotate(-90)">Cycles per year</text>
<g transform="translate(36,1353)">
<clipPath id="c9"><rect width="427.7" height="373.3"/></clipPath>
<g clip-path="url(#c9)">
<g transform="scale(12.5794,12.4433)" shape-rendering="crispEdges"><path fill="#4743e7" d="M19 6h1v1h-1z"/><path fill="#484cef" d="M18 6h1v1h-1zM20 6h1v1h-1zM19 7h1v1h-1z"/><path fill="#4755f6" d="M18 5h1v1h-1zM20 7h1v1h-1z"/><path fill="#465efb" d="M19 5h1v1h-1zM18 7h1v1h-1z"/><path fill="#4367fd" d="M17 6h1v1h-1zM21 6h1v1h-1zM21 7h1v1h-1z"/><path fill="#3d70ff" d="M17 5h1v1h-1z"/><path fill="#347afd" d="M18 4h1v1h-1zM20 5h1v1h-1zM22 7h1v1h-1zM20 8h1v1h-1z"/><path fill="#2e83f9" d="M22 6h1v1h-1zM17 7h1v1h-1zM23 7h1v1h-1zM19 8h1v1h-1zM21 8h1v1h-1z"/><path fill="#2d8cf3" d="M17 4h1v1h-1zM19 4h1v1h-1zM23 6h1v1h-1zM24 7h2v1h-2zM22 8h2v1h-2z"/><path fill="#2994ed" d="M16 5h1v1h-1zM21 5h1v1h-1zM24 6h2v1h-2zM18 8h1v1h-1zM24 8h2v1h-2z"/><path fill="#259ce7" d="M17 3h2v1h-2zM16 4h1v1h-1zM16 6h1v1h-1zM26 6h1v1h-1zM26 7h1v1h-1zM26 8h1v1h-1z"/><path fill="#21a3e3" d="M22 5h1v1h-1zM27 6h1v1h-1zM27 7h1v1h-1zM22 9h4v1h-4z"/><path fill="#1caadf" d="M17 0h2v1h-2zM17 1h2v1h-2zM16 2h3v1h-3zM16 3h1v1h-1zM19 3h1v1h-1zM20 4h1v1h-1zM23 5h3v1h-3zM28 6h1v1h-1zM28 7h1v1h-1zM27 8h1v1h-1zM21 9h1v1h-1zM26 9h1v1h-1z"/><path fill="#13b0d7" d="M16 0h1v1h-1zM19 0h1v1h-1zM28 0h1v1h-1zM16 1h1v1h-1zM19 2h1v1h-1zM26 5h3v1h-3zM16 7h1v1h-1zM17 8h1v1h-1zM28 8h1v1h-1zM20 9h1v1h-1z"/><path fill="#05b6ce" d="M15 0h1v1h-1zM20 0h1v1h-1zM27 0h1v1h-1zM29 0h2v1h-2zM15 1h1v1h-1zM19 1h1v1h-1zM28 1h3v1h-3zM15 2h1v1h-1zM28 2h2v1h-2zM15 3h1v1h-1zM28 3h2v1h-2zM15 4h1v1h-1zM21 4h1v1h-1zM28 4h2v1h-2zM15 5h1v1h-1zM29 5h1v1h-1zM29 6h1v1h-1zM27 9h1v1h-1z"/><path fill="#02bac4" d="M9 0h1v1h-1zM21 0h6v1h-6zM20 1h1v1h-1zM27 1h1v1h-1zM30 2h1v1h-1zM20 3h1v1h-1zM30 3h1v1h-1zM22 4h1v1h-1zM27 4h1v1h-1zM15 6h1v1h-1zM29 7h1v1h-1zM19 9h1v1h-1zM24 10h2v1h-2z"/><path fill="#12beb9" d="M8 0h1v1h-1zM20 2h1v1h-1zM27 2h1v1h-1zM27 3h1v1h-1zM23 4h4v1h-4zM30 4h1v1h-1zM28 9h1v1h-1zM23 10h1v1h-1zM26 10h1v1h-1zM8 13h2v1h-2zM8 14h2v1h-2zM0 19h9v1h-9zM11 19h1v1h-1zM0 20h9v1h-9zM11 20h1v1h-1zM32 28h2v1h-2zM32 29h2v1h-2z"/><path fill="#24c2ae" d="M10 0h1v1h-1zM14 0h1v1h-1zM31 0h1v1h-1zM9 1h1v1h-1zM14 1h1v1h-1zM21 1h6v1h-6zM31 1h1v1h-1zM14 2h1v1h-1zM21 2h1v1h-1zM26 2h1v1h-1zM31 2h1v1h-1zM14 3h1v1h-1zM21 3h2v1h-2zM26 3h1v1h-1zM31 3h1v1h-1zM14 4h1v1h-1zM30 5h1v1h-1zM30 6h1v1h-1zM29 8h1v1h-1zM22 10h1v1h-1zM7 13h1v1h-1zM10 13h1v1h-1zM7 14h1v1h-1zM10 14h1v1h-1zM9 19h2v1h-2zM12 19h1v1h-1zM9 20h2v1h-2zM12 20h1v1h-1zM32 27h2v1h-2zM31 28h1v1h-1zM31 29h1v1h-1z"/><path fill="#2fc5a2" d="M7 0h1v1h-1zM8 1h1v1h-1zM10 1h1v1h-1zM22 2h4v1h-4zM23 3h3v1h-3zM14 5h1v1h-1zM30 7h1v1h-1zM18 9h1v1h-1zM21 10h1v1h-1zM27 10h1v1h-1zM7 12h3v1h-3zM8 15h2v1h-2zM5 18h4v1h-4zM13 19h1v1h-1zM13 20h1v1h-1zM32 26h2v1h-2zM31 27h1v1h-1z"/><path fill="#39c895" d="M11 0h1v1h-1zM13 0h1v1h-1zM7 1h1v1h-1zM13 1h1v1h-1zM31 4h1v1h-1zM15 7h1v1h-1zM16 8h1v1h-1zM10 12h1v1h-1zM6 13h1v1h-1zM11 13h1v1h-1zM6 14h1v1h-1zM11 14h1v1h-1zM7 15h1v1h-1zM10 15h1v1h-1zM4 18h1v1h-1zM9 18h4v1h-4zM12 21h1v1h-1zM31 26h1v1h-1zM30 27h1v1h-1zM30 28h1v1h-1zM30 29h1v1h-1z"/><path fill="#48cb86" d="M12 0h1v1h-1zM11 1h2v1h-2zM7 2h7v1h-7zM13 3h1v1h-1zM13 4h1v1h-1zM31 5h1v1h-1zM20 10h1v1h-1zM7 11h2v1h-2zM6 12h1v1h-1zM6 15h1v1h-1zM11 15h1v1h-1zM7 16h4v1h-4zM5 17h8v1h-8zM2 18h2v1h-2zM13 18h2v1h-2zM14 19h1v1h-1zM14 20h1v1h-1zM11 21h1v1h-1zM13 21h1v1h-1zM30 26h1v1h-1zM29 27h1v1h-1zM29 28h1v1h-1zM29 29h1v1h-1z"/><path fill="#5ccc76" d="M6 0h1v1h-1zM6 1h1v1h-1zM6 2h1v1h-1zM9 3h4v1h-4zM14 6h1v1h-1zM31 6h1v1h-1zM30 8h1v1h-1zM29 9h1v1h-1zM28 10h1v1h-1zM5 11h2v1h-2zM9 11h1v1h-1zM24 11h3v1h-3zM5 12h1v1h-1zM11 12h1v1h-1zM5 13h1v1h-1zM12 13h1v1h-1zM5 14h1v1h-1zM12 14h1v1h-1zM5 15h1v1h-1zM12 15h2v1h-2zM5 16h2v1h-2zM11 16h4v1h-4zM4 17h1v1h-1zM13 17h3v1h-3zM0 18h2v1h-2zM15 18h1v1h-1zM15 19h1v1h-1zM0 21h11v1h-11zM22 26h8v1h-8zM22 27h7v1h-7zM22 28h7v1h-7zM22 29h7v1h-7z"/><path fill="#71cd64" d="M32 0h1v1h-1zM32 1h1v1h-1zM32 2h1v1h-1zM6 3h3v1h-3zM32 3h1v1h-1zM12 4h1v1h-1zM13 5h1v1h-1zM31 7h1v1h-1zM17 9h1v1h-1zM5 10h3v1h-3zM4 11h1v1h-1zM10 11h1v1h-1zM23 11h1v1h-1zM4 12h1v1h-1zM4 13h1v1h-1zM4 14h1v1h-1zM13 14h1v1h-1zM4 15h1v1h-1zM14 15h1v1h-1zM4 16h1v1h-1zM15 16h1v1h-1zM16 18h1v1h-1zM15 20h1v1h-1zM14 21h1v1h-1zM12 22h2v1h-2zM13 23h1v1h-1zM13 24h2v1h-2zM30 25h4v1h-4zM21 26h1v1h-1zM0 27h11v1h-11zM21 27h1v1h-1zM0 28h11v1h-11zM21 28h1v1h-1zM0 29h11v1h-11zM21 29h1v1h-1z"/><path fill="#88cb53" d="M5 0h1v1h-1zM5 1h1v1h-1zM11 4h1v1h-1zM32 4h1v1h-1zM4 9h2v1h-2zM4 10h1v1h-1zM8 10h1v1h-1zM19 10h1v1h-1zM11 11h1v1h-1zM22 11h1v1h-1zM27 11h1v1h-1zM12 12h1v1h-1zM13 13h1v1h-1zM14 14h1v1h-1zM3 17h1v1h-1zM16 17h1v1h-1zM16 19h1v1h-1zM14 22h1v1h-1zM12 23h1v1h-1zM14 23h1v1h-1zM12 24h1v1h-1zM15 24h1v1h-1zM12 25h18v1h-18zM0 26h21v1h-21zM11 27h10v1h-10zM11 28h10v1h-10zM11 29h10v1h-10z"/><path fill="#9fc942" d="M5 2h1v1h-1zM5 3h1v1h-1zM7 4h4v1h-4zM32 5h1v1h-1zM32 6h1v1h-1zM14 7h1v1h-1zM4 8h2v1h-2zM15 8h1v1h-1zM31 8h1v1h-1zM6 9h1v1h-1zM9 10h1v1h-1zM15 15h1v1h-1zM3 16h1v1h-1zM16 16h1v1h-1zM15 21h1v1h-1zM11 22h1v1h-1zM15 23h1v1h-1zM16 24h2v1h-2zM0 25h12v1h-12z"/><path fill="#b4c533" d="M5 4h2v1h-2zM12 5h1v1h-1zM4 6h1v1h-1zM13 6h1v1h-1zM3 7h2v1h-2zM32 7h1v1h-1zM3 8h1v1h-1zM3 9h1v1h-1zM7 9h1v1h-1zM16 9h1v1h-1zM30 9h1v1h-1zM3 10h1v1h-1zM10 10h1v1h-1zM18 10h1v1h-1zM29 10h1v1h-1zM3 11h1v1h-1zM12 11h1v1h-1zM21 11h1v1h-1zM28 11h1v1h-1zM3 12h1v1h-1zM13 12h1v1h-1zM24 12h2v1h-2zM3 13h1v1h-1zM14 13h1v1h-1zM3 14h1v1h-1zM3 15h1v1h-1zM2 17h1v1h-1zM17 17h1v1h-1zM17 18h1v1h-1zM16 20h1v1h-1zM10 22h1v1h-1zM15 22h1v1h-1zM11 24h1v1h-1zM18 24h4v1h-4zM30 24h4v1h-4z"/><path fill="#c8c129" d="M33 0h1v1h-1zM33 1h1v1h-1zM33 2h1v1h-1zM4 3h1v1h-1zM33 3h1v1h-1zM3 4h2v1h-2zM33 4h1v1h-1zM3 5h2v1h-2zM11 5h1v1h-1zM33 5h1v1h-1zM3 6h1v1h-1zM33 6h1v1h-1zM2 7h1v1h-1zM5 7h1v1h-1zM33 7h1v1h-1zM2 8h1v1h-1zM6 8h1v1h-1zM32 8h1v1h-1zM2 9h1v1h-1zM8 9h1v1h-1zM11 10h1v1h-1zM20 11h1v1h-1zM23 12h1v1h-1zM26 12h1v1h-1zM15 14h1v1h-1zM16 15h1v1h-1zM0 17h2v1h-2zM17 19h1v1h-1zM16 21h1v1h-1zM0 22h10v1h-10zM11 23h1v1h-1zM16 23h1v1h-1zM0 24h11v1h-11zM22 24h8v1h-8z"/><path fill="#dabd28" d="M2 0h1v1h-1zM4 0h1v1h-1zM2 1h1v1h-1zM4 1h1v1h-1zM2 2h1v1h-1zM4 2h1v1h-1zM2 3h2v1h-2zM2 4h1v1h-1zM2 5h1v1h-1zM5 5h6v1h-6zM2 6h1v1h-1zM5 6h1v1h-1zM12 6h1v1h-1zM0 7h2v1h-2zM13 7h1v1h-1zM0 8h2v1h-2zM7 8h1v1h-1zM14 8h1v1h-1zM33 8h1v1h-1zM1 9h1v1h-1zM9 9h1v1h-1zM15 9h1v1h-1zM31 9h1v1h-1zM2 10h1v1h-1zM12 10h1v1h-1zM17 10h1v1h-1zM30 10h1v1h-1zM2 11h1v1h-1zM13 11h1v1h-1zM19 11h1v1h-1zM29 11h1v1h-1zM2 12h1v1h-1zM14 12h1v1h-1zM22 12h1v1h-1zM27 12h1v1h-1zM2 13h1v1h-1zM15 13h1v1h-1zM2 14h1v1h-1zM2 15h1v1h-1zM2 16h1v1h-1zM17 16h1v1h-1zM18 18h1v1h-1zM17 20h1v1h-1zM16 22h1v1h-1zM0 23h11v1h-11zM17 23h3v1h-3z"/><path fill="#eaba31" d="M0 0h2v1h-2zM3 0h1v1h-1zM0 1h2v1h-2zM3 1h1v1h-1zM0 2h2v1h-2zM3 2h1v1h-1zM0 3h2v1h-2zM0 4h2v1h-2zM0 5h2v1h-2zM0 6h2v1h-2zM6 6h6v1h-6zM6 7h2v1h-2zM12 7h1v1h-1zM8 8h2v1h-2zM13 8h1v1h-1zM0 9h1v1h-1zM10 9h2v1h-2zM14 9h1v1h-1zM32 9h2v1h-2zM0 10h2v1h-2zM13 10h1v1h-1zM16 10h1v1h-1zM31 10h1v1h-1zM1 11h1v1h-1zM14 11h1v1h-1zM18 11h1v1h-1zM30 11h1v1h-1zM1 12h1v1h-1zM15 12h1v1h-1zM20 12h2v1h-2zM28 12h2v1h-2zM1 13h1v1h-1zM16 13h1v1h-1zM22 13h6v1h-6zM1 14h1v1h-1zM16 14h1v1h-1zM1 15h1v1h-1zM17 15h1v1h-1zM0 16h2v1h-2zM18 16h1v1h-1zM18 17h1v1h-1zM18 19h1v1h-1zM18 20h1v1h-1zM17 21h1v1h-1zM17 22h2v1h-2zM20 23h14v1h-14z"/><path fill="#f8ba3d" d="M8 7h4v1h-4zM10 8h3v1h-3zM12 9h2v1h-2zM14 10h2v1h-2zM32 10h2v1h-2zM0 11h1v1h-1zM15 11h3v1h-3zM31 11h3v1h-3zM0 12h1v1h-1zM16 12h4v1h-4zM30 12h4v1h-4zM0 13h1v1h-1zM17 13h5v1h-5zM28 13h6v1h-6zM0 14h1v1h-1zM17 14h17v1h-17zM0 15h1v1h-1zM18 15h16v1h-16zM19 16h15v1h-15zM19 17h15v1h-15zM19 18h15v1h-15zM19 19h15v1h-15zM19 20h15v1h-15zM18 21h16v1h-16zM19 22h15v1h-15z"/></g>
<g class="a"><text x="0 13 25 38 51 63 75 87 99 125 137 150 163 176 392 405 417" y="2 2 1 1 1 1 2 5 7 8 8 9 10 11 13 13 13" rotate="73 74 75 77 78 77 69 47 29 23 22 16 8 3 339 340 341">➛➛➛➛➛➛➛➛➛➛➛➛➛➛➛➛➛</text><text x="0 13 25 38 51 64 76 87 99 112 125 137 150 163 176 269 282 295 307 320 332 392 405 417" y="14 14 14 13 13 13 14 17 21 21 21 21 22 23 23 26 26 26 26 26 26 25 25 25" rotate="75 76 78 80 82 83 78 47 23 21 22 21 16 7 2 322 317 316 315 316 319 339 340 341">➛➛➛➛➛➛➛➛➛➛➛➛➛➛➛➛➛➛➛➛➛➛➛➛</text><text x="0 13 26 38 51 64 76 87 99 112 125 137 150 163 176 269 282 295 307 320 332 344 392 405 417" y="26 26 26 26 25 25 26 29 33 33 33 33 34 35 36 39 39 39 39 39 39 39 38 38 38" rotate="77 78 79 81 84 85 83 50 22 20 21 22 16 7 1 321 316 315 315 316 318 323 340 340 341">➛➛➛➛➛➛➛➛➛➛➛➛➛➛➛➛➛➛➛➛➛➛➛➛➛</text><text x="1 13 26 38 51 64 76 87 99 112 125 137 150 163 176 269 282 295 307 320 332 392 405 417" y="38 38 38 38 38 38 38 41 45 46 46 46 46 47 48 51 51 51 51 51 51 50 50 50" rotate="80 80 80 81 83 84 81 54 26 22 23 23 18 9 3 322 317 315 315 316 319 340 340 340">➛➛➛➛➛➛➛➛➛➛➛➛➛➛➛➛➛➛➛➛➛➛➛➛</text><text x="1 13 26 38 51 63 75 87 99 112 124 137 150 163 176 392 405 417" y="50 50 51 51 51 51 51 54 56 57 57 58 58 59 60 63 63 63" rotate="84 84 82 81 81 80 74 55 35 28 27 26 23 17 9 340 340 340">➛➛➛➛➛➛➛➛➛➛➛➛➛➛➛➛➛➛</text><text x="1 14 26 39 51 63 75 87 99 112 124 137 149 162 175 379 392 405 417" y="62 62 63 63 63 64 64 66 68 69 69 69 69 70 71 75 75 75 75" rotate="89 89 87 83 79 75 68 55 42 35 32 32 31 28 22 340 340 340 340">➛➛➛➛➛➛➛➛➛➛➛➛➛➛➛➛➛➛➛</text><text x="2 14 27 39 51 63 75 87 99 112 124 137 149 162 175 379 392 405 417" y="74 74 75 75 75 76 77 78 80 81 81 81 81 81 81 87 87 87 87" rotate="92 93 92 88 82 74 66 56 46 40 37 37 37 37 34 340 340 340 340">➛➛➛➛➛➛➛➛➛➛➛➛➛➛➛➛➛➛➛</text><text x="2 15 27 39 51 63 75 87 99 112 124 137 149 162 175 187 379 392 405 417" y="87 87 87 87 87 88 90 91 92 93 93 93 93 93 93 94 100 100 100 100" rotate="94 95 94 92 86 77 67 57 48 42 40 39 40 40 39 35 341 340 340 340">➛➛➛➛➛➛➛➛➛➛➛➛➛➛➛➛➛➛➛➛</text><text x="2 15 27 40 52 63 75 87 99 112 124 137 149 162 175 187 200 367 379 392 405 417" y="99 99 99 99 100 101 102 103 104 105 105 105 105 105 105 106 106 112 112 112 112 112" rotate="95 95 95 93 88 79 68 58 49 44 41 40 40 40 40 38 34 343 342 341 341 341">➛➛➛➛➛➛➛➛➛➛➛➛➛➛➛➛➛➛➛➛➛➛</text><text x="2 15 27 40 52 63 75 87 99 112 124 137 149 162 175 187 200 212 225 353 366 379 392 404 417" y="112 112 112 112 112 113 114 115 116 117 118 118 118 118 118 118 119 119 120 124 124 124 125 125 125" rotate="94 95 94 93 88 79 68 59 51 45 42 40 40 40 40 38 35 31 25 348 346 345 344 343 344">➛➛➛➛➛➛➛➛➛➛➛➛➛➛➛➛➛➛➛➛➛➛➛➛➛</text><text x="2 14 27 39 51 63 75 87 99 112 124 137 149 162 175 187 200 212 225 238 250 263 276 340 353 366 378 391 404 416" y="124 124 124 124 125 126 127 128 128 129 130 130 130 130 130 131 131 131 132 133 133 134 134 136 136 136 136 137 137 137" rotate="93 94 93 90 85 77 68 60 54 49 44 42 41 40 40 38 36 32 27 23 19 15 12 356 353 351 349 348 347 347">➛➛➛➛➛➛➛➛➛➛➛➛➛➛➛➛➛➛➛➛➛➛➛➛➛➛➛➛➛➛</text><text x="2 14 27 39 51 63 75 87 100 112 124 137 149 162 175 187 200 212 225 238 250 263 276 288 301 314 327 340 352 365 378 391 403 416" y="137 137 137 137 138 139 139 140 140 141 141 142 142 142 143 143 143 144 144 145 145 146 146 146 147 147 147 148 148 148 148 149 149 149" rotate="90 90 89 86 80 73 66 61 58 54 50 47 44 42 41 39 36 32 28 24 22 19 17 14 11 8 5 2 359 357 355 353 353 352">➛➛➛➛➛➛➛➛➛➛➛➛➛➛➛➛➛➛➛➛➛➛➛➛➛➛➛➛➛➛➛➛➛➛</text><text x="1 13 26 38 50 62 75 87 100 112 125 137 150 162 175 187 200 212 225 238 250 263 276 288 301 314 326 339 352 365 378 390 403 415" y="150 150 150 150 151 152 152 152 152 152 152 153 154 154 155 155 156 156 157 157 157 158 158 158 158 159 159 160 160 160 160 160 161 161" rotate="84 84 82 78 73 68 65 64 64 64 61 57 52 48 44 40 36 31 28 25 23 22 21 18 16 12 9 6 3 1 359 358 358 357">➛➛➛➛➛➛➛➛➛➛➛➛➛➛➛➛➛➛➛➛➛➛➛➛➛➛➛➛➛➛➛➛➛➛</text><text x="0 13 25 37 50 62 75 88 126 138 150 162 175 187 200 212 225 238 250 263 275 288 301 314 326 339 352 365 377 390 403 415" y="163 163 164 164 165 165 165 164 163 164 164 165 166 167 168 169 169 170 170 170 170 170 171 171 171 172 172 172 173 173 173 173" rotate="74 73 71 67 64 62 63 67 75 72 65 57 49 42 36 30 27 25 24 24 23 21 19 15 12 8 5 3 2 1 1 1">➛➛➛➛➛➛➛➛➛➛➛➛➛➛➛➛➛➛➛➛➛➛➛➛➛➛➛➛➛➛➛➛</text><text x="-1 12 24 37 49 62 75 88 127 139 151 163 175 187 200 212 225 238 250 263 275 288 301 313 326 339 352 365 377 390 402 415" y="177 177 178 178 178 178 177 176 175 175 175 177 178 180 181 182 182 182 182 182 182 182 183 183 184 184 185 185 185 185 185 185" rotate="63 60 57 55 54 56 62 70 84 82 77 67 55 44 35 29 26 25 25 24 24 23 20 17 13 9 5 3 2 2 2 2">➛➛➛➛➛➛➛➛➛➛➛➛➛➛➛➛➛➛➛➛➛➛➛➛➛➛➛➛➛➛➛➛</text><text x="-1 11 24 36 49 61 74 88 101 114 127 140 152 163 175 187 200 212 225 238 250 263 275 288 301 313 326 339 352 365 377 390 403 415" y="191 192 192 192 192 192 190 189 187 187 187 187 187 188 190 192 193 194 195 195 195 195 195 195 195 196 196 197 197 197 197 198 197 197" rotate="51 48 44 42 42 47 58 71 82 87 89 88 83 73 59 44 33 27 25 25 25 25 24 23 21 18 13 8 4 2 1 1 1 2">➛➛➛➛➛➛➛➛➛➛➛➛➛➛➛➛➛➛➛➛➛➛➛➛➛➛➛➛➛➛➛➛➛➛</text><text x="-2 11 24 36 49 61 74 88 101 115 127 140 152 164 175 187 200 213 225 238 250 263 275 288 301 313 326 339 352 365 377 390 403 415" y="205 205 206 206 206 206 204 201 200 199 199 199 200 201 203 205 206 207 207 207 207 207 207 207 208 208 209 209 210 210 210 210 210 210" rotate="41 37 33 31 31 35 48 68 83 89 90 89 85 75 58 41 30 25 24 25 25 25 25 24 21 17 13 7 3 1 0 0 1 2">➛➛➛➛➛➛➛➛➛➛➛➛➛➛➛➛➛➛➛➛➛➛➛➛➛➛➛➛➛➛➛➛➛➛</text><text x="-2 11 24 37 49 62 74 87 101 115 127 140 152 163 175 187 200 213 225 238 250 263 275 288 301 313 326 339 352 365 377 390 403 415" y="218 219 219 220 220 220 218 215 213 212 212 212 212 213 216 218 220 220 220 220 219 219 220 220 220 221 221 222 222 222 223 223 222 222" rotate="34 29 25 22 20 23 33 56 79 88 89 88 84 71 51 33 24 22 22 24 25 25 24 23 20 17 12 7 3 1 0 0 1 2">➛➛➛➛➛➛➛➛➛➛➛➛➛➛➛➛➛➛➛➛➛➛➛➛➛➛➛➛➛➛➛➛➛➛</text><text x="-1 11 24 37 49 62 74 87 100 114 127 139 151 163 175 188 200 213 225 238 250 263 276 288 301 314 326 339 352 365 377 390 403 415" y="231 232 233 233 233 233 233 230 227 225 224 225 225 227 231 233 233 233 233 232 232 232 232 233 233 233 234 234 235 235 235 235 235 235" rotate="30 25 20 16 14 14 20 38 65 81 85 84 76 58 35 19 14 15 18 21 23 23 22 19 17 16 12 7 3 1 0 0 1 2">➛➛➛➛➛➛➛➛➛➛➛➛➛➛➛➛➛➛➛➛➛➛➛➛➛➛➛➛➛➛➛➛➛➛</text><text x="-1 11 24 37 113 126 138 150 162 175 189 201 214 226 238 251 263 276 289 301 314 326 339 352 365 377 390 403 415" y="244 245 245 246 239 238 238 240 243 246 247 247 247 246 246 245 246 246 246 246 246 246 246 247 247 247 247 247 247" rotate="28 23 18 13 65 72 70 57 34 12 2 0 5 11 16 17 16 14 13 13 14 13 10 5 2 1 1 2 4">➛➛➛➛➛➛➛➛➛➛➛➛➛➛➛➛➛➛➛➛➛➛➛➛➛➛➛➛➛</text><text x="-1 11 24 37 50 62 75 87 99 112 125 137 149 163 177 190 202 214 226 238 251 264 276 289 301 314 326 339 352 364 377 390 402 415" y="256 257 258 258 259 259 258 257 255 254 253 253 256 259 260 261 261 260 260 259 259 259 259 259 259 258 258 258 259 259 259 259 259 259" rotate="28 23 18 14 11 10 14 24 36 49 54 50 32 9 354 348 349 354 3 9 10 8 7 8 10 13 15 14 10 6 4 4 5 8">➛➛➛➛➛➛➛➛➛➛➛➛➛➛➛➛➛➛➛➛➛➛➛➛➛➛➛➛➛➛➛➛➛➛</text><text x="-1 11 24 37 49 62 74 87 99 112 124 137 150 164 178 191 203 215 227 239 251 264 276 289 301 314 326 338 351 364 377 389 402 414" y="269 269 270 270 270 270 269 269 268 267 267 268 271 273 274 274 274 274 273 272 271 272 272 272 271 271 270 270 270 270 271 271 271 270" rotate="29 26 22 19 16 17 24 30 36 41 43 34 15 356 345 342 342 347 357 5 7 6 5 6 8 13 19 22 20 16 13 12 15 20">➛➛➛➛➛➛➛➛➛➛➛➛➛➛➛➛➛➛➛➛➛➛➛➛➛➛➛➛➛➛➛➛➛➛</text><text x="-1 11 24 36 49 61 74 87 99 112 124 137 150 164 178 191 203 215 227 239 251 264 276 289 301 313 326 338 351 363 376 388 401 414" y="281 281 281 281 281 280 280 280 280 279 280 281 284 286 286 287 287 286 285 284 284 284 284 284 284 283 281 280 280 280 280 280 279 278" rotate="32 30 29 29 32 37 38 38 39 42 40 28 9 352 343 340 341 344 355 5 7 6 5 6 9 17 28 37 39 37 35 36 41 49">➛➛➛➛➛➛➛➛➛➛➛➛➛➛➛➛➛➛➛➛➛➛➛➛➛➛➛➛➛➛➛➛➛➛</text><text x="-2 11 24 36 49 61 74 87 99 112 124 137 150 164 178 191 203 215 227 239 251 264 276 289 301 313 326 339 352 364 377 390 404 417" y="293 293 293 293 292 292 292 292 292 291 292 293 296 298 299 299 299 298 297 296 296 296 296 296 296 294 291 289 289 289 288 287 287 286" rotate="36 35 35 36 38 40 40 41 44 46 43 30 11 354 345 341 342 348 359 8 9 7 6 8 14 29 48 60 65 67 71 78 86 91">➛➛➛➛➛➛➛➛➛➛➛➛➛➛➛➛➛➛➛➛➛➛➛➛➛➛➛➛➛➛➛➛➛➛</text><text x="-2 11 24 36 49 61 74 87 99 112 125 137 150 163 177 190 202 214 226 238 251 263 276 288 300 314 327 341 353 366 380 393 407 420" y="305 305 305 304 304 304 304 304 303 302 303 305 307 309 310 310 310 309 308 308 308 308 308 308 305 302 300 299 299 299 298 298 297 297" rotate="40 39 40 40 41 41 41 46 54 58 53 39 19 4 355 352 356 5 13 15 14 12 12 18 34 60 77 84 86 90 97 107 113 115">➛➛➛➛➛➛➛➛➛➛➛➛➛➛➛➛➛➛➛➛➛➛➛➛➛➛➛➛➛➛➛➛➛➛</text><text x="-1 11 24 36 49 62 74 88 101 113 125 137 149 162 175 187 200 212 225 238 250 263 275 288 302 316 329 342 354 368 381 395 408 421" y="316 316 316 316 316 316 315 313 312 312 313 316 318 320 320 320 319 318 318 319 319 319 319 317 313 311 311 311 311 310 310 310 310 310" rotate="44 44 45 46 47 49 56 69 78 76 67 51 32 19 16 21 28 31 29 26 23 23 27 42 69 88 94 96 96 101 111 120 124 125">➛➛➛➛➛➛➛➛➛➛➛➛➛➛➛➛➛➛➛➛➛➛➛➛➛➛➛➛➛➛➛➛➛➛</text><text x="-1 11 24 37 49 63 77 90 103 115 126 138 149 162 175 187 200 212 225 238 250 263 275 289 303 317 330 342 355 368 382 396 409 422" y="328 328 328 327 327 325 324 323 323 323 324 326 329 331 331 330 330 330 330 330 331 330 329 326 324 323 323 323 323 323 322 322 322 322" rotate="48 50 52 55 61 71 86 95 95 91 81 63 43 32 32 36 39 39 37 34 32 34 46 69 89 97 99 99 100 105 118 126 128 129">➛➛➛➛➛➛➛➛➛➛➛➛➛➛➛➛➛➛➛➛➛➛➛➛➛➛➛➛➛➛➛➛➛➛</text><text x="-1 11 24 37 50 64 78 91 103 115 127 138 150 162 175 187 200 212 225 237 250 263 276 290 304 317 330 342 355 368 383 396 409 422" y="340 340 339 339 337 336 335 335 335 336 336 338 340 342 342 342 342 342 342 342 342 341 339 337 336 335 335 335 335 335 334 334 334 334" rotate="52 55 59 65 75 87 97 100 99 96 88 71 50 39 37 39 40 40 39 37 37 43 59 81 94 99 100 100 100 108 122 129 130 130">➛➛➛➛➛➛➛➛➛➛➛➛➛➛➛➛➛➛➛➛➛➛➛➛➛➛➛➛➛➛➛➛➛➛</text><text x="-1 12 25 38 51 65 78 91 103 116 127 138 150 162 175 187 200 212 225 237 250 263 276 290 304 317 330 342 355 369 383 396 409 422" y="352 352 351 350 349 348 348 348 348 348 349 350 352 354 354 354 354 354 354 354 354 353 351 349 348 348 348 348 348 347 347 347 347 347" rotate="56 60 65 72 82 91 98 100 99 97 89 74 55 43 39 39 40 40 39 39 40 49 66 84 95 99 100 100 101 110 123 129 130 130">➛➛➛➛➛➛➛➛➛➛➛➛➛➛➛➛➛➛➛➛➛➛➛➛➛➛➛➛➛➛➛➛➛➛</text><text x="-1 12 25 38 51 65 78 90 103 115 127 138 150 162 175 187 200 212 225 237 250 263 276 290 304 317 330 342 355 369 383 396 409 422" y="364 364 363 362 361 361 360 360 360 361 361 362 364 366 367 367 367 367 367 367 366 365 363 361 361 360 360 360 360 360 359 359 359 359" rotate="59 63 69 76 84 91 96 98 97 95 87 74 57 45 40 39 39 39 39 40 43 52 67 83 93 97 99 100 102 110 122 128 129 129">➛➛➛➛➛➛➛➛➛➛➛➛➛➛➛➛➛➛➛➛➛➛➛➛➛➛➛➛➛➛➛➛➛➛</text></g>
<path class="ct" d="M43.3 5.7 L48.3 0"/>
<path class="ct" d="M53.4 0C52.8 3.8 49.7 14.9 50 22.6C50.3 30.3 50.9 40.6 55.1 46.2C59.3 51.8 65.2 54.1 75.3 56.3C85.4 58.6 102.9 58.9 115.8 59.7C128.7 60.5 142.2 57.4 152.9 61.4C163.6 65.3 172 76.3 179.9 83.3C187.7 90.3 191.1 97.4 200.1 103.5C209.1 109.7 222.6 114.8 233.8 120.4C245.1 126 256.3 132.2 267.6 137.3C278.8 142.3 291.2 148 301.3 150.8C311.4 153.6 320.4 154.7 328.3 154.1C336.1 153.6 340.6 151.3 348.5 147.4C356.4 143.5 367.6 138.4 375.5 130.5C383.4 122.7 390.1 110.3 395.7 100.2C401.4 90.1 405 78.2 409.2 69.8C413.4 61.4 419.1 52.9 421 49.6"/>
<path class="ct" d="M7.8 228.3C14 227.2 32.6 224.4 44.9 221.6C57.3 218.8 78.7 215.4 82.1 211.5C85.4 207.5 70.8 203 65.2 198C59.6 192.9 51.7 189.6 48.3 181.1C44.9 172.7 45.5 159.2 44.9 147.4C44.4 135.6 43.3 117.3 44.9 110.3C46.6 103.3 51.1 105.5 55.1 105.2C59 104.9 60.1 105.5 68.6 108.6C77 111.7 92.7 119 105.7 123.8C118.6 128.6 135.5 132.2 146.1 137.3C156.8 142.3 163 148 169.7 154.1C176.5 160.3 180.4 166.5 186.6 174.4C192.8 182.2 200.4 193.5 206.8 201.4C213.3 209.2 223.2 214.8 225.4 221.6C227.6 228.3 224.6 234.5 220.3 241.8C216.1 249.1 206.8 258.1 200.1 265.4C193.4 272.7 179.9 280.3 179.9 285.7C179.9 291 191.1 294.4 200.1 297.5C209.1 300.6 222 302.5 233.8 304.2C245.6 305.9 254.1 306.5 270.9 307.6C287.8 308.7 313.1 310.4 335 311C356.9 311.5 387.9 311.3 402.5 311C417.1 310.7 419.3 309.6 422.7 309.3"/>
<path class="ct" d="M6.2 272.2C16 273.3 45.8 276.4 65.2 278.9C84.6 281.5 108.5 284.3 122.5 287.4C136.6 290.5 147.8 293.8 149.5 297.5C151.2 301.1 141.1 306.5 132.6 309.3C124.2 312.1 119.7 313.2 98.9 314.3C78.1 315.5 23 315.8 7.8 316"/>
<path d="M0 0H427.7V373.3H0zM42.8 0L44.5 9.6L46.4 19.1L48.3 28.7L50.3 38.3L52.4 47.9L54.6 57.4L56.8 67L59.2 76.6L61.7 86.1L64.2 95.7L66.9 105.3L69.7 114.9L72.5 124.4L75.6 134L78.7 143.6L82 153.1L85.4 162.7L88.9 172.3L92.6 181.9L96.4 191.4L100.4 201L104.6 210.6L108.9 220.2L113.4 229.7L118.2 239.3L123.1 248.9L128.2 258.4L133.5 268L139 277.6L144.8 287.2L150.8 296.7L157 306.3L163.6 315.9L170.3 325.4L177.4 335L184.8 344.6L192.4 354.2L200.4 363.7L208.7 373.3L219 373.3L227.3 363.7L235.3 354.2L242.9 344.6L250.3 335L257.4 325.4L264.1 315.9L270.7 306.3L276.9 296.7L282.9 287.2L288.7 277.6L294.2 268L299.5 258.4L304.6 248.9L309.5 239.3L314.3 229.7L318.8 220.2L323.1 210.6L327.3 201L331.3 191.4L335.1 181.9L338.8 172.3L342.3 162.7L345.7 153.1L349 143.6L352.1 134L355.2 124.4L358 114.9L360.8 105.3L363.5 95.7L366 86.1L368.5 76.6L370.9 67L373.1 57.4L375.3 47.9L377.4 38.3L379.4 28.7L381.3 19.1L383.2 9.6L384.9 0z" fill="#fff" fill-opacity="0.5" fill-rule="evenodd"/>
<path d="M42.8 0L44.5 9.6L46.4 19.1L48.3 28.7L50.3 38.3L52.4 47.9L54.6 57.4L56.8 67L59.2 76.6L61.7 86.1L64.2 95.7L66.9 105.3L69.7 114.9L72.5 124.4L75.6 134L78.7 143.6L82 153.1L85.4 162.7L88.9 172.3L92.6 181.9L96.4 191.4L100.4 201L104.6 210.6L108.9 220.2L113.4 229.7L118.2 239.3L123.1 248.9L128.2 258.4L133.5 268L139 277.6L144.8 287.2L150.8 296.7L157 306.3L163.6 315.9L170.3 325.4L177.4 335L184.8 344.6L192.4 354.2L200.4 363.7L208.7 373.3L219 373.3L227.3 363.7L235.3 354.2L242.9 344.6L250.3 335L257.4 325.4L264.1 315.9L270.7 306.3L276.9 296.7L282.9 287.2L288.7 277.6L294.2 268L299.5 258.4L304.6 248.9L309.5 239.3L314.3 229.7L318.8 220.2L323.1 210.6L327.3 201L331.3 191.4L335.1 181.9L338.8 172.3L342.3 162.7L345.7 153.1L349 143.6L352.1 134L355.2 124.4L358 114.9L360.8 105.3L363.5 95.7L366 86.1L368.5 76.6L370.9 67L373.1 57.4L375.3 47.9L377.4 38.3L379.4 28.7L381.3 19.1L383.2 9.6L384.9 0" fill="none" stroke="#000" stroke-width="1"/>
</g>
<path d="M6.3 373.3v-4M69.2 373.3v-4M132.1 373.3v-4M195 373.3v-4M257.9 373.3v-4M320.8 373.3v-4M383.7 373.3v-4M0 141.3h4M427.7 141.3h-4M0 290.7h4M427.7 290.7h-4" stroke="#333" fill="none" stroke-width="1"/>
<rect x="0" y="0" width="427.7" height="373.3" fill="none" stroke="#333" stroke-width="1.2"/>
</g>
<rect x="474.9" y="1353" width="23.1" height="373.3" fill="url(#cb)" stroke="#333" stroke-width="1"/>
<path d="M498 1390.3h-3M498 1427.7h-3M498 1465h-3M498 1502.3h-3M498 1539.7h-3M498 1577h-3M498 1614.3h-3M498 1651.6h-3M498 1689h-3" stroke="#333" fill="none"/>
<g class="cl"><text x="504.5" y="1357.5">1</text><text x="504.5" y="1394.8">0.9</text><text x="504.5" y="1432.2">0.8</text><text x="504.5" y="1469.5">0.7</text><text x="504.5" y="1506.8">0.6</text><text x="504.5" y="1544.2">0.5</text><text x="504.5" y="1581.5">0.4</text><text x="504.5" y="1618.8">0.3</text><text x="504.5" y="1656.1">0.2</text><text x="504.5" y="1693.5">0.1</text><text x="504.5" y="1730.8">0</text></g>
<g class="xl"><text x="42.3" y="1746.6">1985</text><text x="105.2" y="1746.6">1990</text><text x="168.1" y="1746.6">1995</text><text x="231" y="1746.6">2000</text><text x="293.9" y="1746.6">2005</text><text x="356.8" y="1746.6">2010</text><text x="419.7" y="1746.6">2015</text></g>
<g class="yl" text-anchor="end"><text x="29" y="1498.8">4</text><text x="29" y="1648.2">8</text></g>
<text class="ti" x="248.9" y="1344.6">WTC: SPEI-R95pTOT</text>
<text class="xa" font-size="17.4" x="250.3" y="1768">Year</text>
<text class="ya" font-size="17.4" transform="translate(14,1539.2) rotate(-90)">Cycles per year</text>
<g transform="translate(573.2,1353)">
<clipPath id="c10"><rect width="431.3" height="376.7"/></clipPath>
<g clip-path="url(#c10)">
<g transform="scale(12.6853,12.5567)" shape-rendering="crispEdges"><path fill="#3e26a8" d="M26 1h2v1h-2zM26 2h2v1h-2zM26 3h2v1h-2zM26 4h2v1h-2zM26 5h2v1h-2zM26 6h2v1h-2zM26 7h2v1h-2zM26 8h2v1h-2zM26 9h2v1h-2zM9 11h2v1h-2zM9 12h2v1h-2z"/><path fill="#412dbb" d="M15 5h1v1h-1z"/><path fill="#4433cc" d="M9 0h2v1h-2zM26 0h4v1h-4zM9 1h2v1h-2zM28 1h2v1h-2zM9 2h2v1h-2zM28 2h2v1h-2zM28 3h2v1h-2zM28 4h2v1h-2zM14 5h1v1h-1zM28 5h2v1h-2zM20 6h2v1h-2zM28 6h2v1h-2zM28 7h2v1h-2zM28 8h2v1h-2zM28 9h2v1h-2zM27 10h1v1h-1zM18 17h3v1h-3zM9 19h1v1h-1zM13 23h3v1h-3z"/><path fill="#463adc" d="M30 0h1v1h-1zM30 1h1v1h-1zM30 2h1v1h-1zM25 4h1v1h-1zM25 5h1v1h-1zM19 6h1v1h-1zM25 6h1v1h-1zM25 7h1v1h-1zM25 8h1v1h-1zM28 10h2v1h-2zM9 18h1v1h-1zM16 23h1v1h-1z"/><path fill="#4743e7" d="M25 1h1v1h-1zM25 2h1v1h-1zM25 3h1v1h-1zM19 5h3v1h-3zM15 6h1v1h-1zM33 6h1v1h-1zM25 9h1v1h-1zM8 11h1v1h-1zM8 12h1v1h-1zM17 17h1v1h-1zM21 17h1v1h-1z"/><path fill="#484cef" d="M3 5h1v1h-1zM33 5h1v1h-1zM3 6h1v1h-1zM14 6h1v1h-1zM22 6h1v1h-1zM0 18h9v1h-9zM0 19h7v1h-7zM8 19h1v1h-1zM33 23h1v1h-1zM33 24h1v1h-1zM33 25h1v1h-1zM0 26h2v1h-2zM33 26h1v1h-1zM0 27h2v1h-2zM33 27h1v1h-1zM0 28h2v1h-2zM33 28h1v1h-1zM0 29h2v1h-2zM33 29h1v1h-1z"/><path fill="#4755f6" d="M31 0h1v1h-1zM31 1h1v1h-1zM31 2h1v1h-1zM30 3h1v1h-1zM16 5h1v1h-1zM22 5h1v1h-1zM32 6h1v1h-1zM26 10h1v1h-1zM11 11h1v1h-1zM7 19h1v1h-1zM10 19h1v1h-1zM13 22h4v1h-4zM12 23h1v1h-1zM0 25h3v1h-3zM2 26h1v1h-1zM2 27h1v1h-1zM2 28h1v1h-1zM2 29h1v1h-1z"/><path fill="#465efb" d="M25 0h1v1h-1zM9 3h2v1h-2zM30 4h1v1h-1zM30 5h1v1h-1zM32 5h1v1h-1zM30 6h1v1h-1zM30 7h1v1h-1zM30 8h1v1h-1zM30 9h1v1h-1zM30 10h1v1h-1zM11 12h1v1h-1zM18 16h3v1h-3zM10 18h1v1h-1zM33 22h1v1h-1zM0 24h3v1h-3zM3 25h1v1h-1zM8 25h4v1h-4z"/><path fill="#4367fd" d="M15 4h1v1h-1zM16 6h1v1h-1zM17 16h1v1h-1zM21 16h1v1h-1zM0 21h9v1h-9zM0 22h10v1h-10zM12 22h1v1h-1zM0 23h12v1h-12zM3 24h9v1h-9zM3 28h1v1h-1zM3 29h1v1h-1z"/><path fill="#3d70ff" d="M14 4h1v1h-1zM0 20h10v1h-10zM9 21h1v1h-1zM12 24h5v1h-5zM4 25h4v1h-4zM12 25h1v1h-1zM3 26h1v1h-1zM3 27h1v1h-1z"/><path fill="#347afd" d="M9 13h2v1h-2zM13 25h2v1h-2zM8 26h5v1h-5z"/><path fill="#2e83f9" d="M8 0h1v1h-1zM8 1h1v1h-1zM8 2h1v1h-1zM16 4h1v1h-1zM4 5h1v1h-1zM18 5h1v1h-1zM4 6h1v1h-1zM25 10h1v1h-1zM8 13h1v1h-1zM10 22h1v1h-1zM17 23h1v1h-1zM15 25h2v1h-2zM4 27h1v1h-1zM4 28h10v1h-10zM4 29h10v1h-10z"/><path fill="#2d8cf3" d="M8 3h1v1h-1zM3 4h1v1h-1zM17 5h1v1h-1zM17 6h2v1h-2zM3 7h1v1h-1zM17 22h1v1h-1zM4 26h4v1h-4zM13 26h1v1h-1zM5 27h9v1h-9z"/><path fill="#2994ed" d="M11 13h1v1h-1zM0 17h8v1h-8zM18 18h3v1h-3zM10 20h1v1h-1zM10 21h1v1h-1zM11 22h1v1h-1zM32 23h1v1h-1zM17 24h1v1h-1zM32 24h1v1h-1zM32 25h1v1h-1zM32 26h1v1h-1zM32 27h1v1h-1zM32 28h1v1h-1zM32 29h1v1h-1z"/><path fill="#259ce7" d="M31 3h1v1h-1zM17 4h5v1h-5zM13 5h1v1h-1zM32 7h2v1h-2zM28 11h2v1h-2zM8 17h1v1h-1zM17 18h1v1h-1zM21 18h1v1h-1zM32 22h1v1h-1zM17 25h1v1h-1z"/><path fill="#21a3e3" d="M4 4h1v1h-1zM22 4h1v1h-1zM13 6h1v1h-1zM31 6h1v1h-1zM4 7h1v1h-1zM9 10h2v1h-2zM11 18h1v1h-1zM16 18h1v1h-1zM11 19h2v1h-2zM14 26h1v1h-1zM14 27h1v1h-1zM14 28h1v1h-1zM14 29h1v1h-1z"/><path fill="#1caadf" d="M32 0h1v1h-1zM32 1h1v1h-1zM32 2h1v1h-1zM13 4h1v1h-1zM32 4h2v1h-2zM2 5h1v1h-1zM23 5h1v1h-1zM31 5h1v1h-1zM2 6h1v1h-1zM23 6h1v1h-1zM19 7h3v1h-3zM30 11h1v1h-1zM7 12h1v1h-1zM9 17h1v1h-1zM12 18h4v1h-4zM13 19h10v1h-10zM22 23h10v1h-10zM21 24h11v1h-11zM21 25h11v1h-11zM21 26h11v1h-11zM21 27h11v1h-11zM21 28h11v1h-11zM21 29h11v1h-11z"/><path fill="#13b0d7" d="M0 0h8v1h-8zM0 1h8v1h-8zM0 2h8v1h-8zM0 3h8v1h-8zM32 3h1v1h-1zM2 4h1v1h-1zM8 4h3v1h-3zM31 4h1v1h-1zM24 5h1v1h-1zM24 6h1v1h-1zM2 7h1v1h-1zM22 7h1v1h-1zM31 7h1v1h-1zM31 8h1v1h-1zM31 9h1v1h-1zM8 10h1v1h-1zM11 10h1v1h-1zM31 10h1v1h-1zM7 11h1v1h-1zM27 11h1v1h-1zM7 13h1v1h-1zM10 17h1v1h-1zM16 17h1v1h-1zM22 18h1v1h-1zM12 21h5v1h-5zM18 22h14v1h-14zM18 23h4v1h-4zM18 24h3v1h-3zM18 25h3v1h-3zM20 26h1v1h-1z"/><path fill="#05b6ce" d="M11 0h1v1h-1zM33 0h1v1h-1zM11 1h1v1h-1zM33 1h1v1h-1zM11 2h1v1h-1zM33 2h1v1h-1zM11 3h1v1h-1zM33 3h1v1h-1zM0 4h2v1h-2zM5 4h3v1h-3zM11 4h1v1h-1zM23 4h2v1h-2zM0 5h2v1h-2zM5 5h8v1h-8zM0 6h2v1h-2zM5 6h8v1h-8zM0 7h2v1h-2zM14 7h3v1h-3zM18 7h1v1h-1zM0 8h4v1h-4zM32 8h2v1h-2zM32 9h2v1h-2zM32 10h2v1h-2zM6 11h1v1h-1zM33 11h1v1h-1zM5 12h2v1h-2zM5 13h2v1h-2zM5 14h6v1h-6zM5 15h6v1h-6zM0 16h12v1h-12zM11 17h5v1h-5zM11 20h12v1h-12zM11 21h1v1h-1zM17 21h5v1h-5zM33 21h1v1h-1zM15 26h1v1h-1zM20 27h1v1h-1zM20 28h1v1h-1zM20 29h1v1h-1z"/><path fill="#02bac4" d="M12 4h1v1h-1zM13 7h1v1h-1zM17 7h1v1h-1zM24 7h1v1h-1zM4 8h1v1h-1zM0 9h5v1h-5zM0 10h5v1h-5zM0 11h6v1h-6zM31 11h2v1h-2zM0 12h5v1h-5zM33 12h1v1h-1zM0 13h5v1h-5zM0 14h5v1h-5zM11 14h1v1h-1zM0 15h5v1h-5zM11 15h1v1h-1zM16 16h1v1h-1zM23 19h1v1h-1zM22 21h2v1h-2zM16 26h2v1h-2z"/><path fill="#12beb9" d="M5 7h8v1h-8zM23 7h1v1h-1zM24 8h1v1h-1zM24 9h1v1h-1zM32 12h1v1h-1zM12 16h1v1h-1zM23 18h1v1h-1zM23 20h1v1h-1zM24 21h9v1h-9zM18 26h2v1h-2z"/><path fill="#24c2ae" d="M24 3h1v1h-1zM5 10h3v1h-3zM12 10h1v1h-1zM24 10h1v1h-1zM12 11h1v1h-1zM26 11h1v1h-1zM31 12h1v1h-1zM33 13h1v1h-1zM13 16h3v1h-3zM15 27h5v1h-5zM15 28h5v1h-5zM15 29h5v1h-5z"/><path fill="#2fc5a2" d="M24 0h1v1h-1zM24 1h1v1h-1zM24 2h1v1h-1zM12 3h12v1h-12zM5 8h2v1h-2zM14 8h10v1h-10zM5 9h1v1h-1zM13 10h11v1h-11zM25 11h1v1h-1zM12 12h1v1h-1zM27 12h2v1h-2zM30 12h1v1h-1zM12 13h1v1h-1zM12 14h1v1h-1zM12 15h1v1h-1zM24 18h1v1h-1zM24 19h1v1h-1zM24 20h2v1h-2zM33 20h1v1h-1z"/><path fill="#39c895" d="M12 0h3v1h-3zM21 0h3v1h-3zM12 1h3v1h-3zM21 1h3v1h-3zM12 2h3v1h-3zM21 2h3v1h-3zM7 8h7v1h-7zM6 9h18v1h-18zM13 11h12v1h-12zM13 12h14v1h-14zM29 12h1v1h-1zM13 13h9v1h-9zM26 13h1v1h-1zM32 13h1v1h-1zM13 14h8v1h-8zM33 14h1v1h-1zM13 15h8v1h-8zM22 17h1v1h-1zM25 18h1v1h-1zM33 18h1v1h-1zM25 19h1v1h-1zM33 19h1v1h-1zM26 20h2v1h-2zM31 20h2v1h-2z"/><path fill="#48cb86" d="M15 0h6v1h-6zM20 1h1v1h-1zM15 2h6v1h-6zM22 13h4v1h-4zM21 14h1v1h-1zM21 15h1v1h-1zM22 16h1v1h-1zM33 17h1v1h-1zM26 19h1v1h-1zM32 19h1v1h-1zM28 20h3v1h-3z"/><path fill="#5ccc76" d="M15 1h5v1h-5zM27 13h1v1h-1zM22 14h1v1h-1zM33 15h1v1h-1zM33 16h1v1h-1zM23 17h1v1h-1zM26 18h1v1h-1zM27 19h1v1h-1zM31 19h1v1h-1z"/><path fill="#71cd64" d="M31 13h1v1h-1zM23 14h1v1h-1zM26 14h1v1h-1zM22 15h2v1h-2zM23 16h1v1h-1zM24 17h2v1h-2zM32 18h1v1h-1zM28 19h1v1h-1zM30 19h1v1h-1z"/><path fill="#88cb53" d="M24 14h1v1h-1zM32 14h1v1h-1zM26 15h1v1h-1zM24 16h1v1h-1zM26 17h1v1h-1zM29 19h1v1h-1z"/><path fill="#9fc942" d="M28 13h3v1h-3zM25 14h1v1h-1zM24 15h1v1h-1zM25 16h2v1h-2zM27 18h1v1h-1z"/><path fill="#b4c533" d="M27 14h1v1h-1zM32 17h1v1h-1zM31 18h1v1h-1z"/><path fill="#c8c129" d="M25 15h1v1h-1zM32 15h1v1h-1zM28 18h1v1h-1zM30 18h1v1h-1z"/><path fill="#dabd28" d="M31 14h1v1h-1zM27 15h1v1h-1zM32 16h1v1h-1zM29 18h1v1h-1z"/><path fill="#eaba31" d="M27 17h1v1h-1z"/><path fill="#f8ba3d" d="M28 14h1v1h-1zM27 16h1v1h-1zM31 17h1v1h-1z"/><path fill="#fec13a" d="M29 14h2v1h-2z"/><path fill="#feca33" d="M31 15h1v1h-1zM28 17h1v1h-1zM30 17h1v1h-1z"/><path fill="#fad42e" d="M31 16h1v1h-1zM29 17h1v1h-1z"/><path fill="#f6de29" d="M28 15h1v1h-1z"/><path fill="#f5e825" d="M29 15h2v1h-2zM28 16h1v1h-1zM30 16h1v1h-1z"/><path fill="#f6f21e" d="M29 16h1v1h-1z"/></g>
<g class="a"><text x="-1 12 24 37 49 62 75 87 100 113 126 139 152 166 179 192 204 217 230 243 255 268 281 295 308 322 335 348 361 373 386 399 411 424" y="9 9 9 8 8 8 8 8 8 9 9 10 11 12 12 12 12 12 12 12 13 13 13 13 14 14 14 14 14 14 14 14 14 14" rotate="20 20 20 22 25 27 27 26 24 20 14 7 359 353 349 347 346 345 345 345 345 343 339 334 327 321 317 314 313 313 313 314 316 317">➛➛➛➛➛➛➛➛➛➛➛➛➛➛➛➛➛➛➛➛➛➛➛➛➛➛➛➛➛➛➛➛➛➛</text><text x="-1 12 24 37 49 62 75 87 100 113 126 139 152 166 179 192 205 217 230 243 255 268 281 295 309 322 336 348 361 374 386 399 411 424" y="21 21 21 21 20 20 20 20 20 21 22 23 24 24 25 25 25 25 25 25 25 25 26 26 26 27 27 27 27 27 27 27 27 27" rotate="20 20 20 22 26 29 29 28 26 21 15 7 359 353 349 346 345 345 345 345 345 343 338 331 323 317 312 310 309 310 311 313 314 315">➛➛➛➛➛➛➛➛➛➛➛➛➛➛➛➛➛➛➛➛➛➛➛➛➛➛➛➛➛➛➛➛➛➛</text><text x="-1 12 24 37 49 62 75 87 100 113 126 139 152 166 179 192 205 217 230 243 255 268 282 295 309 323 336 349 362 374 387 399 411 424" y="34 34 34 33 33 32 32 33 33 33 34 35 36 37 37 37 38 38 38 38 38 38 38 39 39 39 39 39 39 39 39 39 39 39" rotate="20 20 20 23 28 30 30 29 26 22 15 7 0 354 349 346 345 345 345 345 345 342 337 328 319 312 308 306 306 308 310 312 313 315">➛➛➛➛➛➛➛➛➛➛➛➛➛➛➛➛➛➛➛➛➛➛➛➛➛➛➛➛➛➛➛➛➛➛</text><text x="-1 12 24 37 49 62 75 87 100 113 126 139 152 165 179 192 204 217 230 243 255 268 282 296 310 323 337 349 362 374 387 399 412 424" y="46 46 46 46 45 45 45 45 45 46 47 48 49 49 50 50 50 50 50 50 50 50 51 51 52 52 52 52 52 52 52 52 52 52" rotate="20 20 20 23 28 30 30 29 26 21 15 7 0 355 351 348 346 345 345 345 344 341 335 325 315 308 305 303 303 305 309 311 313 314">➛➛➛➛➛➛➛➛➛➛➛➛➛➛➛➛➛➛➛➛➛➛➛➛➛➛➛➛➛➛➛➛➛➛</text><text x="-1 12 24 37 49 62 75 87 100 113 126 139 152 165 178 191 204 217 230 243 255 268 282 296 310 324 337 350 362 375 387 399 411 424" y="59 59 59 59 58 58 58 58 58 59 60 61 61 62 62 62 62 63 63 63 63 63 64 64 64 64 64 64 64 64 64 64 64 64" rotate="19 19 20 23 27 29 29 28 25 19 13 6 1 357 354 351 348 347 346 346 344 341 333 322 312 305 302 301 301 304 309 312 314 314">➛➛➛➛➛➛➛➛➛➛➛➛➛➛➛➛➛➛➛➛➛➛➛➛➛➛➛➛➛➛➛➛➛➛</text><text x="-1 12 24 37 50 62 75 88 100 113 126 139 152 165 178 191 204 217 230 242 255 269 282 296 310 324 337 350 363 375 386 399 411 424" y="72 72 72 72 71 71 71 71 71 72 73 73 74 74 74 74 75 75 75 75 75 76 76 77 77 77 77 77 77 77 77 77 77 77" rotate="15 16 16 19 22 25 26 24 21 16 10 5 1 358 357 355 353 351 349 347 345 340 332 321 311 304 301 300 300 304 311 314 314 315">➛➛➛➛➛➛➛➛➛➛➛➛➛➛➛➛➛➛➛➛➛➛➛➛➛➛➛➛➛➛➛➛➛➛</text><text x="0 12 25 37 50 62 75 88 101 113 126 139 152 165 178 191 203 216 229 242 255 268 282 296 310 324 337 350 362 374 386 399 411 424" y="85 86 85 85 85 84 84 84 84 85 86 86 86 86 86 87 87 87 87 87 88 88 89 89 89 89 89 89 89 89 89 89 89 89" rotate="8 8 8 10 14 17 19 18 16 12 7 3 1 359 359 358 357 355 353 350 347 341 333 322 312 305 302 300 301 307 314 315 315 315">➛➛➛➛➛➛➛➛➛➛➛➛➛➛➛➛➛➛➛➛➛➛➛➛➛➛➛➛➛➛➛➛➛➛</text><text x="0 13 26 38 51 63 75 88 101 114 127 140 152 165 178 190 203 216 229 242 255 268 282 296 310 323 337 350 362 374 386 399 411 424" y="99 99 99 99 99 98 98 98 98 98 98 99 99 99 99 99 99 99 99 100 100 100 101 102 102 102 102 102 102 102 102 102 102 102" rotate="2 0 359 0 4 8 11 12 11 8 5 2 0 0 0 0 359 358 356 353 349 343 335 325 315 308 304 303 304 311 315 315 315 315">➛➛➛➛➛➛➛➛➛➛➛➛➛➛➛➛➛➛➛➛➛➛➛➛➛➛➛➛➛➛➛➛➛➛</text><text x="0 13 26 39 51 63 76 88 101 114 127 140 152 165 178 190 203 216 229 242 255 268 281 295 309 323 336 349 361 374 386 399 411 424" y="112 112 112 112 112 111 111 111 111 111 111 111 111 111 111 111 112 112 112 112 112 113 113 114 114 115 115 115 115 115 114 114 114 114" rotate="358 356 356 356 358 1 5 7 7 5 3 1 0 0 0 0 0 359 357 355 352 347 340 330 320 313 309 307 309 313 315 315 315 316">➛➛➛➛➛➛➛➛➛➛➛➛➛➛➛➛➛➛➛➛➛➛➛➛➛➛➛➛➛➛➛➛➛➛</text><text x="0 13 26 39 51 64 76 89 101 114 127 140 152 165 178 190 203 216 229 241 254 267 281 294 308 322 335 348 361 373 386 398 411 424" y="124 125 125 125 124 124 124 124 124 124 124 124 124 124 124 124 124 124 124 124 125 125 125 126 127 127 127 127 127 127 127 127 127 127" rotate="356 355 355 355 356 359 2 4 4 4 3 1 0 0 0 0 0 359 358 356 354 351 345 337 328 320 316 314 314 315 316 316 317 318">➛➛➛➛➛➛➛➛➛➛➛➛➛➛➛➛➛➛➛➛➛➛➛➛➛➛➛➛➛➛➛➛➛➛</text><text x="0 13 26 39 51 64 76 89 101 114 127 140 152 165 178 190 203 216 229 241 254 267 280 293 307 321 334 347 360 372 385 398 410 423" y="137 137 137 137 137 137 137 136 136 136 136 136 137 137 137 137 137 137 137 137 137 137 138 138 139 139 139 139 139 139 139 139 139 139" rotate="356 355 355 355 356 358 0 3 4 4 3 2 1 0 0 0 0 359 358 358 357 354 350 344 336 329 325 322 321 321 321 321 322 323">➛➛➛➛➛➛➛➛➛➛➛➛➛➛➛➛➛➛➛➛➛➛➛➛➛➛➛➛➛➛➛➛➛➛</text><text x="0 13 26 39 51 64 76 89 101 114 127 139 152 165 178 190 203 216 229 241 254 267 280 293 306 319 333 345 358 371 384 396 409 422" y="150 150 150 150 150 149 149 149 149 149 149 149 149 149 149 149 149 149 149 149 149 149 150 150 151 151 151 151 151 151 151 151 151 151" rotate="356 356 355 356 356 358 1 3 4 5 4 3 1 0 0 0 359 359 359 359 358 357 354 349 344 339 335 334 333 333 333 332 332 333">➛➛➛➛➛➛➛➛➛➛➛➛➛➛➛➛➛➛➛➛➛➛➛➛➛➛➛➛➛➛➛➛➛➛</text><text x="0 13 26 39 51 64 76 89 101 114 126 139 152 165 178 191 203 216 229 241 254 267 280 292 306 319 331 344 357 369 382 395 407 420" y="162 162 162 162 162 162 162 161 161 161 161 161 161 162 162 162 162 162 162 162 162 162 162 162 163 163 163 163 163 163 163 163 163 163" rotate="356 356 356 356 357 359 2 4 6 7 7 5 3 1 359 359 359 359 0 0 359 358 357 353 350 347 345 346 347 349 349 348 346 344">➛➛➛➛➛➛➛➛➛➛➛➛➛➛➛➛➛➛➛➛➛➛➛➛➛➛➛➛➛➛➛➛➛➛</text><text x="1 13 26 39 51 64 76 88 101 114 126 139 152 165 178 191 203 216 228 241 254 267 279 292 305 318 331 343 356 368 381 393 406 419" y="175 175 175 175 175 174 174 174 173 173 173 173 174 174 174 174 174 174 174 174 174 174 174 175 175 175 175 175 175 174 174 174 175 175" rotate="355 355 355 356 357 359 3 6 8 9 9 7 4 1 359 358 359 0 0 0 0 359 358 356 354 353 353 355 358 359 0 359 357 354">➛➛➛➛➛➛➛➛➛➛➛➛➛➛➛➛➛➛➛➛➛➛➛➛➛➛➛➛➛➛➛➛➛➛</text><text x="1 13 26 39 51 64 76 88 101 114 126 139 152 165 178 191 203 216 228 241 254 267 279 292 305 318 330 343 355 368 380 393 406 419" y="188 188 188 187 187 187 187 186 186 186 186 186 186 187 187 187 187 187 187 187 187 187 187 187 187 187 187 187 187 186 186 186 187 187" rotate="353 353 353 354 355 359 3 7 9 10 10 8 5 1 357 357 358 359 0 0 0 359 359 358 357 357 359 1 3 4 4 4 2 0">➛➛➛➛➛➛➛➛➛➛➛➛➛➛➛➛➛➛➛➛➛➛➛➛➛➛➛➛➛➛➛➛➛➛</text><text x="1 14 27 39 52 64 76 88 101 114 126 139 152 165 178 191 204 216 229 241 254 267 279 292 305 317 330 342 355 368 380 393 406 419" y="200 200 200 200 200 200 199 199 198 198 198 198 199 200 200 200 200 200 199 199 199 199 199 199 199 199 199 199 199 199 199 199 199 199" rotate="350 349 349 349 351 356 1 6 9 10 10 8 4 358 353 353 355 358 359 0 0 359 359 0 0 1 2 3 4 5 5 5 4 3">➛➛➛➛➛➛➛➛➛➛➛➛➛➛➛➛➛➛➛➛➛➛➛➛➛➛➛➛➛➛➛➛➛➛</text><text x="2 14 27 40 52 65 77 89 101 114 126 139 152 166 179 192 204 216 229 241 254 267 279 292 304 317 330 342 355 368 380 393 406 418" y="213 214 214 214 213 213 212 212 211 211 211 211 212 213 213 213 213 213 212 212 212 212 212 212 212 212 211 211 211 211 211 211 211 212" rotate="345 343 342 342 344 349 357 4 8 9 9 6 0 351 346 345 348 353 357 358 359 0 1 2 3 4 4 5 5 5 5 5 5 4">➛➛➛➛➛➛➛➛➛➛➛➛➛➛➛➛➛➛➛➛➛➛➛➛➛➛➛➛➛➛➛➛➛➛</text><text x="2 15 28 41 54 66 77 89 101 114 127 140 153 167 180 193 205 217 229 242 254 266 279 291 304 317 329 342 355 368 380 393 406 418" y="226 227 227 227 227 226 226 225 224 224 224 224 225 226 227 227 226 226 225 225 225 224 224 224 224 224 224 224 224 224 224 224 224 224" rotate="339 336 334 333 334 339 347 356 3 5 5 0 351 341 335 335 338 344 351 356 359 1 4 6 8 8 7 6 5 5 5 5 5 5">➛➛➛➛➛➛➛➛➛➛➛➛➛➛➛➛➛➛➛➛➛➛➛➛➛➛➛➛➛➛➛➛➛➛</text><text x="3 16 29 42 55 67 79 90 102 115 127 141 154 168 181 194 206 218 230 242 254 266 279 291 304 316 329 342 355 368 380 393 406 418" y="239 239 240 240 240 240 239 239 238 237 238 238 239 239 240 240 240 239 239 238 237 236 236 236 235 235 236 236 236 236 236 236 236 236" rotate="334 331 328 326 326 328 335 345 353 357 356 349 339 331 328 327 330 336 345 354 1 6 10 13 14 14 12 9 7 6 6 6 6 6">➛➛➛➛➛➛➛➛➛➛➛➛➛➛➛➛➛➛➛➛➛➛➛➛➛➛➛➛➛➛➛➛➛➛</text><text x="3 16 30 42 55 68 80 92 103 116 128 142 155 169 182 194 207 219 230 242 253 266 278 291 303 316 329 342 354 367 380 393 405 418" y="252 252 252 252 252 252 252 252 251 251 251 252 252 252 252 252 252 252 251 250 249 248 247 247 247 247 247 248 248 248 249 249 249 249" rotate="331 327 324 322 321 323 327 334 343 347 345 338 331 326 325 325 326 331 342 356 7 15 20 23 24 24 21 17 13 10 9 8 8 9">➛➛➛➛➛➛➛➛➛➛➛➛➛➛➛➛➛➛➛➛➛➛➛➛➛➛➛➛➛➛➛➛➛➛</text><text x="4 17 30 43 55 68 80 92 104 116 129 143 156 169 182 194 207 219 230 241 253 265 278 290 303 316 328 341 354 367 380 392 405 418" y="265 265 265 265 265 265 265 265 264 264 264 265 265 265 265 265 265 265 264 261 259 259 258 258 257 257 257 258 259 260 260 260 260 261" rotate="329 325 322 321 320 321 323 329 336 339 337 331 326 324 325 325 325 330 345 7 22 29 33 35 38 39 38 33 27 22 18 15 14 14">➛➛➛➛➛➛➛➛➛➛➛➛➛➛➛➛➛➛➛➛➛➛➛➛➛➛➛➛➛➛➛➛➛➛</text><text x="4 17 30 43 55 68 80 92 104 117 130 144 157 170 182 195 207 219 228 240 252 265 278 290 303 316 329 341 354 366 379 392 405 417" y="277 277 278 278 278 278 278 277 277 277 277 277 278 278 278 278 277 277 275 271 269 269 269 269 268 267 267 267 268 269 270 271 272 272" rotate="329 325 322 320 320 320 323 328 334 335 331 323 318 318 321 323 323 332 1 30 41 44 45 47 52 56 58 57 51 43 36 29 25 22">➛➛➛➛➛➛➛➛➛➛➛➛➛➛➛➛➛➛➛➛➛➛➛➛➛➛➛➛➛➛➛➛➛➛</text><text x="3 17 30 43 55 68 80 92 104 117 131 145 159 173 186 198 209 218 227 240 253 265 278 291 304 317 330 343 355 367 380 392 404 417" y="290 290 290 290 290 290 290 290 289 289 290 290 290 290 290 290 290 289 283 281 280 280 280 280 279 278 278 278 278 279 280 281 282 283" rotate="330 326 323 322 321 322 325 331 336 335 327 315 304 297 294 297 307 338 32 50 54 54 54 56 63 70 75 75 73 66 57 48 40 34">➛➛➛➛➛➛➛➛➛➛➛➛➛➛➛➛➛➛➛➛➛➛➛➛➛➛➛➛➛➛➛➛➛➛</text><text x="3 16 29 42 55 67 79 91 103 116 131 146 161 175 188 201 212 217 227 240 253 265 278 291 304 318 331 344 356 368 381 393 405 417" y="302 302 302 303 303 302 302 302 301 302 302 303 303 302 301 302 302 301 293 292 292 292 292 292 291 290 289 289 289 290 291 292 293 294" rotate="333 330 327 325 325 328 333 340 344 340 326 307 290 278 273 273 285 351 51 58 59 58 58 62 72 80 84 85 84 80 73 64 55 46">➛➛➛➛➛➛➛➛➛➛➛➛➛➛➛➛➛➛➛➛➛➛➛➛➛➛➛➛➛➛➛➛➛➛</text><text x="2 15 28 41 53 65 77 89 102 115 130 146 162 176 189 201 213 215 227 240 253 265 278 291 305 318 331 344 357 369 381 393 405 418" y="314 314 315 315 314 314 313 313 312 313 315 315 315 314 314 314 315 311 305 305 305 305 305 304 303 302 302 302 302 302 302 303 304 305" rotate="339 337 335 335 338 344 352 359 359 351 332 306 285 274 270 271 279 13 56 60 60 59 60 66 78 86 89 89 88 85 80 73 65 56">➛➛➛➛➛➛➛➛➛➛➛➛➛➛➛➛➛➛➛➛➛➛➛➛➛➛➛➛➛➛➛➛➛➛</text><text x="1 14 27 39 51 63 75 88 101 114 128 145 161 175 188 201 211 214 227 240 253 265 278 291 305 318 331 344 357 369 381 394 406 418" y="326 326 326 326 325 324 323 323 323 324 326 328 328 327 327 327 328 319 318 317 317 317 317 316 315 314 314 314 314 314 315 315 316 317" rotate="346 346 348 352 0 9 15 18 16 8 348 315 289 277 273 274 298 43 58 60 60 60 61 69 81 88 90 90 89 87 84 78 71 63">➛➛➛➛➛➛➛➛➛➛➛➛➛➛➛➛➛➛➛➛➛➛➛➛➛➛➛➛➛➛➛➛➛➛</text><text x="1 13 25 38 50 62 75 87 100 113 127 142 159 174 186 194 202 215 228 240 253 266 278 292 305 319 331 344 357 369 382 394 406 418" y="338 338 337 337 336 335 334 334 334 335 337 340 341 340 340 340 330 329 329 330 330 330 329 328 327 327 327 327 327 327 327 327 328 329" rotate="354 356 1 8 16 23 26 27 25 20 6 337 306 290 288 330 57 64 63 60 60 60 62 71 82 88 90 90 89 88 85 80 74 66">➛➛➛➛➛➛➛➛➛➛➛➛➛➛➛➛➛➛➛➛➛➛➛➛➛➛➛➛➛➛➛➛➛➛</text><text x="0 12 25 37 49 62 75 87 100 113 126 140 154 167 176 189 203 215 228 240 253 266 278 292 305 318 331 344 357 369 382 394 406 418" y="350 350 349 348 347 347 346 346 346 347 348 350 352 352 347 342 341 341 341 342 342 342 342 341 340 339 339 339 339 339 340 340 341 341" rotate="1 5 11 18 24 28 29 30 29 26 17 1 343 341 25 61 69 70 68 64 61 61 64 71 81 87 89 89 89 87 84 80 74 68">➛➛➛➛➛➛➛➛➛➛➛➛➛➛➛➛➛➛➛➛➛➛➛➛➛➛➛➛➛➛➛➛➛➛</text><text x="0 12 24 37 49 62 75 87 100 113 126 139 151 164 176 190 203 215 228 241 253 266 278 292 305 318 331 344 356 369 381 394 406 418" y="362 361 361 360 359 359 359 359 359 359 360 361 361 359 356 354 354 354 354 354 354 355 354 354 353 352 352 352 352 352 352 353 353 354" rotate="6 10 16 22 26 29 30 30 29 27 23 16 13 28 53 66 69 70 69 66 63 62 64 71 78 84 87 87 87 85 83 79 74 68">➛➛➛➛➛➛➛➛➛➛➛➛➛➛➛➛➛➛➛➛➛➛➛➛➛➛➛➛➛➛➛➛➛➛</text><text x="-1 12 24 37 49 62 75 87 100 113 126 138 151 163 177 190 203 215 228 240 253 266 278 291 305 318 331 343 356 369 381 394 406 418" y="374 374 373 372 372 372 372 371 372 372 372 372 372 370 368 367 366 366 366 367 367 367 367 366 366 365 365 365 365 365 365 365 366 367" rotate="9 14 18 23 27 29 30 30 29 28 25 22 26 40 56 65 68 69 68 66 64 62 64 69 75 80 83 84 84 83 80 77 72 67">➛➛➛➛➛➛➛➛➛➛➛➛➛➛➛➛➛➛➛➛➛➛➛➛➛➛➛➛➛➛➛➛➛➛</text></g>
<path class="ct" d="M223.3 14.2C225.9 12.5 234.4 8.9 236.8 10.8C239.1 12.6 239.4 22.9 237.4 25.3C235.5 27.7 227.7 26 224.9 25.3C222.2 24.6 221.2 22.8 220.9 20.9C220.6 19.1 220.6 15.8 223.3 14.2z"/>
<path class="ct" d="M329.5 206.4C327.3 201.1 322.8 192.9 324.4 187.9C326.1 182.8 333.4 178.6 339.6 176.1C345.8 173.5 352.8 173.1 361.5 172.7C370.3 172.3 384 171.7 391.9 173.7C399.8 175.7 405.1 179.9 408.8 184.5C412.4 189.1 414.4 195.2 413.8 201.4C413.3 207.5 410.7 216.3 405.4 221.6C400.1 226.9 390.2 231.7 381.8 233.4C373.4 235.1 362.1 234 354.8 231.7C347.5 229.5 342.2 224.1 337.9 219.9C333.7 215.7 331.8 211.8 329.5 206.4z"/>
<path d="M0 0H431.3V376.7H0zM43.1 0L44.9 9.7L46.8 19.3L48.7 29L50.7 38.6L52.8 48.3L55 58L57.3 67.6L59.7 77.3L62.2 86.9L64.8 96.6L67.4 106.2L70.2 115.9L73.2 125.6L76.2 135.2L79.4 144.9L82.6 154.5L86.1 164.2L89.6 173.9L93.4 183.5L97.2 193.2L101.3 202.8L105.5 212.5L109.8 222.2L114.4 231.8L119.2 241.5L124.1 251.1L129.2 260.8L134.6 270.5L140.2 280.1L146 289.8L152.1 299.4L158.4 309.1L164.9 318.7L171.8 328.4L178.9 338.1L186.3 347.7L194.1 357.4L202.1 367L210.5 376.7L220.8 376.7L229.2 367L237.2 357.4L245 347.7L252.4 338.1L259.5 328.4L266.4 318.7L272.9 309.1L279.2 299.4L285.3 289.8L291.1 280.1L296.7 270.5L302.1 260.8L307.2 251.1L312.1 241.5L316.9 231.8L321.5 222.2L325.8 212.5L330 202.8L334.1 193.2L337.9 183.5L341.7 173.9L345.2 164.2L348.7 154.5L351.9 144.9L355.1 135.2L358.1 125.6L361.1 115.9L363.9 106.2L366.5 96.6L369.1 86.9L371.6 77.3L374 67.6L376.3 58L378.5 48.3L380.6 38.6L382.6 29L384.5 19.3L386.4 9.7L388.2 0z" fill="#fff" fill-opacity="0.5" fill-rule="evenodd"/>
<path d="M43.1 0L44.9 9.7L46.8 19.3L48.7 29L50.7 38.6L52.8 48.3L55 58L57.3 67.6L59.7 77.3L62.2 86.9L64.8 96.6L67.4 106.2L70.2 115.9L73.2 125.6L76.2 135.2L79.4 144.9L82.6 154.5L86.1 164.2L89.6 173.9L93.4 183.5L97.2 193.2L101.3 202.8L105.5 212.5L109.8 222.2L114.4 231.8L119.2 241.5L124.1 251.1L129.2 260.8L134.6 270.5L140.2 280.1L146 289.8L152.1 299.4L158.4 309.1L164.9 318.7L171.8 328.4L178.9 338.1L186.3 347.7L194.1 357.4L202.1 367L210.5 376.7L220.8 376.7L229.2 367L237.2 357.4L245 347.7L252.4 338.1L259.5 328.4L266.4 318.7L272.9 309.1L279.2 299.4L285.3 289.8L291.1 280.1L296.7 270.5L302.1 260.8L307.2 251.1L312.1 241.5L316.9 231.8L321.5 222.2L325.8 212.5L330 202.8L334.1 193.2L337.9 183.5L341.7 173.9L345.2 164.2L348.7 154.5L351.9 144.9L355.1 135.2L358.1 125.6L361.1 115.9L363.9 106.2L366.5 96.6L369.1 86.9L371.6 77.3L374 67.6L376.3 58L378.5 48.3L380.6 38.6L382.6 29L384.5 19.3L386.4 9.7L388.2 0" fill="none" stroke="#000" stroke-width="1"/>
</g>
<path d="M6.3 376.7v-4M69.8 376.7v-4M133.2 376.7v-4M196.6 376.7v-4M260 376.7v-4M323.5 376.7v-4M386.9 376.7v-4M0 144h4M431.3 144h-4M0 294.8h4M431.3 294.8h-4" stroke="#333" fill="none" stroke-width="1"/>
<rect x="0" y="0" width="431.3" height="376.7" fill="none" stroke="#333" stroke-width="1.2"/>
</g>
<rect x="1015.7" y="1353" width="23.6" height="376.7" fill="url(#cb)" stroke="#333" stroke-width="1"/>
<path d="M1039.3 1415.8h-3M1039.3 1478.6h-3M1039.3 1541.3h-3M1039.3 1604.1h-3M1039.3 1666.9h-3" stroke="#333" fill="none"/>
<g class="cl"><text x="1045.8" y="1357.5">8</text><text x="1045.8" y="1420.3">4</text><text x="1045.8" y="1483.1">2</text><text x="1045.8" y="1545.8">1</text><text x="1045.8" y="1608.6">1/2</text><text x="1045.8" y="1671.4">1/4</text><text x="1045.8" y="1734.2">1/8</text></g>
<g class="xl"><text x="579.5" y="1750.6">1985</text><text x="643" y="1750.6">1990</text><text x="706.4" y="1750.6">1995</text><text x="769.8" y="1750.6">2000</text><text x="833.2" y="1750.6">2005</text><text x="896.7" y="1750.6">2010</text><text x="960.1" y="1750.6">2015</text></g>
<g class="yl" text-anchor="end"><text x="566.2" y="1501.5">4</text><text x="566.2" y="1652.3">8</text></g>
<text class="ti" x="788" y="1345.2">XWT: SPEI-PRCPTOT</text>
<text class="xa" font-size="17.6" x="789" y="1771.4">Year</text>
<text class="ya" font-size="17.6" transform="translate(551.5,1540.9) rotate(-90)">Cycles per year</text>
<g transform="translate(1110.9,1356.4)">
<clipPath id="c11"><rect width="426.7" height="371"/></clipPath>
<g clip-path="url(#c11)">
<g transform="scale(12.55,12.3667)" shape-rendering="crispEdges"><path fill="#484cef" d="M28 0h2v1h-2zM28 1h2v1h-2zM28 2h2v1h-2zM28 3h2v1h-2zM29 4h1v1h-1z"/><path fill="#4755f6" d="M33 0h1v1h-1zM33 1h1v1h-1zM33 2h1v1h-1zM33 3h1v1h-1zM28 4h1v1h-1z"/><path fill="#465efb" d="M33 4h1v1h-1zM28 5h2v1h-2z"/><path fill="#4367fd" d="M30 0h1v1h-1zM32 0h1v1h-1zM30 1h1v1h-1zM32 1h1v1h-1zM30 2h1v1h-1zM32 2h1v1h-1zM30 3h1v1h-1zM32 3h1v1h-1zM30 4h1v1h-1zM32 4h1v1h-1zM0 24h10v1h-10z"/><path fill="#3d70ff" d="M33 5h1v1h-1zM0 23h9v1h-9zM10 24h2v1h-2zM0 25h12v1h-12z"/><path fill="#347afd" d="M27 0h1v1h-1zM31 0h1v1h-1zM27 1h1v1h-1zM31 1h1v1h-1zM27 2h1v1h-1zM31 2h1v1h-1zM27 3h1v1h-1zM31 3h1v1h-1zM27 4h1v1h-1zM31 4h1v1h-1zM30 5h1v1h-1zM32 5h1v1h-1zM28 6h2v1h-2zM9 23h5v1h-5zM12 24h7v1h-7zM12 25h1v1h-1z"/><path fill="#2e83f9" d="M27 5h1v1h-1zM14 23h6v1h-6zM19 24h1v1h-1zM13 25h5v1h-5zM0 26h12v1h-12z"/><path fill="#2d8cf3" d="M31 5h1v1h-1zM27 6h1v1h-1zM28 7h1v1h-1zM9 22h4v1h-4zM20 23h1v1h-1zM18 25h1v1h-1zM12 26h1v1h-1z"/><path fill="#2994ed" d="M30 6h1v1h-1zM27 7h1v1h-1zM29 7h1v1h-1zM0 22h9v1h-9zM13 22h7v1h-7zM20 24h1v1h-1zM19 25h1v1h-1zM13 26h1v1h-1z"/><path fill="#259ce7" d="M33 6h1v1h-1zM28 8h1v1h-1zM20 22h1v1h-1zM21 23h1v1h-1zM14 26h5v1h-5z"/><path fill="#21a3e3" d="M31 6h2v1h-2zM30 7h1v1h-1zM27 8h1v1h-1zM21 22h1v1h-1zM0 27h13v1h-13z"/><path fill="#1caadf" d="M26 0h1v1h-1zM26 1h1v1h-1zM26 2h1v1h-1zM26 3h1v1h-1zM26 4h1v1h-1zM26 5h1v1h-1zM26 6h1v1h-1zM29 8h1v1h-1zM10 21h3v1h-3zM22 22h1v1h-1zM22 23h1v1h-1zM21 24h1v1h-1zM20 25h1v1h-1zM19 26h1v1h-1zM13 27h1v1h-1z"/><path fill="#13b0d7" d="M26 7h1v1h-1zM31 7h1v1h-1zM33 7h1v1h-1zM30 8h1v1h-1zM0 21h10v1h-10zM13 21h9v1h-9zM23 22h11v1h-11zM23 23h11v1h-11zM14 27h6v1h-6z"/><path fill="#05b6ce" d="M32 7h1v1h-1zM26 8h1v1h-1zM22 21h1v1h-1zM22 24h1v1h-1zM18 28h2v1h-2zM19 29h1v1h-1z"/><path fill="#02bac4" d="M31 8h3v1h-3zM23 21h1v1h-1zM23 24h11v1h-11zM21 25h1v1h-1zM20 26h1v1h-1zM0 28h12v1h-12zM17 28h1v1h-1zM18 29h1v1h-1z"/><path fill="#12beb9" d="M24 21h10v1h-10zM22 25h1v1h-1zM20 27h1v1h-1zM12 28h5v1h-5zM20 28h1v1h-1zM20 29h1v1h-1z"/><path fill="#24c2ae" d="M27 9h3v1h-3zM23 25h11v1h-11zM21 26h1v1h-1zM21 27h1v1h-1zM21 28h1v1h-1zM17 29h1v1h-1zM21 29h1v1h-1z"/><path fill="#2fc5a2" d="M25 0h1v1h-1zM25 1h1v1h-1zM25 2h1v1h-1zM25 3h1v1h-1zM25 4h1v1h-1zM25 5h1v1h-1zM25 6h1v1h-1zM25 7h1v1h-1zM26 9h1v1h-1zM30 9h1v1h-1zM0 20h22v1h-22zM22 26h12v1h-12zM22 27h12v1h-12zM22 28h12v1h-12zM0 29h17v1h-17zM22 29h12v1h-12z"/><path fill="#39c895" d="M25 8h1v1h-1zM31 9h3v1h-3zM22 20h1v1h-1z"/><path fill="#48cb86" d="M23 20h11v1h-11z"/><path fill="#5ccc76" d="M25 9h1v1h-1z"/><path fill="#71cd64" d="M29 10h2v1h-2z"/><path fill="#88cb53" d="M28 10h1v1h-1zM31 10h3v1h-3z"/><path fill="#9fc942" d="M24 0h1v1h-1zM24 1h1v1h-1zM24 2h1v1h-1zM24 3h1v1h-1zM24 4h1v1h-1zM24 5h1v1h-1zM24 6h1v1h-1zM24 7h1v1h-1zM24 8h1v1h-1zM25 10h3v1h-3zM0 19h25v1h-25z"/><path fill="#b4c533" d="M24 9h1v1h-1zM25 19h9v1h-9z"/><path fill="#dabd28" d="M14 5h2v1h-2zM14 6h2v1h-2zM24 10h1v1h-1zM28 11h6v1h-6z"/><path fill="#eaba31" d="M23 0h1v1h-1zM23 1h1v1h-1zM23 2h1v1h-1zM23 3h1v1h-1zM13 4h4v1h-4zM23 4h1v1h-1zM13 5h1v1h-1zM16 5h1v1h-1zM23 5h1v1h-1zM13 6h1v1h-1zM16 6h1v1h-1zM23 6h1v1h-1zM14 7h2v1h-2zM23 7h1v1h-1zM23 8h1v1h-1zM25 11h3v1h-3zM0 18h34v1h-34z"/><path fill="#f8ba3d" d="M22 0h1v1h-1zM22 1h1v1h-1zM13 2h4v1h-4zM22 2h1v1h-1zM12 3h6v1h-6zM22 3h1v1h-1zM11 4h2v1h-2zM17 4h2v1h-2zM22 4h1v1h-1zM11 5h2v1h-2zM17 5h2v1h-2zM22 5h1v1h-1zM11 6h2v1h-2zM17 6h1v1h-1zM12 7h2v1h-2zM16 7h1v1h-1zM23 9h1v1h-1zM23 10h1v1h-1zM24 11h1v1h-1zM25 12h9v1h-9z"/><path fill="#fec13a" d="M3 0h19v1h-19zM3 1h19v1h-19zM3 2h10v1h-10zM17 2h5v1h-5zM3 3h9v1h-9zM18 3h4v1h-4zM2 4h9v1h-9zM19 4h3v1h-3zM0 5h11v1h-11zM19 5h3v1h-3zM0 6h11v1h-11zM18 6h5v1h-5zM0 7h12v1h-12zM17 7h6v1h-6zM0 8h18v1h-18zM19 8h4v1h-4zM0 9h13v1h-13zM22 9h1v1h-1zM0 10h12v1h-12zM0 11h12v1h-12zM23 11h1v1h-1zM0 12h12v1h-12zM23 12h2v1h-2zM0 13h13v1h-13zM22 13h12v1h-12zM0 14h15v1h-15zM20 14h14v1h-14zM0 15h34v1h-34zM0 16h34v1h-34zM0 17h34v1h-34z"/><path fill="#feca33" d="M2 0h1v1h-1zM2 1h1v1h-1zM2 2h1v1h-1zM0 3h3v1h-3zM0 4h2v1h-2zM18 8h1v1h-1zM13 9h9v1h-9zM12 10h3v1h-3zM21 10h2v1h-2zM12 11h2v1h-2zM21 11h2v1h-2zM12 12h2v1h-2zM21 12h2v1h-2zM13 13h4v1h-4zM18 13h4v1h-4zM15 14h5v1h-5z"/><path fill="#fad42e" d="M0 0h2v1h-2zM0 1h2v1h-2zM0 2h2v1h-2zM15 10h6v1h-6zM14 11h7v1h-7zM14 12h7v1h-7zM17 13h1v1h-1z"/></g>
<g class="a"><text x="-1 12 25 37 50 62 74 87 100 112 125 138 150 163 175 188 201 214 227 239 252 264 276 289 302 314" y="10 10 10 10 10 9 9 9 9 10 10 10 10 10 10 10 11 11 12 12 12 11 11 11 11 11" rotate="9 10 9 8 10 14 16 16 14 11 7 5 4 5 5 5 3 359 354 352 353 356 358 358 357 356">➛➛➛➛➛➛➛➛➛➛➛➛➛➛➛➛➛➛➛➛➛➛➛➛➛➛</text><text x="-1 12 25 37 49 62 74 87 99 112 125 138 150 163 175 188 201 214 227 240 252 264 276 289 301 314" y="22 22 22 22 22 21 21 21 21 22 22 23 23 23 23 23 23 24 24 25 24 24 23 23 23 24" rotate="10 10 9 8 13 18 21 21 18 13 8 5 4 5 5 5 3 356 349 348 352 357 359 359 358 357">➛➛➛➛➛➛➛➛➛➛➛➛➛➛➛➛➛➛➛➛➛➛➛➛➛➛</text><text x="-1 12 25 37 49 61 74 86 99 112 125 138 150 163 175 188 201 215 228 241 252 264 276 289 301 314" y="35 35 35 35 34 33 32 33 33 34 35 35 35 35 35 35 36 37 38 37 37 36 36 36 36 36" rotate="8 8 6 7 16 24 26 25 22 16 10 6 4 4 5 4 0 348 339 340 350 358 0 0 359 357">➛➛➛➛➛➛➛➛➛➛➛➛➛➛➛➛➛➛➛➛➛➛➛➛➛➛</text><text x="1 13 26 38 49 61 74 86 99 112 125 138 150 163 176 188 202 216 230 242 253 264 276 289 301 314" y="49 49 49 48 46 45 44 45 45 46 47 47 48 48 48 48 49 50 51 51 50 48 48 48 48 48" rotate="355 353 352 1 20 28 29 28 24 18 11 6 4 3 2 359 349 334 327 329 341 356 0 0 359 356">➛➛➛➛➛➛➛➛➛➛➛➛➛➛➛➛➛➛➛➛➛➛➛➛➛➛</text><text x="3 17 29 39 49 61 74 86 99 112 125 138 150 163 176 189 203 217 230 243 254 265 276 289 302 314" y="63 63 63 62 58 57 57 57 57 58 59 60 60 60 61 61 62 63 63 63 63 62 61 61 61 61" rotate="330 324 328 348 18 29 30 28 24 18 12 6 3 0 357 350 336 325 321 322 330 348 357 358 357 354">➛➛➛➛➛➛➛➛➛➛➛➛➛➛➛➛➛➛➛➛➛➛➛➛➛➛</text><text x="5 18 30 40 50 61 74 86 99 112 125 138 150 163 176 190 204 218 230 243 255 266 277 289 302 315" y="76 76 76 75 72 70 69 70 70 71 71 72 72 73 74 74 75 76 76 76 75 75 74 73 74 74" rotate="320 316 318 335 9 25 28 26 22 17 11 7 3 359 353 343 331 322 320 320 325 338 349 353 353 349">➛➛➛➛➛➛➛➛➛➛➛➛➛➛➛➛➛➛➛➛➛➛➛➛➛➛</text><text x="4 18 30 40 51 62 74 87 99 112 125 138 150 163 176 190 204 217 230 243 255 266 278 290 303 316" y="88 88 88 87 85 83 83 83 83 83 84 84 85 85 86 87 88 88 88 88 88 87 87 86 86 87" rotate="323 317 320 334 357 15 21 21 18 14 11 7 3 359 353 343 331 324 321 322 325 334 343 347 347 343">➛➛➛➛➛➛➛➛➛➛➛➛➛➛➛➛➛➛➛➛➛➛➛➛➛➛</text><text x="2 14 27 39 51 62 75 87 99 112 125 138 150 163 176 190 203 217 230 242 254 266 278 290 303 316" y="99 99 99 99 98 97 96 96 96 96 96 97 97 97 98 99 100 100 100 100 100 100 99 99 99 100" rotate="345 343 341 345 354 5 12 15 15 13 11 8 5 1 356 347 337 329 325 326 329 334 340 342 341 335">➛➛➛➛➛➛➛➛➛➛➛➛➛➛➛➛➛➛➛➛➛➛➛➛➛➛</text><text x="0 13 25 38 51 63 75 87 99 112 125 138 150 163 176 189 202 216 229 241 254 266 278 291 304 317" y="110 110 110 110 110 110 109 108 108 108 109 109 109 110 110 111 111 112 112 112 112 112 112 112 112 112" rotate="358 359 357 354 356 2 8 12 15 15 12 8 5 3 0 353 345 337 333 332 334 337 340 340 337 329">➛➛➛➛➛➛➛➛➛➛➛➛➛➛➛➛➛➛➛➛➛➛➛➛➛➛</text><text x="0 13 25 38 50 63 75 87 99 112 125 138 150 163 176 188 202 215 228 241 253 266 278 291 304 318 332 346 360 374 386 399 411 423" y="122 122 122 123 122 122 121 121 120 120 121 122 122 122 122 122 123 124 124 124 124 124 124 124 124 125 125 125 125 125 124 124 125 125" rotate="359 0 359 358 358 2 8 15 20 20 13 6 3 3 2 358 352 346 342 340 340 341 341 340 335 326 313 298 288 282 280 280 282 285">➛➛➛➛➛➛➛➛➛➛➛➛➛➛➛➛➛➛➛➛➛➛➛➛➛➛➛➛➛➛➛➛➛➛</text><text x="0 13 25 38 50 63 75 87 99 111 124 138 151 163 176 188 201 214 227 240 252 265 278 291 304 317 332 346 360 373 386 399 411 423" y="135 135 135 135 135 134 133 132 131 131 132 134 134 134 134 134 135 135 136 136 136 136 136 136 137 137 138 138 137 137 137 137 137 137" rotate="0 0 359 359 359 3 10 20 28 30 19 3 1 2 3 1 357 352 349 347 346 345 344 341 336 327 314 301 289 283 280 280 282 287">➛➛➛➛➛➛➛➛➛➛➛➛➛➛➛➛➛➛➛➛➛➛➛➛➛➛➛➛➛➛➛➛➛➛</text><text x="0 13 25 38 50 63 75 86 99 111 124 138 151 163 175 188 201 214 227 239 252 265 277 290 303 317 331 345 359 373 386 398 410 422" y="147 147 147 147 147 147 146 144 142 141 142 146 147 147 147 147 147 147 148 148 148 148 148 148 149 149 150 150 150 150 149 149 150 150" rotate="0 0 0 359 0 4 12 25 37 43 40 7 1 3 4 3 0 356 354 352 351 350 348 344 339 330 320 309 298 290 285 285 288 294">➛➛➛➛➛➛➛➛➛➛➛➛➛➛➛➛➛➛➛➛➛➛➛➛➛➛➛➛➛➛➛➛➛➛</text><text x="0 13 25 38 50 63 75 86 99 112 124 137 150 163 175 188 201 214 226 239 252 264 277 290 303 316 330 343 356 369 382 395 408 420" y="159 159 159 159 159 159 158 156 154 153 153 155 158 159 159 159 159 160 160 160 160 160 160 161 161 161 162 162 162 162 162 162 162 162" rotate="359 0 359 359 359 3 12 27 40 48 49 31 10 7 6 3 0 358 356 355 355 354 352 348 342 335 328 321 317 314 311 309 309 310">➛➛➛➛➛➛➛➛➛➛➛➛➛➛➛➛➛➛➛➛➛➛➛➛➛➛➛➛➛➛➛➛➛➛</text><text x="0 13 25 38 50 63 75 87 99 111 124 137 150 163 175 188 201 214 226 239 251 264 277 289 303 316 329 342 354 366 379 391 405 418" y="172 172 172 172 172 172 171 169 167 166 166 168 170 171 171 171 172 172 172 172 172 172 172 173 173 174 174 174 174 174 174 174 174 174" rotate="359 0 359 358 358 1 9 23 36 44 45 33 17 9 6 3 0 358 357 358 357 357 355 352 347 340 335 333 334 337 339 338 333 328">➛➛➛➛➛➛➛➛➛➛➛➛➛➛➛➛➛➛➛➛➛➛➛➛➛➛➛➛➛➛➛➛➛➛</text><text x="0 13 25 38 51 63 75 87 99 111 124 137 150 163 176 188 201 214 226 239 251 264 276 289 302 315 328 341 353 366 378 391 403 417" y="184 184 184 184 185 185 184 182 181 180 181 182 183 183 184 184 184 184 184 184 184 184 184 185 185 186 186 186 186 186 186 186 186 186" rotate="0 0 359 356 354 356 2 14 25 31 27 16 8 5 3 0 358 357 358 359 359 359 357 354 350 345 341 340 341 344 345 344 342 338">➛➛➛➛➛➛➛➛➛➛➛➛➛➛➛➛➛➛➛➛➛➛➛➛➛➛➛➛➛➛➛➛➛➛</text><text x="0 13 26 39 51 64 76 88 100 112 125 138 151 163 176 189 201 214 226 239 251 264 276 289 302 315 328 341 353 366 378 391 403 416" y="197 197 197 197 198 198 197 196 195 195 196 196 196 196 196 197 197 197 197 196 196 197 197 197 197 198 198 198 198 198 198 198 198 198" rotate="358 358 355 351 348 349 353 3 11 13 8 2 1 1 0 357 355 356 358 0 0 359 358 356 353 348 344 343 343 345 345 345 344 341">➛➛➛➛➛➛➛➛➛➛➛➛➛➛➛➛➛➛➛➛➛➛➛➛➛➛➛➛➛➛➛➛➛➛</text><text x="1 14 26 39 52 65 77 89 100 113 125 138 151 163 176 189 202 214 226 239 251 264 276 289 302 315 328 340 353 366 378 391 403 416" y="210 210 210 210 210 211 210 210 209 208 209 209 209 209 209 210 210 209 209 209 209 209 209 209 209 210 210 210 210 210 210 210 210 210" rotate="353 350 346 345 343 341 343 351 0 3 2 0 0 0 357 352 350 354 358 0 0 0 359 357 355 351 347 345 344 345 345 345 344 343">➛➛➛➛➛➛➛➛➛➛➛➛➛➛➛➛➛➛➛➛➛➛➛➛➛➛➛➛➛➛➛➛➛➛</text><text x="1 14 27 39 52 66 79 90 101 113 126 138 151 163 177 190 203 215 226 239 251 264 276 289 302 314 327 340 353 365 378 391 403 416" y="222 223 223 223 223 224 224 223 222 221 221 221 221 221 222 223 223 222 222 221 221 221 221 221 222 222 222 222 223 223 223 223 223 223" rotate="348 345 345 345 339 329 330 339 351 358 0 0 0 358 351 343 342 347 356 359 0 359 359 358 356 354 350 347 346 345 345 345 344 344">➛➛➛➛➛➛➛➛➛➛➛➛➛➛➛➛➛➛➛➛➛➛➛➛➛➛➛➛➛➛➛➛➛➛</text><text x="2 14 27 40 55 69 81 92 102 114 126 138 151 164 178 191 204 216 227 239 251 264 276 289 301 314 327 340 352 365 378 390 403 415" y="235 235 235 235 236 237 237 236 235 234 234 234 234 234 235 236 236 236 235 234 234 234 234 234 234 234 234 234 235 235 235 235 235 235" rotate="344 343 343 340 320 311 315 327 342 353 357 358 357 352 341 334 333 337 348 356 358 359 359 359 358 357 355 352 349 347 347 347 347 347">➛➛➛➛➛➛➛➛➛➛➛➛➛➛➛➛➛➛➛➛➛➛➛➛➛➛➛➛➛➛➛➛➛➛</text><text x="2 15 28 43 57 70 82 93 103 114 126 139 151 165 178 191 204 216 228 239 252 264 276 289 301 314 326 339 352 365 377 390 402 415" y="248 248 248 249 249 249 249 249 248 247 247 246 247 247 248 248 248 248 248 247 246 246 246 246 246 246 246 246 246 246 247 247 247 246" rotate="340 337 332 316 302 302 307 318 334 347 353 355 352 344 335 331 330 332 340 350 355 357 359 0 2 3 2 0 357 355 353 353 354 356">➛➛➛➛➛➛➛➛➛➛➛➛➛➛➛➛➛➛➛➛➛➛➛➛➛➛➛➛➛➛➛➛➛➛</text><text x="2 16 30 44 57 70 82 93 104 115 127 139 152 165 179 191 204 216 228 240 252 264 276 288 301 313 325 338 350 363 376 388 401 413" y="260 261 261 261 261 261 261 261 261 260 259 259 260 260 261 261 261 261 260 260 259 259 258 258 257 257 256 256 257 257 257 257 257 256" rotate="337 331 321 308 301 301 306 316 330 343 349 351 347 340 333 331 330 332 337 346 353 357 1 5 9 14 16 16 15 12 11 12 15 19">➛➛➛➛➛➛➛➛➛➛➛➛➛➛➛➛➛➛➛➛➛➛➛➛➛➛➛➛➛➛➛➛➛➛</text><text x="312 325 337 350 363 375 388 401 414" y="267 266 265 265 265 264 264 262 262" rotate="32 39 43 45 47 49 55 63 71">➛➛➛➛➛➛➛➛➛</text><text x="275 289 302 315 328 341 354 367 381 395 408 421" y="313 311 309 309 309 309 309 308 308 308 308 308" rotate="57 75 87 92 94 95 96 103 115 124 128 128">➛➛➛➛➛➛➛➛➛➛➛➛</text><text x="262 275 289 303 316 328 341 354 367 381 395 408 421" y="327 325 322 322 321 321 321 321 321 320 320 320 320" rotate="46 62 80 90 94 95 95 96 103 118 127 129 130">➛➛➛➛➛➛➛➛➛➛➛➛➛</text><text x="262 275 289 303 316 328 341 354 367 382 395 408 421" y="339 337 335 334 334 333 333 333 333 332 332 332 332" rotate="47 63 81 91 94 95 95 96 103 119 128 130 130">➛➛➛➛➛➛➛➛➛➛➛➛➛</text><text x="262 275 289 303 316 328 341 354 367 381 395 408 421" y="351 349 347 346 346 346 346 346 345 345 345 345 345" rotate="46 61 80 90 94 95 95 96 103 118 127 129 130">➛➛➛➛➛➛➛➛➛➛➛➛➛</text><text x="-1 12 24 36 49 61 74 86 99 112 124 137 149 162 174 187 199 212 262 275 289 302 316 328 341 354 367 381 395 408 421" y="368 368 367 366 366 366 366 366 366 366 366 367 366 366 365 365 365 364 364 362 360 359 358 358 358 358 358 357 357 357 357" rotate="12 17 21 26 28 30 30 30 29 28 26 24 26 30 34 38 39 40 46 59 76 88 93 94 95 97 104 116 125 128 129">➛➛➛➛➛➛➛➛➛➛➛➛➛➛➛➛➛➛➛➛➛➛➛➛➛➛➛➛➛➛➛</text></g>
<path class="ct" d="M103.6 0C105 2.6 108.9 11.2 112 15.8C115.1 20.4 118.7 25.3 122.1 27.6C125.5 30 128.3 30.5 132.2 30C136.2 29.4 142.5 29.3 145.7 24.3C149 19.2 150.8 4 151.8 0"/>
<path class="ct" d="M299.2 0C299.5 6 302 25 300.9 36.1C299.8 47.1 294.1 56.9 292.4 66.4C290.8 76 288.8 85 290.8 93.4C292.7 101.8 298.6 110.5 304.3 117C309.9 123.5 317.2 128.8 324.5 132.2C331.8 135.6 337.4 137 348.1 137.2C358.8 137.5 376.2 134.6 388.6 133.9C400.9 133.1 416.7 133 422.3 132.9"/>
<path class="ct" d="M7.4 240.1C25.7 239.8 87.3 239 117.1 238.4C146.9 237.9 165.7 237 186.2 236.7C206.7 236.5 224.4 235.9 240.2 236.7C255.9 237.6 269.4 240.4 280.6 241.8C291.9 243.2 295.3 244.1 307.6 245.2C320 246.3 335.7 248.1 354.8 248.6C374 249 411.1 248 422.3 247.9"/>
<path d="M0 0H426.7V371H0zM42.7 0L44.4 9.5L46.3 19L48.2 28.5L50.2 38.1L52.3 47.6L54.5 57.1L56.7 66.6L59.1 76.1L61.5 85.6L64.1 95.1L66.7 104.6L69.5 114.2L72.4 123.7L75.4 133.2L78.5 142.7L81.8 152.2L85.2 161.7L88.7 171.2L92.4 180.7L96.2 190.3L100.2 199.8L104.3 209.3L108.7 218.8L113.2 228.3L117.9 237.8L122.8 247.3L127.9 256.8L133.2 266.4L138.7 275.9L144.4 285.4L150.4 294.9L156.7 304.4L163.2 313.9L169.9 323.4L177 332.9L184.3 342.5L192 352L200 361.5L208.2 371L218.5 371L226.7 361.5L234.7 352L242.4 342.5L249.7 332.9L256.8 323.4L263.5 313.9L270 304.4L276.3 294.9L282.3 285.4L288 275.9L293.5 266.4L298.8 256.8L303.9 247.3L308.8 237.8L313.5 228.3L318 218.8L322.4 209.3L326.5 199.8L330.5 190.3L334.3 180.7L338 171.2L341.5 161.7L344.9 152.2L348.2 142.7L351.3 133.2L354.3 123.7L357.2 114.2L360 104.6L362.6 95.1L365.2 85.6L367.6 76.1L370 66.6L372.2 57.1L374.4 47.6L376.5 38.1L378.5 28.5L380.4 19L382.3 9.5L384 0z" fill="#fff" fill-opacity="0.5" fill-rule="evenodd"/>
<path d="M42.7 0L44.4 9.5L46.3 19L48.2 28.5L50.2 38.1L52.3 47.6L54.5 57.1L56.7 66.6L59.1 76.1L61.5 85.6L64.1 95.1L66.7 104.6L69.5 114.2L72.4 123.7L75.4 133.2L78.5 142.7L81.8 152.2L85.2 161.7L88.7 171.2L92.4 180.7L96.2 190.3L100.2 199.8L104.3 209.3L108.7 218.8L113.2 228.3L117.9 237.8L122.8 247.3L127.9 256.8L133.2 266.4L138.7 275.9L144.4 285.4L150.4 294.9L156.7 304.4L163.2 313.9L169.9 323.4L177 332.9L184.3 342.5L192 352L200 361.5L208.2 371L218.5 371L226.7 361.5L234.7 352L242.4 342.5L249.7 332.9L256.8 323.4L263.5 313.9L270 304.4L276.3 294.9L282.3 285.4L288 275.9L293.5 266.4L298.8 256.8L303.9 247.3L308.8 237.8L313.5 228.3L318 218.8L322.4 209.3L326.5 199.8L330.5 190.3L334.3 180.7L338 171.2L341.5 161.7L344.9 152.2L348.2 142.7L351.3 133.2L354.3 123.7L357.2 114.2L360 104.6L362.6 95.1L365.2 85.6L367.6 76.1L370 66.6L372.2 57.1L374.4 47.6L376.5 38.1L378.5 28.5L380.4 19L382.3 9.5L384 0" fill="none" stroke="#000" stroke-width="1"/>
</g>
<path d="M6.3 371v-4M69 371v-4M131.8 371v-4M194.5 371v-4M257.3 371v-4M320 371v-4M382.8 371v-4M0 142.3h4M426.7 142.3h-4M0 289.6h4M426.7 289.6h-4" stroke="#333" fill="none" stroke-width="1"/>
<rect x="0" y="0" width="426.7" height="371" fill="none" stroke="#333" stroke-width="1.2"/>
</g>
<rect x="1549.4" y="1356.4" width="23.2" height="371" fill="url(#cb)" stroke="#333" stroke-width="1"/>
<path d="M1572.6 1393.5h-3M1572.6 1430.6h-3M1572.6 1467.7h-3M1572.6 1504.8h-3M1572.6 1541.9h-3M1572.6 1579h-3M1572.6 1616.1h-3M1572.6 1653.2h-3M1572.6 1690.3h-3" stroke="#333" fill="none"/>
<g class="cl"><text x="1579.1" y="1360.9">1</text><text x="1579.1" y="1398">0.9</text><text x="1579.1" y="1435.1">0.8</text><text x="1579.1" y="1472.2">0.7</text><text x="1579.1" y="1509.3">0.6</text><text x="1579.1" y="1546.4">0.5</text><text x="1579.1" y="1583.5">0.4</text><text x="1579.1" y="1620.6">0.3</text><text x="1579.1" y="1657.7">0.2</text><text x="1579.1" y="1694.8">0.1</text><text x="1579.1" y="1731.9">0</text></g>
<g class="xl"><text x="1117.2" y="1747.3">1985</text><text x="1179.9" y="1747.3">1990</text><text x="1242.7" y="1747.3">1995</text><text x="1305.4" y="1747.3">2000</text><text x="1368.2" y="1747.3">2005</text><text x="1430.9" y="1747.3">2010</text><text x="1493.7" y="1747.3">2015</text></g>
<g class="yl" text-anchor="end"><text x="1103.9" y="1503.2">4</text><text x="1103.9" y="1650.5">8</text></g>
<text class="ti" x="1324.1" y="1347.9">WTC: SPEI-PRCPTOT</text>
<text class="xa" font-size="17.1" x="1325" y="1768.3">Year</text>
<text class="ya" font-size="17.1" transform="translate(1087.5,1540.9) rotate(-90)">Cycles per year</text>
</svg>
</body></html>
